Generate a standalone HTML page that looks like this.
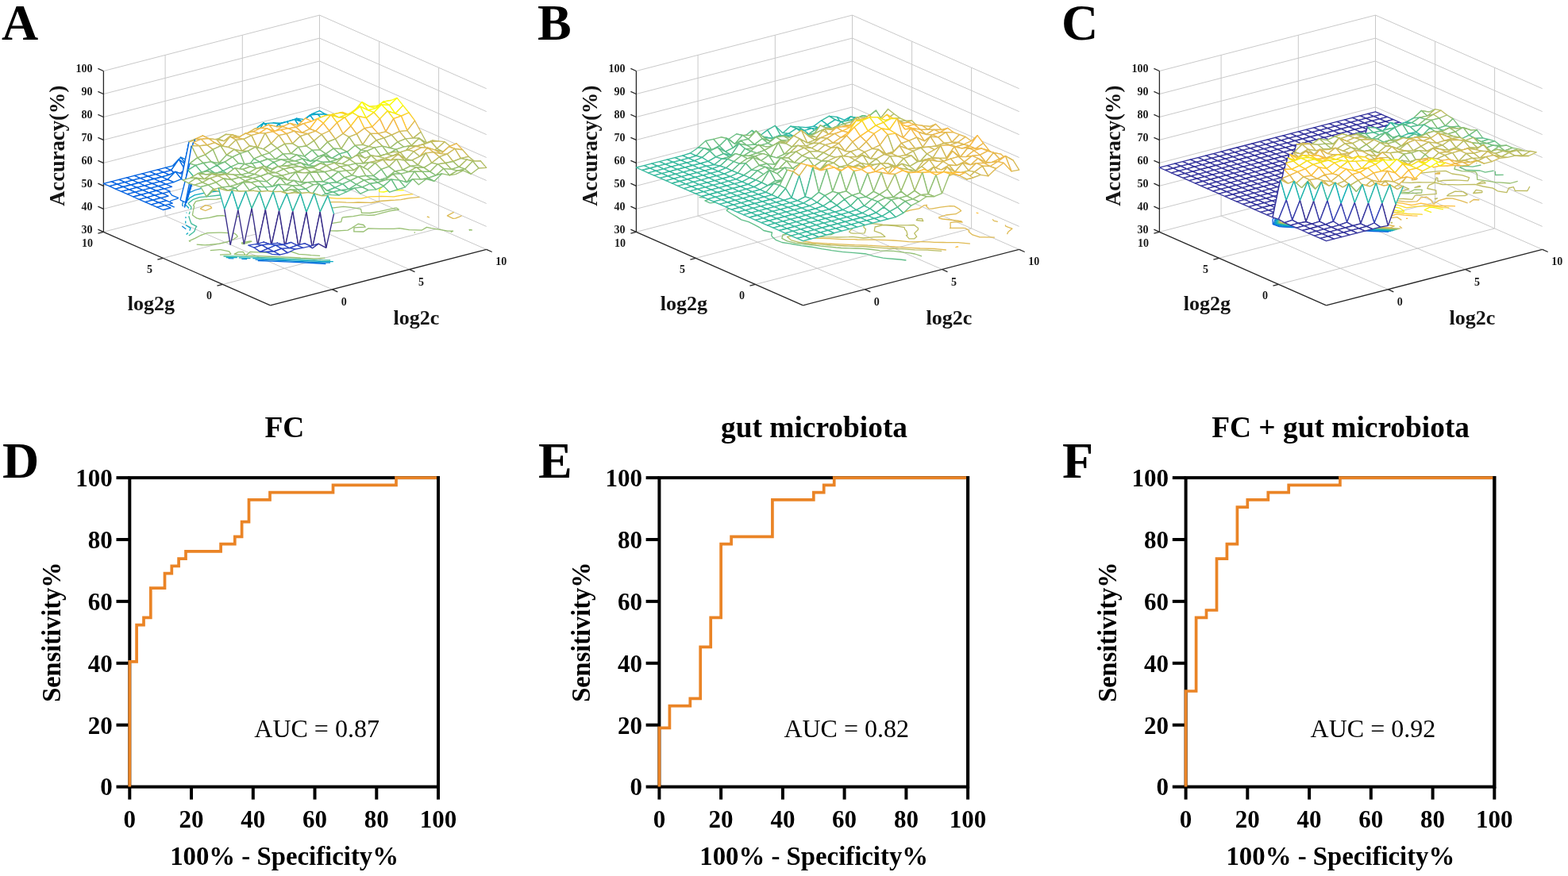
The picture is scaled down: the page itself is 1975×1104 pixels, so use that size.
<!DOCTYPE html>
<html><head><meta charset="utf-8"><title>Figure</title>
<style>
html,body{margin:0;padding:0;background:#fff;}
body{width:1975px;height:1104px;overflow:hidden;}
svg{display:block;}
text{font-family:'Liberation Serif','Times New Roman',serif;}
.rt{font-size:31px;font-weight:bold;}
.rl{font-size:31.5px;font-weight:bold;}
.xl{font-size:32.8px;}
.yl{font-size:32.4px;}
.ttl{font-size:37.4px;font-weight:bold;}
.auc{font-size:32px;}
.let{font-size:64px;font-weight:bold;}
.t3{font-size:14px;font-weight:bold;fill:#1a1a1a;}
.l3{font-size:26px;font-weight:bold;fill:#141414;}
.acc{font-size:26.6px;}
</style></head>
<body>
<svg width="1975" height="1104" viewBox="0 0 1975 1104">
<rect width="1975" height="1104" fill="#fff"/>
<line x1="130.4" y1="292.3" x2="402.5" y2="221.8" stroke="#c9c9c9" stroke-width="1"/>
<line x1="402.5" y1="221.8" x2="612.7" y2="314.4" stroke="#c9c9c9" stroke-width="1"/>
<line x1="130.4" y1="263.3" x2="402.5" y2="192.9" stroke="#c9c9c9" stroke-width="1"/>
<line x1="402.5" y1="192.9" x2="612.7" y2="285.4" stroke="#c9c9c9" stroke-width="1"/>
<line x1="130.4" y1="234.3" x2="402.5" y2="163.9" stroke="#c9c9c9" stroke-width="1"/>
<line x1="402.5" y1="163.9" x2="612.7" y2="256.5" stroke="#c9c9c9" stroke-width="1"/>
<line x1="130.4" y1="205.4" x2="402.5" y2="135.0" stroke="#c9c9c9" stroke-width="1"/>
<line x1="402.5" y1="135.0" x2="612.7" y2="227.5" stroke="#c9c9c9" stroke-width="1"/>
<line x1="130.4" y1="176.4" x2="402.5" y2="106.0" stroke="#c9c9c9" stroke-width="1"/>
<line x1="402.5" y1="106.0" x2="612.7" y2="198.5" stroke="#c9c9c9" stroke-width="1"/>
<line x1="130.4" y1="147.5" x2="402.5" y2="77.0" stroke="#c9c9c9" stroke-width="1"/>
<line x1="402.5" y1="77.0" x2="612.7" y2="169.6" stroke="#c9c9c9" stroke-width="1"/>
<line x1="130.4" y1="118.5" x2="402.5" y2="48.1" stroke="#c9c9c9" stroke-width="1"/>
<line x1="402.5" y1="48.1" x2="612.7" y2="140.6" stroke="#c9c9c9" stroke-width="1"/>
<line x1="130.4" y1="89.5" x2="402.5" y2="19.1" stroke="#c9c9c9" stroke-width="1"/>
<line x1="402.5" y1="19.1" x2="612.7" y2="111.7" stroke="#c9c9c9" stroke-width="1"/>
<line x1="208.1" y1="272.1" x2="208.1" y2="69.4" stroke="#c9c9c9" stroke-width="1"/>
<line x1="305.3" y1="247.0" x2="305.3" y2="44.3" stroke="#c9c9c9" stroke-width="1"/>
<line x1="402.5" y1="221.8" x2="402.5" y2="19.1" stroke="#c9c9c9" stroke-width="1"/>
<line x1="552.6" y1="287.9" x2="552.6" y2="85.2" stroke="#c9c9c9" stroke-width="1"/>
<line x1="477.6" y1="254.9" x2="477.6" y2="52.2" stroke="#c9c9c9" stroke-width="1"/>
<line x1="418.3" y1="364.7" x2="208.1" y2="272.1" stroke="#c9c9c9" stroke-width="1"/>
<line x1="515.5" y1="339.5" x2="305.3" y2="247.0" stroke="#c9c9c9" stroke-width="1"/>
<line x1="280.5" y1="358.4" x2="552.6" y2="287.9" stroke="#c9c9c9" stroke-width="1"/>
<line x1="205.4" y1="325.3" x2="477.6" y2="254.9" stroke="#c9c9c9" stroke-width="1"/>
<g fill="none" stroke-width="1.3" stroke-linejoin="round"><polyline points="324.7,328.5 341.7,329.2 342.1,329.2 358.7,329.9 359.5,329.9 376.0,330.7 376.7,330.7 393.3,331.5 393.9,331.5 410.4,332.5" stroke="#0268e1"/><polyline points="213.3,241.8 216.6,246.2 224.5,249.4 223.9,250.1 215.1,253.0 212.6,257.8 219.7,261.2" stroke="#0268e1"/><polyline points="321.5,327.1 328.9,327.4 338.4,327.8 346.4,328.1 355.5,328.5 363.7,328.8 372.7,329.3 380.9,329.6 390.0,330.1 398.0,330.5 407.5,331.0 416.0,331.0" stroke="#1389d3"/><polyline points="304.3,326.3 311.2,326.7" stroke="#1389d3"/><polyline points="287.5,325.7 294.4,325.8" stroke="#1389d3"/><polyline points="229.3,284.9 234.3,288.7" stroke="#1389d3"/><polyline points="306.3,217.8 313.8,221.1 321.1,224.4 323.2,225.9 312.8,228.1 305.5,228.5 299.9,229.2 298.3,230.3 292.2,232.6 282.1,235.0 276.8,235.9 269.9,236.4 255.4,236.8 246.0,239.5 238.3,242.9 236.2,246.4 234.2,247.9 230.9,253.0 230.8,253.2 229.6,258.6 230.9,260.0" stroke="#1389d3"/><polyline points="318.3,325.7 333.2,326.2 335.2,326.3 350.6,327.0 352.3,327.0 367.9,327.8 369.5,327.8 385.1,328.6 386.8,328.6 402.2,329.4 404.1,329.5 419.8,329.6" stroke="#07a9c3"/><polyline points="300.8,324.8 315.5,325.6" stroke="#07a9c3"/><polyline points="284.7,324.5 298.8,324.6" stroke="#07a9c3"/><polyline points="236.9,293.5 234.6,295.6" stroke="#07a9c3"/><polyline points="234.1,283.7 240.0,287.4 238.8,290.7" stroke="#07a9c3"/><polyline points="233.7,278.5 233.8,281.6" stroke="#07a9c3"/><polyline points="233.7,273.3 234.2,275.0" stroke="#07a9c3"/><polyline points="235.0,267.7 234.8,268.5" stroke="#07a9c3"/><polyline points="455.0,216.0 440.6,216.4 428.9,218.1 418.7,220.2 418.2,220.2 403.9,220.7 393.8,221.4 387.9,220.4 389.1,222.6 383.6,225.3 373.0,227.5 369.0,227.8 358.3,225.3 352.1,225.0 351.4,227.1 347.3,229.7 340.9,233.7 329.2,235.3 316.5,236.5 313.9,236.8 303.3,237.5 289.9,238.4 283.5,239.4 278.7,240.3 266.9,241.9 255.5,243.6 245.1,245.9 238.5,249.8 237.6,251.3 234.1,254.6 233.4,257.6 237.4,261.8 237.2,262.8" stroke="#07a9c3"/><polyline points="421.4,208.0 408.2,209.0 406.1,212.9 418.5,215.0 422.2,215.2 423.2,213.8 425.1,209.6 423.9,208.3 421.4,208.0" stroke="#07a9c3"/><polyline points="417.9,199.7 419.8,204.1 427.9,204.1" stroke="#07a9c3"/><polyline points="326.5,213.8 329.3,217.1 337.5,218.6 337.4,215.0 326.5,213.8" stroke="#07a9c3"/><polyline points="331.9,211.2 335.3,210.9 337.4,209.7" stroke="#07a9c3"/><polyline points="281.5,323.0 284.9,323.0 296.6,322.9 304.1,323.3 314.2,323.9 320.8,324.2 331.2,324.6 338.4,324.9 348.4,325.3 355.9,325.6 365.5,326.1 373.0,326.4 382.8,326.9 390.2,327.2 400.1,327.7 407.8,327.9 416.1,328.0" stroke="#3eba9a"/><polyline points="237.7,272.3 239.2,277.1 239.2,277.3 241.0,281.9 247.7,285.4 246.4,287.2 245.0,291.3 243.6,292.8 237.9,297.1" stroke="#3eba9a"/><polyline points="466.1,220.9 452.8,221.8 452.8,221.8 439.8,222.9 430.0,225.3 416.8,226.4 414.8,226.4 401.3,226.3 392.7,229.3 381.6,231.2 373.0,232.0 368.5,232.3 357.7,234.3 347.8,236.8 336.2,238.4 323.6,239.7 322.4,239.8 311.4,241.1 299.7,242.7 288.6,244.7 279.9,245.6 276.1,246.0 264.1,247.4 251.2,248.6 242.8,251.7 237.4,256.1 237.3,256.6 241.0,260.9 240.3,264.1" stroke="#3eba9a"/><polyline points="239.2,266.6 238.2,270.0" stroke="#3eba9a"/><polyline points="243.4,265.5 242.4,271.0 245.0,273.0 247.7,274.9 251.7,276.0 263.5,274.4 273.6,272.0 280.6,271.6 291.3,274.1 293.9,274.2 304.4,272.0 317.1,270.8 327.9,269.9 330.8,270.0 341.0,267.7 355.3,267.2 365.1,265.5 366.5,265.4 379.1,264.1 391.9,262.9 398.7,262.1 404.2,261.6 420.1,261.8 420.1,261.8 432.3,260.4 442.3,261.3 454.5,263.4 455.6,268.3 466.1,268.5 477.6,266.7 487.5,264.3 497.9,262.1 499.8,262.2 502.3,264.0 491.1,265.9 481.3,268.3 472.0,271.0 464.3,271.3 455.5,270.6 444.9,272.7 435.7,273.5 432.0,273.8 430.9,274.7 429.7,279.6 418.4,281.4 404.5,282.1 401.0,287.4 386.8,287.9 374.9,289.5 370.5,290.4 373.9,289.0 371.6,284.8 363.9,284.6 350.1,285.3 348.3,290.9 363.7,292.1 367.9,296.3 374.8,296.2 386.0,296.9 391.9,296.9 400.3,293.8 407.5,291.3 403.8,288.6 410.3,290.6 424.7,291.0 430.1,290.7 438.1,290.1 443.3,287.3 444.7,286.2 451.0,282.2 457.9,283.5 460.1,286.2 446.0,286.8 445.8,291.9 457.9,292.0 463.9,287.9 479.8,288.3 480.4,288.3 495.9,288.4 502.9,287.6 513.4,289.3 515.4,289.6 531.0,290.2 537.6,286.4 543.3,287.6 555.4,289.7 564.2,291.2 570.6,291.1 567.7,292.8" stroke="#97bf71"/><polyline points="591.8,290.8 591.1,289.5 594.8,290.0" stroke="#97bf71"/><polyline points="403.1,322.3 391.9,321.6 384.5,320.8 376.4,320.3 367.6,317.3 360.9,317.3 349.5,319.0 341.7,318.8 332.2,318.2 325.1,317.8 314.9,317.4 310.0,321.8 326.7,322.7 327.0,322.7 343.8,323.5 344.3,323.5 361.0,324.1 361.8,324.1 378.4,325.0 378.6,325.1 395.7,325.8 395.8,325.8 409.5,325.1" stroke="#97bf71"/><polyline points="521.7,292.9 522.1,293.1 522.1,293.1 522.5,293.0 521.7,292.9" stroke="#97bf71"/><polyline points="300.0,317.6 295.1,320.4 309.1,321.6 306.3,317.5 300.0,317.6" stroke="#97bf71"/><polyline points="277.0,321.1 290.9,320.4 288.6,316.8 277.9,314.7 276.8,314.6 264.8,315.7" stroke="#97bf71"/><polyline points="315.3,303.9 304.5,306.0 304.9,307.3 307.5,307.3 316.5,304.5 316.9,304.2 315.3,303.9" stroke="#97bf71"/><polyline points="321.3,286.2 320.7,287.5 321.6,292.5 329.3,295.8 345.4,296.9 345.5,296.9 345.5,296.8 347.1,291.2 339.0,288.0 325.3,286.3 321.3,286.2" stroke="#97bf71"/><polyline points="247.7,308.2 258.2,308.9 263.8,308.5 276.4,307.2 286.6,304.9 294.2,301.5 299.2,298.3 298.3,296.5 295.3,294.1 292.4,293.9 278.8,293.1 275.5,293.2 261.1,293.7 252.5,296.7 245.6,300.4 238.3,303.6 239.7,304.7" stroke="#97bf71"/><polyline points="472.7,223.8 460.4,225.1 460.3,225.1 447.7,226.4 436.9,228.4 424.3,229.6 421.2,230.0 411.0,230.6 400.4,232.7 388.4,234.2 382.0,234.9 376.0,235.6 365.6,237.8 354.1,239.5 342.4,241.2 335.2,241.8 329.6,242.3 317.8,243.9 307.6,246.2 297.2,248.4 288.6,248.6 283.0,249.0 272.7,251.2 257.6,251.4 257.6,251.4 247.2,253.6 246.2,254.3 243.5,258.8 244.6,260.0 243.4,265.5" stroke="#97bf71"/><polyline points="571.7,267.4 564.7,271.1 563.4,271.9 570.6,275.3 573.7,275.1 578.9,273.2 581.5,271.7" stroke="#dcba54"/><polyline points="538.1,273.0 538.2,273.2 540.5,274.0 538.8,273.1 538.1,273.0" stroke="#dcba54"/><polyline points="478.1,226.1 476.4,226.2 465.3,227.3 453.5,228.9 442.7,231.0 435.5,231.6 429.8,232.1 418.4,233.8 407.4,235.8 396.3,237.7 389.5,238.2 383.4,238.8 374.4,241.6 362.3,243.1 350.6,244.8 343.6,244.8 337.2,245.7 325.9,247.5 317.7,250.7 309.0,253.6 306.8,254.4 312.7,258.1 317.4,257.3 331.1,258.6 337.3,259.3 347.1,259.7 353.6,259.7 364.3,257.6 377.2,256.5 381.9,255.9 389.1,254.9 404.1,255.4 405.7,255.4 419.5,254.7 427.3,254.7 436.0,255.2 445.2,255.3 451.0,255.0 465.6,255.3 467.6,255.5 478.5,253.5 491.6,252.5 497.8,252.2 504.9,251.6 515.8,249.6 528.7,248.4" stroke="#dcba54"/><polyline points="258.6,258.6 252.5,262.7 252.6,263.2 258.8,265.5 266.6,262.1 265.2,259.9 258.6,258.6" stroke="#dcba54"/><polyline points="484.9,229.1 472.1,230.3 459.5,231.5 449.3,233.3 448.3,233.4 447.0,233.8 439.6,236.4 434.5,237.1 427.8,238.0 416.9,240.0 406.7,242.3 400.6,245.8 408.9,248.9 424.5,250.1 424.5,250.1 439.6,250.0 444.4,250.2 455.3,250.1 465.7,247.9 474.8,247.6 480.1,247.4 494.6,247.8 496.3,247.8 507.5,245.9 520.2,244.7" stroke="#fbcf2d"/><polyline points="492.1,232.3 482.5,234.9 481.2,235.5 477.5,239.5 477.9,241.6 483.1,242.0 493.2,239.6 505.2,239.8 508.8,239.7" stroke="#f9fb0e"/></g>
<line x1="130.4" y1="292.3" x2="130.4" y2="89.5" stroke="#262626" stroke-width="1.3"/>
<line x1="130.4" y1="292.3" x2="340.5" y2="384.8" stroke="#262626" stroke-width="1.3"/>
<line x1="340.5" y1="384.8" x2="612.7" y2="314.4" stroke="#262626" stroke-width="1.3"/>
<line x1="130.4" y1="292.3" x2="123.4" y2="289.2" stroke="#262626" stroke-width="1.3"/>
<text x="116.4" y="294.1" text-anchor="end" class="t3">30</text>
<line x1="130.4" y1="263.3" x2="123.4" y2="260.2" stroke="#262626" stroke-width="1.3"/>
<text x="116.4" y="265.1" text-anchor="end" class="t3">40</text>
<line x1="130.4" y1="234.3" x2="123.4" y2="231.2" stroke="#262626" stroke-width="1.3"/>
<text x="116.4" y="236.1" text-anchor="end" class="t3">50</text>
<line x1="130.4" y1="205.4" x2="123.4" y2="202.3" stroke="#262626" stroke-width="1.3"/>
<text x="116.4" y="207.2" text-anchor="end" class="t3">60</text>
<line x1="130.4" y1="176.4" x2="123.4" y2="173.3" stroke="#262626" stroke-width="1.3"/>
<text x="116.4" y="178.2" text-anchor="end" class="t3">70</text>
<line x1="130.4" y1="147.5" x2="123.4" y2="144.4" stroke="#262626" stroke-width="1.3"/>
<text x="116.4" y="149.3" text-anchor="end" class="t3">80</text>
<line x1="130.4" y1="118.5" x2="123.4" y2="115.4" stroke="#262626" stroke-width="1.3"/>
<text x="116.4" y="120.3" text-anchor="end" class="t3">90</text>
<line x1="130.4" y1="89.5" x2="123.4" y2="86.4" stroke="#262626" stroke-width="1.3"/>
<text x="116.4" y="91.3" text-anchor="end" class="t3">100</text>
<line x1="280.5" y1="358.4" x2="273.5" y2="360.2" stroke="#262626" stroke-width="1.3"/>
<text x="267.0" y="376.8" text-anchor="end" class="t3">0</text>
<line x1="205.4" y1="325.3" x2="198.4" y2="327.1" stroke="#262626" stroke-width="1.3"/>
<text x="191.9" y="343.7" text-anchor="end" class="t3">5</text>
<line x1="130.4" y1="292.3" x2="123.4" y2="294.1" stroke="#262626" stroke-width="1.3"/>
<text x="116.9" y="310.7" text-anchor="end" class="t3">10</text>
<line x1="418.3" y1="364.7" x2="425.3" y2="367.8" stroke="#262626" stroke-width="1.3"/>
<text x="429.8" y="384.7" class="t3">0</text>
<line x1="515.5" y1="339.5" x2="522.5" y2="342.6" stroke="#262626" stroke-width="1.3"/>
<text x="527.0" y="359.5" class="t3">5</text>
<line x1="612.7" y1="314.4" x2="619.7" y2="317.5" stroke="#262626" stroke-width="1.3"/>
<text x="624.2" y="334.4" class="t3">10</text>
<text x="190.3" y="390.8" text-anchor="middle" class="l3">log2g</text>
<text x="524.5" y="408.9" text-anchor="middle" class="l3">log2c</text>
<text transform="translate(80.5,183.8) rotate(-90)" text-anchor="middle" class="l3 acc">Accuracy(%)</text>
<text x="2.0" y="49.5" class="let">A</text>
<g fill="#fff" stroke-width="1.35" stroke-linejoin="round"><polygon points="400.3,144.2 410.0,144.0 402.5,139.6 392.8,143.6" stroke="#06a7c5"/><polygon points="390.6,145.1 400.3,144.2 392.8,143.6 383.1,150.7" stroke="#06a6c7"/><polygon points="407.8,152.3 417.5,145.8 410.0,144.0 400.3,144.2" stroke="#06a6c6"/><polygon points="380.9,153.7 390.6,145.1 383.1,150.7 373.4,149.1" stroke="#06a3ca"/><polygon points="398.1,155.8 407.8,152.3 400.3,144.2 390.6,145.1" stroke="#06a6c7"/><polygon points="415.3,154.4 425.0,145.1 417.5,145.8 407.8,152.3" stroke="#06a7c5"/><polygon points="371.1,150.5 380.9,153.7 373.4,149.1 363.6,156.4" stroke="#06a3cb"/><polygon points="388.4,156.4 398.1,155.8 390.6,145.1 380.9,153.7" stroke="#06a4ca"/><polygon points="405.6,153.9 415.3,154.4 407.8,152.3 398.1,155.8" stroke="#06a2cb"/><polygon points="361.4,153.4 371.1,150.5 363.6,156.4 353.9,155.2" stroke="#06a5c8"/><polygon points="422.8,154.0 432.5,156.9 425.0,145.1 415.3,154.4" stroke="#06a8c4"/><polygon points="378.6,161.7 388.4,156.4 380.9,153.7 371.1,150.5" stroke="#06a3ca"/><polygon points="395.9,160.9 405.6,153.9 398.1,155.8 388.4,156.4" stroke="#06a2cb"/><polygon points="413.1,153.7 422.8,154.0 415.3,154.4 405.6,153.9" stroke="#08aac1"/><polygon points="351.7,156.3 361.4,153.4 353.9,155.2 344.2,154.9" stroke="#06a8c3"/><polygon points="430.3,157.3 440.0,157.8 432.5,156.9 422.8,154.0" stroke="#06a6c6"/><polygon points="368.9,162.8 378.6,161.7 371.1,150.5 361.4,153.4" stroke="#06a5c8"/><polygon points="386.2,161.5 395.9,160.9 388.4,156.4 378.6,161.7" stroke="#06a0cd"/><polygon points="403.4,160.7 413.1,153.7 405.6,153.9 395.9,160.9" stroke="#06a8c4"/><polygon points="342.0,164.8 351.7,156.3 344.2,154.9 334.5,155.6" stroke="#06a7c5"/><polygon points="359.2,170.8 368.9,162.8 361.4,153.4 351.7,156.3" stroke="#06a2cb"/><polygon points="420.6,160.3 430.3,157.3 422.8,154.0 413.1,153.7" stroke="#0aacbe"/><polygon points="437.8,169.3 447.6,163.0 440.0,157.8 430.3,157.3" stroke="#06a1cc"/><polygon points="376.4,161.3 386.2,161.5 378.6,161.7 368.9,162.8" stroke="#06a2cc"/><polygon points="393.7,163.2 403.4,160.7 395.9,160.9 386.2,161.5" stroke="#06a4c9"/><polygon points="332.3,154.9 342.0,164.8 334.5,155.6 324.8,160.3" stroke="#08abc0"/><polygon points="349.5,168.5 359.2,170.8 351.7,156.3 342.0,164.8" stroke="#079dcf"/><polygon points="410.9,163.5 420.6,160.3 413.1,153.7 403.4,160.7" stroke="#08abc0"/><polygon points="366.7,169.0 376.4,161.3 368.9,162.8 359.2,170.8" stroke="#079dcf"/><polygon points="428.1,166.9 437.8,169.3 430.3,157.3 420.6,160.3" stroke="#06a4ca"/><polygon points="445.3,156.5 455.1,164.3 447.6,163.0 437.8,169.3" stroke="#06a6c7"/><polygon points="383.9,164.6 393.7,163.2 386.2,161.5 376.4,161.3" stroke="#06a8c4"/><polygon points="322.5,169.4 332.3,154.9 324.8,160.3 315.0,168.4" stroke="#06a7c6"/><polygon points="401.2,172.5 410.9,163.5 403.4,160.7 393.7,163.2" stroke="#06a4c9"/><polygon points="339.8,165.9 349.5,168.5 342.0,164.8 332.3,154.9" stroke="#06a8c4"/><polygon points="357.0,168.0 366.7,169.0 359.2,170.8 349.5,168.5" stroke="#079bd0"/><polygon points="418.4,168.5 428.1,166.9 420.6,160.3 410.9,163.5" stroke="#06a7c6"/><polygon points="312.8,180.4 322.5,169.4 315.0,168.4 305.3,175.5" stroke="#108ed2"/><polygon points="374.2,173.0 383.9,164.6 376.4,161.3 366.7,169.0" stroke="#06a4ca"/><polygon points="435.6,158.3 445.3,156.5 437.8,169.3 428.1,166.9" stroke="#0bacbd"/><polygon points="391.4,166.7 401.2,172.5 393.7,163.2 383.9,164.6" stroke="#06a6c7"/><polygon points="330.1,173.9 339.8,165.9 332.3,154.9 322.5,169.4" stroke="#06a8c4"/><polygon points="303.1,181.3 312.8,180.4 305.3,175.5 295.6,180.0" stroke="#1483d5"/><polygon points="452.8,158.9 462.6,161.7 455.1,164.3 445.3,156.5" stroke="#1ab2b1"/><polygon points="408.7,164.7 418.4,168.5 410.9,163.5 401.2,172.5" stroke="#06a7c6"/><polygon points="347.3,170.4 357.0,168.0 349.5,168.5 339.8,165.9" stroke="#06a5c8"/><polygon points="364.5,170.9 374.2,173.0 366.7,169.0 357.0,168.0" stroke="#06a2cc"/><polygon points="320.3,183.0 330.1,173.9 322.5,169.4 312.8,180.4" stroke="#108fd2"/><polygon points="425.9,167.2 435.6,158.3 428.1,166.9 418.4,168.5" stroke="#0bacbd"/><polygon points="381.7,176.5 391.4,166.7 383.9,164.6 374.2,173.0" stroke="#06a4ca"/><polygon points="293.4,184.5 303.1,181.3 295.6,180.0 285.9,185.1" stroke="#1480d6"/><polygon points="337.6,179.4 347.3,170.4 339.8,165.9 330.1,173.9" stroke="#06a1cd"/><polygon points="398.9,162.4 408.7,164.7 401.2,172.5 391.4,166.7" stroke="#0cadbb"/><polygon points="443.1,159.6 452.8,158.9 445.3,156.5 435.6,158.3" stroke="#39b99d"/><polygon points="310.6,184.1 320.3,183.0 312.8,180.4 303.1,181.3" stroke="#1484d4"/><polygon points="354.8,169.8 364.5,170.9 357.0,168.0 347.3,170.4" stroke="#07a9c3"/><polygon points="416.2,165.3 425.9,167.2 418.4,168.5 408.7,164.7" stroke="#10afb8"/><polygon points="372.0,176.7 381.7,176.5 374.2,173.0 364.5,170.9" stroke="#06a0cd"/><polygon points="460.3,153.0 470.1,156.2 462.6,161.7 452.8,158.9" stroke="#47bb95"/><polygon points="327.8,185.1 337.6,179.4 330.1,173.9 320.3,183.0" stroke="#118dd2"/><polygon points="283.7,191.3 293.4,184.5 285.9,185.1 276.2,182.1" stroke="#137ed7"/><polygon points="433.4,160.4 443.1,159.6 435.6,158.3 425.9,167.2" stroke="#35b89f"/><polygon points="389.2,167.4 398.9,162.4 391.4,166.7 381.7,176.5" stroke="#10afb8"/><polygon points="300.9,184.6 310.6,184.1 303.1,181.3 293.4,184.5" stroke="#1387d3"/><polygon points="345.1,175.5 354.8,169.8 347.3,170.4 337.6,179.4" stroke="#06a5c8"/><polygon points="318.1,186.7 327.8,185.1 320.3,183.0 310.6,184.1" stroke="#1486d3"/><polygon points="362.3,175.8 372.0,176.7 364.5,170.9 354.8,169.8" stroke="#06a8c4"/><polygon points="450.6,148.5 460.3,153.0 452.8,158.9 443.1,159.6" stroke="#74bf7f"/><polygon points="273.9,191.1 283.7,191.3 276.2,182.1 266.4,182.9" stroke="#1483d5"/><polygon points="406.5,156.6 416.2,165.3 408.7,164.7 398.9,162.4" stroke="#3cba9b"/><polygon points="335.3,185.6 345.1,175.5 337.6,179.4 327.8,185.1" stroke="#0a96d1"/><polygon points="379.5,172.2 389.2,167.4 381.7,176.5 372.0,176.7" stroke="#08aac1"/><polygon points="291.2,190.2 300.9,184.6 293.4,184.5 283.7,191.3" stroke="#1482d5"/><polygon points="423.7,157.8 433.4,160.4 425.9,167.2 416.2,165.3" stroke="#3fba9a"/><polygon points="467.9,135.9 477.6,143.0 470.1,156.2 460.3,153.0" stroke="none"/><path d="M467.9 135.9L477.6 143.0" stroke="#d5ba57"/><path d="M477.6 143.0L470.1 156.2" stroke="#55bd8d"/><path d="M470.1 156.2L460.3 153.0" stroke="#55bd8d"/><path d="M460.3 153.0L467.9 135.9" stroke="#89bf76"/><polygon points="308.4,189.3 318.1,186.7 310.6,184.1 300.9,184.6" stroke="#128ad3"/><polygon points="352.6,175.2 362.3,175.8 354.8,169.8 345.1,175.5" stroke="#0aacbe"/><polygon points="264.2,195.1 273.9,191.1 266.4,182.9 256.7,189.6" stroke="#1482d5"/><polygon points="396.7,166.8 406.5,156.6 398.9,162.4 389.2,167.4" stroke="#48bb94"/><polygon points="440.9,152.0 450.6,148.5 443.1,159.6 433.4,160.4" stroke="#89bf76"/><polygon points="325.6,186.4 335.3,185.6 327.8,185.1 318.1,186.7" stroke="#108ed2"/><polygon points="281.5,195.1 291.2,190.2 283.7,191.3 273.9,191.1" stroke="#137dd8"/><polygon points="369.8,165.7 379.5,172.2 372.0,176.7 362.3,175.8" stroke="#13b0b6"/><polygon points="414.0,156.3 423.7,157.8 416.2,165.3 406.5,156.6" stroke="#77bf7e"/><polygon points="298.7,187.9 308.4,189.3 300.9,184.6 291.2,190.2" stroke="#118dd2"/><polygon points="342.8,181.4 352.6,175.2 345.1,175.5 335.3,185.6" stroke="#06a6c7"/><polygon points="254.5,193.0 264.2,195.1 256.7,189.6 247.0,195.6" stroke="#137ed7"/><polygon points="458.1,136.1 467.9,135.9 460.3,153.0 450.6,148.5" stroke="none"/><path d="M458.1 136.1L467.9 135.9" stroke="#fec832"/><path d="M467.9 135.9L460.3 153.0" stroke="#89bf76"/><path d="M460.3 153.0L450.6 148.5" stroke="#89bf76"/><path d="M450.6 148.5L458.1 136.1" stroke="#bdbd61"/><polygon points="387.0,159.8 396.7,166.8 389.2,167.4 379.5,172.2" stroke="#42bb98"/><polygon points="315.9,183.9 325.6,186.4 318.1,186.7 308.4,189.3" stroke="#0b96d1"/><polygon points="271.7,195.6 281.5,195.1 273.9,191.1 264.2,195.1" stroke="#137ed7"/><polygon points="431.2,141.5 440.9,152.0 433.4,160.4 423.7,157.8" stroke="none"/><path d="M431.2 141.5L440.9 152.0" stroke="#b6bd64"/><path d="M440.9 152.0L433.4 160.4" stroke="#56bd8d"/><path d="M433.4 160.4L423.7 157.8" stroke="#56bd8d"/><path d="M423.7 157.8L431.2 141.5" stroke="#85bf78"/><polygon points="360.1,168.1 369.8,165.7 362.3,175.8 352.6,175.2" stroke="#2bb6a6"/><polygon points="475.4,133.5 485.1,136.1 477.6,143.0 467.9,135.9" stroke="#fec535"/><polygon points="333.1,178.8 342.8,181.4 335.3,185.6 325.6,186.4" stroke="#06a3ca"/><polygon points="404.2,153.5 414.0,156.3 406.5,156.6 396.7,166.8" stroke="#92bf73"/><polygon points="289.0,182.5 298.7,187.9 291.2,190.2 281.5,195.1" stroke="#0c93d2"/><polygon points="244.8,195.1 254.5,193.0 247.0,195.6 237.3,202.3" stroke="#127cd8"/><polygon points="448.4,137.5 458.1,136.1 450.6,148.5 440.9,152.0" stroke="none"/><path d="M448.4 137.5L458.1 136.1" stroke="#fad22a"/><path d="M458.1 136.1L450.6 148.5" stroke="#bdbd61"/><path d="M450.6 148.5L440.9 152.0" stroke="#b6bd64"/><path d="M440.9 152.0L448.4 137.5" stroke="#b6bd64"/><polygon points="377.3,160.8 387.0,159.8 379.5,172.2 369.8,165.7" stroke="#6abe83"/><polygon points="306.2,182.0 315.9,183.9 308.4,189.3 298.7,187.9" stroke="#06a1cd"/><polygon points="262.0,190.2 271.7,195.6 264.2,195.1 254.5,193.0" stroke="#1388d3"/><polygon points="350.4,170.8 360.1,168.1 352.6,175.2 342.8,181.4" stroke="#2ab6a6"/><polygon points="421.5,145.3 431.2,141.5 423.7,157.8 414.0,156.3" stroke="none"/><path d="M421.5 145.3L431.2 141.5" stroke="#fdbe3d"/><path d="M431.2 141.5L423.7 157.8" stroke="#85bf78"/><path d="M423.7 157.8L414.0 156.3" stroke="#85bf78"/><path d="M414.0 156.3L421.5 145.3" stroke="#a4be6b"/><polygon points="235.1,208.2 244.8,195.1 237.3,202.3 227.6,198.1" stroke="#0e76dc"/><polygon points="394.5,156.4 404.2,153.5 396.7,166.8 387.0,159.8" stroke="#9fbe6d"/><polygon points="465.6,134.4 475.4,133.5 467.9,135.9 458.1,136.1" stroke="#f7d826"/><polygon points="279.2,185.0 289.0,182.5 281.5,195.1 271.7,195.6" stroke="#089ad0"/><polygon points="323.4,176.3 333.1,178.8 325.6,186.4 315.9,183.9" stroke="#0aacbd"/><polygon points="438.7,144.5 448.4,137.5 440.9,152.0 431.2,141.5" stroke="none"/><path d="M438.7 144.5L448.4 137.5" stroke="#ffc436"/><path d="M448.4 137.5L440.9 152.0" stroke="#b6bd64"/><path d="M440.9 152.0L431.2 141.5" stroke="#b6bd64"/><path d="M431.2 141.5L438.7 144.5" stroke="#ffc337"/><polygon points="367.6,163.5 377.3,160.8 369.8,165.7 360.1,168.1" stroke="#81bf79"/><polygon points="482.9,128.2 492.6,126.5 485.1,136.1 475.4,133.5" stroke="#f6f015"/><polygon points="252.3,193.1 262.0,190.2 254.5,193.0 244.8,195.1" stroke="#0c94d2"/><polygon points="296.5,181.7 306.2,182.0 298.7,187.9 289.0,182.5" stroke="#09abbf"/><polygon points="340.6,169.6 350.4,170.8 342.8,181.4 333.1,178.8" stroke="none"/><path d="M340.6 169.6L350.4 170.8" stroke="#5bbd8a"/><path d="M350.4 170.8L342.8 181.4" stroke="#06a8c4"/><path d="M342.8 181.4L333.1 178.8" stroke="#06a8c4"/><path d="M333.1 178.8L340.6 169.6" stroke="#18b2b2"/><polygon points="411.7,146.6 421.5,145.3 414.0,156.3 404.2,153.5" stroke="#dfba53"/><polygon points="225.3,200.8 235.1,208.2 227.6,198.1 217.8,208.8" stroke="#0c75dc"/><polygon points="269.5,186.8 279.2,185.0 271.7,195.6 262.0,190.2" stroke="#06a2cb"/><polygon points="455.9,128.6 465.6,134.4 458.1,136.1 448.4,137.5" stroke="#f5e81a"/><polygon points="384.8,149.1 394.5,156.4 387.0,159.8 377.3,160.8" stroke="#c2bc5f"/><polygon points="313.7,176.5 323.4,176.3 315.9,183.9 306.2,182.0" stroke="#20b4ad"/><polygon points="429.0,142.0 438.7,144.5 431.2,141.5 421.5,145.3" stroke="#fec733"/><polygon points="242.6,191.4 252.3,193.1 244.8,195.1 235.1,208.2" stroke="none"/><path d="M242.6 191.4L252.3 193.1" stroke="#079ecf"/><path d="M252.3 193.1L244.8 195.1" stroke="#138ad3"/><path d="M244.8 195.1L235.1 208.2" stroke="#0268e1"/><path d="M235.1 208.2L242.6 191.4" stroke="#0268e1"/><polygon points="357.9,159.0 367.6,163.5 360.1,168.1 350.4,170.8" stroke="#8fbf74"/><polygon points="473.1,136.6 482.9,128.2 475.4,133.5 465.6,134.4" stroke="#f6f213"/><polygon points="215.6,214.6 225.3,200.8 217.8,208.8 208.1,211.3" stroke="#046de0"/><polygon points="286.7,184.2 296.5,181.7 289.0,182.5 279.2,185.0" stroke="#15b0b5"/><polygon points="402.0,149.6 411.7,146.6 404.2,153.5 394.5,156.4" stroke="#e7b94f"/><polygon points="330.9,166.8 340.6,169.6 333.1,178.8 323.4,176.3" stroke="none"/><path d="M330.9 166.8L340.6 169.6" stroke="#7dbf7b"/><path d="M340.6 169.6L333.1 178.8" stroke="#18b2b2"/><path d="M333.1 178.8L323.4 176.3" stroke="#18b2b2"/><path d="M323.4 176.3L330.9 166.8" stroke="#3bb99c"/><polygon points="446.2,141.4 455.9,128.6 448.4,137.5 438.7,144.5" stroke="#f5e11f"/><polygon points="490.4,132.7 500.1,123.4 492.6,126.5 482.9,128.2" stroke="#f9fb0e"/><polygon points="259.8,187.7 269.5,186.8 262.0,190.2 252.3,193.1" stroke="#06a8c4"/><polygon points="375.1,158.1 384.8,149.1 377.3,160.8 367.6,163.5" stroke="#cabb5c"/><polygon points="232.9,214.0 242.6,191.4 235.1,208.2 225.3,200.8" stroke="none"/><path d="M232.9 214.0L242.6 191.4" stroke="#0268e1"/><path d="M242.6 191.4L235.1 208.2" stroke="#0268e1"/><path d="M235.1 208.2L225.3 200.8" stroke="#0268e1"/><path d="M225.3 200.8L232.9 214.0" stroke="#0268e1"/><polygon points="304.0,175.9 313.7,176.5 306.2,182.0 296.5,181.7" stroke="#36b99f"/><polygon points="419.2,144.1 429.0,142.0 421.5,145.3 411.7,146.6" stroke="#fccd2e"/><polygon points="205.9,217.1 215.6,214.6 208.1,211.3 198.4,213.8" stroke="#0462e0"/><polygon points="463.4,138.9 473.1,136.6 465.6,134.4 455.9,128.6" stroke="#f8f90f"/><polygon points="348.1,159.7 357.9,159.0 350.4,170.8 340.6,169.6" stroke="#a7be6a"/><polygon points="277.0,182.6 286.7,184.2 279.2,185.0 269.5,186.8" stroke="#1bb2b0"/><polygon points="392.3,153.0 402.0,149.6 394.5,156.4 384.8,149.1" stroke="#f4ba48"/><polygon points="436.5,144.4 446.2,141.4 438.7,144.5 429.0,142.0" stroke="#f8d627"/><polygon points="223.1,221.4 232.9,214.0 225.3,200.8 215.6,214.6" stroke="#036be0"/><polygon points="480.6,131.9 490.4,132.7 482.9,128.2 473.1,136.6" stroke="#f9fb0e"/><polygon points="321.2,162.2 330.9,166.8 323.4,176.3 313.7,176.5" stroke="none"/><path d="M321.2 162.2L330.9 166.8" stroke="#a7be6a"/><path d="M330.9 166.8L323.4 176.3" stroke="#3bb99c"/><path d="M323.4 176.3L313.7 176.5" stroke="#3bb99c"/><path d="M313.7 176.5L321.2 162.2" stroke="#4ebc91"/><polygon points="365.4,155.5 375.1,158.1 367.6,163.5 357.9,159.0" stroke="#d3bb58"/><polygon points="250.1,185.8 259.8,187.7 252.3,193.1 242.6,191.4" stroke="#0cadbc"/><polygon points="497.9,143.2 507.6,132.9 500.1,123.4 490.4,132.7" stroke="#f9fb0e"/><polygon points="294.2,177.6 304.0,175.9 296.5,181.7 286.7,184.2" stroke="#44bb97"/><polygon points="196.2,219.7 205.9,217.1 198.4,213.8 188.7,216.4" stroke="#0462e0"/><polygon points="409.5,145.9 419.2,144.1 411.7,146.6 402.0,149.6" stroke="#fbcf2d"/><polygon points="453.7,134.2 463.4,138.9 455.9,128.6 446.2,141.4" stroke="#f9fb0e"/><polygon points="213.4,220.4 223.1,221.4 215.6,214.6 205.9,217.1" stroke="#0d5dde"/><polygon points="338.4,157.1 348.1,159.7 340.6,169.6 330.9,166.8" stroke="none"/><path d="M338.4 157.1L348.1 159.7" stroke="#dcba54"/><path d="M348.1 159.7L340.6 169.6" stroke="#7dbf7b"/><path d="M340.6 169.6L330.9 166.8" stroke="#7dbf7b"/><path d="M330.9 166.8L338.4 157.1" stroke="#a7be6a"/><polygon points="382.6,155.7 392.3,153.0 384.8,149.1 375.1,158.1" stroke="#f7ba45"/><polygon points="470.9,141.7 480.6,131.9 473.1,136.6 463.4,138.9" stroke="#f9fb0e"/><polygon points="267.3,182.8 277.0,182.6 269.5,186.8 259.8,187.7" stroke="#29b6a7"/><polygon points="426.8,148.1 436.5,144.4 429.0,142.0 419.2,144.1" stroke="#f7da24"/><polygon points="240.4,186.9 250.1,185.8 242.6,191.4 232.9,214.0" stroke="none"/><path d="M240.4 186.9L250.1 185.8" stroke="#32b8a1"/><path d="M250.1 185.8L242.6 191.4" stroke="#06a8c4"/><path d="M242.6 191.4L232.9 214.0" stroke="#0268e1"/><path d="M232.9 214.0L240.4 186.9" stroke="#0268e1"/><polygon points="311.5,167.9 321.2,162.2 313.7,176.5 304.0,175.9" stroke="none"/><path d="M311.5 167.9L321.2 162.2" stroke="#c2bc5f"/><path d="M321.2 162.2L313.7 176.5" stroke="#4ebc91"/><path d="M313.7 176.5L304.0 175.9" stroke="#4ebc91"/><path d="M304.0 175.9L311.5 167.9" stroke="#6bbf83"/><polygon points="488.2,139.8 497.9,143.2 490.4,132.7 480.6,131.9" stroke="#f9fb0e"/><polygon points="505.4,146.2 515.1,142.0 507.6,132.9 497.9,143.2" stroke="#f6f015"/><polygon points="355.6,159.7 365.4,155.5 357.9,159.0 348.1,159.7" stroke="#e6b950"/><polygon points="399.8,149.6 409.5,145.9 402.0,149.6 392.3,153.0" stroke="#fccd2e"/><polygon points="186.5,222.2 196.2,219.7 188.7,216.4 179.0,218.9" stroke="#0462e0"/><polygon points="230.6,219.8 240.4,186.9 232.9,214.0 223.1,221.4" stroke="none"/><path d="M230.6 219.8L240.4 186.9" stroke="#0268e1"/><path d="M240.4 186.9L232.9 214.0" stroke="#0268e1"/><path d="M232.9 214.0L223.1 221.4" stroke="#2a4cc9"/><path d="M223.1 221.4L230.6 219.8" stroke="#2a4cc9"/><polygon points="444.0,142.1 453.7,134.2 446.2,141.4 436.5,144.4" stroke="#f7f413"/><polygon points="284.5,169.3 294.2,177.6 286.7,184.2 277.0,182.6" stroke="none"/><path d="M284.5 169.3L294.2 177.6" stroke="#72bf80"/><path d="M294.2 177.6L286.7 184.2" stroke="#21b4ac"/><path d="M286.7 184.2L277.0 182.6" stroke="#21b4ac"/><path d="M277.0 182.6L284.5 169.3" stroke="#3eba9a"/><polygon points="203.7,223.0 213.4,220.4 205.9,217.1 196.2,219.7" stroke="#0462e0"/><polygon points="372.9,160.3 382.6,155.7 375.1,158.1 365.4,155.5" stroke="#f2b949"/><polygon points="461.2,148.6 470.9,141.7 463.4,138.9 453.7,134.2" stroke="#f8f611"/><polygon points="417.0,144.8 426.8,148.1 419.2,144.1 409.5,145.9" stroke="#f5e120"/><polygon points="328.7,161.5 338.4,157.1 330.9,166.8 321.2,162.2" stroke="#dcba54"/><polygon points="257.6,173.9 267.3,182.8 259.8,187.7 250.1,185.8" stroke="none"/><path d="M257.6 173.9L267.3 182.8" stroke="#52bd8f"/><path d="M267.3 182.8L259.8 187.7" stroke="#16b1b4"/><path d="M259.8 187.7L250.1 185.8" stroke="#16b1b4"/><path d="M250.1 185.8L257.6 173.9" stroke="#32b8a1"/><polygon points="220.9,216.4 230.6,219.8 223.1,221.4 213.4,220.4" stroke="#0268e1"/><polygon points="478.4,149.9 488.2,139.8 480.6,131.9 470.9,141.7" stroke="#f9fb0e"/><polygon points="301.8,172.6 311.5,167.9 304.0,175.9 294.2,177.6" stroke="#98bf70"/><polygon points="390.1,162.5 399.8,149.6 392.3,153.0 382.6,155.7" stroke="#fec03b"/><polygon points="495.7,149.6 505.4,146.2 497.9,143.2 488.2,139.8" stroke="#f5e919"/><polygon points="434.3,148.0 444.0,142.1 436.5,144.4 426.8,148.1" stroke="#f5e51c"/><polygon points="512.9,164.6 522.6,152.2 515.1,142.0 505.4,146.2" stroke="#fbcf2d"/><polygon points="345.9,165.7 355.6,159.7 348.1,159.7 338.4,157.1" stroke="#e9b94e"/><polygon points="176.7,224.7 186.5,222.2 179.0,218.9 169.2,221.4" stroke="#0462e0"/><polygon points="274.8,175.2 284.5,169.3 277.0,182.6 267.3,182.8" stroke="#86bf77"/><polygon points="194.0,225.5 203.7,223.0 196.2,219.7 186.5,222.2" stroke="#0462e0"/><polygon points="468.7,159.9 478.4,149.9 470.9,141.7 461.2,148.6" stroke="#f8d826"/><polygon points="363.1,161.8 372.9,160.3 365.4,155.5 355.6,159.7" stroke="#f5ba47"/><polygon points="451.5,146.5 461.2,148.6 453.7,134.2 444.0,142.1" stroke="#f9fa0e"/><polygon points="407.3,155.3 417.0,144.8 409.5,145.9 399.8,149.6" stroke="#f6dd22"/><polygon points="319.0,165.9 328.7,161.5 321.2,162.2 311.5,167.9" stroke="#dcba54"/><polygon points="380.4,167.3 390.1,162.5 382.6,155.7 372.9,160.3" stroke="#edb94c"/><polygon points="485.9,165.8 495.7,149.6 488.2,139.8 478.4,149.9" stroke="none"/><path d="M485.9 165.8L495.7 149.6" stroke="#ddba54"/><path d="M495.7 149.6L488.2 139.8" stroke="#f5df21"/><path d="M488.2 139.8L478.4 149.9" stroke="#f7da24"/><path d="M478.4 149.9L485.9 165.8" stroke="#ddba54"/><polygon points="211.2,226.3 220.9,216.4 213.4,220.4 203.7,223.0" stroke="#026ae1"/><polygon points="520.4,174.1 530.1,166.3 522.6,152.2 512.9,164.6" stroke="#dfba53"/><polygon points="503.2,165.6 512.9,164.6 505.4,146.2 495.7,149.6" stroke="#ffc436"/><polygon points="424.5,154.6 434.3,148.0 426.8,148.1 417.0,144.8" stroke="#f5e11f"/><polygon points="247.9,175.8 257.6,173.9 250.1,185.8 240.4,186.9" stroke="#7abf7c"/><polygon points="292.0,169.7 301.8,172.6 294.2,177.6 284.5,169.3" stroke="#b3bd65"/><polygon points="167.0,227.2 176.7,224.7 169.2,221.4 159.5,223.9" stroke="#0462e0"/><polygon points="336.2,161.8 345.9,165.7 338.4,157.1 328.7,161.5" stroke="#f2b948"/><polygon points="397.6,165.2 407.3,155.3 399.8,149.6 390.1,162.5" stroke="#fec239"/><polygon points="441.8,158.9 451.5,146.5 444.0,142.1 434.3,148.0" stroke="#f5e51c"/><polygon points="459.0,161.7 468.7,159.9 461.2,148.6 451.5,146.5" stroke="#fad12b"/><polygon points="476.2,168.4 485.9,165.8 478.4,149.9 468.7,159.9" stroke="#f8ba44"/><polygon points="184.2,228.0 194.0,225.5 186.5,222.2 176.7,224.7" stroke="#0462e0"/><polygon points="353.4,163.6 363.1,161.8 355.6,159.7 345.9,165.7" stroke="#f0b94a"/><polygon points="265.1,176.4 274.8,175.2 267.3,182.8 257.6,173.9" stroke="#9dbe6e"/><polygon points="309.3,168.2 319.0,165.9 311.5,167.9 301.8,172.6" stroke="#d1bb59"/><polygon points="238.1,178.9 247.9,175.8 240.4,186.9 230.6,219.8" stroke="none"/><path d="M238.1 178.9L247.9 175.8" stroke="#b1bd66"/><path d="M247.9 175.8L240.4 186.9" stroke="#3eba9a"/><path d="M240.4 186.9L230.6 219.8" stroke="#0268e1"/><path d="M230.6 219.8L238.1 178.9" stroke="#0268e1"/><polygon points="510.7,174.9 520.4,174.1 512.9,164.6 503.2,165.6" stroke="#cbbb5b"/><polygon points="493.4,170.2 503.2,165.6 495.7,149.6 485.9,165.8" stroke="#f2b949"/><polygon points="201.5,228.8 211.2,226.3 203.7,223.0 194.0,225.5" stroke="#0462e0"/><polygon points="228.4,225.6 238.1,178.9 230.6,219.8 220.9,216.4" stroke="none"/><path d="M228.4 225.6L238.1 178.9" stroke="#0268e1"/><path d="M238.1 178.9L230.6 219.8" stroke="#0268e1"/><path d="M230.6 219.8L220.9 216.4" stroke="#0268e1"/><path d="M220.9 216.4L228.4 225.6" stroke="#0268e1"/><polygon points="370.6,165.2 380.4,167.3 372.9,160.3 363.1,161.8" stroke="#efb94b"/><polygon points="414.8,165.0 424.5,154.6 417.0,144.8 407.3,155.3" stroke="#fad22b"/><polygon points="527.9,174.2 537.6,180.2 530.1,166.3 520.4,174.1" stroke="#b7bd64"/><polygon points="387.9,168.7 397.6,165.2 390.1,162.5 380.4,167.3" stroke="#e6b950"/><polygon points="432.0,168.5 441.8,158.9 434.3,148.0 424.5,154.6" stroke="#fdcb30"/><polygon points="157.3,229.7 167.0,227.2 159.5,223.9 149.8,226.4" stroke="#0462e0"/><polygon points="282.3,177.8 292.0,169.7 284.5,169.3 274.8,175.2" stroke="#bfbc60"/><polygon points="326.5,167.9 336.2,161.8 328.7,161.5 319.0,165.9" stroke="#f1b94a"/><polygon points="218.7,229.6 228.4,225.6 220.9,216.4 211.2,226.3" stroke="#036be0"/><polygon points="449.3,168.9 459.0,161.7 451.5,146.5 441.8,158.9" stroke="#fec833"/><polygon points="466.5,168.3 476.2,168.4 468.7,159.9 459.0,161.7" stroke="#f2b949"/><polygon points="174.5,230.5 184.2,228.0 176.7,224.7 167.0,227.2" stroke="#0462e0"/><polygon points="483.7,173.9 493.4,170.2 485.9,165.8 476.2,168.4" stroke="#d8ba56"/><polygon points="405.1,169.5 414.8,165.0 407.3,155.3 397.6,165.2" stroke="#f8ba45"/><polygon points="343.7,165.8 353.4,163.6 345.9,165.7 336.2,161.8" stroke="#f6ba46"/><polygon points="299.5,173.8 309.3,168.2 301.8,172.6 292.0,169.7" stroke="#d1bb59"/><polygon points="500.9,178.9 510.7,174.9 503.2,165.6 493.4,170.2" stroke="#cbbb5c"/><polygon points="422.3,175.2 432.0,168.5 424.5,154.6 414.8,165.0" stroke="#f0b94a"/><polygon points="191.8,231.3 201.5,228.8 194.0,225.5 184.2,228.0" stroke="#0462e0"/><polygon points="518.2,183.4 527.9,174.2 520.4,174.1 510.7,174.9" stroke="#b4bd65"/><polygon points="255.4,171.2 265.1,176.4 257.6,173.9 247.9,175.8" stroke="#c2bc5f"/><polygon points="360.9,168.6 370.6,165.2 363.1,161.8 353.4,163.6" stroke="#f7ba45"/><polygon points="439.6,172.6 449.3,168.9 441.8,158.9 432.0,168.5" stroke="#ecb94c"/><polygon points="378.2,171.7 387.9,168.7 380.4,167.3 370.6,165.2" stroke="#e7b94f"/><polygon points="209.0,232.1 218.7,229.6 211.2,226.3 201.5,228.8" stroke="#0462e0"/><polygon points="316.8,170.6 326.5,167.9 319.0,165.9 309.3,168.2" stroke="#e8b94e"/><polygon points="272.6,175.8 282.3,177.8 274.8,175.2 265.1,176.4" stroke="#babd62"/><polygon points="535.4,180.9 545.1,177.0 537.6,180.2 527.9,174.2" stroke="#afbe67"/><polygon points="147.6,232.2 157.3,229.7 149.8,226.4 140.1,228.9" stroke="#0462e0"/><polygon points="456.8,182.3 466.5,168.3 459.0,161.7 449.3,168.9" stroke="#deba53"/><polygon points="395.4,177.4 405.1,169.5 397.6,165.2 387.9,168.7" stroke="#e0ba53"/><polygon points="164.8,233.0 174.5,230.5 167.0,227.2 157.3,229.7" stroke="#0462e0"/><polygon points="474.0,176.8 483.7,173.9 476.2,168.4 466.5,168.3" stroke="#d9ba55"/><polygon points="412.6,179.0 422.3,175.2 414.8,165.0 405.1,169.5" stroke="#d8ba56"/><polygon points="491.2,186.5 500.9,178.9 493.4,170.2 483.7,173.9" stroke="#babd62"/><polygon points="334.0,167.8 343.7,165.8 336.2,161.8 326.5,167.9" stroke="#fabc42"/><polygon points="289.8,172.2 299.5,173.8 292.0,169.7 282.3,177.8" stroke="#d3bb58"/><polygon points="235.9,228.9 245.6,175.3 238.1,178.9 228.4,225.6" stroke="none"/><path d="M235.9 228.9L245.6 175.3" stroke="#0268e1"/><path d="M245.6 175.3L238.1 178.9" stroke="#b1bd66"/><path d="M238.1 178.9L228.4 225.6" stroke="#0268e1"/><path d="M228.4 225.6L235.9 228.9" stroke="#0268e1"/><polygon points="429.8,187.6 439.6,172.6 432.0,168.5 422.3,175.2" stroke="#c5bc5e"/><polygon points="182.0,233.8 191.8,231.3 184.2,228.0 174.5,230.5" stroke="#0462e0"/><polygon points="508.4,185.1 518.2,183.4 510.7,174.9 500.9,178.9" stroke="#aabe69"/><polygon points="351.2,170.6 360.9,168.6 353.4,163.6 343.7,165.8" stroke="#f8ba44"/><polygon points="245.6,175.3 255.4,171.2 247.9,175.8 238.1,178.9" stroke="#ccbb5b"/><polygon points="368.4,180.9 378.2,171.7 370.6,165.2 360.9,168.6" stroke="#e2b952"/><polygon points="447.1,183.4 456.8,182.3 449.3,168.9 439.6,172.6" stroke="#c5bc5e"/><polygon points="307.0,175.4 316.8,170.6 309.3,168.2 299.5,173.8" stroke="#e0ba52"/><polygon points="199.3,234.6 209.0,232.1 201.5,228.8 191.8,231.3" stroke="#0462e0"/><polygon points="525.7,183.9 535.4,180.9 527.9,174.2 518.2,183.4" stroke="#afbe67"/><polygon points="137.9,234.7 147.6,232.2 140.1,228.9 130.4,231.4" stroke="#0462e0"/><polygon points="385.7,184.0 395.4,177.4 387.9,168.7 378.2,171.7" stroke="#cebb5a"/><polygon points="464.3,184.7 474.0,176.8 466.5,168.3 456.8,182.3" stroke="#c2bc5f"/><polygon points="262.9,174.7 272.6,175.8 265.1,176.4 255.4,171.2" stroke="#d6ba57"/><polygon points="324.3,186.6 334.0,167.8 326.5,167.9 316.8,170.6" stroke="#ddba54"/><polygon points="402.9,188.8 412.6,179.0 405.1,169.5 395.4,177.4" stroke="#bebc61"/><polygon points="155.1,235.5 164.8,233.0 157.3,229.7 147.6,232.2" stroke="#0462e0"/><polygon points="420.1,187.2 429.8,187.6 422.3,175.2 412.6,179.0" stroke="#abbe68"/><polygon points="280.1,184.0 289.8,172.2 282.3,177.8 272.6,175.8" stroke="#c8bc5d"/><polygon points="481.5,184.1 491.2,186.5 483.7,173.9 474.0,176.8" stroke="#b7bd63"/><polygon points="542.9,178.5 552.6,177.9 545.1,177.0 535.4,180.9" stroke="#c2bc5f"/><polygon points="498.7,188.3 508.4,185.1 500.9,178.9 491.2,186.5" stroke="#9ebe6e"/><polygon points="172.3,236.3 182.0,233.8 174.5,230.5 164.8,233.0" stroke="#0462e0"/><polygon points="341.5,180.9 351.2,170.6 343.7,165.8 334.0,167.8" stroke="#eeb94b"/><polygon points="437.3,191.4 447.1,183.4 439.6,172.6 429.8,187.6" stroke="#a6be6a"/><polygon points="358.7,181.3 368.4,180.9 360.9,168.6 351.2,170.6" stroke="#daba55"/><polygon points="375.9,185.3 385.7,184.0 378.2,171.7 368.4,180.9" stroke="#bebc61"/><polygon points="297.3,176.3 307.0,175.4 299.5,173.8 289.8,172.2" stroke="#e1ba52"/><polygon points="516.0,184.2 525.7,183.9 518.2,183.4 508.4,185.1" stroke="#a8be6a"/><polygon points="189.5,237.1 199.3,234.6 191.8,231.3 182.0,233.8" stroke="#0462e0"/><polygon points="454.6,189.1 464.3,184.7 456.8,182.3 447.1,183.4" stroke="#a4be6b"/><polygon points="393.2,189.3 402.9,188.8 395.4,177.4 385.7,184.0" stroke="#a5be6b"/><polygon points="314.5,184.0 324.3,186.6 316.8,170.6 307.0,175.4" stroke="#c8bc5d"/><polygon points="206.8,237.9 216.5,235.4 209.0,232.1 199.3,234.6" stroke="#0462e0"/><polygon points="410.4,193.9 420.1,187.2 412.6,179.0 402.9,188.8" stroke="#99bf70"/><polygon points="331.8,187.9 341.5,180.9 334.0,167.8 324.3,186.6" stroke="#c2bc5f"/><polygon points="145.4,238.1 155.1,235.5 147.6,232.2 137.9,234.7" stroke="#0462e0"/><polygon points="253.2,175.3 262.9,174.7 255.4,171.2 245.6,175.3" stroke="#e9b94e"/><polygon points="471.8,186.2 481.5,184.1 474.0,176.8 464.3,184.7" stroke="#b7bd64"/><polygon points="533.2,182.1 542.9,178.5 535.4,180.9 525.7,183.9" stroke="#c1bc60"/><polygon points="270.4,179.9 280.1,184.0 272.6,175.8 262.9,174.7" stroke="#d1bb59"/><polygon points="427.6,193.8 437.3,191.4 429.8,187.6 420.1,187.2" stroke="#89bf76"/><polygon points="489.0,194.0 498.7,188.3 491.2,186.5 481.5,184.1" stroke="#96bf71"/><polygon points="162.6,238.8 172.3,236.3 164.8,233.0 155.1,235.5" stroke="#0462e0"/><polygon points="243.4,179.5 253.2,175.3 245.6,175.3 235.9,228.9" stroke="none"/><path d="M243.4 179.5L253.2 175.3" stroke="#e9b94e"/><path d="M253.2 175.3L245.6 175.3" stroke="#dfba53"/><path d="M245.6 175.3L235.9 228.9" stroke="#0268e1"/><path d="M235.9 228.9L243.4 179.5" stroke="#0268e1"/><polygon points="349.0,186.8 358.7,181.3 351.2,170.6 341.5,180.9" stroke="#cdbb5b"/><polygon points="444.8,202.3 454.6,189.1 447.1,183.4 437.3,191.4" stroke="#83bf79"/><polygon points="366.2,193.7 375.9,185.3 368.4,180.9 358.7,181.3" stroke="#aebe67"/><polygon points="287.6,185.6 297.3,176.3 289.8,172.2 280.1,184.0" stroke="#d0bb59"/><polygon points="550.4,187.3 560.1,178.7 552.6,177.9 542.9,178.5" stroke="#cbbb5c"/><polygon points="506.2,195.9 516.0,184.2 508.4,185.1 498.7,188.3" stroke="#9bbf6f"/><polygon points="179.8,239.6 189.5,237.1 182.0,233.8 172.3,236.3" stroke="#0462e0"/><polygon points="383.4,197.1 393.2,189.3 385.7,184.0 375.9,185.3" stroke="#99bf70"/><polygon points="304.8,190.4 314.5,184.0 307.0,175.4 297.3,176.3" stroke="#c9bc5d"/><polygon points="400.7,197.3 410.4,193.9 402.9,188.8 393.2,189.3" stroke="#84bf78"/><polygon points="322.0,185.1 331.8,187.9 324.3,186.6 314.5,184.0" stroke="#b0bd66"/><polygon points="197.0,240.4 206.8,237.9 199.3,234.6 189.5,237.1" stroke="#0462e0"/><polygon points="462.1,190.4 471.8,186.2 464.3,184.7 454.6,189.1" stroke="#a8be6a"/><polygon points="417.9,199.5 427.6,193.8 420.1,187.2 410.4,193.9" stroke="#81bf7a"/><polygon points="523.5,184.4 533.2,182.1 525.7,183.9 516.0,184.2" stroke="#c2bc5f"/><polygon points="339.3,192.8 349.0,186.8 341.5,180.9 331.8,187.9" stroke="#aebe67"/><polygon points="479.3,196.2 489.0,194.0 481.5,184.1 471.8,186.2" stroke="#9bbf6f"/><polygon points="435.1,205.2 444.8,202.3 437.3,191.4 427.6,193.8" stroke="#5ebe89"/><polygon points="260.7,182.8 270.4,179.9 262.9,174.7 253.2,175.3" stroke="#e4b951"/><polygon points="152.9,241.4 162.6,238.8 155.1,235.5 145.4,238.1" stroke="#0462e0"/><polygon points="277.9,183.8 287.6,185.6 280.1,184.0 270.4,179.9" stroke="#c8bc5d"/><polygon points="540.7,193.2 550.4,187.3 542.9,178.5 533.2,182.1" stroke="#bcbd61"/><polygon points="356.5,194.1 366.2,193.7 358.7,181.3 349.0,186.8" stroke="#a6be6a"/><polygon points="496.5,191.3 506.2,195.9 498.7,188.3 489.0,194.0" stroke="#90bf73"/><polygon points="373.7,195.2 383.4,197.1 375.9,185.3 366.2,193.7" stroke="#8ebf74"/><polygon points="170.1,242.1 179.8,239.6 172.3,236.3 162.6,238.8" stroke="#0462e0"/><polygon points="295.1,188.4 304.8,190.4 297.3,176.3 287.6,185.6" stroke="#c1bc60"/><polygon points="390.9,203.4 400.7,197.3 393.2,189.3 383.4,197.1" stroke="#73bf7f"/><polygon points="557.9,191.4 567.6,184.7 560.1,178.7 550.4,187.3" stroke="#c0bc60"/><polygon points="452.3,193.5 462.1,190.4 454.6,189.1 444.8,202.3" stroke="#8cbf75"/><polygon points="312.3,190.3 322.0,185.1 314.5,184.0 304.8,190.4" stroke="#b7bd64"/><polygon points="187.3,242.9 197.0,240.4 189.5,237.1 179.8,239.6" stroke="#0462e0"/><polygon points="513.7,189.0 523.5,184.4 516.0,184.2 506.2,195.9" stroke="#b3bd65"/><polygon points="408.2,195.7 417.9,199.5 410.4,193.9 400.7,197.3" stroke="#7cbf7b"/><polygon points="329.6,195.8 339.3,192.8 331.8,187.9 322.0,185.1" stroke="#a8be6a"/><polygon points="469.6,199.5 479.3,196.2 471.8,186.2 462.1,190.4" stroke="#98bf70"/><polygon points="204.6,243.7 214.3,241.2 206.8,237.9 197.0,240.4" stroke="#0462e0"/><polygon points="425.4,200.9 435.1,205.2 427.6,193.8 417.9,199.5" stroke="#66be85"/><polygon points="346.8,200.6 356.5,194.1 349.0,186.8 339.3,192.8" stroke="#96bf71"/><polygon points="250.9,183.8 260.7,182.8 253.2,175.3 243.4,179.5" stroke="#e6b950"/><polygon points="531.0,185.8 540.7,193.2 533.2,182.1 523.5,184.4" stroke="#c6bc5e"/><polygon points="268.2,188.4 277.9,183.8 270.4,179.9 260.7,182.8" stroke="#d6ba57"/><polygon points="486.8,194.2 496.5,191.3 489.0,194.0 479.3,196.2" stroke="#97bf70"/><polygon points="364.0,201.1 373.7,195.2 366.2,193.7 356.5,194.1" stroke="#89bf76"/><polygon points="442.6,200.0 452.3,193.5 444.8,202.3 435.1,205.2" stroke="#69be84"/><polygon points="285.4,195.4 295.1,188.4 287.6,185.6 277.9,183.8" stroke="#bdbd61"/><polygon points="160.4,244.7 170.1,242.1 162.6,238.8 152.9,241.4" stroke="#0462e0"/><polygon points="548.2,189.2 557.9,191.4 550.4,187.3 540.7,193.2" stroke="#b1bd66"/><polygon points="241.2,183.9 250.9,183.8 243.4,179.5 233.7,234.7" stroke="none"/><path d="M241.2 183.9L250.9 183.8" stroke="#e2b951"/><path d="M250.9 183.8L243.4 179.5" stroke="#e2b951"/><path d="M243.4 179.5L233.7 234.7" stroke="#0268e1"/><path d="M233.7 234.7L241.2 183.9" stroke="#0268e1"/><polygon points="381.2,200.2 390.9,203.4 383.4,197.1 373.7,195.2" stroke="#76bf7e"/><polygon points="302.6,193.4 312.3,190.3 304.8,190.4 295.1,188.4" stroke="#b2bd66"/><polygon points="177.6,245.5 187.3,242.9 179.8,239.6 170.1,242.1" stroke="#0462e0"/><polygon points="504.0,191.8 513.7,189.0 506.2,195.9 496.5,191.3" stroke="#abbe68"/><polygon points="398.5,202.1 408.2,195.7 400.7,197.3 390.9,203.4" stroke="#77bf7d"/><polygon points="319.8,200.1 329.6,195.8 322.0,185.1 312.3,190.3" stroke="#a9be69"/><polygon points="459.8,199.5 469.6,199.5 462.1,190.4 452.3,193.5" stroke="#97bf71"/><polygon points="337.1,200.5 346.8,200.6 339.3,192.8 329.6,195.8" stroke="#8cbf75"/><polygon points="565.4,184.9 575.1,180.9 567.6,184.7 557.9,191.4" stroke="#d6ba57"/><polygon points="194.8,246.2 204.6,243.7 197.0,240.4 187.3,242.9" stroke="#0462e0"/><polygon points="415.7,204.0 425.4,200.9 417.9,199.5 408.2,195.7" stroke="#7bbf7c"/><polygon points="258.4,195.1 268.2,188.4 260.7,182.8 250.9,183.8" stroke="#cdbb5b"/><polygon points="354.3,201.2 364.0,201.1 356.5,194.1 346.8,200.6" stroke="#83bf79"/><polygon points="477.1,197.3 486.8,194.2 479.3,196.2 469.6,199.5" stroke="#95bf71"/><polygon points="275.7,205.8 285.4,195.4 277.9,183.8 268.2,188.4" stroke="#abbe68"/><polygon points="521.2,190.9 531.0,185.8 523.5,184.4 513.7,189.0" stroke="#cfbb5a"/><polygon points="432.9,197.1 442.6,200.0 435.1,205.2 425.4,200.9" stroke="#7bbf7c"/><polygon points="371.5,202.9 381.2,200.2 373.7,195.2 364.0,201.1" stroke="#85bf78"/><polygon points="292.9,197.9 302.6,193.4 295.1,188.4 285.4,195.4" stroke="#aebe67"/><polygon points="538.5,186.1 548.2,189.2 540.7,193.2 531.0,185.8" stroke="#cdbb5b"/><polygon points="310.1,212.7 319.8,200.1 312.3,190.3 302.6,193.4" stroke="#8cbf75"/><polygon points="167.9,248.0 177.6,245.5 170.1,242.1 160.4,244.7" stroke="#0462e0"/><polygon points="388.7,208.7 398.5,202.1 390.9,203.4 381.2,200.2" stroke="#6abe83"/><polygon points="494.3,196.5 504.0,191.8 496.5,191.3 486.8,194.2" stroke="#b3bd65"/><polygon points="555.7,193.8 565.4,184.9 557.9,191.4 548.2,189.2" stroke="#cabb5c"/><polygon points="327.3,204.0 337.1,200.5 329.6,195.8 319.8,200.1" stroke="#8abf76"/><polygon points="450.1,195.1 459.8,199.5 452.3,193.5 442.6,200.0" stroke="#a0be6d"/><polygon points="185.1,248.8 194.8,246.2 187.3,242.9 177.6,245.5" stroke="#0462e0"/><polygon points="265.9,203.8 275.7,205.8 268.2,188.4 258.4,195.1" stroke="#9abf6f"/><polygon points="511.5,200.9 521.2,190.9 513.7,189.0 504.0,191.8" stroke="#babd62"/><polygon points="248.7,198.8 258.4,195.1 250.9,183.8 241.2,183.9" stroke="#cbbb5c"/><polygon points="406.0,204.3 415.7,204.0 408.2,195.7 398.5,202.1" stroke="#84bf78"/><polygon points="344.6,204.3 354.3,201.2 346.8,200.6 337.1,200.5" stroke="#84bf78"/><polygon points="467.4,196.0 477.1,197.3 469.6,199.5 459.8,199.5" stroke="#9ebe6e"/><polygon points="202.3,249.5 212.1,247.0 204.6,243.7 194.8,246.2" stroke="#0462e0"/><polygon points="283.2,204.1 292.9,197.9 285.4,195.4 275.7,205.8" stroke="#8cbf75"/><polygon points="239.0,206.1 248.7,198.8 241.2,183.9 231.5,240.6" stroke="none"/><path d="M239.0 206.1L248.7 198.8" stroke="#80bf7a"/><path d="M248.7 198.8L241.2 183.9" stroke="#a6be6b"/><path d="M241.2 183.9L231.5 240.6" stroke="#0268e1"/><path d="M231.5 240.6L239.0 206.1" stroke="#0268e1"/><polygon points="572.9,187.5 582.6,188.8 575.1,180.9 565.4,184.9" stroke="#eab94d"/><polygon points="423.2,205.5 432.9,197.1 425.4,200.9 415.7,204.0" stroke="#87bf77"/><polygon points="361.8,203.7 371.5,202.9 364.0,201.1 354.3,201.2" stroke="#86bf77"/><polygon points="300.4,206.0 310.1,212.7 302.6,193.4 292.9,197.9" stroke="#85bf78"/><polygon points="528.8,197.2 538.5,186.1 531.0,185.8 521.2,190.9" stroke="#d4bb58"/><polygon points="484.6,199.6 494.3,196.5 486.8,194.2 477.1,197.3" stroke="#acbe68"/><polygon points="317.6,205.9 327.3,204.0 319.8,200.1 310.1,212.7" stroke="#70bf81"/><polygon points="379.0,205.3 388.7,208.7 381.2,200.2 371.5,202.9" stroke="#7bbf7c"/><polygon points="546.0,191.8 555.7,193.8 548.2,189.2 538.5,186.1" stroke="#d8ba56"/><polygon points="175.4,251.3 185.1,248.8 177.6,245.5 167.9,248.0" stroke="#0462e0"/><polygon points="440.4,201.0 450.1,195.1 442.6,200.0 432.9,197.1" stroke="#a9be69"/><polygon points="396.2,209.4 406.0,204.3 398.5,202.1 388.7,208.7" stroke="#72bf80"/><polygon points="256.2,205.5 265.9,203.8 258.4,195.1 248.7,198.8" stroke="#9abf6f"/><polygon points="501.8,194.2 511.5,200.9 504.0,191.8 494.3,196.5" stroke="#b9bd63"/><polygon points="334.8,211.4 344.6,204.3 337.1,200.5 327.3,204.0" stroke="#7cbf7b"/><polygon points="273.5,208.2 283.2,204.1 275.7,205.8 265.9,203.8" stroke="#7abf7c"/><polygon points="192.6,252.1 202.3,249.5 194.8,246.2 185.1,248.8" stroke="#0462e0"/><polygon points="563.2,194.1 572.9,187.5 565.4,184.9 555.7,193.8" stroke="#deba54"/><polygon points="457.6,206.0 467.4,196.0 459.8,199.5 450.1,195.1" stroke="#a8be69"/><polygon points="519.0,201.9 528.8,197.2 521.2,190.9 511.5,200.9" stroke="#b2bd66"/><polygon points="413.5,210.9 423.2,205.5 415.7,204.0 406.0,204.3" stroke="#78bf7d"/><polygon points="580.4,199.7 590.1,197.3 582.6,188.8 572.9,187.5" stroke="#cebb5a"/><polygon points="352.1,211.3 361.8,203.7 354.3,201.2 344.6,204.3" stroke="#82bf79"/><polygon points="290.7,210.3 300.4,206.0 292.9,197.9 283.2,204.1" stroke="#88bf76"/><polygon points="474.9,202.7 484.6,199.6 477.1,197.3 467.4,196.0" stroke="#b0bd66"/><polygon points="307.9,206.6 317.6,205.9 310.1,212.7 300.4,206.0" stroke="#73bf7f"/><polygon points="369.3,207.5 379.0,205.3 371.5,202.9 361.8,203.7" stroke="#8bbf75"/><polygon points="430.7,206.6 440.4,201.0 432.9,197.1 423.2,205.5" stroke="#9cbf6e"/><polygon points="536.3,192.8 546.0,191.8 538.5,186.1 528.8,197.2" stroke="#ddba54"/><polygon points="246.5,208.4 256.2,205.5 248.7,198.8 239.0,206.1" stroke="#8fbf74"/><polygon points="386.5,211.3 396.2,209.4 388.7,208.7 379.0,205.3" stroke="#71bf80"/><polygon points="325.1,215.4 334.8,211.4 327.3,204.0 317.6,205.9" stroke="#6ebf82"/><polygon points="492.1,202.0 501.8,194.2 494.3,196.5 484.6,199.6" stroke="#bbbd62"/><polygon points="263.7,213.5 273.5,208.2 265.9,203.8 256.2,205.5" stroke="#7cbf7c"/><polygon points="553.5,197.7 563.2,194.1 555.7,193.8 546.0,191.8" stroke="#d3bb58"/><polygon points="182.9,254.6 192.6,252.1 185.1,248.8 175.4,251.3" stroke="#0462e0"/><polygon points="447.9,206.1 457.6,206.0 450.1,195.1 440.4,201.0" stroke="#a6be6b"/><polygon points="509.3,202.0 519.0,201.9 511.5,200.9 501.8,194.2" stroke="#b5bd64"/><polygon points="342.4,213.0 352.1,211.3 344.6,204.3 334.8,211.4" stroke="#6ebf82"/><polygon points="236.8,214.4 246.5,208.4 239.0,206.1 229.3,246.4" stroke="none"/><path d="M236.8 214.4L246.5 208.4" stroke="#6abe83"/><path d="M246.5 208.4L239.0 206.1" stroke="#80bf7a"/><path d="M239.0 206.1L229.3 246.4" stroke="#0268e1"/><path d="M229.3 246.4L236.8 214.4" stroke="#0268e1"/><polygon points="403.7,205.9 413.5,210.9 406.0,204.3 396.2,209.4" stroke="#81bf79"/><polygon points="281.0,215.5 290.7,210.3 283.2,204.1 273.5,208.2" stroke="#73bf7f"/><polygon points="570.7,203.5 580.4,199.7 572.9,187.5 563.2,194.1" stroke="#ccbb5b"/><polygon points="200.1,255.4 209.8,252.9 202.3,249.5 192.6,252.1" stroke="#0462e0"/><polygon points="587.9,201.2 597.7,203.4 590.1,197.3 580.4,199.7" stroke="#b5bd65"/><polygon points="465.1,204.6 474.9,202.7 467.4,196.0 457.6,206.0" stroke="#a9be69"/><polygon points="526.5,208.1 536.3,192.8 528.8,197.2 519.0,201.9" stroke="#b9bd63"/><polygon points="298.2,216.3 307.9,206.6 300.4,206.0 290.7,210.3" stroke="#78bf7d"/><polygon points="421.0,205.3 430.7,206.6 423.2,205.5 413.5,210.9" stroke="#8cbf75"/><polygon points="359.6,209.1 369.3,207.5 361.8,203.7 352.1,211.3" stroke="#87bf77"/><polygon points="482.4,201.3 492.1,202.0 484.6,199.6 474.9,202.7" stroke="#b5bd64"/><polygon points="254.0,217.4 263.7,213.5 256.2,205.5 246.5,208.4" stroke="#74bf7f"/><polygon points="376.8,209.8 386.5,211.3 379.0,205.3 369.3,207.5" stroke="#89bf76"/><polygon points="315.4,210.0 325.1,215.4 317.6,205.9 307.9,206.6" stroke="#81bf79"/><polygon points="543.8,205.3 553.5,197.7 546.0,191.8 536.3,192.8" stroke="#d2bb59"/><polygon points="438.2,208.4 447.9,206.1 440.4,201.0 430.7,206.6" stroke="#9fbe6d"/><polygon points="271.2,218.6 281.0,215.5 273.5,208.2 263.7,213.5" stroke="#62be87"/><polygon points="332.6,209.5 342.4,213.0 334.8,211.4 325.1,215.4" stroke="#6fbf81"/><polygon points="561.0,205.5 570.7,203.5 563.2,194.1 553.5,197.7" stroke="#c2bc5f"/><polygon points="394.0,211.3 403.7,205.9 396.2,209.4 386.5,211.3" stroke="#87bf77"/><polygon points="499.6,200.6 509.3,202.0 501.8,194.2 492.1,202.0" stroke="#c6bc5e"/><polygon points="455.4,213.3 465.1,204.6 457.6,206.0 447.9,206.1" stroke="#96bf71"/><polygon points="516.8,209.4 526.5,208.1 519.0,201.9 509.3,202.0" stroke="#a5be6b"/><polygon points="578.2,210.4 587.9,201.2 580.4,199.7 570.7,203.5" stroke="#afbe67"/><polygon points="190.4,257.9 200.1,255.4 192.6,252.1 182.9,254.6" stroke="#0462e0"/><polygon points="288.5,220.7 298.2,216.3 290.7,210.3 281.0,215.5" stroke="#59bd8c"/><polygon points="349.9,209.7 359.6,209.1 352.1,211.3 342.4,213.0" stroke="#84bf78"/><polygon points="207.6,258.7 217.3,256.2 209.8,252.9 200.1,255.4" stroke="#0462e0"/><polygon points="411.2,208.6 421.0,205.3 413.5,210.9 403.7,205.9" stroke="#9bbf6f"/><polygon points="534.0,211.4 543.8,205.3 536.3,192.8 526.5,208.1" stroke="#b1bd66"/><polygon points="595.4,203.1 605.2,202.8 597.7,203.4 587.9,201.2" stroke="#bcbd62"/><polygon points="244.3,223.0 254.0,217.4 246.5,208.4 236.8,214.4" stroke="#60be88"/><polygon points="472.6,205.5 482.4,201.3 474.9,202.7 465.1,204.6" stroke="#b8bd63"/><polygon points="234.6,255.5 244.3,223.0 236.8,214.4 227.1,252.2" stroke="none"/><path d="M234.6 255.5L244.3 223.0" stroke="#0268e1"/><path d="M244.3 223.0L236.8 214.4" stroke="#3ab99c"/><path d="M236.8 214.4L227.1 252.2" stroke="#0268e1"/><path d="M227.1 252.2L234.6 255.5" stroke="#0268e1"/><polygon points="305.7,213.5 315.4,210.0 307.9,206.6 298.2,216.3" stroke="#85bf78"/><polygon points="367.1,211.0 376.8,209.8 369.3,207.5 359.6,209.1" stroke="#96bf71"/><polygon points="428.5,210.2 438.2,208.4 430.7,206.6 421.0,205.3" stroke="#a1be6c"/><polygon points="551.3,206.8 561.0,205.5 553.5,197.7 543.8,205.3" stroke="#babd62"/><polygon points="261.5,215.8 271.2,218.6 263.7,213.5 254.0,217.4" stroke="#63be87"/><polygon points="489.9,209.9 499.6,200.6 492.1,202.0 482.4,201.3" stroke="#bebc61"/><polygon points="568.5,213.4 578.2,210.4 570.7,203.5 561.0,205.5" stroke="#a1be6c"/><polygon points="445.7,214.5 455.4,213.3 447.9,206.1 438.2,208.4" stroke="#91bf73"/><polygon points="384.3,212.3 394.0,211.3 386.5,211.3 376.8,209.8" stroke="#8ebf74"/><polygon points="322.9,212.3 332.6,209.5 325.1,215.4 315.4,210.0" stroke="#8abf76"/><polygon points="507.1,214.1 516.8,209.4 509.3,202.0 499.6,200.6" stroke="#aebe67"/><polygon points="278.7,217.4 288.5,220.7 281.0,215.5 271.2,218.6" stroke="#5abd8b"/><polygon points="524.3,210.8 534.0,211.4 526.5,208.1 516.8,209.4" stroke="#9bbf6f"/><polygon points="340.1,216.1 349.9,209.7 342.4,213.0 332.6,209.5" stroke="#8ebf74"/><polygon points="585.7,213.2 595.4,203.1 587.9,201.2 578.2,210.4" stroke="#afbe67"/><polygon points="462.9,213.9 472.6,205.5 465.1,204.6 455.4,213.3" stroke="#a1be6c"/><polygon points="197.9,261.2 207.6,258.7 200.1,255.4 190.4,257.9" stroke="#0462e0"/><polygon points="401.5,214.3 411.2,208.6 403.7,205.9 394.0,211.3" stroke="#9dbf6e"/><polygon points="296.0,211.8 305.7,213.5 298.2,216.3 288.5,220.7" stroke="#78bf7d"/><polygon points="541.5,216.4 551.3,206.8 543.8,205.3 534.0,211.4" stroke="#a1be6d"/><polygon points="602.9,212.0 612.7,211.4 605.2,202.8 595.4,203.1" stroke="#b3bd65"/><polygon points="418.8,214.4 428.5,210.2 421.0,205.3 411.2,208.6" stroke="#a5be6b"/><polygon points="357.4,213.2 367.1,211.0 359.6,209.1 349.9,209.7" stroke="#9ebe6d"/><polygon points="480.2,213.4 489.9,209.9 482.4,201.3 472.6,205.5" stroke="#b3bd65"/><polygon points="251.8,217.9 261.5,215.8 254.0,217.4 244.3,223.0" stroke="#66be85"/><polygon points="558.8,212.6 568.5,213.4 561.0,205.5 551.3,206.8" stroke="#a9be69"/><polygon points="436.0,214.8 445.7,214.5 438.2,208.4 428.5,210.2" stroke="#9abf6f"/><polygon points="497.4,215.8 507.1,214.1 499.6,200.6 489.9,209.9" stroke="#a7be6a"/><polygon points="374.6,216.4 384.3,212.3 376.8,209.8 367.1,211.0" stroke="#98bf70"/><polygon points="313.2,217.9 322.9,212.3 315.4,210.0 305.7,213.5" stroke="#91bf73"/><polygon points="576.0,215.1 585.7,213.2 578.2,210.4 568.5,213.4" stroke="#95bf71"/><polygon points="514.6,216.7 524.3,210.8 516.8,209.4 507.1,214.1" stroke="#99bf70"/><polygon points="269.0,218.6 278.7,217.4 271.2,218.6 261.5,215.8" stroke="#76bf7e"/><polygon points="453.2,208.7 462.9,213.9 455.4,213.3 445.7,214.5" stroke="#9bbf6f"/><polygon points="391.8,217.0 401.5,214.3 394.0,211.3 384.3,212.3" stroke="#94bf72"/><polygon points="242.1,225.0 251.8,217.9 244.3,223.0 234.6,255.5" stroke="none"/><path d="M242.1 225.0L251.8 217.9" stroke="#5cbe8a"/><path d="M251.8 217.9L244.3 223.0" stroke="#3ab99c"/><path d="M244.3 223.0L234.6 255.5" stroke="#0268e1"/><path d="M234.6 255.5L242.1 225.0" stroke="#0268e1"/><polygon points="330.4,211.6 340.1,216.1 332.6,209.5 322.9,212.3" stroke="#9fbe6d"/><polygon points="531.8,216.4 541.5,216.4 534.0,211.4 524.3,210.8" stroke="#97bf70"/><polygon points="593.2,219.3 602.9,212.0 595.4,203.1 585.7,213.2" stroke="#a4be6b"/><polygon points="470.4,221.6 480.2,213.4 472.6,205.5 462.9,213.9" stroke="#9abf6f"/><polygon points="286.2,219.0 296.0,211.8 288.5,220.7 278.7,217.4" stroke="#80bf7a"/><polygon points="205.4,264.5 215.1,262.0 207.6,258.7 197.9,261.2" stroke="#0462e0"/><polygon points="409.0,216.7 418.8,214.4 411.2,208.6 401.5,214.3" stroke="#9bbf6f"/><polygon points="347.6,217.6 357.4,213.2 349.9,209.7 340.1,216.1" stroke="#98bf70"/><polygon points="487.7,223.8 497.4,215.8 489.9,209.9 480.2,213.4" stroke="#8fbf74"/><polygon points="549.0,221.0 558.8,212.6 551.3,206.8 541.5,216.4" stroke="#9abf6f"/><polygon points="426.3,216.4 436.0,214.8 428.5,210.2 418.8,214.4" stroke="#9ebe6e"/><polygon points="364.9,218.7 374.6,216.4 367.1,211.0 357.4,213.2" stroke="#98bf70"/><polygon points="303.5,220.4 313.2,217.9 305.7,213.5 296.0,211.8" stroke="#91bf73"/><polygon points="566.3,220.9 576.0,215.1 568.5,213.4 558.8,212.6" stroke="#96bf71"/><polygon points="504.9,219.1 514.6,216.7 507.1,214.1 497.4,215.8" stroke="#90bf73"/><polygon points="443.5,220.9 453.2,208.7 445.7,214.5 436.0,214.8" stroke="#9ebe6e"/><polygon points="382.1,217.8 391.8,217.0 384.3,212.3 374.6,216.4" stroke="#97bf71"/><polygon points="259.3,220.0 269.0,218.6 261.5,215.8 251.8,217.9" stroke="#87bf77"/><polygon points="320.7,219.6 330.4,211.6 322.9,212.3 313.2,217.9" stroke="#9cbf6f"/><polygon points="583.5,215.0 593.2,219.3 585.7,213.2 576.0,215.1" stroke="#9bbf6f"/><polygon points="460.7,221.5 470.4,221.6 462.9,213.9 453.2,208.7" stroke="#97bf70"/><polygon points="522.1,216.1 531.8,216.4 524.3,210.8 514.6,216.7" stroke="#a1be6c"/><polygon points="399.3,217.2 409.0,216.7 401.5,214.3 391.8,217.0" stroke="#99bf6f"/><polygon points="276.5,219.8 286.2,219.0 278.7,217.4 269.0,218.6" stroke="#88bf76"/><polygon points="477.9,226.9 487.7,223.8 480.2,213.4 470.4,221.6" stroke="#74bf7f"/><polygon points="539.3,224.3 549.0,221.0 541.5,216.4 531.8,216.4" stroke="#83bf78"/><polygon points="337.9,218.5 347.6,217.6 340.1,216.1 330.4,211.6" stroke="#9dbe6e"/><polygon points="416.5,223.9 426.3,216.4 418.8,214.4 409.0,216.7" stroke="#93bf72"/><polygon points="355.1,221.4 364.9,218.7 357.4,213.2 347.6,217.6" stroke="#96bf71"/><polygon points="293.8,220.1 303.5,220.4 296.0,211.8 286.2,219.0" stroke="#96bf71"/><polygon points="556.6,218.9 566.3,220.9 558.8,212.6 549.0,221.0" stroke="#93bf72"/><polygon points="495.2,219.2 504.9,219.1 497.4,215.8 487.7,223.8" stroke="#8bbf75"/><polygon points="433.8,224.0 443.5,220.9 436.0,214.8 426.3,216.4" stroke="#90bf73"/><polygon points="311.0,223.0 320.7,219.6 313.2,217.9 303.5,220.4" stroke="#89bf76"/><polygon points="249.6,218.5 259.3,220.0 251.8,217.9 242.1,225.0" stroke="#89bf76"/><polygon points="372.4,217.0 382.1,217.8 374.6,216.4 364.9,218.7" stroke="#9dbe6e"/><polygon points="512.4,229.8 522.1,216.1 514.6,216.7 504.9,219.1" stroke="#8abf76"/><polygon points="573.8,219.7 583.5,215.0 576.0,215.1 566.3,220.9" stroke="#9fbe6d"/><polygon points="451.0,222.9 460.7,221.5 453.2,208.7 443.5,220.9" stroke="#9abf6f"/><polygon points="468.2,225.5 477.9,226.9 470.4,221.6 460.7,221.5" stroke="#75bf7f"/><polygon points="389.6,217.5 399.3,217.2 391.8,217.0 382.1,217.8" stroke="#a4be6b"/><polygon points="266.8,219.3 276.5,219.8 269.0,218.6 259.3,220.0" stroke="#97bf71"/><polygon points="328.2,222.0 337.9,218.5 330.4,211.6 320.7,219.6" stroke="#a1be6c"/><polygon points="529.6,226.1 539.3,224.3 531.8,216.4 522.1,216.1" stroke="#8ebf74"/><polygon points="406.8,229.0 416.5,223.9 409.0,216.7 399.3,217.2" stroke="#88bf76"/><polygon points="239.9,224.4 249.6,218.5 242.1,225.0 232.4,261.3" stroke="none"/><path d="M239.9 224.4L249.6 218.5" stroke="#94bf72"/><path d="M249.6 218.5L242.1 225.0" stroke="#5cbe8a"/><path d="M242.1 225.0L232.4 261.3" stroke="#0268e1"/><path d="M232.4 261.3L239.9 224.4" stroke="#0268e1"/><polygon points="345.4,222.2 355.1,221.4 347.6,217.6 337.9,218.5" stroke="#98bf70"/><polygon points="546.8,228.4 556.6,218.9 549.0,221.0 539.3,224.3" stroke="#81bf7a"/><polygon points="485.4,226.8 495.2,219.2 487.7,223.8 477.9,226.9" stroke="#79bf7d"/><polygon points="284.0,219.7 293.8,220.1 286.2,219.0 276.5,219.8" stroke="#9bbf6f"/><polygon points="424.0,229.9 433.8,224.0 426.3,216.4 416.5,223.9" stroke="#80bf7a"/><polygon points="362.6,227.1 372.4,217.0 364.9,218.7 355.1,221.4" stroke="#95bf71"/><polygon points="301.3,223.7 311.0,223.0 303.5,220.4 293.8,220.1" stroke="#90bf73"/><polygon points="502.7,227.1 512.4,229.8 504.9,219.1 495.2,219.2" stroke="#83bf79"/><polygon points="441.3,227.6 451.0,222.9 443.5,220.9 433.8,224.0" stroke="#84bf78"/><polygon points="318.5,224.6 328.2,222.0 320.7,219.6 311.0,223.0" stroke="#93bf72"/><polygon points="379.9,230.2 389.6,217.5 382.1,217.8 372.4,217.0" stroke="#9ebe6d"/><polygon points="519.9,225.6 529.6,226.1 522.1,216.1 512.4,229.8" stroke="#85bf78"/><polygon points="458.5,227.2 468.2,225.5 460.7,221.5 451.0,222.9" stroke="#87bf77"/><polygon points="257.1,225.8 266.8,219.3 259.3,220.0 249.6,218.5" stroke="#9ebe6d"/><polygon points="397.1,228.9 406.8,229.0 399.3,217.2 389.6,217.5" stroke="#91bf73"/><polygon points="335.7,228.8 345.4,222.2 337.9,218.5 328.2,222.0" stroke="#94bf71"/><polygon points="475.7,230.0 485.4,226.8 477.9,226.9 468.2,225.5" stroke="#74bf7f"/><polygon points="537.1,225.5 546.8,228.4 539.3,224.3 529.6,226.1" stroke="#7dbf7b"/><polygon points="414.3,230.7 424.0,229.9 416.5,223.9 406.8,229.0" stroke="#6bbf83"/><polygon points="274.3,221.7 284.0,219.7 276.5,219.8 266.8,219.3" stroke="#aabe69"/><polygon points="352.9,224.0 362.6,227.1 355.1,221.4 345.4,222.2" stroke="#94bf71"/><polygon points="431.6,231.8 441.3,227.6 433.8,224.0 424.0,229.9" stroke="#73bf7f"/><polygon points="291.5,226.5 301.3,223.7 293.8,220.1 284.0,219.7" stroke="#9ebe6d"/><polygon points="492.9,226.1 502.7,227.1 495.2,219.2 485.4,226.8" stroke="#90bf73"/><polygon points="370.2,227.4 379.9,230.2 372.4,217.0 362.6,227.1" stroke="#8dbf75"/><polygon points="510.2,235.9 519.9,225.6 512.4,229.8 502.7,227.1" stroke="#6dbf82"/><polygon points="308.8,228.0 318.5,224.6 311.0,223.0 301.3,223.7" stroke="#93bf72"/><polygon points="448.8,232.5 458.5,227.2 451.0,222.9 441.3,227.6" stroke="#81bf7a"/><polygon points="247.4,224.2 257.1,225.8 249.6,218.5 239.9,224.4" stroke="#a0be6d"/><polygon points="387.4,229.7 397.1,228.9 389.6,217.5 379.9,230.2" stroke="#8abf76"/><polygon points="326.0,228.1 335.7,228.8 328.2,222.0 318.5,224.6" stroke="#91bf73"/><polygon points="404.6,233.8 414.3,230.7 406.8,229.0 397.1,228.9" stroke="#6ebf82"/><polygon points="527.4,232.7 537.1,225.5 529.6,226.1 519.9,225.6" stroke="#87bf77"/><polygon points="466.0,231.5 475.7,230.0 468.2,225.5 458.5,227.2" stroke="#7fbf7a"/><polygon points="264.6,224.6 274.3,221.7 266.8,219.3 257.1,225.8" stroke="#a8be69"/><polygon points="343.2,235.2 352.9,224.0 345.4,222.2 335.7,228.8" stroke="#89bf76"/><polygon points="421.8,236.5 431.6,231.8 424.0,229.9 414.3,230.7" stroke="#66be85"/><polygon points="483.2,234.6 492.9,226.1 485.4,226.8 475.7,230.0" stroke="#7fbf7a"/><polygon points="281.8,225.0 291.5,226.5 284.0,219.7 274.3,221.7" stroke="#abbe68"/><polygon points="360.4,232.8 370.2,227.4 362.6,227.1 352.9,224.0" stroke="#8ebf74"/><polygon points="500.5,238.9 510.2,235.9 502.7,227.1 492.9,226.1" stroke="#6ebf82"/><polygon points="439.1,238.6 448.8,232.5 441.3,227.6 431.6,231.8" stroke="#6abe84"/><polygon points="299.0,232.3 308.8,228.0 301.3,223.7 291.5,226.5" stroke="#90bf73"/><polygon points="237.6,230.8 247.4,224.2 239.9,224.4 230.1,226.9" stroke="#9abf6f"/><polygon points="377.7,233.7 387.4,229.7 379.9,230.2 370.2,227.4" stroke="#80bf7a"/><polygon points="316.3,230.0 326.0,228.1 318.5,224.6 308.8,228.0" stroke="#96bf71"/><polygon points="456.3,235.9 466.0,231.5 458.5,227.2 448.8,232.5" stroke="#79bf7d"/><polygon points="394.9,232.8 404.6,233.8 397.1,228.9 387.4,229.7" stroke="#7ebf7b"/><polygon points="333.5,235.8 343.2,235.2 335.7,228.8 326.0,228.1" stroke="#79bf7d"/><polygon points="254.9,229.9 264.6,224.6 257.1,225.8 247.4,224.2" stroke="#a3be6c"/><polygon points="412.1,240.4 421.8,236.5 414.3,230.7 404.6,233.8" stroke="#60be88"/><polygon points="473.5,238.8 483.2,234.6 475.7,230.0 466.0,231.5" stroke="#6ebf82"/><polygon points="350.7,232.4 360.4,232.8 352.9,224.0 343.2,235.2" stroke="#88bf77"/><polygon points="272.1,229.9 281.8,225.0 274.3,221.7 264.6,224.6" stroke="#afbe67"/><polygon points="490.7,242.2 500.5,238.9 492.9,226.1 483.2,234.6" stroke="#65be85"/><polygon points="429.3,239.6 439.1,238.6 431.6,231.8 421.8,236.5" stroke="#5cbe8a"/><polygon points="289.3,234.8 299.0,232.3 291.5,226.5 281.8,225.0" stroke="#94bf72"/><polygon points="367.9,233.7 377.7,233.7 370.2,227.4 360.4,232.8" stroke="#88bf77"/><polygon points="446.6,237.1 456.3,235.9 448.8,232.5 439.1,238.6" stroke="#69be84"/><polygon points="306.5,229.7 316.3,230.0 308.8,228.0 299.0,232.3" stroke="#98bf70"/><polygon points="245.2,233.1 254.9,229.9 247.4,224.2 237.6,230.8" stroke="#9dbf6e"/><polygon points="385.2,238.0 394.9,232.8 387.4,229.7 377.7,233.7" stroke="#80bf7a"/><polygon points="323.8,235.0 333.5,235.8 326.0,228.1 316.3,230.0" stroke="#8dbf75"/><polygon points="463.8,239.6 473.5,238.8 466.0,231.5 456.3,235.9" stroke="#6cbf82"/><polygon points="341.0,244.5 350.7,232.4 343.2,235.2 333.5,235.8" stroke="#6abe83"/><polygon points="402.4,231.9 412.1,240.4 404.6,233.8 394.9,232.8" stroke="#7dbf7b"/><polygon points="262.4,233.2 272.1,229.9 264.6,224.6 254.9,229.9" stroke="#a3be6c"/><polygon points="419.6,241.8 429.3,239.6 421.8,236.5 412.1,240.4" stroke="#58bd8c"/><polygon points="279.6,236.2 289.3,234.8 281.8,225.0 272.1,229.9" stroke="#9abf6f"/><polygon points="358.2,240.7 367.9,233.7 360.4,232.8 350.7,232.4" stroke="#84bf78"/><polygon points="436.8,241.7 446.6,237.1 439.1,238.6 429.3,239.6" stroke="#62be87"/><polygon points="296.8,237.0 306.5,229.7 299.0,232.3 289.3,234.8" stroke="#90bf73"/><polygon points="375.4,239.1 385.2,238.0 377.7,233.7 367.9,233.7" stroke="#80bf7a"/><polygon points="454.1,244.2 463.8,239.6 456.3,235.9 446.6,237.1" stroke="#6abe83"/><polygon points="314.1,239.9 323.8,235.0 316.3,230.0 306.5,229.7" stroke="#95bf71"/><polygon points="331.3,244.5 341.0,244.5 333.5,235.8 323.8,235.0" stroke="#66be85"/><polygon points="252.7,235.6 262.4,233.2 254.9,229.9 245.2,233.1" stroke="#9bbf6f"/><polygon points="392.7,245.5 402.4,231.9 394.9,232.8 385.2,238.0" stroke="#7fbf7a"/><polygon points="409.9,244.3 419.6,241.8 412.1,240.4 402.4,231.9" stroke="#6fbf81"/><polygon points="348.5,245.3 358.2,240.7 350.7,232.4 341.0,244.5" stroke="#66be85"/><polygon points="269.9,238.8 279.6,236.2 272.1,229.9 262.4,233.2" stroke="#95bf71"/><polygon points="427.1,246.0 436.8,241.7 429.3,239.6 419.6,241.8" stroke="#5dbe89"/><polygon points="287.1,240.0 296.8,237.0 289.3,234.8 279.6,236.2" stroke="#88bf77"/><polygon points="365.7,239.1 375.4,239.1 367.9,233.7 358.2,240.7" stroke="#84bf78"/><polygon points="304.3,246.0 314.1,239.9 306.5,229.7 296.8,237.0" stroke="#85bf78"/><polygon points="383.0,246.8 392.7,245.5 385.2,238.0 375.4,239.1" stroke="#65be86"/><polygon points="321.6,241.3 331.3,244.5 323.8,235.0 314.1,239.9" stroke="#7bbf7c"/><polygon points="338.8,246.8 348.5,245.3 341.0,244.5 331.3,244.5" stroke="#53bd8f"/><polygon points="260.2,247.8 269.9,238.8 262.4,233.2 252.7,235.6" stroke="#87bf77"/><polygon points="400.2,248.5 409.9,244.3 402.4,231.9 392.7,245.5" stroke="#6bbe83"/><polygon points="417.4,245.6 427.1,246.0 419.6,241.8 409.9,244.3" stroke="#61be88"/><polygon points="277.4,241.6 287.1,240.0 279.6,236.2 269.9,238.8" stroke="#8bbf75"/><polygon points="294.6,249.1 304.3,246.0 296.8,237.0 287.1,240.0" stroke="#70bf81"/><polygon points="356.0,241.6 365.7,239.1 358.2,240.7 348.5,245.3" stroke="#7bbf7c"/><polygon points="311.8,245.9 321.6,241.3 314.1,239.9 304.3,246.0" stroke="#75bf7e"/><polygon points="373.2,241.2 383.0,246.8 375.4,239.1 365.7,239.1" stroke="#83bf79"/><polygon points="390.5,243.8 400.2,248.5 392.7,245.5 383.0,246.8" stroke="#61be88"/><polygon points="329.1,247.2 338.8,246.8 331.3,244.5 321.6,241.3" stroke="#6dbf82"/><polygon points="267.7,238.9 277.4,241.6 269.9,238.8 260.2,247.8" stroke="#8abf76"/><polygon points="346.3,250.1 356.0,241.6 348.5,245.3 338.8,246.8" stroke="#6bbf83"/><polygon points="284.9,240.2 294.6,249.1 287.1,240.0 277.4,241.6" stroke="#89bf76"/><polygon points="302.1,241.2 311.8,245.9 304.3,246.0 294.6,249.1" stroke="#77bf7d"/><polygon points="363.5,244.7 373.2,241.2 365.7,239.1 356.0,241.6" stroke="#97bf71"/><polygon points="380.7,252.7 390.5,243.8 383.0,246.8 373.2,241.2" stroke="#78bf7d"/><polygon points="319.3,240.3 329.1,247.2 321.6,241.3 311.8,245.9" stroke="#8ebf74"/><polygon points="336.6,240.7 346.3,250.1 338.8,246.8 329.1,247.2" stroke="#7fbf7a"/><polygon points="275.2,237.1 284.9,240.2 277.4,241.6 267.7,238.9" stroke="#b4bd65"/><polygon points="353.8,241.4 363.5,244.7 356.0,241.6 346.3,250.1" stroke="#95bf71"/><polygon points="292.4,240.2 302.1,241.2 294.6,249.1 284.9,240.2" stroke="#a3be6c"/><polygon points="371.0,242.8 380.7,252.7 373.2,241.2 363.5,244.7" stroke="#94bf72"/><polygon points="388.2,242.7 398.0,255.0 390.5,243.8 380.7,252.7" stroke="#80bf7a"/><polygon points="309.6,240.9 319.3,240.3 311.8,245.9 302.1,241.2" stroke="#adbe68"/><polygon points="326.8,241.7 336.6,240.7 329.1,247.2 319.3,240.3" stroke="#afbe67"/><polygon points="282.7,263.6 292.4,240.2 284.9,240.2 275.2,237.1" stroke="none"/><path d="M282.7 263.6L292.4 240.2" stroke="#23b4ab"/><path d="M292.4 240.2L284.9 240.2" stroke="#b2bd66"/><path d="M284.9 240.2L275.2 237.1" stroke="#b2bd66"/><path d="M275.2 237.1L282.7 263.6" stroke="#23b4ab"/><polygon points="344.1,241.7 353.8,241.4 346.3,250.1 336.6,240.7" stroke="#aebe67"/><polygon points="290.2,308.6 299.9,264.5 292.4,240.2 282.7,263.6" stroke="none"/><path d="M290.2 308.6L299.9 264.5" stroke="#352a87"/><path d="M299.9 264.5L292.4 240.2" stroke="#22b4ab"/><path d="M292.4 240.2L282.7 263.6" stroke="#23b4ab"/><path d="M282.7 263.6L290.2 308.6" stroke="#352a87"/><polygon points="299.9,264.5 309.6,240.9 302.1,241.2 292.4,240.2" stroke="none"/><path d="M299.9 264.5L309.6 240.9" stroke="#22b4ab"/><path d="M309.6 240.9L302.1 241.2" stroke="#b1bd66"/><path d="M302.1 241.2L292.4 240.2" stroke="#b1bd66"/><path d="M292.4 240.2L299.9 264.5" stroke="#22b4ab"/><polygon points="361.3,244.0 371.0,242.8 363.5,244.7 353.8,241.4" stroke="#b5bd64"/><polygon points="307.4,307.7 317.1,262.6 309.6,240.9 299.9,264.5" stroke="none"/><path d="M307.4 307.7L317.1 262.6" stroke="#352a87"/><path d="M317.1 262.6L309.6 240.9" stroke="#35b8a0"/><path d="M309.6 240.9L299.9 264.5" stroke="#22b4ab"/><path d="M299.9 264.5L307.4 307.7" stroke="#352a87"/><polygon points="378.5,243.6 388.2,242.7 380.7,252.7 371.0,242.8" stroke="#acbe68"/><polygon points="317.1,262.6 326.8,241.7 319.3,240.3 309.6,240.9" stroke="none"/><path d="M317.1 262.6L326.8 241.7" stroke="#35b8a0"/><path d="M326.8 241.7L319.3 240.3" stroke="#bcbd62"/><path d="M319.3 240.3L309.6 240.9" stroke="#bcbd62"/><path d="M309.6 240.9L317.1 262.6" stroke="#35b8a0"/><polygon points="395.7,244.0 405.5,246.9 398.0,255.0 388.2,242.7" stroke="#a5be6b"/><polygon points="324.6,309.1 334.4,264.3 326.8,241.7 317.1,262.6" stroke="none"/><path d="M324.6 309.1L334.4 264.3" stroke="#352a87"/><path d="M334.4 264.3L326.8 241.7" stroke="#2eb7a4"/><path d="M326.8 241.7L317.1 262.6" stroke="#35b8a0"/><path d="M317.1 262.6L324.6 309.1" stroke="#352a87"/><polygon points="334.4,264.3 344.1,241.7 336.6,240.7 326.8,241.7" stroke="none"/><path d="M334.4 264.3L344.1 241.7" stroke="#2eb7a4"/><path d="M344.1 241.7L336.6 240.7" stroke="#bebc61"/><path d="M336.6 240.7L326.8 241.7" stroke="#bebc61"/><path d="M326.8 241.7L334.4 264.3" stroke="#2eb7a4"/><polygon points="332.1,305.1 341.9,309.0 334.4,264.3 324.6,309.1" stroke="none"/><path d="M332.1 305.1L341.9 309.0" stroke="#352a87"/><path d="M341.9 309.0L334.4 264.3" stroke="#352a87"/><path d="M334.4 264.3L324.6 309.1" stroke="#352a87"/><path d="M324.6 309.1L332.1 305.1" stroke="#352a87"/><polygon points="351.6,265.7 361.3,244.0 353.8,241.4 344.1,241.7" stroke="none"/><path d="M351.6 265.7L361.3 244.0" stroke="#2ab6a7"/><path d="M361.3 244.0L353.8 241.4" stroke="#bfbc60"/><path d="M353.8 241.4L344.1 241.7" stroke="#bfbc60"/><path d="M344.1 241.7L351.6 265.7" stroke="#2ab6a7"/><polygon points="341.9,309.0 351.6,265.7 344.1,241.7 334.4,264.3" stroke="none"/><path d="M341.9 309.0L351.6 265.7" stroke="#352a87"/><path d="M351.6 265.7L344.1 241.7" stroke="#2ab6a7"/><path d="M344.1 241.7L334.4 264.3" stroke="#2eb7a4"/><path d="M334.4 264.3L341.9 309.0" stroke="#352a87"/><polygon points="349.4,306.3 359.1,311.1 351.6,265.7 341.9,309.0" stroke="none"/><path d="M349.4 306.3L359.1 311.1" stroke="#352a87"/><path d="M359.1 311.1L351.6 265.7" stroke="#352a87"/><path d="M351.6 265.7L341.9 309.0" stroke="#352a87"/><path d="M341.9 309.0L349.4 306.3" stroke="#352a87"/><polygon points="359.1,311.1 368.8,266.2 361.3,244.0 351.6,265.7" stroke="none"/><path d="M359.1 311.1L368.8 266.2" stroke="#352a87"/><path d="M368.8 266.2L361.3 244.0" stroke="#2cb7a5"/><path d="M361.3 244.0L351.6 265.7" stroke="#2ab6a7"/><path d="M351.6 265.7L359.1 311.1" stroke="#352a87"/><polygon points="368.8,266.2 378.5,243.6 371.0,242.8 361.3,244.0" stroke="none"/><path d="M368.8 266.2L378.5 243.6" stroke="#2cb7a5"/><path d="M378.5 243.6L371.0 242.8" stroke="#bbbd62"/><path d="M371.0 242.8L361.3 244.0" stroke="#bbbd62"/><path d="M361.3 244.0L368.8 266.2" stroke="#2cb7a5"/><polygon points="366.6,305.5 376.3,312.2 368.8,266.2 359.1,311.1" stroke="none"/><path d="M366.6 305.5L376.3 312.2" stroke="#352a87"/><path d="M376.3 312.2L368.8 266.2" stroke="#352a87"/><path d="M368.8 266.2L359.1 311.1" stroke="#352a87"/><path d="M359.1 311.1L366.6 305.5" stroke="#352a87"/><polygon points="376.3,312.2 386.0,267.2 378.5,243.6 368.8,266.2" stroke="none"/><path d="M376.3 312.2L386.0 267.2" stroke="#352a87"/><path d="M386.0 267.2L378.5 243.6" stroke="#2ab6a6"/><path d="M378.5 243.6L368.8 266.2" stroke="#2cb7a5"/><path d="M368.8 266.2L376.3 312.2" stroke="#352a87"/><polygon points="386.0,267.2 395.7,244.0 388.2,242.7 378.5,243.6" stroke="none"/><path d="M386.0 267.2L395.7 244.0" stroke="#2ab6a6"/><path d="M395.7 244.0L388.2 242.7" stroke="#c1bc60"/><path d="M388.2 242.7L378.5 243.6" stroke="#c1bc60"/><path d="M378.5 243.6L386.0 267.2" stroke="#2ab6a6"/><polygon points="383.8,306.8 393.5,312.7 386.0,267.2 376.3,312.2" stroke="none"/><path d="M383.8 306.8L393.5 312.7" stroke="#352a87"/><path d="M393.5 312.7L386.0 267.2" stroke="#352a87"/><path d="M386.0 267.2L376.3 312.2" stroke="#352a87"/><path d="M376.3 312.2L383.8 306.8" stroke="#352a87"/><polygon points="339.6,307.6 349.4,306.3 341.9,309.0 332.1,305.1" stroke="#353ba8"/><polygon points="403.2,267.1 413.0,246.4 405.5,246.9 395.7,244.0" stroke="none"/><path d="M403.2 267.1L413.0 246.4" stroke="#31b8a2"/><path d="M413.0 246.4L405.5 246.9" stroke="#a9be69"/><path d="M405.5 246.9L395.7 244.0" stroke="#a9be69"/><path d="M395.7 244.0L403.2 267.1" stroke="#31b8a2"/><polygon points="393.5,312.7 403.2,267.1 395.7,244.0 386.0,267.2" stroke="none"/><path d="M393.5 312.7L403.2 267.1" stroke="#352a87"/><path d="M403.2 267.1L395.7 244.0" stroke="#31b8a2"/><path d="M395.7 244.0L386.0 267.2" stroke="#2ab6a6"/><path d="M386.0 267.2L393.5 312.7" stroke="#352a87"/><polygon points="401.0,307.2 410.8,312.4 403.2,267.1 393.5,312.7" stroke="none"/><path d="M401.0 307.2L410.8 312.4" stroke="#352a87"/><path d="M410.8 312.4L403.2 267.1" stroke="#352a87"/><path d="M403.2 267.1L393.5 312.7" stroke="#352a87"/><path d="M393.5 312.7L401.0 307.2" stroke="#352a87"/><polygon points="356.9,308.5 366.6,305.5 359.1,311.1 349.4,306.3" stroke="#353aa8"/><polygon points="410.8,312.4 420.5,269.5 413.0,246.4 403.2,267.1" stroke="none"/><path d="M410.8 312.4L420.5 269.5" stroke="#352a87"/><path d="M420.5 269.5L413.0 246.4" stroke="#25b5a9"/><path d="M413.0 246.4L403.2 267.1" stroke="#31b8a2"/><path d="M403.2 267.1L410.8 312.4" stroke="#352a87"/><polygon points="374.1,309.1 383.8,306.8 376.3,312.2 366.6,305.5" stroke="#353caa"/><polygon points="391.3,310.1 401.0,307.2 393.5,312.7 383.8,306.8" stroke="#353caa"/><polygon points="329.9,308.9 339.6,307.6 332.1,305.1 322.4,307.7" stroke="#3046be"/><polygon points="347.1,309.2 356.9,308.5 349.4,306.3 339.6,307.6" stroke="#2e47c1"/><polygon points="364.4,312.6 374.1,309.1 366.6,305.5 356.9,308.5" stroke="#3046bf"/><polygon points="381.6,312.3 391.3,310.1 383.8,306.8 374.1,309.1" stroke="#2f47c0"/><polygon points="320.2,312.1 329.9,308.9 322.4,307.7 312.7,309.1" stroke="#2e48c2"/><polygon points="337.4,313.4 347.1,309.2 339.6,307.6 329.9,308.9" stroke="#2b4bc7"/><polygon points="354.7,313.4 364.4,312.6 356.9,308.5 347.1,309.2" stroke="#2d49c4"/><polygon points="371.9,314.0 381.6,312.3 374.1,309.1 364.4,312.6" stroke="#2e47c1"/><polygon points="327.7,317.4 337.4,313.4 329.9,308.9 320.2,312.1" stroke="#2f47c0"/><polygon points="344.9,317.0 354.7,313.4 347.1,309.2 337.4,313.4" stroke="#2c4ac6"/><polygon points="362.2,318.6 371.9,314.0 364.4,312.6 354.7,313.4" stroke="#2f47bf"/><polygon points="335.2,317.4 344.9,317.0 337.4,313.4 327.7,317.4" stroke="#2f47c0"/><polygon points="352.4,321.1 362.2,318.6 354.7,313.4 344.9,317.0" stroke="#3144bc"/><polygon points="342.7,320.4 352.4,321.1 344.9,317.0 335.2,317.4" stroke="#2c4ac6"/></g>
<line x1="801.4" y1="292.3" x2="1073.5" y2="221.8" stroke="#c9c9c9" stroke-width="1"/>
<line x1="1073.5" y1="221.8" x2="1283.7" y2="314.4" stroke="#c9c9c9" stroke-width="1"/>
<line x1="801.4" y1="263.3" x2="1073.5" y2="192.9" stroke="#c9c9c9" stroke-width="1"/>
<line x1="1073.5" y1="192.9" x2="1283.7" y2="285.4" stroke="#c9c9c9" stroke-width="1"/>
<line x1="801.4" y1="234.3" x2="1073.5" y2="163.9" stroke="#c9c9c9" stroke-width="1"/>
<line x1="1073.5" y1="163.9" x2="1283.7" y2="256.5" stroke="#c9c9c9" stroke-width="1"/>
<line x1="801.4" y1="205.4" x2="1073.5" y2="135.0" stroke="#c9c9c9" stroke-width="1"/>
<line x1="1073.5" y1="135.0" x2="1283.7" y2="227.5" stroke="#c9c9c9" stroke-width="1"/>
<line x1="801.4" y1="176.4" x2="1073.5" y2="106.0" stroke="#c9c9c9" stroke-width="1"/>
<line x1="1073.5" y1="106.0" x2="1283.7" y2="198.5" stroke="#c9c9c9" stroke-width="1"/>
<line x1="801.4" y1="147.5" x2="1073.5" y2="77.0" stroke="#c9c9c9" stroke-width="1"/>
<line x1="1073.5" y1="77.0" x2="1283.7" y2="169.6" stroke="#c9c9c9" stroke-width="1"/>
<line x1="801.4" y1="118.5" x2="1073.5" y2="48.1" stroke="#c9c9c9" stroke-width="1"/>
<line x1="1073.5" y1="48.1" x2="1283.7" y2="140.6" stroke="#c9c9c9" stroke-width="1"/>
<line x1="801.4" y1="89.5" x2="1073.5" y2="19.1" stroke="#c9c9c9" stroke-width="1"/>
<line x1="1073.5" y1="19.1" x2="1283.7" y2="111.7" stroke="#c9c9c9" stroke-width="1"/>
<line x1="879.1" y1="272.1" x2="879.1" y2="69.4" stroke="#c9c9c9" stroke-width="1"/>
<line x1="976.3" y1="247.0" x2="976.3" y2="44.3" stroke="#c9c9c9" stroke-width="1"/>
<line x1="1073.5" y1="221.8" x2="1073.5" y2="19.1" stroke="#c9c9c9" stroke-width="1"/>
<line x1="1223.6" y1="287.9" x2="1223.6" y2="85.2" stroke="#c9c9c9" stroke-width="1"/>
<line x1="1148.6" y1="254.9" x2="1148.6" y2="52.2" stroke="#c9c9c9" stroke-width="1"/>
<line x1="1089.3" y1="364.7" x2="879.1" y2="272.1" stroke="#c9c9c9" stroke-width="1"/>
<line x1="1186.5" y1="339.5" x2="976.3" y2="247.0" stroke="#c9c9c9" stroke-width="1"/>
<line x1="951.5" y1="358.4" x2="1223.6" y2="287.9" stroke="#c9c9c9" stroke-width="1"/>
<line x1="876.4" y1="325.3" x2="1148.6" y2="254.9" stroke="#c9c9c9" stroke-width="1"/>
<g fill="none" stroke-width="1.3" stroke-linejoin="round"><polyline points="880.6,248.6 896.2,249.7 897.4,249.5 907.8,248.0 921.7,248.4 926.3,252.5 934.3,255.7 934.2,259.6 921.2,260.7 915.3,264.9 915.7,265.7 921.5,269.5 927.8,273.1 933.6,276.9 943.0,279.7 950.0,283.1 956.6,286.6 961.8,290.5 972.5,293.0 971.7,296.5 972.5,298.3 977.1,302.3 985.0,305.5 995.7,307.1 997.5,307.5 1009.5,309.7 1019.9,311.0 1023.0,311.4 1034.9,313.6 1044.9,315.2 1047.4,315.6 1060.7,317.4 1066.4,317.9 1076.2,318.7 1085.6,319.5 1091.1,320.0 1100.6,322.8 1112.3,325.1 1114.1,325.3 1127.0,326.5 1133.4,327.0 1141.4,328.0" stroke="#5fbe89"/><polyline points="1097.1,209.0 1087.0,210.9 1086.2,211.1 1085.9,211.2 1080.0,215.1 1072.4,218.6 1064.0,221.7 1059.6,223.3 1055.5,224.7 1047.8,226.3 1044.7,226.7 1042.3,227.7 1036.1,229.8 1031.8,230.5 1024.6,231.5 1018.5,233.9 1016.4,234.7 1013.8,235.1 1005.4,236.6 991.9,237.5 982.3,240.1 972.4,240.6 964.1,237.5 959.9,237.0 950.8,235.7 947.5,231.5 947.3,231.3" stroke="#5fbe89"/><polyline points="897.1,250.1 887.9,252.8 893.7,255.7 894.7,255.8 906.2,254.1 906.2,252.5 897.1,250.1" stroke="#5fbe89"/><polyline points="1113.3,216.2 1105.3,219.5 1094.9,221.7 1082.4,223.0 1077.6,223.9 1071.7,225.0 1068.5,226.2 1063.7,228.3 1055.6,231.5 1045.6,233.9 1037.7,234.2 1031.9,234.7 1029.2,236.4 1026.2,239.0 1016.7,241.6 1008.0,241.8 1002.8,242.3 996.6,244.8 994.9,245.6 985.9,248.4 978.6,252.0 969.8,254.9 967.5,257.6 974.5,261.0 986.7,263.1 988.2,268.0 988.2,269.8 982.0,273.9 981.8,274.9 987.0,278.8 995.6,279.9 1002.9,279.9 1012.1,280.4 1022.0,280.2 1017.9,282.9 1017.5,286.6 1024.3,290.1 1036.1,290.9 1039.6,291.4 1050.7,293.8 1047.2,295.8 1042.4,295.9 1031.0,295.5 1025.8,295.0 1015.0,292.5 1010.3,293.2 996.0,293.7 986.0,296.0 984.8,300.3 991.7,303.8 1001.9,306.4 1012.1,307.5 1015.9,308.0 1029.9,309.7 1033.3,310.1 1044.7,311.1 1053.2,312.0 1059.5,312.5 1070.6,312.9 1077.6,313.0 1087.2,313.4 1094.2,314.0 1107.7,315.7 1108.0,315.8 1124.7,316.3 1125.6,316.4 1138.8,318.2 1146.0,318.9 1152.3,320.0 1161.0,322.9" stroke="#91bf73"/><polyline points="948.3,272.7 948.6,273.0 949.1,273.0 949.4,272.8 948.3,272.7" stroke="#91bf73"/><polyline points="1146.4,230.8 1132.8,231.6 1122.6,233.9 1120.7,233.7 1108.9,231.5 1102.9,232.0 1090.6,231.0 1082.4,229.8 1074.1,232.9 1069.1,236.5 1068.4,237.2 1058.3,239.4 1058.0,239.4 1046.0,240.9 1037.5,244.0 1036.0,245.1 1031.3,248.0 1023.1,251.2 1018.0,249.8 1005.6,250.3 996.9,253.3 993.4,256.1 1002.2,259.1 1004.7,263.5 1004.8,263.7 1008.1,268.1 1019.0,269.8 1023.7,269.3 1036.4,271.2 1043.5,274.6 1048.7,278.6 1050.9,283.2 1066.7,284.0 1068.4,283.9 1072.9,286.8 1073.9,287.8 1069.5,292.1 1071.5,293.6 1074.4,294.2 1089.0,293.8 1090.5,288.7 1088.0,286.6 1088.1,284.1 1092.9,282.0 1097.5,281.7 1110.7,283.0 1111.7,283.2 1128.0,283.8 1129.8,283.8 1143.3,283.8 1151.3,283.5 1156.5,287.4 1156.4,289.5 1151.8,293.9 1152.0,294.4 1154.7,298.3 1151.5,300.9 1145.1,300.8 1141.5,296.6 1143.0,296.1 1141.8,291.2 1139.6,288.9 1139.1,286.7 1131.5,285.4 1126.7,284.6 1112.1,283.6 1102.1,286.0 1101.3,291.2 1110.0,294.2 1114.8,298.2 1114.7,298.4 1114.1,298.3 1100.3,298.8 1087.6,300.0 1087.4,300.0 1073.7,298.3 1069.1,298.6 1054.4,299.0 1051.5,298.8 1038.3,298.7 1032.5,298.5 1020.5,297.6 1016.5,297.4 1002.4,296.5 993.0,298.2 991.5,298.5 991.5,298.6 996.4,302.6 1006.2,305.3 1007.2,305.4 1019.8,307.0 1028.2,307.8 1035.4,308.2 1046.3,309.0 1051.7,309.2 1063.9,310.0 1068.4,310.2 1080.7,310.6 1086.5,310.7 1098.4,311.5 1102.7,311.8 1116.9,312.9 1118.5,313.0 1133.8,313.6 1135.9,313.7 1151.8,314.8 1152.2,314.9 1168.5,315.2 1170.3,315.3 1186.2,316.4" stroke="#babd62"/><polyline points="1161.4,275.6 1162.8,278.7 1154.3,277.5 1155.8,275.7 1161.4,275.6" stroke="#babd62"/><polyline points="1160.1,236.8 1153.4,235.7 1151.1,232.9" stroke="#babd62"/><polyline points="1221.9,307.2 1208.8,305.8 1207.3,305.7 1192.9,305.6 1187.8,305.5 1176.8,305.3 1170.2,304.8 1159.9,304.7 1150.1,304.8 1144.5,304.7 1134.1,303.7 1125.2,303.0 1117.5,302.7 1108.3,302.3 1100.5,301.9 1092.5,302.2 1079.9,302.0 1076.0,301.7 1061.1,301.6 1060.3,301.6 1044.5,300.6 1042.6,300.6 1026.4,300.1 1025.9,300.0 1010.1,299.0 1007.9,298.9 1005.9,300.1 1012.1,303.8 1023.8,306.0 1024.1,306.0 1040.5,306.9 1041.7,307.0 1057.5,307.8 1059.1,307.8 1074.4,308.6 1076.4,308.7 1092.7,309.1 1093.0,309.2 1109.0,310.2 1111.0,310.3 1126.0,311.0 1128.2,311.1 1142.2,312.1 1146.5,312.4 1158.8,313.0 1163.7,313.1 1177.1,313.5 1180.6,313.8 1191.8,315.0" stroke="#dfba53"/><polyline points="1176.3,243.9 1165.3,245.9 1160.9,244.3 1148.9,242.1 1138.0,240.7 1135.7,240.3 1119.6,239.4 1118.5,239.5 1104.0,239.3 1101.2,238.7 1086.0,238.2 1077.4,241.2 1067.7,243.7 1058.9,246.6 1051.6,250.2 1045.5,253.1 1045.2,254.1 1045.6,258.4 1052.7,261.8 1057.6,265.8 1070.1,267.8 1077.8,268.5 1084.9,269.2 1096.7,270.0 1102.5,269.9 1110.4,269.3 1123.7,268.3 1133.1,267.2 1137.1,267.5 1146.8,264.9 1157.6,262.9 1162.9,259.5 1163.8,258.8 1167.5,258.3 1166.8,260.1 1170.0,262.9 1173.6,263.1 1184.5,261.1 1196.7,259.7 1202.0,259.9 1208.4,263.5 1210.6,265.8 1203.9,269.7 1191.5,271.0 1182.6,273.9 1183.2,275.2 1187.3,276.0 1196.8,277.0 1208.4,278.5 1210.6,278.6 1212.2,280.1 1206.9,279.6 1197.2,280.3 1197.0,282.1 1197.3,287.2 1196.5,287.5 1197.9,287.4 1213.0,287.3 1216.2,287.7 1220.9,290.7 1220.2,291.9 1224.9,295.9 1234.1,298.8 1239.1,298.8 1252.9,299.2" stroke="#dfba53"/><polyline points="1268.5,295.1 1270.1,292.0 1274.9,288.2 1266.8,285.1 1266.2,283.5" stroke="#dfba53"/><polyline points="1256.8,279.4 1252.0,278.4 1250.1,276.4" stroke="#dfba53"/><polyline points="1207.1,311.0 1204.9,310.9 1203.5,312.0" stroke="#febf3c"/><polyline points="1230.4,267.7 1230.3,268.3 1232.4,268.6" stroke="#febf3c"/><polyline points="1087.3,245.5 1077.7,248.1 1070.7,251.8 1070.5,251.9 1068.0,257.4 1068.1,257.8 1069.1,262.8 1082.7,264.5 1084.5,264.7 1097.7,265.9 1102.7,265.9 1117.9,265.8 1119.2,265.6 1128.5,263.6 1132.0,262.2 1136.8,260.5 1146.9,258.2 1144.1,253.9 1138.4,250.1 1130.7,246.8 1122.7,243.7 1114.7,244.0 1101.8,245.1 1095.3,245.5 1087.3,245.5" stroke="#febf3c"/><polyline points="1086.3,251.9 1078.3,255.1 1078.3,255.2 1080.2,259.9 1090.6,260.6 1098.7,260.4 1107.1,261.0 1118.0,259.0 1124.9,258.8 1131.0,257.9 1131.8,257.0 1126.3,253.2 1115.3,251.1 1114.7,251.0 1097.9,250.2 1097.4,250.2 1086.3,251.9" stroke="#f8d727"/></g>
<line x1="801.4" y1="292.3" x2="801.4" y2="89.5" stroke="#262626" stroke-width="1.3"/>
<line x1="801.4" y1="292.3" x2="1011.5" y2="384.8" stroke="#262626" stroke-width="1.3"/>
<line x1="1011.5" y1="384.8" x2="1283.7" y2="314.4" stroke="#262626" stroke-width="1.3"/>
<line x1="801.4" y1="292.3" x2="794.4" y2="289.2" stroke="#262626" stroke-width="1.3"/>
<text x="787.4" y="294.1" text-anchor="end" class="t3">30</text>
<line x1="801.4" y1="263.3" x2="794.4" y2="260.2" stroke="#262626" stroke-width="1.3"/>
<text x="787.4" y="265.1" text-anchor="end" class="t3">40</text>
<line x1="801.4" y1="234.3" x2="794.4" y2="231.2" stroke="#262626" stroke-width="1.3"/>
<text x="787.4" y="236.1" text-anchor="end" class="t3">50</text>
<line x1="801.4" y1="205.4" x2="794.4" y2="202.3" stroke="#262626" stroke-width="1.3"/>
<text x="787.4" y="207.2" text-anchor="end" class="t3">60</text>
<line x1="801.4" y1="176.4" x2="794.4" y2="173.3" stroke="#262626" stroke-width="1.3"/>
<text x="787.4" y="178.2" text-anchor="end" class="t3">70</text>
<line x1="801.4" y1="147.5" x2="794.4" y2="144.4" stroke="#262626" stroke-width="1.3"/>
<text x="787.4" y="149.3" text-anchor="end" class="t3">80</text>
<line x1="801.4" y1="118.5" x2="794.4" y2="115.4" stroke="#262626" stroke-width="1.3"/>
<text x="787.4" y="120.3" text-anchor="end" class="t3">90</text>
<line x1="801.4" y1="89.5" x2="794.4" y2="86.4" stroke="#262626" stroke-width="1.3"/>
<text x="787.4" y="91.3" text-anchor="end" class="t3">100</text>
<line x1="951.5" y1="358.4" x2="944.5" y2="360.2" stroke="#262626" stroke-width="1.3"/>
<text x="938.0" y="376.8" text-anchor="end" class="t3">0</text>
<line x1="876.4" y1="325.3" x2="869.4" y2="327.1" stroke="#262626" stroke-width="1.3"/>
<text x="862.9" y="343.7" text-anchor="end" class="t3">5</text>
<line x1="801.4" y1="292.3" x2="794.4" y2="294.1" stroke="#262626" stroke-width="1.3"/>
<text x="787.9" y="310.7" text-anchor="end" class="t3">10</text>
<line x1="1089.3" y1="364.7" x2="1096.3" y2="367.8" stroke="#262626" stroke-width="1.3"/>
<text x="1100.8" y="384.7" class="t3">0</text>
<line x1="1186.5" y1="339.5" x2="1193.5" y2="342.6" stroke="#262626" stroke-width="1.3"/>
<text x="1198.0" y="359.5" class="t3">5</text>
<line x1="1283.7" y1="314.4" x2="1290.7" y2="317.5" stroke="#262626" stroke-width="1.3"/>
<text x="1295.2" y="334.4" class="t3">10</text>
<text x="861.3" y="390.8" text-anchor="middle" class="l3">log2g</text>
<text x="1195.5" y="408.9" text-anchor="middle" class="l3">log2c</text>
<text transform="translate(751.5,183.8) rotate(-90)" text-anchor="middle" class="l3 acc">Accuracy(%)</text>
<text x="677.0" y="49.5" class="let">B</text>
<g fill="#fff" stroke-width="1.35" stroke-linejoin="round"><polygon points="1071.3,147.2 1081.0,148.8 1073.5,147.3 1063.8,151.4" stroke="#1cb3b0"/><polygon points="1061.6,158.7 1071.3,147.2 1063.8,151.4 1054.1,147.4" stroke="#1cb3b0"/><polygon points="1078.8,149.0 1088.5,146.0 1081.0,148.8 1071.3,147.2" stroke="#32b8a1"/><polygon points="1051.9,150.9 1061.6,158.7 1054.1,147.4 1044.4,146.3" stroke="#2bb6a6"/><polygon points="1069.1,151.9 1078.8,149.0 1071.3,147.2 1061.6,158.7" stroke="#2ab6a6"/><polygon points="1086.3,145.9 1096.0,147.8 1088.5,146.0 1078.8,149.0" stroke="#4bbc93"/><polygon points="1042.1,157.1 1051.9,150.9 1044.4,146.3 1034.6,151.8" stroke="#35b89f"/><polygon points="1059.4,153.5 1069.1,151.9 1061.6,158.7 1051.9,150.9" stroke="#2db7a4"/><polygon points="1076.6,150.9 1086.3,145.9 1078.8,149.0 1069.1,151.9" stroke="#4dbc92"/><polygon points="1032.4,161.5 1042.1,157.1 1034.6,151.8 1024.9,159.1" stroke="#23b4ab"/><polygon points="1049.7,164.1 1059.4,153.5 1051.9,150.9 1042.1,157.1" stroke="#2cb7a5"/><polygon points="1093.8,146.9 1103.5,139.1 1096.0,147.8 1086.3,145.9" stroke="#73bf7f"/><polygon points="1066.9,158.6 1076.6,150.9 1069.1,151.9 1059.4,153.5" stroke="#41ba98"/><polygon points="1022.7,161.7 1032.4,161.5 1024.9,159.1 1015.2,160.7" stroke="#1eb3ae"/><polygon points="1039.9,157.5 1049.7,164.1 1042.1,157.1 1032.4,161.5" stroke="#26b5a9"/><polygon points="1084.1,152.4 1093.8,146.9 1086.3,145.9 1076.6,150.9" stroke="#68be84"/><polygon points="1057.2,162.4 1066.9,158.6 1059.4,153.5 1049.7,164.1" stroke="#2cb7a5"/><polygon points="1101.3,148.9 1111.0,151.1 1103.5,139.1 1093.8,146.9" stroke="#7fbf7a"/><polygon points="1013.0,164.6 1022.7,161.7 1015.2,160.7 1005.5,159.9" stroke="#26b5a9"/><polygon points="1030.2,167.6 1039.9,157.5 1032.4,161.5 1022.7,161.7" stroke="#29b6a7"/><polygon points="1074.4,153.2 1084.1,152.4 1076.6,150.9 1066.9,158.6" stroke="#58bd8c"/><polygon points="1047.4,161.6 1057.2,162.4 1049.7,164.1 1039.9,157.5" stroke="#31b8a2"/><polygon points="1091.6,149.2 1101.3,148.9 1093.8,146.9 1084.1,152.4" stroke="#7dbf7b"/><polygon points="1003.3,161.9 1013.0,164.6 1005.5,159.9 995.8,159.1" stroke="#36b99f"/><polygon points="1020.5,170.7 1030.2,167.6 1022.7,161.7 1013.0,164.6" stroke="#20b4ad"/><polygon points="1064.7,157.3 1074.4,153.2 1066.9,158.6 1057.2,162.4" stroke="#4dbc92"/><polygon points="1108.8,149.4 1118.6,137.5 1111.0,151.1 1101.3,148.9" stroke="#93bf72"/><polygon points="1037.7,160.6 1047.4,161.6 1039.9,157.5 1030.2,167.6" stroke="#3eba9a"/><polygon points="1081.9,153.1 1091.6,149.2 1084.1,152.4 1074.4,153.2" stroke="#7dbf7b"/><polygon points="993.5,168.3 1003.3,161.9 995.8,159.1 986.0,167.7" stroke="#34b8a0"/><polygon points="1054.9,163.5 1064.7,157.3 1057.2,162.4 1047.4,161.6" stroke="#47bb95"/><polygon points="1099.1,152.8 1108.8,149.4 1101.3,148.9 1091.6,149.2" stroke="#8ebf74"/><polygon points="1010.8,167.7 1020.5,170.7 1013.0,164.6 1003.3,161.9" stroke="#2db7a4"/><polygon points="1028.0,162.6 1037.7,160.6 1030.2,167.6 1020.5,170.7" stroke="#37b99e"/><polygon points="1072.2,153.5 1081.9,153.1 1074.4,153.2 1064.7,157.3" stroke="#7ebf7b"/><polygon points="1116.3,150.4 1126.1,143.5 1118.6,137.5 1108.8,149.4" stroke="#b0bd67"/><polygon points="983.8,171.5 993.5,168.3 986.0,167.7 976.3,158.4" stroke="#36b99f"/><polygon points="1045.2,163.5 1054.9,163.5 1047.4,161.6 1037.7,160.6" stroke="#51bc90"/><polygon points="1001.1,172.6 1010.8,167.7 1003.3,161.9 993.5,168.3" stroke="#34b8a0"/><polygon points="1089.4,148.3 1099.1,152.8 1091.6,149.2 1081.9,153.1" stroke="#99bf70"/><polygon points="1018.3,169.3 1028.0,162.6 1020.5,170.7 1010.8,167.7" stroke="#39b99d"/><polygon points="1106.6,150.3 1116.3,150.4 1108.8,149.4 1099.1,152.8" stroke="#9ebe6d"/><polygon points="1062.4,156.4 1072.2,153.5 1064.7,157.3 1054.9,163.5" stroke="#78bf7d"/><polygon points="974.1,175.2 983.8,171.5 976.3,158.4 966.6,163.9" stroke="#41ba98"/><polygon points="1123.8,149.4 1133.6,148.8 1126.1,143.5 1116.3,150.4" stroke="#b2bd66"/><polygon points="1035.5,168.7 1045.2,163.5 1037.7,160.6 1028.0,162.6" stroke="#58bd8c"/><polygon points="991.3,170.6 1001.1,172.6 993.5,168.3 983.8,171.5" stroke="#30b7a3"/><polygon points="1079.7,147.7 1089.4,148.3 1081.9,153.1 1072.2,153.5" stroke="#a9be69"/><polygon points="1008.6,173.0 1018.3,169.3 1010.8,167.7 1001.1,172.6" stroke="#35b89f"/><polygon points="1052.7,159.6 1062.4,156.4 1054.9,163.5 1045.2,163.5" stroke="#74bf7f"/><polygon points="1096.9,155.8 1106.6,150.3 1099.1,152.8 1089.4,148.3" stroke="#a7be6a"/><polygon points="964.4,172.8 974.1,175.2 966.6,163.9 956.9,171.3" stroke="#3ab99c"/><polygon points="1025.8,168.1 1035.5,168.7 1028.0,162.6 1018.3,169.3" stroke="#52bd8f"/><polygon points="1114.1,151.7 1123.8,149.4 1116.3,150.4 1106.6,150.3" stroke="#b3bd65"/><polygon points="981.6,170.9 991.3,170.6 983.8,171.5 974.1,175.2" stroke="#37b99e"/><polygon points="1070.0,158.9 1079.7,147.7 1072.2,153.5 1062.4,156.4" stroke="#a3be6b"/><polygon points="1131.3,152.3 1141.1,152.2 1133.6,148.8 1123.8,149.4" stroke="#b6bd64"/><polygon points="998.8,180.6 1008.6,173.0 1001.1,172.6 991.3,170.6" stroke="#2fb7a3"/><polygon points="1043.0,165.5 1052.7,159.6 1045.2,163.5 1035.5,168.7" stroke="#6dbf82"/><polygon points="1087.2,154.7 1096.9,155.8 1089.4,148.3 1079.7,147.7" stroke="#b6bd64"/><polygon points="1016.1,171.5 1025.8,168.1 1018.3,169.3 1008.6,173.0" stroke="#4cbc92"/><polygon points="1104.4,156.3 1114.1,151.7 1106.6,150.3 1096.9,155.8" stroke="#b0bd67"/><polygon points="954.7,175.7 964.4,172.8 956.9,171.3 947.2,164.4" stroke="#49bc94"/><polygon points="1060.2,160.8 1070.0,158.9 1062.4,156.4 1052.7,159.6" stroke="#96bf71"/><polygon points="971.9,174.5 981.6,170.9 974.1,175.2 964.4,172.8" stroke="#3fba9a"/><polygon points="1121.6,158.3 1131.3,152.3 1123.8,149.4 1114.1,151.7" stroke="#b7bd64"/><polygon points="989.1,172.1 998.8,180.6 991.3,170.6 981.6,170.9" stroke="#43bb97"/><polygon points="1033.3,157.9 1043.0,165.5 1035.5,168.7 1025.8,168.1" stroke="#79bf7d"/><polygon points="1138.9,155.1 1148.6,151.9 1141.1,152.2 1131.3,152.3" stroke="#bcbd62"/><polygon points="1077.5,149.4 1087.2,154.7 1079.7,147.7 1070.0,158.9" stroke="#bebc61"/><polygon points="1006.3,171.2 1016.1,171.5 1008.6,173.0 998.8,180.6" stroke="#45bb96"/><polygon points="1050.5,161.3 1060.2,160.8 1052.7,159.6 1043.0,165.5" stroke="#94bf72"/><polygon points="944.9,170.7 954.7,175.7 947.2,164.4 937.4,172.3" stroke="#5dbe89"/><polygon points="1094.7,144.8 1104.4,156.3 1096.9,155.8 1087.2,154.7" stroke="#c1bc60"/><polygon points="962.2,173.3 971.9,174.5 964.4,172.8 954.7,175.7" stroke="#4bbc93"/><polygon points="1111.9,152.8 1121.6,158.3 1114.1,151.7 1104.4,156.3" stroke="#bbbd62"/><polygon points="1023.6,171.6 1033.3,157.9 1025.8,168.1 1016.1,171.5" stroke="#7bbf7c"/><polygon points="979.4,183.1 989.1,172.1 981.6,170.9 971.9,174.5" stroke="#49bc94"/><polygon points="1067.7,161.2 1077.5,149.4 1070.0,158.9 1060.2,160.8" stroke="#b1bd66"/><polygon points="1129.1,157.3 1138.9,155.1 1131.3,152.3 1121.6,158.3" stroke="#babd63"/><polygon points="996.6,173.8 1006.3,171.2 998.8,180.6 989.1,172.1" stroke="#54bd8e"/><polygon points="1146.4,157.4 1156.1,159.4 1148.6,151.9 1138.9,155.1" stroke="#bdbd61"/><polygon points="1040.8,161.9 1050.5,161.3 1043.0,165.5 1033.3,157.9" stroke="#a4be6b"/><polygon points="935.2,170.5 944.9,170.7 937.4,172.3 927.7,168.8" stroke="#71bf80"/><polygon points="1085.0,154.8 1094.7,144.8 1087.2,154.7 1077.5,149.4" stroke="#d8ba56"/><polygon points="1013.8,170.8 1023.6,171.6 1016.1,171.5 1006.3,171.2" stroke="#71bf80"/><polygon points="952.4,165.0 962.2,173.3 954.7,175.7 944.9,170.7" stroke="#72bf80"/><polygon points="1058.0,161.7 1067.7,161.2 1060.2,160.8 1050.5,161.3" stroke="#aabe69"/><polygon points="969.7,177.8 979.4,183.1 971.9,174.5 962.2,173.3" stroke="#4cbc92"/><polygon points="1102.2,155.4 1111.9,152.8 1104.4,156.3 1094.7,144.8" stroke="#d4bb58"/><polygon points="1119.4,153.1 1129.1,157.3 1121.6,158.3 1111.9,152.8" stroke="#c9bc5c"/><polygon points="986.9,171.5 996.6,173.8 989.1,172.1 979.4,183.1" stroke="#61be87"/><polygon points="1136.6,155.3 1146.4,157.4 1138.9,155.1 1129.1,157.3" stroke="#c8bc5d"/><polygon points="925.5,181.5 935.2,170.5 927.7,168.8 918.0,175.3" stroke="#6abe83"/><polygon points="1031.1,165.9 1040.8,161.9 1033.3,157.9 1023.6,171.6" stroke="#a2be6c"/><polygon points="1075.2,158.1 1085.0,154.8 1077.5,149.4 1067.7,161.2" stroke="#cbbb5b"/><polygon points="1153.9,158.3 1163.6,160.6 1156.1,159.4 1146.4,157.4" stroke="#bfbc61"/><polygon points="1004.1,168.6 1013.8,170.8 1006.3,171.2 996.6,173.8" stroke="#83bf78"/><polygon points="1048.3,163.5 1058.0,161.7 1050.5,161.3 1040.8,161.9" stroke="#b4bd65"/><polygon points="942.7,175.4 952.4,165.0 944.9,170.7 935.2,170.5" stroke="#89bf76"/><polygon points="1092.5,148.9 1102.2,155.4 1094.7,144.8 1085.0,154.8" stroke="#e8b94f"/><polygon points="960.0,174.7 969.7,177.8 962.2,173.3 952.4,165.0" stroke="#7fbf7a"/><polygon points="1109.7,159.3 1119.4,153.1 1111.9,152.8 1102.2,155.4" stroke="#d7ba57"/><polygon points="1021.4,171.4 1031.1,165.9 1023.6,171.6 1013.8,170.8" stroke="#90bf73"/><polygon points="977.2,173.0 986.9,171.5 979.4,183.1 969.7,177.8" stroke="#6abe83"/><polygon points="1065.5,158.2 1075.2,158.1 1067.7,161.2 1058.0,161.7" stroke="#c4bc5e"/><polygon points="915.8,174.5 925.5,181.5 918.0,175.3 908.3,172.8" stroke="#6ebf82"/><polygon points="1126.9,150.7 1136.6,155.3 1129.1,157.3 1119.4,153.1" stroke="#e0ba53"/><polygon points="933.0,177.3 942.7,175.4 935.2,170.5 925.5,181.5" stroke="#73bf80"/><polygon points="1144.1,154.1 1153.9,158.3 1146.4,157.4 1136.6,155.3" stroke="#d9ba56"/><polygon points="994.4,176.3 1004.1,168.6 996.6,173.8 986.9,171.5" stroke="#8abf76"/><polygon points="1038.6,162.7 1048.3,163.5 1040.8,161.9 1031.1,165.9" stroke="#b9bd63"/><polygon points="1161.4,158.3 1171.1,159.4 1163.6,160.6 1153.9,158.3" stroke="#cfbb5a"/><polygon points="1082.7,150.7 1092.5,148.9 1085.0,154.8 1075.2,158.1" stroke="#eab94e"/><polygon points="950.2,182.1 960.0,174.7 952.4,165.0 942.7,175.4" stroke="#85bf78"/><polygon points="1011.6,171.3 1021.4,171.4 1013.8,170.8 1004.1,168.6" stroke="#9cbf6e"/><polygon points="1100.0,153.0 1109.7,159.3 1102.2,155.4 1092.5,148.9" stroke="#e8b94e"/><polygon points="1055.8,160.7 1065.5,158.2 1058.0,161.7 1048.3,163.5" stroke="#cbbb5c"/><polygon points="967.5,180.6 977.2,173.0 969.7,177.8 960.0,174.7" stroke="#7bbf7c"/><polygon points="906.1,183.9 915.8,174.5 908.3,172.8 898.6,175.4" stroke="#7bbf7c"/><polygon points="923.3,186.4 933.0,177.3 925.5,181.5 915.8,174.5" stroke="#6abe84"/><polygon points="1028.9,172.9 1038.6,162.7 1031.1,165.9 1021.4,171.4" stroke="#adbe67"/><polygon points="1117.2,144.3 1126.9,150.7 1119.4,153.1 1109.7,159.3" stroke="none"/><path d="M1117.2 144.3L1126.9 150.7" stroke="#fcbd3f"/><path d="M1126.9 150.7L1119.4 153.1" stroke="#e3b951"/><path d="M1119.4 153.1L1109.7 159.3" stroke="#d1bb59"/><path d="M1109.7 159.3L1117.2 144.3" stroke="#d1bb59"/><polygon points="984.7,177.2 994.4,176.3 986.9,171.5 977.2,173.0" stroke="#8ebf74"/><polygon points="1073.0,157.9 1082.7,150.7 1075.2,158.1 1065.5,158.2" stroke="#e7b94f"/><polygon points="1134.4,156.2 1144.1,154.1 1136.6,155.3 1126.9,150.7" stroke="#f0b94a"/><polygon points="940.5,183.0 950.2,182.1 942.7,175.4 933.0,177.3" stroke="#73bf7f"/><polygon points="1151.6,156.9 1161.4,158.3 1153.9,158.3 1144.1,154.1" stroke="#e6b94f"/><polygon points="1046.1,173.1 1055.8,160.7 1048.3,163.5 1038.6,162.7" stroke="#c3bc5f"/><polygon points="1001.9,175.5 1011.6,171.3 1004.1,168.6 994.4,176.3" stroke="#9cbf6e"/><polygon points="896.3,188.9 906.1,183.9 898.6,175.4 888.8,177.5" stroke="#6bbf83"/><polygon points="957.7,183.2 967.5,180.6 960.0,174.7 950.2,182.1" stroke="#73bf7f"/><polygon points="1168.9,163.3 1178.6,156.4 1171.1,159.4 1161.4,158.3" stroke="#deba53"/><polygon points="1090.2,154.0 1100.0,153.0 1092.5,148.9 1082.7,150.7" stroke="#fdbe3d"/><polygon points="913.6,191.1 923.3,186.4 915.8,174.5 906.1,183.9" stroke="#5ebe89"/><polygon points="1019.1,172.1 1028.9,172.9 1021.4,171.4 1011.6,171.3" stroke="#a7be6a"/><polygon points="975.0,184.4 984.7,177.2 977.2,173.0 967.5,180.6" stroke="#82bf79"/><polygon points="1107.5,151.9 1117.2,144.3 1109.7,159.3 1100.0,153.0" stroke="none"/><path d="M1107.5 151.9L1117.2 144.3" stroke="#fec932"/><path d="M1117.2 144.3L1109.7 159.3" stroke="#d1bb59"/><path d="M1109.7 159.3L1100.0 153.0" stroke="#d1bb59"/><path d="M1100.0 153.0L1107.5 151.9" stroke="#fabc41"/><polygon points="1063.3,159.6 1073.0,157.9 1065.5,158.2 1055.8,160.7" stroke="#e5b950"/><polygon points="930.8,181.1 940.5,183.0 933.0,177.3 923.3,186.4" stroke="#73bf7f"/><polygon points="992.2,179.1 1001.9,175.5 994.4,176.3 984.7,177.2" stroke="#93bf72"/><polygon points="1036.4,164.5 1046.1,173.1 1038.6,162.7 1028.9,172.9" stroke="#bfbc60"/><polygon points="948.0,187.6 957.7,183.2 950.2,182.1 940.5,183.0" stroke="#6abe83"/><polygon points="1124.7,153.6 1134.4,156.2 1126.9,150.7 1117.2,144.3" stroke="#ffc436"/><polygon points="886.6,186.7 896.3,188.9 888.8,177.5 879.1,186.2" stroke="#65be86"/><polygon points="1141.9,159.3 1151.6,156.9 1144.1,154.1 1134.4,156.2" stroke="#f4ba47"/><polygon points="903.9,185.8 913.6,191.1 906.1,183.9 896.3,188.9" stroke="#58bd8c"/><polygon points="1159.2,163.3 1168.9,163.3 1161.4,158.3 1151.6,156.9" stroke="#e5b950"/><polygon points="1080.5,153.5 1090.2,154.0 1082.7,150.7 1073.0,157.9" stroke="#febe3d"/><polygon points="965.2,185.1 975.0,184.4 967.5,180.6 957.7,183.2" stroke="#74bf7f"/><polygon points="1176.4,163.4 1186.1,163.5 1178.6,156.4 1168.9,163.3" stroke="#e3b951"/><polygon points="921.1,195.7 930.8,181.1 923.3,186.4 913.6,191.1" stroke="#55bd8e"/><polygon points="1053.6,160.7 1063.3,159.6 1055.8,160.7 1046.1,173.1" stroke="#dbba55"/><polygon points="1009.4,164.3 1019.1,172.1 1011.6,171.3 1001.9,175.5" stroke="#bbbd62"/><polygon points="1097.8,149.1 1107.5,151.9 1100.0,153.0 1090.2,154.0" stroke="#fec733"/><polygon points="876.9,196.4 886.6,186.7 879.1,186.2 869.4,193.0" stroke="#4dbc92"/><polygon points="982.5,178.2 992.2,179.1 984.7,177.2 975.0,184.4" stroke="#92bf73"/><polygon points="1026.6,176.4 1036.4,164.5 1028.9,172.9 1019.1,172.1" stroke="#bcbd62"/><polygon points="938.3,187.3 948.0,187.6 940.5,183.0 930.8,181.1" stroke="#77bf7e"/><polygon points="1115.0,151.6 1124.7,153.6 1117.2,144.3 1107.5,151.9" stroke="#fbcf2d"/><polygon points="1070.8,160.5 1080.5,153.5 1073.0,157.9 1063.3,159.6" stroke="#fabb42"/><polygon points="1132.2,155.3 1141.9,159.3 1134.4,156.2 1124.7,153.6" stroke="#febf3c"/><polygon points="894.1,190.2 903.9,185.8 896.3,188.9 886.6,186.7" stroke="#67be85"/><polygon points="1149.4,161.7 1159.2,163.3 1151.6,156.9 1141.9,159.3" stroke="#f2b949"/><polygon points="955.5,182.3 965.2,185.1 957.7,183.2 948.0,187.6" stroke="#7dbf7b"/><polygon points="1166.7,169.5 1176.4,163.4 1168.9,163.3 1159.2,163.3" stroke="#e0ba53"/><polygon points="911.4,193.7 921.1,195.7 913.6,191.1 903.9,185.8" stroke="#52bd8f"/><polygon points="1043.9,169.2 1053.6,160.7 1046.1,173.1 1036.4,164.5" stroke="#d7ba56"/><polygon points="999.7,171.2 1009.4,164.3 1001.9,175.5 992.2,179.1" stroke="#bfbc60"/><polygon points="867.2,199.4 876.9,196.4 869.4,193.0 859.7,196.1" stroke="#39b99d"/><polygon points="1088.0,150.9 1097.8,149.1 1090.2,154.0 1080.5,153.5" stroke="#fbd02c"/><polygon points="928.6,200.7 938.3,187.3 930.8,181.1 921.1,195.7" stroke="#5abd8b"/><polygon points="972.8,183.8 982.5,178.2 975.0,184.4 965.2,185.1" stroke="#8ebf74"/><polygon points="1183.9,167.0 1193.6,161.4 1186.1,163.5 1176.4,163.4" stroke="#e9b94e"/><polygon points="1016.9,180.2 1026.6,176.4 1019.1,172.1 1009.4,164.3" stroke="#c0bc60"/><polygon points="1061.1,165.2 1070.8,160.5 1063.3,159.6 1053.6,160.7" stroke="#f5ba46"/><polygon points="884.4,198.5 894.1,190.2 886.6,186.7 876.9,196.4" stroke="#54bd8e"/><polygon points="1105.3,147.7 1115.0,151.6 1107.5,151.9 1097.8,149.1" stroke="#f7d826"/><polygon points="1034.1,173.5 1043.9,169.2 1036.4,164.5 1026.6,176.4" stroke="#d0bb5a"/><polygon points="945.8,190.6 955.5,182.3 948.0,187.6 938.3,187.3" stroke="#7ebf7b"/><polygon points="990.0,181.0 999.7,171.2 992.2,179.1 982.5,178.2" stroke="#b2bd65"/><polygon points="1139.7,163.0 1149.4,161.7 1141.9,159.3 1132.2,155.3" stroke="#fdbe3d"/><polygon points="1122.5,149.5 1132.2,155.3 1124.7,153.6 1115.0,151.6" stroke="#fad32a"/><polygon points="1156.9,166.5 1166.7,169.5 1159.2,163.3 1149.4,161.7" stroke="#eab94d"/><polygon points="901.6,197.8 911.4,193.7 903.9,185.8 894.1,190.2" stroke="#62be87"/><polygon points="857.5,201.9 867.2,199.4 859.7,196.1 850.0,198.6" stroke="#37b99e"/><polygon points="918.9,197.7 928.6,200.7 921.1,195.7 911.4,193.7" stroke="#43bb97"/><polygon points="1174.2,169.9 1183.9,167.0 1176.4,163.4 1166.7,169.5" stroke="#e3b951"/><polygon points="1078.3,152.2 1088.0,150.9 1080.5,153.5 1070.8,160.5" stroke="#fbd02c"/><polygon points="963.0,189.4 972.8,183.8 965.2,185.1 955.5,182.3" stroke="#8fbf74"/><polygon points="874.7,202.7 884.4,198.5 876.9,196.4 867.2,199.4" stroke="#3ab99c"/><polygon points="1051.4,168.5 1061.1,165.2 1053.6,160.7 1043.9,169.2" stroke="#ecb94c"/><polygon points="1007.2,174.9 1016.9,180.2 1009.4,164.3 999.7,171.2" stroke="#cfbb5a"/><polygon points="1024.4,180.5 1034.1,173.5 1026.6,176.4 1016.9,180.2" stroke="#babd63"/><polygon points="936.1,196.6 945.8,190.6 938.3,187.3 928.6,200.7" stroke="#5fbe88"/><polygon points="1191.4,166.7 1201.1,166.8 1193.6,161.4 1183.9,167.0" stroke="#f1b94a"/><polygon points="891.9,203.3 901.6,197.8 894.1,190.2 884.4,198.5" stroke="#4cbc92"/><polygon points="980.3,179.9 990.0,181.0 982.5,178.2 972.8,183.8" stroke="#aebe67"/><polygon points="1095.5,147.9 1105.3,147.7 1097.8,149.1 1088.0,150.9" stroke="#f5e61c"/><polygon points="1068.6,167.0 1078.3,152.2 1070.8,160.5 1061.1,165.2" stroke="#fec239"/><polygon points="847.7,204.4 857.5,201.9 850.0,198.6 840.2,201.1" stroke="#37b99e"/><polygon points="1112.8,154.3 1122.5,149.5 1115.0,151.6 1105.3,147.7" stroke="#f5e21f"/><polygon points="1164.4,177.9 1174.2,169.9 1166.7,169.5 1156.9,166.5" stroke="#deba53"/><polygon points="909.1,200.2 918.9,197.7 911.4,193.7 901.6,197.8" stroke="#52bd8f"/><polygon points="1147.2,162.1 1156.9,166.5 1149.4,161.7 1139.7,163.0" stroke="#fdbe3e"/><polygon points="953.3,192.9 963.0,189.4 955.5,182.3 945.8,190.6" stroke="#88bf77"/><polygon points="1041.7,174.4 1051.4,168.5 1043.9,169.2 1034.1,173.5" stroke="#deba54"/><polygon points="1130.0,149.4 1139.7,163.0 1132.2,155.3 1122.5,149.5" stroke="#f7d826"/><polygon points="997.5,185.2 1007.2,174.9 999.7,171.2 990.0,181.0" stroke="#c0bc60"/><polygon points="865.0,205.2 874.7,202.7 867.2,199.4 857.5,201.9" stroke="#37b99e"/><polygon points="926.4,193.7 936.1,196.6 928.6,200.7 918.9,197.7" stroke="#59bd8c"/><polygon points="1014.7,184.1 1024.4,180.5 1016.9,180.2 1007.2,174.9" stroke="#bbbd62"/><polygon points="1181.7,173.1 1191.4,166.7 1183.9,167.0 1174.2,169.9" stroke="#ebb94d"/><polygon points="970.5,197.3 980.3,179.9 972.8,183.8 963.0,189.4" stroke="#94bf71"/><polygon points="882.2,206.0 891.9,203.3 884.4,198.5 874.7,202.7" stroke="#3ab99d"/><polygon points="1058.9,173.5 1068.6,167.0 1061.1,165.2 1051.4,168.5" stroke="#efb94a"/><polygon points="1198.9,179.2 1208.6,169.6 1201.1,166.8 1191.4,166.7" stroke="#e8b94f"/><polygon points="1085.8,152.2 1095.5,147.9 1088.0,150.9 1078.3,152.2" stroke="#f5e81a"/><polygon points="838.0,206.9 847.7,204.4 840.2,201.1 830.5,203.6" stroke="#37b99e"/><polygon points="943.6,196.5 953.3,192.9 945.8,190.6 936.1,196.6" stroke="#75bf7f"/><polygon points="899.4,207.7 909.1,200.2 901.6,197.8 891.9,203.3" stroke="#41ba98"/><polygon points="1031.9,180.5 1041.7,174.4 1034.1,173.5 1024.4,180.5" stroke="#cdbb5b"/><polygon points="987.8,194.4 997.5,185.2 990.0,181.0 980.3,179.9" stroke="#a8be6a"/><polygon points="1103.0,158.1 1112.8,154.3 1105.3,147.7 1095.5,147.9" stroke="#f5e71b"/><polygon points="1154.7,173.2 1164.4,177.9 1156.9,166.5 1147.2,162.1" stroke="#f0b94a"/><polygon points="855.3,207.7 865.0,205.2 857.5,201.9 847.7,204.4" stroke="#37b99e"/><polygon points="1137.5,173.6 1147.2,162.1 1139.7,163.0 1130.0,149.4" stroke="none"/><path d="M1137.5 173.6L1147.2 162.1" stroke="#e8b94e"/><path d="M1147.2 162.1L1139.7 163.0" stroke="#fcbd3e"/><path d="M1139.7 163.0L1130.0 149.4" stroke="#fcbd3e"/><path d="M1130.0 149.4L1137.5 173.6" stroke="#e8b94e"/><polygon points="1120.3,163.5 1130.0,149.4 1122.5,149.5 1112.8,154.3" stroke="#f5e11f"/><polygon points="960.8,193.7 970.5,197.3 963.0,189.4 953.3,192.9" stroke="#80bf7a"/><polygon points="1171.9,172.2 1181.7,173.1 1174.2,169.9 1164.4,177.9" stroke="#e3b951"/><polygon points="1049.2,180.1 1058.9,173.5 1051.4,168.5 1041.7,174.4" stroke="#e1ba52"/><polygon points="1005.0,183.3 1014.7,184.1 1007.2,174.9 997.5,185.2" stroke="#bebc61"/><polygon points="916.6,200.5 926.4,193.7 918.9,197.7 909.1,200.2" stroke="#65be86"/><polygon points="1076.1,160.3 1085.8,152.2 1078.3,152.2 1068.6,167.0" stroke="#f8d726"/><polygon points="872.5,208.5 882.2,206.0 874.7,202.7 865.0,205.2" stroke="#37b99e"/><polygon points="1189.2,180.5 1198.9,179.2 1191.4,166.7 1181.7,173.1" stroke="#dfba53"/><polygon points="978.0,198.9 987.8,194.4 980.3,179.9 970.5,197.3" stroke="#8abf76"/><polygon points="1022.2,186.7 1031.9,180.5 1024.4,180.5 1014.7,184.1" stroke="#bcbd62"/><polygon points="889.7,209.3 899.4,207.7 891.9,203.3 882.2,206.0" stroke="#36b99f"/><polygon points="828.3,209.4 838.0,206.9 830.5,203.6 820.8,206.1" stroke="#37b99e"/><polygon points="933.9,196.0 943.6,196.5 936.1,196.6 926.4,193.7" stroke="#7bbf7c"/><polygon points="1093.3,165.1 1103.0,158.1 1095.5,147.9 1085.8,152.2" stroke="#f5e11f"/><polygon points="1206.4,179.5 1216.1,172.5 1208.6,169.6 1198.9,179.2" stroke="#e2b952"/><polygon points="1066.4,170.9 1076.1,160.3 1068.6,167.0 1058.9,173.5" stroke="#febf3c"/><polygon points="1110.5,162.0 1120.3,163.5 1112.8,154.3 1103.0,158.1" stroke="#f8d726"/><polygon points="845.5,210.2 855.3,207.7 847.7,204.4 838.0,206.9" stroke="#37b99e"/><polygon points="1145.0,177.3 1154.7,173.2 1147.2,162.1 1137.5,173.6" stroke="#f4ba47"/><polygon points="995.3,192.3 1005.0,183.3 997.5,185.2 987.8,194.4" stroke="#a6be6b"/><polygon points="1127.8,168.1 1137.5,173.6 1130.0,149.4 1120.3,163.5" stroke="none"/><path d="M1127.8 168.1L1137.5 173.6" stroke="#e8b94e"/><path d="M1137.5 173.6L1130.0 149.4" stroke="#e8b94e"/><path d="M1130.0 149.4L1120.3 163.5" stroke="#fdcc2f"/><path d="M1120.3 163.5L1127.8 168.1" stroke="#fec733"/><polygon points="906.9,209.2 916.6,200.5 909.1,200.2 899.4,207.7" stroke="#49bc94"/><polygon points="1162.2,185.4 1171.9,172.2 1164.4,177.9 1154.7,173.2" stroke="#dcba54"/><polygon points="1039.4,182.6 1049.2,180.1 1041.7,174.4 1031.9,180.5" stroke="#d3bb58"/><polygon points="951.1,196.9 960.8,193.7 953.3,192.9 943.6,196.5" stroke="#86bf78"/><polygon points="862.8,211.0 872.5,208.5 865.0,205.2 855.3,207.7" stroke="#37b99e"/><polygon points="968.3,195.8 978.0,198.9 970.5,197.3 960.8,193.7" stroke="#81bf79"/><polygon points="1179.5,184.0 1189.2,180.5 1181.7,173.1 1171.9,172.2" stroke="#dfba53"/><polygon points="1083.6,171.6 1093.3,165.1 1085.8,152.2 1076.1,160.3" stroke="#f9d429"/><polygon points="1012.5,186.3 1022.2,186.7 1014.7,184.1 1005.0,183.3" stroke="#bebc61"/><polygon points="1056.7,180.5 1066.4,170.9 1058.9,173.5 1049.2,180.1" stroke="#e6b94f"/><polygon points="880.0,211.8 889.7,209.3 882.2,206.0 872.5,208.5" stroke="#37b99e"/><polygon points="1196.7,182.8 1206.4,179.5 1198.9,179.2 1189.2,180.5" stroke="#d4bb58"/><polygon points="818.6,212.0 828.3,209.4 820.8,206.1 811.1,208.7" stroke="#37b99e"/><polygon points="924.1,203.7 933.9,196.0 926.4,193.7 916.6,200.5" stroke="#7abf7d"/><polygon points="985.5,199.2 995.3,192.3 987.8,194.4 978.0,198.9" stroke="#88bf77"/><polygon points="1100.8,168.5 1110.5,162.0 1103.0,158.1 1093.3,165.1" stroke="#fad32a"/><polygon points="897.2,212.6 906.9,209.2 899.4,207.7 889.7,209.3" stroke="#37b99e"/><polygon points="1029.7,190.5 1039.4,182.6 1031.9,180.5 1022.2,186.7" stroke="#c2bc5f"/><polygon points="1135.3,180.6 1145.0,177.3 1137.5,173.6 1127.8,168.1" stroke="#f0b94a"/><polygon points="835.8,212.8 845.5,210.2 838.0,206.9 828.3,209.4" stroke="#37b99e"/><polygon points="1152.5,187.0 1162.2,185.4 1154.7,173.2 1145.0,177.3" stroke="#d7ba56"/><polygon points="1118.1,169.6 1127.8,168.1 1120.3,163.5 1110.5,162.0" stroke="#fcce2e"/><polygon points="1213.9,182.0 1223.6,177.7 1216.1,172.5 1206.4,179.5" stroke="#e4b950"/><polygon points="941.4,199.8 951.1,196.9 943.6,196.5 933.9,196.0" stroke="#87bf77"/><polygon points="1073.9,178.9 1083.6,171.6 1076.1,160.3 1066.4,170.9" stroke="#fec239"/><polygon points="853.0,213.5 862.8,211.0 855.3,207.7 845.5,210.2" stroke="#37b99e"/><polygon points="1169.7,185.2 1179.5,184.0 1171.9,172.2 1162.2,185.4" stroke="#d6ba57"/><polygon points="1046.9,186.4 1056.7,180.5 1049.2,180.1 1039.4,182.6" stroke="#d4bb58"/><polygon points="914.4,211.7 924.1,203.7 916.6,200.5 906.9,209.2" stroke="#53bd8e"/><polygon points="958.6,202.5 968.3,195.8 960.8,193.7 951.1,196.9" stroke="#8dbf75"/><polygon points="1002.8,191.1 1012.5,186.3 1005.0,183.3 995.3,192.3" stroke="#bbbd62"/><polygon points="1187.0,189.6 1196.7,182.8 1189.2,180.5 1179.5,184.0" stroke="#cebb5a"/><polygon points="1091.1,178.7 1100.8,168.5 1093.3,165.1 1083.6,171.6" stroke="#ffc238"/><polygon points="870.3,214.3 880.0,211.8 872.5,208.5 862.8,211.0" stroke="#37b99e"/><polygon points="808.9,214.5 818.6,212.0 811.1,208.7 801.4,211.2" stroke="#37b99e"/><polygon points="975.8,207.4 985.5,199.2 978.0,198.9 968.3,195.8" stroke="#7dbf7b"/><polygon points="1020.0,191.1 1029.7,190.5 1022.2,186.7 1012.5,186.3" stroke="#bdbd61"/><polygon points="1064.2,190.5 1073.9,178.9 1066.4,170.9 1056.7,180.5" stroke="#e3b951"/><polygon points="887.5,215.1 897.2,212.6 889.7,209.3 880.0,211.8" stroke="#37b99e"/><polygon points="1108.3,182.9 1118.1,169.6 1110.5,162.0 1100.8,168.5" stroke="#fec635"/><polygon points="1125.6,191.0 1135.3,180.6 1127.8,168.1 1118.1,169.6" stroke="none"/><path d="M1125.6 191.0L1135.3 180.6" stroke="#babd62"/><path d="M1135.3 180.6L1127.8 168.1" stroke="#e3b951"/><path d="M1127.8 168.1L1118.1 169.6" stroke="#fec733"/><path d="M1118.1 169.6L1125.6 191.0" stroke="#babd62"/><polygon points="826.1,215.3 835.8,212.8 828.3,209.4 818.6,212.0" stroke="#37b99e"/><polygon points="1204.2,184.8 1213.9,182.0 1206.4,179.5 1196.7,182.8" stroke="#dbba55"/><polygon points="1142.8,187.6 1152.5,187.0 1145.0,177.3 1135.3,180.6" stroke="#d8ba56"/><polygon points="931.7,206.3 941.4,199.8 933.9,196.0 924.1,203.7" stroke="#7cbf7c"/><polygon points="1160.0,186.3 1169.7,185.2 1162.2,185.4 1152.5,187.0" stroke="#cebb5b"/><polygon points="1037.2,192.4 1046.9,186.4 1039.4,182.6 1029.7,190.5" stroke="#c5bc5e"/><polygon points="904.7,215.9 914.4,211.7 906.9,209.2 897.2,212.6" stroke="#3bb99c"/><polygon points="1081.4,187.9 1091.1,178.7 1083.6,171.6 1073.9,178.9" stroke="#ecb94d"/><polygon points="843.3,216.1 853.0,213.5 845.5,210.2 835.8,212.8" stroke="#37b99e"/><polygon points="993.1,199.1 1002.8,191.1 995.3,192.3 985.5,199.2" stroke="#a1be6c"/><polygon points="948.9,198.5 958.6,202.5 951.1,196.9 941.4,199.8" stroke="#8fbf74"/><polygon points="1177.2,188.7 1187.0,189.6 1179.5,184.0 1169.7,185.2" stroke="#cdbb5b"/><polygon points="1221.4,184.0 1231.1,170.7 1223.6,177.7 1213.9,182.0" stroke="#f1b949"/><polygon points="860.5,216.8 870.3,214.3 862.8,211.0 853.0,213.5" stroke="#37b99e"/><polygon points="1098.6,187.5 1108.3,182.9 1100.8,168.5 1091.1,178.7" stroke="#efb94b"/><polygon points="966.1,206.4 975.8,207.4 968.3,195.8 958.6,202.5" stroke="#7cbf7b"/><polygon points="1054.4,185.4 1064.2,190.5 1056.7,180.5 1046.9,186.4" stroke="#d4bb58"/><polygon points="1115.8,194.2 1125.6,191.0 1118.1,169.6 1108.3,182.9" stroke="none"/><path d="M1115.8 194.2L1125.6 191.0" stroke="#b6bd64"/><path d="M1125.6 191.0L1118.1 169.6" stroke="#babd62"/><path d="M1118.1 169.6L1108.3 182.9" stroke="#dfba53"/><path d="M1108.3 182.9L1115.8 194.2" stroke="#b6bd64"/><polygon points="921.9,215.2 931.7,206.3 924.1,203.7 914.4,211.7" stroke="#56bd8d"/><polygon points="1010.3,196.3 1020.0,191.1 1012.5,186.3 1002.8,191.1" stroke="#bdbd61"/><polygon points="877.8,217.6 887.5,215.1 880.0,211.8 870.3,214.3" stroke="#37b99e"/><polygon points="816.4,217.8 826.1,215.3 818.6,212.0 808.9,214.5" stroke="#37b99e"/><polygon points="1194.5,182.9 1204.2,184.8 1196.7,182.8 1187.0,189.6" stroke="#daba55"/><polygon points="1071.7,191.0 1081.4,187.9 1073.9,178.9 1064.2,190.5" stroke="#d1bb59"/><polygon points="1133.1,183.8 1142.8,187.6 1135.3,180.6 1125.6,191.0" stroke="#d7ba56"/><polygon points="1027.5,199.9 1037.2,192.4 1029.7,190.5 1020.0,191.1" stroke="#b5bd65"/><polygon points="983.3,199.2 993.1,199.1 985.5,199.2 975.8,207.4" stroke="#8dbf74"/><polygon points="895.0,218.4 904.7,215.9 897.2,212.6 887.5,215.1" stroke="#37b99e"/><polygon points="1150.3,190.3 1160.0,186.3 1152.5,187.0 1142.8,187.6" stroke="#d1bb59"/><polygon points="833.6,218.6 843.3,216.1 835.8,212.8 826.1,215.3" stroke="#37b99e"/><polygon points="1211.7,187.2 1221.4,184.0 1213.9,182.0 1204.2,184.8" stroke="#e1ba52"/><polygon points="1088.9,191.6 1098.6,187.5 1091.1,178.7 1081.4,187.9" stroke="#d9ba56"/><polygon points="939.2,205.7 948.9,198.5 941.4,199.8 931.7,206.3" stroke="#8abf76"/><polygon points="912.2,219.2 921.9,215.2 914.4,211.7 904.7,215.9" stroke="#3cba9b"/><polygon points="1167.5,194.0 1177.2,188.7 1169.7,185.2 1160.0,186.3" stroke="#d1bb59"/><polygon points="850.8,219.4 860.5,216.8 853.0,213.5 843.3,216.1" stroke="#37b99e"/><polygon points="1044.7,196.2 1054.4,185.4 1046.9,186.4 1037.2,192.4" stroke="#cbbb5c"/><polygon points="1000.6,205.1 1010.3,196.3 1002.8,191.1 993.1,199.1" stroke="#a6be6a"/><polygon points="1106.1,188.3 1115.8,194.2 1108.3,182.9 1098.6,187.5" stroke="#d3bb58"/><polygon points="956.4,208.5 966.1,206.4 958.6,202.5 948.9,198.5" stroke="#87bf77"/><polygon points="1123.3,193.7 1133.1,183.8 1125.6,191.0 1115.8,194.2" stroke="#cbbb5c"/><polygon points="868.0,220.2 877.8,217.6 870.3,214.3 860.5,216.8" stroke="#37b99e"/><polygon points="1228.9,187.4 1238.6,180.5 1231.1,170.7 1221.4,184.0" stroke="#f7ba45"/><polygon points="1062.0,197.0 1071.7,191.0 1064.2,190.5 1054.4,185.4" stroke="#cabb5c"/><polygon points="973.6,213.2 983.3,199.2 975.8,207.4 966.1,206.4" stroke="#7abf7c"/><polygon points="1184.7,183.6 1194.5,182.9 1187.0,189.6 1177.2,188.7" stroke="#e1ba52"/><polygon points="1017.8,199.2 1027.5,199.9 1020.0,191.1 1010.3,196.3" stroke="#b1bd66"/><polygon points="929.4,218.2 939.2,205.7 931.7,206.3 921.9,215.2" stroke="#5ebe89"/><polygon points="885.3,220.9 895.0,218.4 887.5,215.1 877.8,217.6" stroke="#37b99e"/><polygon points="1079.2,197.9 1088.9,191.6 1081.4,187.9 1071.7,191.0" stroke="#c9bc5d"/><polygon points="823.9,221.1 833.6,218.6 826.1,215.3 816.4,217.8" stroke="#37b99e"/><polygon points="1140.6,195.6 1150.3,190.3 1142.8,187.6 1133.1,183.8" stroke="#d6ba57"/><polygon points="1035.0,202.9 1044.7,196.2 1037.2,192.4 1027.5,199.9" stroke="#afbe67"/><polygon points="1157.8,204.7 1167.5,194.0 1160.0,186.3 1150.3,190.3" stroke="#c3bc5f"/><polygon points="1202.0,184.8 1211.7,187.2 1204.2,184.8 1194.5,182.9" stroke="#ebb94d"/><polygon points="902.5,221.7 912.2,219.2 904.7,215.9 895.0,218.4" stroke="#37b99e"/><polygon points="990.8,202.8 1000.6,205.1 993.1,199.1 983.3,199.2" stroke="#9fbe6d"/><polygon points="841.1,221.9 850.8,219.4 843.3,216.1 833.6,218.6" stroke="#37b99e"/><polygon points="1096.4,200.2 1106.1,188.3 1098.6,187.5 1088.9,191.6" stroke="#cebb5a"/><polygon points="946.7,214.0 956.4,208.5 948.9,198.5 939.2,205.7" stroke="#85bf78"/><polygon points="1219.2,186.2 1228.9,187.4 1221.4,184.0 1211.7,187.2" stroke="#e9b94e"/><polygon points="919.7,222.5 929.4,218.2 921.9,215.2 912.2,219.2" stroke="#3cba9b"/><polygon points="1052.2,198.4 1062.0,197.0 1054.4,185.4 1044.7,196.2" stroke="#c6bc5d"/><polygon points="858.3,222.7 868.0,220.2 860.5,216.8 850.8,219.4" stroke="#37b99e"/><polygon points="1113.6,194.7 1123.3,193.7 1115.8,194.2 1106.1,188.3" stroke="#cdbb5b"/><polygon points="1175.0,198.8 1184.7,183.6 1177.2,188.7 1167.5,194.0" stroke="#d4bb58"/><polygon points="1008.1,205.9 1017.8,199.2 1010.3,196.3 1000.6,205.1" stroke="#a3be6b"/><polygon points="963.9,210.5 973.6,213.2 966.1,206.4 956.4,208.5" stroke="#76bf7e"/><polygon points="1236.4,187.1 1246.1,189.8 1238.6,180.5 1228.9,187.4" stroke="#ecb94c"/><polygon points="1069.5,197.6 1079.2,197.9 1071.7,191.0 1062.0,197.0" stroke="#c2bc5f"/><polygon points="875.6,223.5 885.3,220.9 877.8,217.6 868.0,220.2" stroke="#37b99e"/><polygon points="1025.3,209.6 1035.0,202.9 1027.5,199.9 1017.8,199.2" stroke="#a1be6d"/><polygon points="1130.9,197.2 1140.6,195.6 1133.1,183.8 1123.3,193.7" stroke="#d2bb59"/><polygon points="1148.1,196.2 1157.8,204.7 1150.3,190.3 1140.6,195.6" stroke="#c1bc60"/><polygon points="981.1,212.7 990.8,202.8 983.3,199.2 973.6,213.2" stroke="#8dbf74"/><polygon points="936.9,220.9 946.7,214.0 939.2,205.7 929.4,218.2" stroke="#5ebe89"/><polygon points="1192.2,199.1 1202.0,184.8 1194.5,182.9 1184.7,183.6" stroke="#eab94e"/><polygon points="1086.7,195.3 1096.4,200.2 1088.9,191.6 1079.2,197.9" stroke="#c4bc5e"/><polygon points="892.8,224.2 902.5,221.7 895.0,218.4 885.3,220.9" stroke="#37b99e"/><polygon points="831.4,224.4 841.1,221.9 833.6,218.6 823.9,221.1" stroke="#37b99e"/><polygon points="1165.3,201.2 1175.0,198.8 1167.5,194.0 1157.8,204.7" stroke="#b6bd64"/><polygon points="1042.5,203.0 1052.2,198.4 1044.7,196.2 1035.0,202.9" stroke="#b5bd65"/><polygon points="1209.5,198.0 1219.2,186.2 1211.7,187.2 1202.0,184.8" stroke="#e7b94f"/><polygon points="998.3,212.4 1008.1,205.9 1000.6,205.1 990.8,202.8" stroke="#95bf71"/><polygon points="910.0,225.0 919.7,222.5 912.2,219.2 902.5,221.7" stroke="#37b99e"/><polygon points="1103.9,200.1 1113.6,194.7 1106.1,188.3 1096.4,200.2" stroke="#cbbb5c"/><polygon points="848.6,225.2 858.3,222.7 850.8,219.4 841.1,221.9" stroke="#37b99e"/><polygon points="954.2,215.1 963.9,210.5 956.4,208.5 946.7,214.0" stroke="#77bf7e"/><polygon points="1015.6,213.5 1025.3,209.6 1017.8,199.2 1008.1,205.9" stroke="#97bf71"/><polygon points="1226.7,189.7 1236.4,187.1 1228.9,187.4 1219.2,186.2" stroke="#f2b949"/><polygon points="1182.5,199.3 1192.2,199.1 1184.7,183.6 1175.0,198.8" stroke="#d1bb59"/><polygon points="1059.7,196.7 1069.5,197.6 1062.0,197.0 1052.2,198.4" stroke="#c7bc5d"/><polygon points="927.2,225.8 936.9,220.9 929.4,218.2 919.7,222.5" stroke="#3eba9a"/><polygon points="865.8,226.0 875.6,223.5 868.0,220.2 858.3,222.7" stroke="#37b99e"/><polygon points="971.4,216.3 981.1,212.7 973.6,213.2 963.9,210.5" stroke="#75bf7f"/><polygon points="1121.1,196.6 1130.9,197.2 1123.3,193.7 1113.6,194.7" stroke="#d0bb5a"/><polygon points="1243.9,190.4 1253.6,195.5 1246.1,189.8 1236.4,187.1" stroke="#e7b94f"/><polygon points="1032.8,213.7 1042.5,203.0 1035.0,202.9 1025.3,209.6" stroke="#9abf6f"/><polygon points="1138.4,199.7 1148.1,196.2 1140.6,195.6 1130.9,197.2" stroke="#ccbb5b"/><polygon points="1077.0,201.8 1086.7,195.3 1079.2,197.9 1069.5,197.6" stroke="#c7bc5d"/><polygon points="883.1,226.8 892.8,224.2 885.3,220.9 875.6,223.5" stroke="#37b99e"/><polygon points="1155.6,203.9 1165.3,201.2 1157.8,204.7 1148.1,196.2" stroke="#b9bd63"/><polygon points="1199.8,190.5 1209.5,198.0 1202.0,184.8 1192.2,199.1" stroke="#dfba53"/><polygon points="944.4,224.0 954.2,215.1 946.7,214.0 936.9,220.9" stroke="#5abd8b"/><polygon points="1094.2,207.4 1103.9,200.1 1096.4,200.2 1086.7,195.3" stroke="#bebc61"/><polygon points="988.6,211.1 998.3,212.4 990.8,202.8 981.1,212.7" stroke="#91bf73"/><polygon points="900.3,227.6 910.0,225.0 902.5,221.7 892.8,224.2" stroke="#37b99e"/><polygon points="838.9,227.7 848.6,225.2 841.1,221.9 831.4,224.4" stroke="#37b99e"/><polygon points="1005.8,216.3 1015.6,213.5 1008.1,205.9 998.3,212.4" stroke="#87bf77"/><polygon points="1217.0,197.6 1226.7,189.7 1219.2,186.2 1209.5,198.0" stroke="#e4b950"/><polygon points="1172.8,199.5 1182.5,199.3 1175.0,198.8 1165.3,201.2" stroke="#c7bc5d"/><polygon points="1111.4,208.1 1121.1,196.6 1113.6,194.7 1103.9,200.1" stroke="#c7bc5d"/><polygon points="917.5,228.3 927.2,225.8 919.7,222.5 910.0,225.0" stroke="#37b99e"/><polygon points="1050.0,205.4 1059.7,196.7 1052.2,198.4 1042.5,203.0" stroke="#c2bc5f"/><polygon points="856.1,228.5 865.8,226.0 858.3,222.7 848.6,225.2" stroke="#37b99e"/><polygon points="961.7,219.8 971.4,216.3 963.9,210.5 954.2,215.1" stroke="#77bf7e"/><polygon points="1023.1,208.7 1032.8,213.7 1025.3,209.6 1015.6,213.5" stroke="#90bf73"/><polygon points="1128.6,210.0 1138.4,199.7 1130.9,197.2 1121.1,196.6" stroke="#c6bc5e"/><polygon points="1234.2,195.3 1243.9,190.4 1236.4,187.1 1226.7,189.7" stroke="#f3ba48"/><polygon points="1067.2,208.1 1077.0,201.8 1069.5,197.6 1059.7,196.7" stroke="#c5bc5e"/><polygon points="873.3,229.3 883.1,226.8 875.6,223.5 865.8,226.0" stroke="#37b99e"/><polygon points="1190.0,203.8 1199.8,190.5 1192.2,199.1 1182.5,199.3" stroke="#d3bb58"/><polygon points="934.7,229.1 944.4,224.0 936.9,220.9 927.2,225.8" stroke="#3fba9a"/><polygon points="978.9,218.9 988.6,211.1 981.1,212.7 971.4,216.3" stroke="#81bf7a"/><polygon points="1251.4,192.3 1261.1,194.4 1253.6,195.5 1243.9,190.4" stroke="#ebb94d"/><polygon points="1145.9,209.7 1155.6,203.9 1148.1,196.2 1138.4,199.7" stroke="#c2bc5f"/><polygon points="1084.5,205.7 1094.2,207.4 1086.7,195.3 1077.0,201.8" stroke="#c2bc5f"/><polygon points="890.6,230.1 900.3,227.6 892.8,224.2 883.1,226.8" stroke="#37b99e"/><polygon points="1040.3,208.3 1050.0,205.4 1042.5,203.0 1032.8,213.7" stroke="#abbe68"/><polygon points="996.1,221.9 1005.8,216.3 998.3,212.4 988.6,211.1" stroke="#81bf79"/><polygon points="1101.7,207.5 1111.4,208.1 1103.9,200.1 1094.2,207.4" stroke="#b5bd65"/><polygon points="1207.3,197.4 1217.0,197.6 1209.5,198.0 1199.8,190.5" stroke="#e2b952"/><polygon points="952.0,226.8 961.7,219.8 954.2,215.1 944.4,224.0" stroke="#5dbe89"/><polygon points="1163.1,202.9 1172.8,199.5 1165.3,201.2 1155.6,203.9" stroke="#c9bc5d"/><polygon points="907.8,230.9 917.5,228.3 910.0,225.0 900.3,227.6" stroke="#37b99e"/><polygon points="846.4,231.0 856.1,228.5 848.6,225.2 838.9,227.7" stroke="#37b99e"/><polygon points="1118.9,206.2 1128.6,210.0 1121.1,196.6 1111.4,208.1" stroke="#bcbd62"/><polygon points="1013.4,218.8 1023.1,208.7 1015.6,213.5 1005.8,216.3" stroke="#8ebf74"/><polygon points="1224.5,196.5 1234.2,195.3 1226.7,189.7 1217.0,197.6" stroke="#ebb94d"/><polygon points="1057.5,210.4 1067.2,208.1 1059.7,196.7 1050.0,205.4" stroke="#bdbd61"/><polygon points="925.0,231.6 934.7,229.1 927.2,225.8 917.5,228.3" stroke="#37b99e"/><polygon points="1180.3,203.4 1190.0,203.8 1182.5,199.3 1172.8,199.5" stroke="#cfbb5a"/><polygon points="863.6,231.8 873.3,229.3 865.8,226.0 856.1,228.5" stroke="#37b99e"/><polygon points="969.2,214.3 978.9,218.9 971.4,216.3 961.7,219.8" stroke="#80bf7a"/><polygon points="1136.1,206.4 1145.9,209.7 1138.4,199.7 1128.6,210.0" stroke="#babd63"/><polygon points="1074.7,210.2 1084.5,205.7 1077.0,201.8 1067.2,208.1" stroke="#babd62"/><polygon points="1241.7,204.5 1251.4,192.3 1243.9,190.4 1234.2,195.3" stroke="#ebb94d"/><polygon points="1030.6,217.9 1040.3,208.3 1032.8,213.7 1023.1,208.7" stroke="#a0be6d"/><polygon points="880.8,232.6 890.6,230.1 883.1,226.8 873.3,229.3" stroke="#37b99e"/><polygon points="942.2,232.4 952.0,226.8 944.4,224.0 934.7,229.1" stroke="#40ba99"/><polygon points="986.4,226.6 996.1,221.9 988.6,211.1 978.9,218.9" stroke="#76bf7e"/><polygon points="1153.4,215.3 1163.1,202.9 1155.6,203.9 1145.9,209.7" stroke="#b6bd64"/><polygon points="1092.0,211.9 1101.7,207.5 1094.2,207.4 1084.5,205.7" stroke="#b6bd64"/><polygon points="1258.9,200.3 1268.7,201.4 1261.1,194.4 1251.4,192.3" stroke="#e8b94f"/><polygon points="1197.5,200.2 1207.3,197.4 1199.8,190.5 1190.0,203.8" stroke="#e4b951"/><polygon points="898.1,233.4 907.8,230.9 900.3,227.6 890.6,230.1" stroke="#37b99e"/><polygon points="1003.6,223.6 1013.4,218.8 1005.8,216.3 996.1,221.9" stroke="#78bf7d"/><polygon points="1047.8,217.4 1057.5,210.4 1050.0,205.4 1040.3,208.3" stroke="#aebe67"/><polygon points="1214.8,203.9 1224.5,196.5 1217.0,197.6 1207.3,197.4" stroke="#e4b951"/><polygon points="1109.2,205.8 1118.9,206.2 1111.4,208.1 1101.7,207.5" stroke="#c0bc60"/><polygon points="915.3,234.2 925.0,231.6 917.5,228.3 907.8,230.9" stroke="#37b99e"/><polygon points="959.5,230.1 969.2,214.3 961.7,219.8 952.0,226.8" stroke="#6cbf83"/><polygon points="853.9,234.3 863.6,231.8 856.1,228.5 846.4,231.0" stroke="#37b99e"/><polygon points="1170.6,201.3 1180.3,203.4 1172.8,199.5 1163.1,202.9" stroke="#daba55"/><polygon points="1065.0,211.4 1074.7,210.2 1067.2,208.1 1057.5,210.4" stroke="#b5bd65"/><polygon points="1126.4,212.0 1136.1,206.4 1128.6,210.0 1118.9,206.2" stroke="#bbbd62"/><polygon points="1232.0,199.6 1241.7,204.5 1234.2,195.3 1224.5,196.5" stroke="#e7b94f"/><polygon points="1020.9,219.8 1030.6,217.9 1023.1,208.7 1013.4,218.8" stroke="#96bf71"/><polygon points="932.5,235.0 942.2,232.4 934.7,229.1 925.0,231.6" stroke="#37b99e"/><polygon points="871.1,235.1 880.8,232.6 873.3,229.3 863.6,231.8" stroke="#37b99e"/><polygon points="976.7,227.9 986.4,226.6 978.9,218.9 969.2,214.3" stroke="#77bf7d"/><polygon points="1143.6,213.5 1153.4,215.3 1145.9,209.7 1136.1,206.4" stroke="#b2bd66"/><polygon points="1187.8,203.5 1197.5,200.2 1190.0,203.8 1180.3,203.4" stroke="#d9ba56"/><polygon points="1249.2,204.7 1258.9,200.3 1251.4,192.3 1241.7,204.5" stroke="#e4b951"/><polygon points="1082.2,208.6 1092.0,211.9 1084.5,205.7 1074.7,210.2" stroke="#bebc61"/><polygon points="993.9,224.2 1003.6,223.6 996.1,221.9 986.4,226.6" stroke="#6ebf82"/><polygon points="1038.1,219.8 1047.8,217.4 1040.3,208.3 1030.6,217.9" stroke="#9dbe6e"/><polygon points="888.3,235.9 898.1,233.4 890.6,230.1 880.8,232.6" stroke="#37b99e"/><polygon points="949.7,235.7 959.5,230.1 952.0,226.8 942.2,232.4" stroke="#41ba98"/><polygon points="1205.0,208.7 1214.8,203.9 1207.3,197.4 1197.5,200.2" stroke="#deba53"/><polygon points="1266.4,196.6 1276.2,202.1 1268.7,201.4 1258.9,200.3" stroke="#e9b94e"/><polygon points="1099.5,215.8 1109.2,205.8 1101.7,207.5 1092.0,211.9" stroke="#bcbd62"/><polygon points="1160.9,209.7 1170.6,201.3 1163.1,202.9 1153.4,215.3" stroke="#cbbb5c"/><polygon points="905.6,236.7 915.3,234.2 907.8,230.9 898.1,233.4" stroke="#37b99e"/><polygon points="1055.3,220.6 1065.0,211.4 1057.5,210.4 1047.8,217.4" stroke="#a7be6a"/><polygon points="1011.1,222.7 1020.9,219.8 1013.4,218.8 1003.6,223.6" stroke="#87bf77"/><polygon points="1222.3,207.9 1232.0,199.6 1224.5,196.5 1214.8,203.9" stroke="#e5b950"/><polygon points="967.0,233.9 976.7,227.9 969.2,214.3 959.5,230.1" stroke="#68be84"/><polygon points="1116.7,211.5 1126.4,212.0 1118.9,206.2 1109.2,205.8" stroke="#c7bc5d"/><polygon points="922.8,237.5 932.5,235.0 925.0,231.6 915.3,234.2" stroke="#37b99e"/><polygon points="861.4,237.6 871.1,235.1 863.6,231.8 853.9,234.3" stroke="#37b99e"/><polygon points="1178.1,211.8 1187.8,203.5 1180.3,203.4 1170.6,201.3" stroke="#daba55"/><polygon points="1239.5,205.5 1249.2,204.7 1241.7,204.5 1232.0,199.6" stroke="#e1ba52"/><polygon points="1028.4,228.0 1038.1,219.8 1030.6,217.9 1020.9,219.8" stroke="#8bbf75"/><polygon points="1133.9,212.1 1143.6,213.5 1136.1,206.4 1126.4,212.0" stroke="#c0bc60"/><polygon points="940.0,238.3 949.7,235.7 942.2,232.4 932.5,235.0" stroke="#37b99e"/><polygon points="1072.5,212.1 1082.2,208.6 1074.7,210.2 1065.0,211.4" stroke="#c3bc5f"/><polygon points="984.2,228.5 993.9,224.2 986.4,226.6 976.7,227.9" stroke="#6cbf82"/><polygon points="878.6,238.4 888.3,235.9 880.8,232.6 871.1,235.1" stroke="#37b99e"/><polygon points="1151.2,217.3 1160.9,209.7 1153.4,215.3 1143.6,213.5" stroke="#b5bd65"/><polygon points="1195.3,208.0 1205.0,208.7 1197.5,200.2 1187.8,203.5" stroke="#deba54"/><polygon points="1045.6,229.6 1055.3,220.6 1047.8,217.4 1038.1,219.8" stroke="#8dbf74"/><polygon points="1089.8,214.1 1099.5,215.8 1092.0,211.9 1082.2,208.6" stroke="#bdbd61"/><polygon points="1256.7,203.7 1266.4,196.6 1258.9,200.3 1249.2,204.7" stroke="#efb94a"/><polygon points="1273.9,215.8 1283.7,214.2 1276.2,202.1 1266.4,196.6" stroke="#d7ba57"/><polygon points="895.9,239.2 905.6,236.7 898.1,233.4 888.3,235.9" stroke="#37b99e"/><polygon points="957.2,239.0 967.0,233.9 959.5,230.1 949.7,235.7" stroke="#40ba99"/><polygon points="1212.5,205.4 1222.3,207.9 1214.8,203.9 1205.0,208.7" stroke="#dbba55"/><polygon points="1001.4,220.3 1011.1,222.7 1003.6,223.6 993.9,224.2" stroke="#8dbf74"/><polygon points="1107.0,217.9 1116.7,211.5 1109.2,205.8 1099.5,215.8" stroke="#c0bc60"/><polygon points="913.1,240.0 922.8,237.5 915.3,234.2 905.6,236.7" stroke="#37b99e"/><polygon points="1168.4,215.5 1178.1,211.8 1170.6,201.3 1160.9,209.7" stroke="#d0bb59"/><polygon points="1062.8,224.9 1072.5,212.1 1065.0,211.4 1055.3,220.6" stroke="#adbe68"/><polygon points="1018.6,226.3 1028.4,228.0 1020.9,219.8 1011.1,222.7" stroke="#89bf76"/><polygon points="1229.8,205.6 1239.5,205.5 1232.0,199.6 1222.3,207.9" stroke="#e8b94f"/><polygon points="974.5,231.5 984.2,228.5 976.7,227.9 967.0,233.9" stroke="#64be86"/><polygon points="930.3,240.8 940.0,238.3 932.5,235.0 922.8,237.5" stroke="#37b99e"/><polygon points="1124.2,209.4 1133.9,212.1 1126.4,212.0 1116.7,211.5" stroke="#ccbb5b"/><polygon points="868.9,240.9 878.6,238.4 871.1,235.1 861.4,237.6" stroke="#37b99e"/><polygon points="1185.6,214.1 1195.3,208.0 1187.8,203.5 1178.1,211.8" stroke="#d5ba57"/><polygon points="1035.9,229.0 1045.6,229.6 1038.1,219.8 1028.4,228.0" stroke="#7ebf7b"/><polygon points="1141.4,218.5 1151.2,217.3 1143.6,213.5 1133.9,212.1" stroke="#bbbd62"/><polygon points="1247.0,209.7 1256.7,203.7 1249.2,204.7 1239.5,205.5" stroke="#e5b950"/><polygon points="947.5,241.6 957.2,239.0 949.7,235.7 940.0,238.3" stroke="#37b99e"/><polygon points="1080.0,221.6 1089.8,214.1 1082.2,208.6 1072.5,212.1" stroke="#c2bc5f"/><polygon points="886.1,241.7 895.9,239.2 888.3,235.9 878.6,238.4" stroke="#37b99e"/><polygon points="1202.8,216.7 1212.5,205.4 1205.0,208.7 1195.3,208.0" stroke="#d7ba56"/><polygon points="1097.3,226.1 1107.0,217.9 1099.5,215.8 1089.8,214.1" stroke="#afbe67"/><polygon points="1053.1,224.9 1062.8,224.9 1055.3,220.6 1045.6,229.6" stroke="#8ebf74"/><polygon points="1264.2,205.3 1273.9,215.8 1266.4,196.6 1256.7,203.7" stroke="#ecb94c"/><polygon points="1158.7,215.4 1168.4,215.5 1160.9,209.7 1151.2,217.3" stroke="#c4bc5f"/><polygon points="903.4,242.5 913.1,240.0 905.6,236.7 895.9,239.2" stroke="#37b99e"/><polygon points="991.7,214.2 1001.4,220.3 993.9,224.2 984.2,228.5" stroke="none"/><path d="M991.7 214.2L1001.4 220.3" stroke="#adbe68"/><path d="M1001.4 220.3L993.9 224.2" stroke="#81bf79"/><path d="M993.9 224.2L984.2 228.5" stroke="#75bf7e"/><path d="M984.2 228.5L991.7 214.2" stroke="#75bf7e"/><polygon points="964.8,242.4 974.5,231.5 967.0,233.9 957.2,239.0" stroke="#49bc94"/><polygon points="1220.0,215.1 1229.8,205.6 1222.3,207.9 1212.5,205.4" stroke="#e1b952"/><polygon points="1114.5,224.5 1124.2,209.4 1116.7,211.5 1107.0,217.9" stroke="#c2bc5f"/><polygon points="920.6,243.3 930.3,240.8 922.8,237.5 913.1,240.0" stroke="#37b99e"/><polygon points="1175.9,210.5 1185.6,214.1 1178.1,211.8 1168.4,215.5" stroke="#d0bb5a"/><polygon points="1070.3,222.5 1080.0,221.6 1072.5,212.1 1062.8,224.9" stroke="#aebe67"/><polygon points="1237.3,209.2 1247.0,209.7 1239.5,205.5 1229.8,205.6" stroke="#eab94e"/><polygon points="1008.9,205.9 1018.6,226.3 1011.1,222.7 1001.4,220.3" stroke="none"/><path d="M1008.9 205.9L1018.6 226.3" stroke="#8ebf74"/><path d="M1018.6 226.3L1011.1 222.7" stroke="#8ebf74"/><path d="M1011.1 222.7L1001.4 220.3" stroke="#90bf73"/><path d="M1001.4 220.3L1008.9 205.9" stroke="#adbe68"/><polygon points="937.8,244.1 947.5,241.6 940.0,238.3 930.3,240.8" stroke="#37b99e"/><polygon points="1131.7,217.6 1141.4,218.5 1133.9,212.1 1124.2,209.4" stroke="#cdbb5b"/><polygon points="876.4,244.2 886.1,241.7 878.6,238.4 868.9,240.9" stroke="#37b99e"/><polygon points="1087.5,228.3 1097.3,226.1 1089.8,214.1 1080.0,221.6" stroke="#a6be6a"/><polygon points="1026.1,209.2 1035.9,229.0 1028.4,228.0 1018.6,226.3" stroke="none"/><path d="M1026.1 209.2L1035.9 229.0" stroke="#82bf79"/><path d="M1035.9 229.0L1028.4 228.0" stroke="#71bf80"/><path d="M1028.4 228.0L1018.6 226.3" stroke="#71bf80"/><path d="M1018.6 226.3L1026.1 209.2" stroke="#8ebf74"/><polygon points="1193.1,210.6 1202.8,216.7 1195.3,208.0 1185.6,214.1" stroke="#d7ba57"/><polygon points="1148.9,228.4 1158.7,215.4 1151.2,217.3 1141.4,218.5" stroke="#b4bd65"/><polygon points="1254.5,212.5 1264.2,205.3 1256.7,203.7 1247.0,209.7" stroke="#ecb94c"/><polygon points="982.0,233.7 991.7,214.2 984.2,228.5 974.5,231.5" stroke="none"/><path d="M982.0 233.7L991.7 214.2" stroke="#79bf7d"/><path d="M991.7 214.2L984.2 228.5" stroke="#75bf7e"/><path d="M984.2 228.5L974.5 231.5" stroke="#72bf80"/><path d="M974.5 231.5L982.0 233.7" stroke="#72bf80"/><polygon points="955.0,244.9 964.8,242.4 957.2,239.0 947.5,241.6" stroke="#37b99e"/><polygon points="893.6,245.0 903.4,242.5 895.9,239.2 886.1,241.7" stroke="#37b99e"/><polygon points="1210.3,217.7 1220.0,215.1 1212.5,205.4 1202.8,216.7" stroke="#d4bb58"/><polygon points="1104.8,218.5 1114.5,224.5 1107.0,217.9 1097.3,226.1" stroke="#afbe67"/><polygon points="1043.4,207.8 1053.1,224.9 1045.6,229.6 1035.9,229.0" stroke="none"/><path d="M1043.4 207.8L1053.1 224.9" stroke="#a0be6d"/><path d="M1053.1 224.9L1045.6 229.6" stroke="#6cbf82"/><path d="M1045.6 229.6L1035.9 229.0" stroke="#6cbf82"/><path d="M1035.9 229.0L1043.4 207.8" stroke="#82bf79"/><polygon points="1166.2,222.7 1175.9,210.5 1168.4,215.5 1158.7,215.4" stroke="#cdbb5b"/><polygon points="910.9,245.8 920.6,243.3 913.1,240.0 903.4,242.5" stroke="#37b99e"/><polygon points="1227.6,216.6 1237.3,209.2 1229.8,205.6 1220.0,215.1" stroke="#e2b952"/><polygon points="972.3,245.7 982.0,233.7 974.5,231.5 964.8,242.4" stroke="#55bd8e"/><polygon points="1060.6,214.8 1070.3,222.5 1062.8,224.9 1053.1,224.9" stroke="#b4bd65"/><polygon points="1122.0,222.2 1131.7,217.6 1124.2,209.4 1114.5,224.5" stroke="#c5bc5e"/><polygon points="928.1,246.6 937.8,244.1 930.3,240.8 920.6,243.3" stroke="#37b99e"/><polygon points="1244.8,221.8 1254.5,212.5 1247.0,209.7 1237.3,209.2" stroke="#deba54"/><polygon points="1183.4,222.5 1193.1,210.6 1185.6,214.1 1175.9,210.5" stroke="#d9ba56"/><polygon points="1139.2,224.5 1148.9,228.4 1141.4,218.5 1131.7,217.6" stroke="#b5bd64"/><polygon points="1077.8,211.5 1087.5,228.3 1080.0,221.6 1070.3,222.5" stroke="none"/><path d="M1077.8 211.5L1087.5 228.3" stroke="#95bf71"/><path d="M1087.5 228.3L1080.0 221.6" stroke="#95bf71"/><path d="M1080.0 221.6L1070.3 222.5" stroke="#a9be69"/><path d="M1070.3 222.5L1077.8 211.5" stroke="#b2bd66"/><polygon points="945.3,247.4 955.0,244.9 947.5,241.6 937.8,244.1" stroke="#37b99e"/><polygon points="999.2,216.4 1008.9,205.9 1001.4,220.3 991.7,214.2" stroke="none"/><path d="M999.2 216.4L1008.9 205.9" stroke="#dfba53"/><path d="M1008.9 205.9L1001.4 220.3" stroke="#adbe68"/><path d="M1001.4 220.3L991.7 214.2" stroke="#adbe68"/><path d="M991.7 214.2L999.2 216.4" stroke="#daba55"/><polygon points="883.9,247.5 893.6,245.0 886.1,241.7 876.4,244.2" stroke="#37b99e"/><polygon points="1200.6,219.3 1210.3,217.7 1202.8,216.7 1193.1,210.6" stroke="#d4bb58"/><polygon points="1156.4,222.3 1166.2,222.7 1158.7,215.4 1148.9,228.4" stroke="#babd63"/><polygon points="1217.8,225.8 1227.6,216.6 1220.0,215.1 1210.3,217.7" stroke="#cbbb5c"/><polygon points="962.5,248.2 972.3,245.7 964.8,242.4 955.0,244.9" stroke="#37b99e"/><polygon points="1095.0,208.2 1104.8,218.5 1097.3,226.1 1087.5,228.3" stroke="none"/><path d="M1095.0 208.2L1104.8 218.5" stroke="#d0bb5a"/><path d="M1104.8 218.5L1097.3 226.1" stroke="#94bf72"/><path d="M1097.3 226.1L1087.5 228.3" stroke="#94bf72"/><path d="M1087.5 228.3L1095.0 208.2" stroke="#95bf71"/><polygon points="901.1,248.3 910.9,245.8 903.4,242.5 893.6,245.0" stroke="#37b99e"/><polygon points="1016.4,208.2 1026.1,209.2 1018.6,226.3 1008.9,205.9" stroke="none"/><path d="M1016.4 208.2L1026.1 209.2" stroke="#f9bb43"/><path d="M1026.1 209.2L1018.6 226.3" stroke="#8ebf74"/><path d="M1018.6 226.3L1008.9 205.9" stroke="#8ebf74"/><path d="M1008.9 205.9L1016.4 208.2" stroke="#fec239"/><polygon points="989.5,237.5 999.2,216.4 991.7,214.2 982.0,233.7" stroke="none"/><path d="M989.5 237.5L999.2 216.4" stroke="#76bf7e"/><path d="M999.2 216.4L991.7 214.2" stroke="#daba55"/><path d="M991.7 214.2L982.0 233.7" stroke="#79bf7d"/><path d="M982.0 233.7L989.5 237.5" stroke="#76bf7e"/><polygon points="1173.7,223.3 1183.4,222.5 1175.9,210.5 1166.2,222.7" stroke="#cbbb5c"/><polygon points="1033.7,214.9 1043.4,207.8 1035.9,229.0 1026.1,209.2" stroke="none"/><path d="M1033.7 214.9L1043.4 207.8" stroke="#efb94b"/><path d="M1043.4 207.8L1035.9 229.0" stroke="#82bf79"/><path d="M1035.9 229.0L1026.1 209.2" stroke="#82bf79"/><path d="M1026.1 209.2L1033.7 214.9" stroke="#efb94b"/><polygon points="918.4,249.1 928.1,246.6 920.6,243.3 910.9,245.8" stroke="#37b99e"/><polygon points="1235.1,220.3 1244.8,221.8 1237.3,209.2 1227.6,216.6" stroke="#d8ba56"/><polygon points="1112.3,211.6 1122.0,222.2 1114.5,224.5 1104.8,218.5" stroke="none"/><path d="M1112.3 211.6L1122.0 222.2" stroke="#c1bc60"/><path d="M1122.0 222.2L1114.5 224.5" stroke="#a2be6c"/><path d="M1114.5 224.5L1104.8 218.5" stroke="#a2be6c"/><path d="M1104.8 218.5L1112.3 211.6" stroke="#d0bb5a"/><polygon points="979.8,249.0 989.5,237.5 982.0,233.7 972.3,245.7" stroke="#56bd8d"/><polygon points="935.6,249.9 945.3,247.4 937.8,244.1 928.1,246.6" stroke="#37b99e"/><polygon points="1050.9,211.2 1060.6,214.8 1053.1,224.9 1043.4,207.8" stroke="none"/><path d="M1050.9 211.2L1060.6 214.8" stroke="#e7b94f"/><path d="M1060.6 214.8L1053.1 224.9" stroke="#a0be6d"/><path d="M1053.1 224.9L1043.4 207.8" stroke="#a0be6d"/><path d="M1043.4 207.8L1050.9 211.2" stroke="#fec03b"/><polygon points="1190.9,223.2 1200.6,219.3 1193.1,210.6 1183.4,222.5" stroke="#d3bb58"/><polygon points="1129.5,210.6 1139.2,224.5 1131.7,217.6 1122.0,222.2" stroke="#d4bb58"/><polygon points="1146.7,217.3 1156.4,222.3 1148.9,228.4 1139.2,224.5" stroke="#c2bc5f"/><polygon points="1208.1,221.0 1217.8,225.8 1210.3,217.7 1200.6,219.3" stroke="#ccbb5b"/><polygon points="952.8,250.7 962.5,248.2 955.0,244.9 945.3,247.4" stroke="#37b99e"/><polygon points="891.4,250.8 901.1,248.3 893.6,245.0 883.9,247.5" stroke="#37b99e"/><polygon points="1068.1,209.9 1077.8,211.5 1070.3,222.5 1060.6,214.8" stroke="none"/><path d="M1068.1 209.9L1077.8 211.5" stroke="#fabb42"/><path d="M1077.8 211.5L1070.3 222.5" stroke="#b2bd66"/><path d="M1070.3 222.5L1060.6 214.8" stroke="#b2bd66"/><path d="M1060.6 214.8L1068.1 209.9" stroke="#e7b94f"/><polygon points="1006.7,221.6 1016.4,208.2 1008.9,205.9 999.2,216.4" stroke="#f2b949"/><polygon points="1225.3,224.0 1235.1,220.3 1227.6,216.6 1217.8,225.8" stroke="#cdbb5b"/><polygon points="970.0,251.5 979.8,249.0 972.3,245.7 962.5,248.2" stroke="#37b99e"/><polygon points="908.6,251.6 918.4,249.1 910.9,245.8 901.1,248.3" stroke="#37b99e"/><polygon points="1085.3,213.6 1095.0,208.2 1087.5,228.3 1077.8,211.5" stroke="none"/><path d="M1085.3 213.6L1095.0 208.2" stroke="#fdbe3e"/><path d="M1095.0 208.2L1087.5 228.3" stroke="#95bf71"/><path d="M1087.5 228.3L1077.8 211.5" stroke="#95bf71"/><path d="M1077.8 211.5L1085.3 213.6" stroke="#fabb42"/><polygon points="997.0,249.3 1006.7,221.6 999.2,216.4 989.5,237.5" stroke="none"/><path d="M997.0 249.3L1006.7 221.6" stroke="#3ab99c"/><path d="M1006.7 221.6L999.2 216.4" stroke="#d6ba57"/><path d="M999.2 216.4L989.5 237.5" stroke="#76bf7e"/><path d="M989.5 237.5L997.0 249.3" stroke="#3ab99c"/><polygon points="1163.9,213.4 1173.7,223.3 1166.2,222.7 1156.4,222.3" stroke="#d4bb58"/><polygon points="925.9,252.4 935.6,249.9 928.1,246.6 918.4,249.1" stroke="#37b99e"/><polygon points="1023.9,211.0 1033.7,214.9 1026.1,209.2 1016.4,208.2" stroke="#fdbe3e"/><polygon points="1181.2,217.3 1190.9,223.2 1183.4,222.5 1173.7,223.3" stroke="#d2bb59"/><polygon points="987.3,252.3 997.0,249.3 989.5,237.5 979.8,249.0" stroke="#46bb95"/><polygon points="1102.5,216.4 1112.3,211.6 1104.8,218.5 1095.0,208.2" stroke="#f6ba46"/><polygon points="943.1,253.2 952.8,250.7 945.3,247.4 935.6,249.9" stroke="#37b99e"/><polygon points="1041.2,213.1 1050.9,211.2 1043.4,207.8 1033.7,214.9" stroke="#fdbe3e"/><polygon points="1119.8,219.2 1129.5,210.6 1122.0,222.2 1112.3,211.6" stroke="#efb94b"/><polygon points="1198.4,217.6 1208.1,221.0 1200.6,219.3 1190.9,223.2" stroke="#ddba54"/><polygon points="1014.2,247.9 1023.9,211.0 1016.4,208.2 1006.7,221.6" stroke="none"/><path d="M1014.2 247.9L1023.9 211.0" stroke="#48bb94"/><path d="M1023.9 211.0L1016.4 208.2" stroke="#fec535"/><path d="M1016.4 208.2L1006.7 221.6" stroke="#d6ba57"/><path d="M1006.7 221.6L1014.2 247.9" stroke="#48bb94"/><polygon points="1058.4,215.8 1068.1,209.9 1060.6,214.8 1050.9,211.2" stroke="#fcbd40"/><polygon points="960.3,254.0 970.0,251.5 962.5,248.2 952.8,250.7" stroke="#37b99e"/><polygon points="1004.5,252.8 1014.2,247.9 1006.7,221.6 997.0,249.3" stroke="none"/><path d="M1004.5 252.8L1014.2 247.9" stroke="#39b99d"/><path d="M1014.2 247.9L1006.7 221.6" stroke="#48bb94"/><path d="M1006.7 221.6L997.0 249.3" stroke="#3ab99c"/><path d="M997.0 249.3L1004.5 252.8" stroke="#39b99d"/><polygon points="898.9,254.1 908.6,251.6 901.1,248.3 891.4,250.8" stroke="#37b99e"/><polygon points="1137.0,214.8 1146.7,217.3 1139.2,224.5 1129.5,210.6" stroke="#eeb94b"/><polygon points="1215.6,217.3 1225.3,224.0 1217.8,225.8 1208.1,221.0" stroke="#d8ba56"/><polygon points="977.5,254.8 987.3,252.3 979.8,249.0 970.0,251.5" stroke="#37b99e"/><polygon points="1075.6,215.6 1085.3,213.6 1077.8,211.5 1068.1,209.9" stroke="#fec03b"/><polygon points="916.2,254.9 925.9,252.4 918.4,249.1 908.6,251.6" stroke="#37b99e"/><polygon points="1031.4,242.3 1041.2,213.1 1033.7,214.9 1023.9,211.0" stroke="none"/><path d="M1031.4 242.3L1041.2 213.1" stroke="#76bf7e"/><path d="M1041.2 213.1L1033.7 214.9" stroke="#efb94b"/><path d="M1033.7 214.9L1023.9 211.0" stroke="#efb94b"/><path d="M1023.9 211.0L1031.4 242.3" stroke="#76bf7e"/><polygon points="1154.2,217.1 1163.9,213.4 1156.4,222.3 1146.7,217.3" stroke="#efb94b"/><polygon points="1021.7,250.3 1031.4,242.3 1023.9,211.0 1014.2,247.9" stroke="none"/><path d="M1021.7 250.3L1031.4 242.3" stroke="#4ebc91"/><path d="M1031.4 242.3L1023.9 211.0" stroke="#76bf7e"/><path d="M1023.9 211.0L1014.2 247.9" stroke="#48bb94"/><path d="M1014.2 247.9L1021.7 250.3" stroke="#48bb94"/><polygon points="1092.8,218.5 1102.5,216.4 1095.0,208.2 1085.3,213.6" stroke="#fdbe3e"/><polygon points="994.8,255.6 1004.5,252.8 997.0,249.3 987.3,252.3" stroke="#38b99e"/><polygon points="933.4,255.7 943.1,253.2 935.6,249.9 925.9,252.4" stroke="#37b99e"/><polygon points="1048.7,241.4 1058.4,215.8 1050.9,211.2 1041.2,213.1" stroke="none"/><path d="M1048.7 241.4L1058.4 215.8" stroke="#82bf79"/><path d="M1058.4 215.8L1050.9 211.2" stroke="#fcbd40"/><path d="M1050.9 211.2L1041.2 213.1" stroke="#fec03b"/><path d="M1041.2 213.1L1048.7 241.4" stroke="#82bf79"/><polygon points="1171.5,216.9 1181.2,217.3 1173.7,223.3 1163.9,213.4" stroke="#f1b949"/><polygon points="1110.1,217.5 1119.8,219.2 1112.3,211.6 1102.5,216.4" stroke="#f9bb43"/><polygon points="950.6,256.5 960.3,254.0 952.8,250.7 943.1,253.2" stroke="#37b99e"/><polygon points="1012.0,256.0 1021.7,250.3 1014.2,247.9 1004.5,252.8" stroke="#42bb98"/><polygon points="1188.7,216.7 1198.4,217.6 1190.9,223.2 1181.2,217.3" stroke="#f1b94a"/><polygon points="1038.9,246.6 1048.7,241.4 1041.2,213.1 1031.4,242.3" stroke="none"/><path d="M1038.9 246.6L1048.7 241.4" stroke="#6fbf81"/><path d="M1048.7 241.4L1041.2 213.1" stroke="#82bf79"/><path d="M1041.2 213.1L1031.4 242.3" stroke="#76bf7e"/><path d="M1031.4 242.3L1038.9 246.6" stroke="#6fbf81"/><polygon points="1065.9,240.9 1075.6,215.6 1068.1,209.9 1058.4,215.8" stroke="none"/><path d="M1065.9 240.9L1075.6 215.6" stroke="#8bbf75"/><path d="M1075.6 215.6L1068.1 209.9" stroke="#fec03c"/><path d="M1068.1 209.9L1058.4 215.8" stroke="#fcbd40"/><path d="M1058.4 215.8L1065.9 240.9" stroke="#8bbf75"/><polygon points="1127.3,219.5 1137.0,214.8 1129.5,210.6 1119.8,219.2" stroke="#fcbd3f"/><polygon points="967.8,257.3 977.5,254.8 970.0,251.5 960.3,254.0" stroke="#37b99e"/><polygon points="1083.1,243.1 1092.8,218.5 1085.3,213.6 1075.6,215.6" stroke="none"/><path d="M1083.1 243.1L1092.8 218.5" stroke="#81bf79"/><path d="M1092.8 218.5L1085.3 213.6" stroke="#f8ba44"/><path d="M1085.3 213.6L1075.6 215.6" stroke="#fdbe3e"/><path d="M1075.6 215.6L1083.1 243.1" stroke="#81bf79"/><polygon points="906.4,257.4 916.2,254.9 908.6,251.6 898.9,254.1" stroke="#37b99e"/><polygon points="1205.9,217.1 1215.6,217.3 1208.1,221.0 1198.4,217.6" stroke="#f6ba46"/><polygon points="1056.2,243.5 1065.9,240.9 1058.4,215.8 1048.7,241.4" stroke="none"/><path d="M1056.2 243.5L1065.9 240.9" stroke="#8abf76"/><path d="M1065.9 240.9L1058.4 215.8" stroke="#8bbf75"/><path d="M1058.4 215.8L1048.7 241.4" stroke="#82bf79"/><path d="M1048.7 241.4L1056.2 243.5" stroke="#82bf79"/><polygon points="1029.2,255.2 1038.9,246.6 1031.4,242.3 1021.7,250.3" stroke="#5ebe89"/><polygon points="1144.5,217.9 1154.2,217.1 1146.7,217.3 1137.0,214.8" stroke="#fcbd3f"/><polygon points="985.0,258.1 994.8,255.6 987.3,252.3 977.5,254.8" stroke="#37b99e"/><polygon points="1100.3,241.4 1110.1,217.5 1102.5,216.4 1092.8,218.5" stroke="none"/><path d="M1100.3 241.4L1110.1 217.5" stroke="#91bf73"/><path d="M1110.1 217.5L1102.5 216.4" stroke="#f6ba46"/><path d="M1102.5 216.4L1092.8 218.5" stroke="#f6ba46"/><path d="M1092.8 218.5L1100.3 241.4" stroke="#91bf73"/><polygon points="923.7,258.2 933.4,255.7 925.9,252.4 916.2,254.9" stroke="#37b99e"/><polygon points="1073.4,246.2 1083.1,243.1 1075.6,215.6 1065.9,240.9" stroke="none"/><path d="M1073.4 246.2L1083.1 243.1" stroke="#7dbf7b"/><path d="M1083.1 243.1L1075.6 215.6" stroke="#81bf79"/><path d="M1075.6 215.6L1065.9 240.9" stroke="#8bbf75"/><path d="M1065.9 240.9L1073.4 246.2" stroke="#7dbf7b"/><polygon points="1161.7,217.5 1171.5,216.9 1163.9,213.4 1154.2,217.1" stroke="#fec13a"/><polygon points="1002.3,258.9 1012.0,256.0 1004.5,252.8 994.8,255.6" stroke="#38b99e"/><polygon points="1117.6,238.7 1127.3,219.5 1119.8,219.2 1110.1,217.5" stroke="none"/><path d="M1117.6 238.7L1127.3 219.5" stroke="#a6be6a"/><path d="M1127.3 219.5L1119.8 219.2" stroke="#edb94c"/><path d="M1119.8 219.2L1110.1 217.5" stroke="#edb94c"/><path d="M1110.1 217.5L1117.6 238.7" stroke="#a6be6a"/><polygon points="940.9,259.0 950.6,256.5 943.1,253.2 933.4,255.7" stroke="#37b99e"/><polygon points="1046.4,253.2 1056.2,243.5 1048.7,241.4 1038.9,246.6" stroke="#75bf7f"/><polygon points="1090.6,248.1 1100.3,241.4 1092.8,218.5 1083.1,243.1" stroke="none"/><path d="M1090.6 248.1L1100.3 241.4" stroke="#76bf7e"/><path d="M1100.3 241.4L1092.8 218.5" stroke="#91bf73"/><path d="M1092.8 218.5L1083.1 243.1" stroke="#81bf79"/><path d="M1083.1 243.1L1090.6 248.1" stroke="#76bf7e"/><polygon points="1179.0,220.6 1188.7,216.7 1181.2,217.3 1171.5,216.9" stroke="#fdbe3d"/><polygon points="958.1,259.8 967.8,257.3 960.3,254.0 950.6,256.5" stroke="#37b99e"/><polygon points="1019.5,259.5 1029.2,255.2 1021.7,250.3 1012.0,256.0" stroke="#41ba99"/><polygon points="1134.8,241.1 1144.5,217.9 1137.0,214.8 1127.3,219.5" stroke="none"/><path d="M1134.8 241.1L1144.5 217.9" stroke="#9cbf6e"/><path d="M1144.5 217.9L1137.0 214.8" stroke="#fec139"/><path d="M1137.0 214.8L1127.3 219.5" stroke="#fabc42"/><path d="M1127.3 219.5L1134.8 241.1" stroke="#9cbf6e"/><polygon points="1063.7,251.2 1073.4,246.2 1065.9,240.9 1056.2,243.5" stroke="#80bf7a"/><polygon points="1107.8,245.1 1117.6,238.7 1110.1,217.5 1100.3,241.4" stroke="none"/><path d="M1107.8 245.1L1117.6 238.7" stroke="#8fbf74"/><path d="M1117.6 238.7L1110.1 217.5" stroke="#a6be6a"/><path d="M1110.1 217.5L1100.3 241.4" stroke="#91bf73"/><path d="M1100.3 241.4L1107.8 245.1" stroke="#8fbf74"/><polygon points="1196.2,219.1 1205.9,217.1 1198.4,217.6 1188.7,216.7" stroke="#fec139"/><polygon points="975.3,260.6 985.0,258.1 977.5,254.8 967.8,257.3" stroke="#37b99e"/><polygon points="913.9,260.7 923.7,258.2 916.2,254.9 906.4,257.4" stroke="#37b99e"/><polygon points="1080.9,249.8 1090.6,248.1 1083.1,243.1 1073.4,246.2" stroke="#7cbf7c"/><polygon points="1152.0,240.4 1161.7,217.5 1154.2,217.1 1144.5,217.9" stroke="none"/><path d="M1152.0 240.4L1161.7 217.5" stroke="#a5be6b"/><path d="M1161.7 217.5L1154.2 217.1" stroke="#fcbd3f"/><path d="M1154.2 217.1L1144.5 217.9" stroke="#fcbd3f"/><path d="M1144.5 217.9L1152.0 240.4" stroke="#a5be6b"/><polygon points="1036.7,259.7 1046.4,253.2 1038.9,246.6 1029.2,255.2" stroke="#51bc90"/><polygon points="1125.1,248.5 1134.8,241.1 1127.3,219.5 1117.6,238.7" stroke="none"/><path d="M1125.1 248.5L1134.8 241.1" stroke="#7dbf7b"/><path d="M1134.8 241.1L1127.3 219.5" stroke="#9cbf6e"/><path d="M1127.3 219.5L1117.6 238.7" stroke="#a6be6a"/><path d="M1117.6 238.7L1125.1 248.5" stroke="#7dbf7b"/><polygon points="992.6,261.4 1002.3,258.9 994.8,255.6 985.0,258.1" stroke="#37b99e"/><polygon points="1169.2,244.6 1179.0,220.6 1171.5,216.9 1161.7,217.5" stroke="none"/><path d="M1169.2 244.6L1179.0 220.6" stroke="#91bf73"/><path d="M1179.0 220.6L1171.5 216.9" stroke="#febf3d"/><path d="M1171.5 216.9L1161.7 217.5" stroke="#fec03b"/><path d="M1161.7 217.5L1169.2 244.6" stroke="#91bf73"/><polygon points="931.2,261.5 940.9,259.0 933.4,255.7 923.7,258.2" stroke="#37b99e"/><polygon points="1098.1,251.3 1107.8,245.1 1100.3,241.4 1090.6,248.1" stroke="#83bf78"/><polygon points="1142.3,247.1 1152.0,240.4 1144.5,217.9 1134.8,241.1" stroke="none"/><path d="M1142.3 247.1L1152.0 240.4" stroke="#8cbf75"/><path d="M1152.0 240.4L1144.5 217.9" stroke="#a5be6b"/><path d="M1144.5 217.9L1134.8 241.1" stroke="#9cbf6e"/><path d="M1134.8 241.1L1142.3 247.1" stroke="#8cbf75"/><polygon points="1054.0,258.9 1063.7,251.2 1056.2,243.5 1046.4,253.2" stroke="#65be86"/><polygon points="1009.8,262.2 1019.5,259.5 1012.0,256.0 1002.3,258.9" stroke="#38b99e"/><polygon points="948.4,262.3 958.1,259.8 950.6,256.5 940.9,259.0" stroke="#37b99e"/><polygon points="1186.5,243.7 1196.2,219.1 1188.7,216.7 1179.0,220.6" stroke="none"/><path d="M1186.5 243.7L1196.2 219.1" stroke="#9bbf6f"/><path d="M1196.2 219.1L1188.7 216.7" stroke="#ffc338"/><path d="M1188.7 216.7L1179.0 220.6" stroke="#febf3d"/><path d="M1179.0 220.6L1186.5 243.7" stroke="#9bbf6f"/><polygon points="1115.3,249.3 1125.1,248.5 1117.6,238.7 1107.8,245.1" stroke="#8fbf74"/><polygon points="1159.5,245.6 1169.2,244.6 1161.7,217.5 1152.0,240.4" stroke="none"/><path d="M1159.5 245.6L1169.2 244.6" stroke="#91bf73"/><path d="M1169.2 244.6L1161.7 217.5" stroke="#91bf73"/><path d="M1161.7 217.5L1152.0 240.4" stroke="#a5be6b"/><path d="M1152.0 240.4L1159.5 245.6" stroke="#9abf6f"/><polygon points="1071.2,259.5 1080.9,249.8 1073.4,246.2 1063.7,251.2" stroke="#6bbe83"/><polygon points="1027.0,263.0 1036.7,259.7 1029.2,255.2 1019.5,259.5" stroke="#3cba9c"/><polygon points="965.6,263.1 975.3,260.6 967.8,257.3 958.1,259.8" stroke="#37b99e"/><polygon points="1176.7,247.7 1186.5,243.7 1179.0,220.6 1169.2,244.6" stroke="none"/><path d="M1176.7 247.7L1186.5 243.7" stroke="#92bf72"/><path d="M1186.5 243.7L1179.0 220.6" stroke="#9bbf6f"/><path d="M1179.0 220.6L1169.2 244.6" stroke="#91bf73"/><path d="M1169.2 244.6L1176.7 247.7" stroke="#91bf73"/><polygon points="1132.6,249.6 1142.3,247.1 1134.8,241.1 1125.1,248.5" stroke="#8dbf75"/><polygon points="1088.4,259.4 1098.1,251.3 1090.6,248.1 1080.9,249.8" stroke="#6dbf82"/><polygon points="982.8,263.9 992.6,261.4 985.0,258.1 975.3,260.6" stroke="#37b99e"/><polygon points="1044.2,263.9 1054.0,258.9 1046.4,253.2 1036.7,259.7" stroke="#43bb97"/><polygon points="921.4,264.1 931.2,261.5 923.7,258.2 913.9,260.7" stroke="#37b99e"/><polygon points="1149.8,250.8 1159.5,245.6 1152.0,240.4 1142.3,247.1" stroke="#96bf71"/><polygon points="1000.1,264.7 1009.8,262.2 1002.3,258.9 992.6,261.4" stroke="#37b99e"/><polygon points="938.7,264.8 948.4,262.3 940.9,259.0 931.2,261.5" stroke="#37b99e"/><polygon points="1061.5,264.5 1071.2,259.5 1063.7,251.2 1054.0,258.9" stroke="#4bbc93"/><polygon points="1105.6,254.1 1115.3,249.3 1107.8,245.1 1098.1,251.3" stroke="#82bf79"/><polygon points="1167.0,247.7 1176.7,247.7 1169.2,244.6 1159.5,245.6" stroke="#98bf70"/><polygon points="1017.3,265.5 1027.0,263.0 1019.5,259.5 1009.8,262.2" stroke="#37b99e"/><polygon points="955.9,265.6 965.6,263.1 958.1,259.8 948.4,262.3" stroke="#37b99e"/><polygon points="1078.7,264.7 1088.4,259.4 1080.9,249.8 1071.2,259.5" stroke="#52bd8f"/><polygon points="1122.9,251.8 1132.6,249.6 1125.1,248.5 1115.3,249.3" stroke="#88bf76"/><polygon points="1034.5,266.3 1044.2,263.9 1036.7,259.7 1027.0,263.0" stroke="#38b99e"/><polygon points="973.1,266.4 982.8,263.9 975.3,260.6 965.6,263.1" stroke="#37b99e"/><polygon points="1140.1,253.7 1149.8,250.8 1142.3,247.1 1132.6,249.6" stroke="#8abf76"/><polygon points="1095.9,263.0 1105.6,254.1 1098.1,251.3 1088.4,259.4" stroke="#62be87"/><polygon points="1051.7,267.1 1061.5,264.5 1054.0,258.9 1044.2,263.9" stroke="#3bb99c"/><polygon points="990.3,267.2 1000.1,264.7 992.6,261.4 982.8,263.9" stroke="#37b99e"/><polygon points="928.9,267.4 938.7,264.8 931.2,261.5 921.4,264.1" stroke="#37b99e"/><polygon points="1157.3,254.2 1167.0,247.7 1159.5,245.6 1149.8,250.8" stroke="#94bf72"/><polygon points="1069.0,267.7 1078.7,264.7 1071.2,259.5 1061.5,264.5" stroke="#3cba9b"/><polygon points="1007.6,268.0 1017.3,265.5 1009.8,262.2 1000.1,264.7" stroke="#37b99e"/><polygon points="946.2,268.1 955.9,265.6 948.4,262.3 938.7,264.8" stroke="#37b99e"/><polygon points="1113.1,261.1 1122.9,251.8 1115.3,249.3 1105.6,254.1" stroke="#7cbf7b"/><polygon points="1024.8,268.8 1034.5,266.3 1027.0,263.0 1017.3,265.5" stroke="#37b99e"/><polygon points="1086.2,268.5 1095.9,263.0 1088.4,259.4 1078.7,264.7" stroke="#43bb98"/><polygon points="963.4,268.9 973.1,266.4 965.6,263.1 955.9,265.6" stroke="#37b99e"/><polygon points="1130.4,261.1 1140.1,253.7 1132.6,249.6 1122.9,251.8" stroke="#82bf79"/><polygon points="1042.0,269.6 1051.7,267.1 1044.2,263.9 1034.5,266.3" stroke="#37b99e"/><polygon points="980.6,269.7 990.3,267.2 982.8,263.9 973.1,266.4" stroke="#37b99e"/><polygon points="1147.6,259.2 1157.3,254.2 1149.8,250.8 1140.1,253.7" stroke="#85bf78"/><polygon points="1103.4,268.1 1113.1,261.1 1105.6,254.1 1095.9,263.0" stroke="#58bd8c"/><polygon points="1059.2,270.4 1069.0,267.7 1061.5,264.5 1051.7,267.1" stroke="#37b99e"/><polygon points="997.8,270.5 1007.6,268.0 1000.1,264.7 990.3,267.2" stroke="#37b99e"/><polygon points="936.5,270.7 946.2,268.1 938.7,264.8 928.9,267.4" stroke="#37b99e"/><polygon points="1120.6,266.6 1130.4,261.1 1122.9,251.8 1113.1,261.1" stroke="#68be84"/><polygon points="1076.5,271.2 1086.2,268.5 1078.7,264.7 1069.0,267.7" stroke="#38b99d"/><polygon points="1015.1,271.3 1024.8,268.8 1017.3,265.5 1007.6,268.0" stroke="#37b99e"/><polygon points="953.7,271.5 963.4,268.9 955.9,265.6 946.2,268.1" stroke="#37b99e"/><polygon points="1137.9,268.4 1147.6,259.2 1140.1,253.7 1130.4,261.1" stroke="#6bbf83"/><polygon points="1032.3,272.1 1042.0,269.6 1034.5,266.3 1024.8,268.8" stroke="#37b99e"/><polygon points="1093.7,272.0 1103.4,268.1 1095.9,263.0 1086.2,268.5" stroke="#3eba9a"/><polygon points="970.9,272.2 980.6,269.7 973.1,266.4 963.4,268.9" stroke="#37b99e"/><polygon points="1049.5,272.9 1059.2,270.4 1051.7,267.1 1042.0,269.6" stroke="#37b99e"/><polygon points="988.1,273.0 997.8,270.5 990.3,267.2 980.6,269.7" stroke="#37b99e"/><polygon points="1110.9,272.5 1120.6,266.6 1113.1,261.1 1103.4,268.1" stroke="#49bb94"/><polygon points="1066.7,273.7 1076.5,271.2 1069.0,267.7 1059.2,270.4" stroke="#37b99e"/><polygon points="1005.4,273.8 1015.1,271.3 1007.6,268.0 997.8,270.5" stroke="#37b99e"/><polygon points="1128.1,273.6 1137.9,268.4 1130.4,261.1 1120.6,266.6" stroke="#4cbc92"/><polygon points="944.0,274.0 953.7,271.5 946.2,268.1 936.5,270.7" stroke="#37b99e"/><polygon points="1084.0,274.5 1093.7,272.0 1086.2,268.5 1076.5,271.2" stroke="#37b99e"/><polygon points="1022.6,274.6 1032.3,272.1 1024.8,268.8 1015.1,271.3" stroke="#37b99e"/><polygon points="961.2,274.8 970.9,272.2 963.4,268.9 953.7,271.5" stroke="#37b99e"/><polygon points="1101.2,275.3 1110.9,272.5 1103.4,268.1 1093.7,272.0" stroke="#39b99d"/><polygon points="1039.8,275.4 1049.5,272.9 1042.0,269.6 1032.3,272.1" stroke="#37b99e"/><polygon points="978.4,275.5 988.1,273.0 980.6,269.7 970.9,272.2" stroke="#37b99e"/><polygon points="1118.4,276.0 1128.1,273.6 1120.6,266.6 1110.9,272.5" stroke="#3dba9b"/><polygon points="1057.0,276.2 1066.7,273.7 1059.2,270.4 1049.5,272.9" stroke="#37b99e"/><polygon points="995.6,276.3 1005.4,273.8 997.8,270.5 988.1,273.0" stroke="#37b99e"/><polygon points="1074.2,277.0 1084.0,274.5 1076.5,271.2 1066.7,273.7" stroke="#37b99e"/><polygon points="1012.9,277.1 1022.6,274.6 1015.1,271.3 1005.4,273.8" stroke="#37b99e"/><polygon points="951.5,277.3 961.2,274.8 953.7,271.5 944.0,274.0" stroke="#37b99e"/><polygon points="1091.5,277.8 1101.2,275.3 1093.7,272.0 1084.0,274.5" stroke="#37b99e"/><polygon points="1030.1,277.9 1039.8,275.4 1032.3,272.1 1022.6,274.6" stroke="#37b99e"/><polygon points="968.7,278.1 978.4,275.5 970.9,272.2 961.2,274.8" stroke="#37b99e"/><polygon points="1108.7,278.6 1118.4,276.0 1110.9,272.5 1101.2,275.3" stroke="#37b99e"/><polygon points="1047.3,278.7 1057.0,276.2 1049.5,272.9 1039.8,275.4" stroke="#37b99e"/><polygon points="985.9,278.9 995.6,276.3 988.1,273.0 978.4,275.5" stroke="#37b99e"/><polygon points="1064.5,279.5 1074.2,277.0 1066.7,273.7 1057.0,276.2" stroke="#37b99e"/><polygon points="1003.1,279.6 1012.9,277.1 1005.4,273.8 995.6,276.3" stroke="#37b99e"/><polygon points="1081.8,280.3 1091.5,277.8 1084.0,274.5 1074.2,277.0" stroke="#37b99e"/><polygon points="1020.4,280.4 1030.1,277.9 1022.6,274.6 1012.9,277.1" stroke="#37b99e"/><polygon points="959.0,280.6 968.7,278.1 961.2,274.8 951.5,277.3" stroke="#37b99e"/><polygon points="1099.0,281.1 1108.7,278.6 1101.2,275.3 1091.5,277.8" stroke="#37b99e"/><polygon points="1037.6,281.2 1047.3,278.7 1039.8,275.4 1030.1,277.9" stroke="#37b99e"/><polygon points="976.2,281.4 985.9,278.9 978.4,275.5 968.7,278.1" stroke="#37b99e"/><polygon points="1054.8,282.0 1064.5,279.5 1057.0,276.2 1047.3,278.7" stroke="#37b99e"/><polygon points="993.4,282.2 1003.1,279.6 995.6,276.3 985.9,278.9" stroke="#37b99e"/><polygon points="1072.0,282.8 1081.8,280.3 1074.2,277.0 1064.5,279.5" stroke="#37b99e"/><polygon points="1010.6,282.9 1020.4,280.4 1012.9,277.1 1003.1,279.6" stroke="#37b99e"/><polygon points="1089.3,283.6 1099.0,281.1 1091.5,277.8 1081.8,280.3" stroke="#37b99e"/><polygon points="1027.9,283.7 1037.6,281.2 1030.1,277.9 1020.4,280.4" stroke="#37b99e"/><polygon points="966.5,283.9 976.2,281.4 968.7,278.1 959.0,280.6" stroke="#37b99e"/><polygon points="1045.1,284.5 1054.8,282.0 1047.3,278.7 1037.6,281.2" stroke="#37b99e"/><polygon points="983.7,284.7 993.4,282.2 985.9,278.9 976.2,281.4" stroke="#37b99e"/><polygon points="1062.3,285.3 1072.0,282.8 1064.5,279.5 1054.8,282.0" stroke="#37b99e"/><polygon points="1000.9,285.5 1010.6,282.9 1003.1,279.6 993.4,282.2" stroke="#37b99e"/><polygon points="1079.5,286.1 1089.3,283.6 1081.8,280.3 1072.0,282.8" stroke="#37b99e"/><polygon points="1018.1,286.3 1027.9,283.7 1020.4,280.4 1010.6,282.9" stroke="#37b99e"/><polygon points="1035.4,287.0 1045.1,284.5 1037.6,281.2 1027.9,283.7" stroke="#37b99e"/><polygon points="974.0,287.2 983.7,284.7 976.2,281.4 966.5,283.9" stroke="#37b99e"/><polygon points="1052.6,287.8 1062.3,285.3 1054.8,282.0 1045.1,284.5" stroke="#37b99e"/><polygon points="991.2,288.0 1000.9,285.5 993.4,282.2 983.7,284.7" stroke="#37b99e"/><polygon points="1069.8,288.6 1079.5,286.1 1072.0,282.8 1062.3,285.3" stroke="#37b99e"/><polygon points="1008.4,288.8 1018.1,286.3 1010.6,282.9 1000.9,285.5" stroke="#37b99e"/><polygon points="1025.7,289.6 1035.4,287.0 1027.9,283.7 1018.1,286.3" stroke="#37b99e"/><polygon points="1042.9,290.3 1052.6,287.8 1045.1,284.5 1035.4,287.0" stroke="#37b99e"/><polygon points="981.5,290.5 991.2,288.0 983.7,284.7 974.0,287.2" stroke="#37b99e"/><polygon points="1060.1,291.1 1069.8,288.6 1062.3,285.3 1052.6,287.8" stroke="#37b99e"/><polygon points="998.7,291.3 1008.4,288.8 1000.9,285.5 991.2,288.0" stroke="#37b99e"/><polygon points="1015.9,292.1 1025.7,289.6 1018.1,286.3 1008.4,288.8" stroke="#37b99e"/><polygon points="1033.2,292.9 1042.9,290.3 1035.4,287.0 1025.7,289.6" stroke="#37b99e"/><polygon points="1050.4,293.7 1060.1,291.1 1052.6,287.8 1042.9,290.3" stroke="#37b99e"/><polygon points="989.0,293.8 998.7,291.3 991.2,288.0 981.5,290.5" stroke="#37b99e"/><polygon points="1006.2,294.6 1015.9,292.1 1008.4,288.8 998.7,291.3" stroke="#37b99e"/><polygon points="1023.4,295.4 1033.2,292.9 1025.7,289.6 1015.9,292.1" stroke="#37b99e"/><polygon points="1040.7,296.2 1050.4,293.7 1042.9,290.3 1033.2,292.9" stroke="#37b99e"/><polygon points="996.5,297.1 1006.2,294.6 998.7,291.3 989.0,293.8" stroke="#37b99e"/><polygon points="1013.7,297.9 1023.4,295.4 1015.9,292.1 1006.2,294.6" stroke="#37b99e"/><polygon points="1030.9,298.7 1040.7,296.2 1033.2,292.9 1023.4,295.4" stroke="#37b99e"/><polygon points="1004.0,300.4 1013.7,297.9 1006.2,294.6 996.5,297.1" stroke="#37b99e"/><polygon points="1021.2,301.2 1030.9,298.7 1023.4,295.4 1013.7,297.9" stroke="#37b99e"/><polygon points="1011.5,303.7 1021.2,301.2 1013.7,297.9 1004.0,300.4" stroke="#37b99e"/></g>
<line x1="1460.4" y1="292.3" x2="1732.5" y2="221.8" stroke="#c9c9c9" stroke-width="1"/>
<line x1="1732.5" y1="221.8" x2="1942.7" y2="314.4" stroke="#c9c9c9" stroke-width="1"/>
<line x1="1460.4" y1="263.3" x2="1732.5" y2="192.9" stroke="#c9c9c9" stroke-width="1"/>
<line x1="1732.5" y1="192.9" x2="1942.7" y2="285.4" stroke="#c9c9c9" stroke-width="1"/>
<line x1="1460.4" y1="234.3" x2="1732.5" y2="163.9" stroke="#c9c9c9" stroke-width="1"/>
<line x1="1732.5" y1="163.9" x2="1942.7" y2="256.5" stroke="#c9c9c9" stroke-width="1"/>
<line x1="1460.4" y1="205.4" x2="1732.5" y2="135.0" stroke="#c9c9c9" stroke-width="1"/>
<line x1="1732.5" y1="135.0" x2="1942.7" y2="227.5" stroke="#c9c9c9" stroke-width="1"/>
<line x1="1460.4" y1="176.4" x2="1732.5" y2="106.0" stroke="#c9c9c9" stroke-width="1"/>
<line x1="1732.5" y1="106.0" x2="1942.7" y2="198.5" stroke="#c9c9c9" stroke-width="1"/>
<line x1="1460.4" y1="147.5" x2="1732.5" y2="77.0" stroke="#c9c9c9" stroke-width="1"/>
<line x1="1732.5" y1="77.0" x2="1942.7" y2="169.6" stroke="#c9c9c9" stroke-width="1"/>
<line x1="1460.4" y1="118.5" x2="1732.5" y2="48.1" stroke="#c9c9c9" stroke-width="1"/>
<line x1="1732.5" y1="48.1" x2="1942.7" y2="140.6" stroke="#c9c9c9" stroke-width="1"/>
<line x1="1460.4" y1="89.5" x2="1732.5" y2="19.1" stroke="#c9c9c9" stroke-width="1"/>
<line x1="1732.5" y1="19.1" x2="1942.7" y2="111.7" stroke="#c9c9c9" stroke-width="1"/>
<line x1="1538.1" y1="272.1" x2="1538.1" y2="69.4" stroke="#c9c9c9" stroke-width="1"/>
<line x1="1635.3" y1="247.0" x2="1635.3" y2="44.3" stroke="#c9c9c9" stroke-width="1"/>
<line x1="1732.5" y1="221.8" x2="1732.5" y2="19.1" stroke="#c9c9c9" stroke-width="1"/>
<line x1="1882.6" y1="287.9" x2="1882.6" y2="85.2" stroke="#c9c9c9" stroke-width="1"/>
<line x1="1807.6" y1="254.9" x2="1807.6" y2="52.2" stroke="#c9c9c9" stroke-width="1"/>
<line x1="1748.3" y1="364.7" x2="1538.1" y2="272.1" stroke="#c9c9c9" stroke-width="1"/>
<line x1="1845.5" y1="339.5" x2="1635.3" y2="247.0" stroke="#c9c9c9" stroke-width="1"/>
<line x1="1610.5" y1="358.4" x2="1882.6" y2="287.9" stroke="#c9c9c9" stroke-width="1"/>
<line x1="1535.4" y1="325.3" x2="1807.6" y2="254.9" stroke="#c9c9c9" stroke-width="1"/>
<g fill="none" stroke-width="1.3" stroke-linejoin="round"><polyline points="1793.2,176.2 1783.4,178.6 1773.9,181.2 1764.3,183.8 1754.6,186.4 1744.7,188.8 1735.4,191.5 1725.3,193.8 1715.5,196.3 1712.8,201.8 1712.7,201.9 1703.5,204.6 1693.8,207.1 1683.9,209.6 1674.2,212.1 1664.5,214.6 1654.7,217.1 1645.1,219.7 1635.2,222.1 1625.6,224.7 1622.5,230.1 1622.4,230.4 1620.2,235.9 1620.0,236.3 1617.2,241.4 1616.9,242.3 1614.3,246.9 1613.7,248.4 1611.6,252.5 1610.9,254.4 1609.4,258.3 1608.7,260.2 1607.3,264.2 1606.7,266.0 1605.6,270.2 1605.1,271.6 1603.5,276.1 1603.0,277.4 1603.3,282.6 1611.4,285.7 1627.4,286.6 1628.1,286.7 1644.3,287.3 1645.8,287.3 1661.8,288.2 1662.5,288.2 1679.3,289.1 1679.5,289.1 1696.4,289.8 1696.9,289.8 1713.4,290.5 1714.4,290.6 1730.7,291.6 1731.3,291.6 1747.7,292.0 1749.0,292.1" stroke="#0f5cdd"/><polyline points="1794.2,176.6 1784.3,179.0 1775.0,181.7 1765.6,184.4 1755.9,186.9 1745.8,189.3 1736.8,192.1 1726.4,194.3 1716.6,196.8 1714.3,201.4 1713.9,202.4 1704.5,205.0 1694.8,207.6 1684.8,210.0 1675.1,212.5 1665.4,215.0 1655.6,217.5 1646.0,220.1 1636.1,222.5 1626.5,225.1 1624.0,230.0 1623.9,230.7 1621.9,235.8 1621.5,236.5 1619.4,241.7 1619.1,242.2 1616.9,247.6 1616.7,247.9 1614.5,253.4 1614.4,253.7 1612.2,259.3 1612.1,259.5 1610.1,265.1 1610.0,265.4 1608.0,270.9 1607.9,271.3 1605.9,276.6 1605.7,277.1 1604.3,282.3 1613.1,285.3 1626.0,286.0 1629.8,286.2 1642.9,286.7 1647.5,286.9 1660.4,287.6 1664.2,287.8 1677.9,288.5 1681.4,288.6 1694.9,289.2 1698.6,289.4 1712.0,289.9 1716.1,290.1 1729.7,290.9 1732.7,291.1 1746.4,291.5 1750.5,291.7" stroke="#0972de"/><polyline points="1795.2,177.0 1785.2,179.5 1776.1,182.2 1766.8,184.9 1757.2,187.5 1746.9,189.8 1738.2,192.7 1727.6,194.8 1717.7,197.3 1715.9,201.0 1715.1,202.9 1705.5,205.5 1695.8,208.0 1685.6,210.3 1676.0,212.9 1666.4,215.5 1656.4,217.9 1646.9,220.5 1636.9,222.9 1627.3,225.4 1625.3,229.7 1624.9,231.2 1623.3,235.4 1622.4,236.9 1620.6,241.4 1620.0,242.6 1618.0,247.3 1617.4,248.2 1615.4,253.2 1615.1,254.0 1613.2,259.0 1612.9,259.8 1611.0,264.8 1610.7,265.7 1609.0,270.6 1608.8,271.6 1607.1,276.3 1606.5,277.4 1605.3,282.0 1614.8,284.8 1624.6,285.4 1631.6,285.7 1641.6,286.1 1649.2,286.4 1659.0,287.0 1665.9,287.4 1676.6,287.9 1683.3,288.1 1693.5,288.5 1700.4,288.9 1710.7,289.3 1717.8,289.7 1728.3,290.3 1734.5,290.6 1745.2,290.9 1752.0,291.3" stroke="#1482d5"/><polyline points="1796.2,177.5 1786.2,179.9 1777.2,182.7 1768.1,185.5 1758.5,188.0 1748.1,190.3 1739.6,193.3 1728.7,195.3 1718.8,197.8 1717.4,200.6 1716.3,203.4 1706.5,205.9 1696.8,208.4 1686.5,210.7 1676.8,213.3 1667.3,215.9 1657.3,218.2 1647.8,220.9 1637.8,223.2 1628.2,225.8 1626.5,229.3 1625.9,231.6 1624.6,235.1 1623.3,237.3 1621.8,241.1 1620.8,242.9 1619.1,247.0 1618.1,248.6 1616.4,252.9 1615.8,254.3 1614.1,258.8 1613.6,260.2 1612.0,264.6 1611.5,266.0 1610.0,270.3 1609.7,272.0 1608.2,276.1 1607.4,277.8 1606.3,281.8 1616.5,284.4 1623.2,284.8 1633.4,285.3 1640.3,285.5 1650.9,286.0 1657.7,286.4 1667.6,286.9 1675.3,287.3 1685.2,287.6 1692.0,287.9 1702.2,288.5 1709.4,288.7 1719.4,289.2 1726.9,289.7 1736.3,290.1 1743.9,290.4 1753.6,290.9" stroke="#0a96d1"/><polyline points="1797.2,177.9 1787.1,180.3 1778.4,183.2 1769.3,186.0 1759.7,188.6 1749.2,190.7 1741.0,193.9 1729.9,195.8 1719.9,198.3 1719.0,200.2 1717.5,204.0 1707.4,206.4 1697.8,208.9 1687.4,211.1 1677.7,213.7 1668.3,216.3 1658.1,218.6 1648.8,221.3 1638.6,223.6 1629.1,226.2 1627.7,229.0 1627.0,232.1 1626.0,234.7 1624.3,237.7 1623.0,240.7 1621.7,243.3 1620.3,246.7 1618.9,248.9 1617.4,252.7 1616.5,254.6 1615.0,258.5 1614.3,260.5 1612.9,264.3 1612.3,266.4 1611.0,270.1 1610.6,272.4 1609.3,275.8 1608.2,278.2 1607.3,281.5 1618.2,284.0 1621.8,284.2 1635.2,284.8 1639.0,285.0 1652.6,285.6 1656.3,285.8 1669.2,286.5 1673.9,286.7 1687.1,287.1 1690.6,287.3 1704.0,288.0 1708.0,288.2 1721.1,288.8 1725.5,289.1 1738.0,289.7 1742.7,289.8 1755.1,290.5" stroke="#06a6c7"/><polyline points="1798.2,178.4 1788.1,180.7 1779.5,183.7 1770.6,186.6 1761.0,189.2 1750.3,191.2 1744.7,193.5 1743.7,195.1 1738.4,195.1 1731.0,196.3 1721.0,198.7 1720.5,199.8 1718.6,204.5 1708.4,206.8 1698.8,209.3 1688.2,211.5 1678.6,214.0 1669.2,216.7 1659.0,219.0 1649.7,221.7 1639.5,224.0 1630.0,226.6 1628.9,228.7 1628.0,232.5 1627.3,234.4 1625.2,238.1 1624.2,240.4 1622.5,243.7 1621.4,246.4 1619.6,249.2 1618.3,252.4 1617.2,255.0 1616.0,258.3 1615.1,260.8 1613.8,264.1 1613.1,266.7 1611.9,269.8 1611.4,272.8 1610.4,275.5 1609.0,278.5 1608.3,281.3 1619.8,283.5 1620.5,283.6 1637.0,284.4 1637.7,284.4 1654.3,285.1 1654.9,285.1 1670.9,286.1 1672.6,286.1 1689.0,286.6 1689.1,286.6 1705.8,287.5 1706.7,287.6 1722.8,288.4 1724.1,288.4 1739.8,289.2 1741.4,289.3 1756.6,290.1" stroke="#15b1b4"/><polyline points="1799.2,178.8 1789.0,181.1 1780.6,184.2 1780.2,184.3 1775.5,188.8 1766.4,191.5 1752.1,191.6 1751.4,191.7 1751.1,191.9 1747.9,197.0 1733.7,197.5 1728.2,197.8 1722.1,199.2 1722.1,199.4 1719.8,205.0 1709.4,207.2 1699.8,209.8 1689.1,211.9 1679.5,214.4 1670.1,217.1 1659.8,219.4 1650.6,222.1 1640.3,224.4 1630.9,227.0 1630.2,228.4 1629.1,233.0 1628.7,234.0 1626.1,238.5 1625.4,240.1 1623.4,244.1 1622.5,246.1 1620.4,249.5 1619.3,252.2 1618.0,255.3 1616.9,258.1 1615.8,261.1 1614.8,263.9 1613.8,267.1 1612.9,269.6 1612.3,273.2 1611.6,275.2 1609.8,278.9 1609.3,281.0 1618.8,282.8 1621.7,283.0 1636.3,283.7 1638.9,283.9 1653.4,284.5 1656.1,284.6 1671.2,285.5 1672.7,285.6 1687.7,286.0 1690.9,286.1 1705.2,286.9 1707.7,287.0 1722.6,287.8 1724.6,287.9 1740.1,288.7 1741.6,288.8 1757.8,289.7 1758.2,289.7" stroke="#3ab99d"/><polyline points="1784.7,198.9 1793.4,201.9 1792.8,203.2 1787.1,203.5 1774.0,201.7 1770.3,206.8 1756.7,206.1 1762.8,203.5 1774.0,201.7 1782.1,198.4 1784.7,198.9" stroke="#3ab99d"/><polyline points="1800.7,179.5 1797.1,179.9 1789.9,181.5 1787.3,182.5 1785.8,186.5 1783.8,188.6 1789.0,192.6 1789.5,194.9 1790.7,197.3 1799.7,200.3 1797.7,205.3 1788.4,208.0 1786.4,208.9 1780.2,211.2 1772.9,214.8 1766.1,214.2 1753.4,213.0 1744.2,215.7 1733.8,218.0 1732.6,217.6 1732.4,217.3 1732.9,212.3 1721.4,210.0 1711.1,208.0 1701.1,210.4 1699.7,210.4 1690.0,212.3 1680.4,214.8 1671.1,217.5 1660.7,219.7 1651.5,222.5 1641.2,224.7 1631.7,227.4 1631.4,228.1 1630.1,233.4 1630.0,233.7 1627.0,238.9 1626.6,239.8 1624.2,244.4 1623.6,245.8 1621.1,249.9 1620.3,251.9 1618.7,255.6 1617.8,257.8 1616.5,261.5 1615.7,263.6 1614.6,267.4 1613.9,269.3 1613.2,273.6 1612.7,274.9 1610.7,279.3 1610.3,280.8 1617.0,282.0 1623.6,282.6 1634.8,283.1 1640.8,283.3 1651.9,283.8 1658.0,284.2 1669.6,284.8 1674.7,285.1 1686.3,285.4 1692.8,285.6 1703.7,286.3 1709.7,286.5 1721.0,287.1 1726.3,287.5 1738.7,288.1 1743.5,288.3 1756.2,289.0 1760.1,289.2" stroke="#6abe84"/><polyline points="1893.7,220.4 1883.6,220.5 1883.3,215.8" stroke="#6abe84"/><polyline points="1881.6,215.1 1870.7,217.1 1864.3,215.0 1849.5,214.5 1846.5,214.4 1839.0,211.1 1839.3,210.1 1845.4,209.4 1854.9,210.1 1865.4,208.0" stroke="#6abe84"/><polyline points="1848.8,200.7 1841.6,199.9 1834.5,196.5 1821.8,195.5 1821.6,199.8 1818.7,201.0 1809.6,203.0 1804.8,199.0 1809.3,196.8 1820.1,194.8 1820.7,194.8 1837.1,195.5" stroke="#6abe84"/><polyline points="1761.0,209.5 1756.2,211.5 1764.3,211.0 1763.4,209.7 1761.0,209.5" stroke="#6abe84"/><polyline points="1739.6,206.9 1737.1,211.2 1751.5,212.2 1749.3,208.1 1739.6,206.9" stroke="#6abe84"/><polyline points="1763.0,196.8 1753.9,199.6 1751.5,202.2 1758.6,201.7 1769.7,199.8 1773.0,196.7 1763.0,196.8" stroke="#6abe84"/><polyline points="1911.7,228.3 1902.3,231.0 1888.2,229.8 1884.3,229.9 1874.1,228.2 1861.0,226.4 1860.8,226.4 1860.8,226.3 1860.4,221.3 1860.4,219.3 1858.5,216.5 1853.7,216.4 1841.3,215.7 1831.8,213.0 1833.8,207.6 1846.2,206.3 1847.6,203.6 1838.1,202.7 1830.6,202.8 1823.9,203.3 1816.7,206.4 1817.5,207.2 1815.5,206.7 1802.8,207.6 1794.1,210.5 1788.9,213.6 1787.6,214.5 1779.1,217.5 1773.6,217.5 1761.8,216.7 1750.5,218.2 1750.0,218.3 1749.9,218.4 1744.6,222.7 1737.4,221.6 1727.6,218.9 1722.7,214.9 1714.0,211.9 1705.2,212.2 1691.6,212.5 1690.9,212.6 1686.0,213.9 1681.9,215.5 1679.4,220.9 1679.1,221.1 1676.8,226.8 1676.9,226.9 1676.4,226.9 1676.6,226.7 1678.2,221.2 1664.9,219.4 1661.5,220.1 1658.2,221.2 1654.8,223.9 1647.0,224.0 1642.0,225.1 1633.0,227.6 1632.7,227.8 1633.0,232.9 1633.9,235.1 1627.9,239.3 1627.8,239.5 1625.1,244.8 1624.8,245.5 1621.8,250.2 1621.2,251.7 1619.4,255.9 1618.8,257.6 1617.3,261.8 1616.7,263.4 1615.4,267.7 1614.9,269.1 1614.1,274.0 1613.8,274.6 1611.5,279.6 1611.3,280.5 1615.2,281.3 1625.5,282.1 1633.3,282.4 1642.8,282.8 1650.4,283.2 1659.9,283.7 1668.1,284.2 1676.7,284.6 1684.9,284.8 1694.7,285.2 1702.2,285.6 1711.6,286.0 1719.5,286.4 1728.1,287.0 1737.3,287.5 1745.4,287.8 1754.7,288.3 1762.0,288.7" stroke="#98bf70"/><polyline points="1760.8,241.8 1774.7,242.7 1781.6,239.0 1791.2,239.2 1790.6,243.0 1776.8,243.7 1773.2,243.8 1761.4,243.7 1756.7,242.9 1757.0,241.8 1760.8,241.8" stroke="#98bf70"/><polyline points="1859.7,205.4 1859.7,205.7 1860.3,205.7" stroke="#98bf70"/><polyline points="1758.7,226.6 1756.8,228.1 1754.4,227.7 1753.8,226.8 1758.7,226.6" stroke="#98bf70"/><polyline points="1804.3,181.0 1800.2,184.4 1799.9,185.9 1796.8,190.5 1797.5,191.7 1799.5,195.1 1804.6,194.8 1815.1,192.6 1827.7,193.0 1831.9,193.2" stroke="#98bf70"/><polyline points="1926.8,235.0 1926.4,235.7 1923.9,240.5 1908.4,240.4 1906.3,235.6 1900.4,237.0 1900.4,237.2 1897.8,242.6 1886.4,240.8 1880.4,237.1 1868.4,235.0 1860.8,233.1 1857.9,232.4 1844.5,232.7 1836.0,232.8 1829.0,232.7 1816.9,232.5 1807.7,230.1 1799.8,233.4 1797.7,237.5 1808.8,239.9 1809.2,244.4 1795.9,245.3 1784.2,246.2 1782.8,246.3 1782.0,246.8 1778.9,251.4 1767.6,250.5 1761.6,250.6 1752.0,249.3 1751.5,246.2 1751.3,244.3 1752.7,239.9 1767.6,240.1 1768.7,240.1 1774.7,238.2 1767.3,234.9 1759.9,231.6 1747.7,229.5 1743.3,225.3 1733.0,222.8 1724.5,220.7 1723.2,225.3 1734.4,227.7 1743.4,230.6 1747.3,234.8 1747.8,237.7 1736.1,239.4 1727.8,239.9 1726.4,235.1 1726.3,235.0 1726.2,235.0 1709.9,234.6 1700.1,236.5 1699.0,236.6 1690.4,233.8 1675.1,232.5 1674.4,232.6 1661.4,233.6 1652.6,233.1 1654.5,230.6 1657.1,226.7 1645.9,226.8 1636.4,229.4 1636.6,232.0 1641.0,236.1 1639.0,237.4 1633.1,241.6 1625.9,245.2 1625.9,245.2 1622.6,250.5 1622.2,251.4 1620.1,256.2 1619.7,257.3 1618.0,262.1 1617.6,263.1 1616.1,268.1 1615.9,268.8 1615.2,274.2 1615.5,274.6 1612.3,280.0 1612.2,280.3 1613.4,280.5 1627.5,281.6 1631.8,281.8 1638.3,278.8 1634.5,276.2 1641.1,278.0 1655.3,278.5 1658.9,278.7 1658.1,279.7 1661.7,283.2 1666.5,283.5 1678.7,284.0 1683.6,284.2 1696.5,284.7 1700.6,284.9 1705.1,282.5 1702.9,279.1 1717.9,278.9 1718.6,279.0 1718.6,279.2 1711.1,282.7 1713.6,285.5 1717.9,285.7 1729.9,286.5 1735.9,286.8 1747.3,287.3 1753.1,287.6 1764.0,288.2" stroke="#bebc61"/><polyline points="1753.7,281.1 1752.1,280.8 1752.1,280.4 1754.0,280.3" stroke="#bebc61"/><polyline points="1842.9,241.6 1848.2,245.4 1845.2,246.6 1843.8,246.6 1830.1,246.8 1822.6,246.8 1825.3,244.6 1832.8,241.2 1842.9,241.6" stroke="#bebc61"/><polyline points="1867.0,240.6 1866.8,242.5 1855.7,243.5 1859.4,239.3 1867.0,240.6" stroke="#bebc61"/><polyline points="1810.7,249.9 1808.3,250.8 1807.5,250.7 1807.3,250.3 1810.7,249.9" stroke="#bebc61"/><polyline points="1866.6,228.9 1860.3,231.8 1871.1,230.9 1869.9,229.3 1866.6,228.9" stroke="#bebc61"/><polyline points="1640.7,278.9 1644.7,282.3 1648.9,282.5 1655.0,279.7 1640.7,278.9" stroke="#bebc61"/><polyline points="1767.0,219.0 1765.8,219.5 1769.9,223.7 1768.9,226.6 1766.3,229.9 1777.2,230.3 1787.6,229.6 1791.7,229.9 1806.9,229.8 1809.2,224.0 1809.2,224.0 1809.7,223.9 1810.9,224.7 1811.0,228.8 1817.1,227.5 1831.6,227.0 1837.4,227.2 1848.9,227.9 1850.7,223.8 1842.0,220.8 1828.8,219.0 1821.6,215.6 1820.3,215.3 1807.0,216.2 1794.7,217.6 1793.7,217.6 1782.7,219.1 1767.7,219.0 1767.0,219.0" stroke="#bebc61"/><polyline points="1786.7,234.5 1781.9,236.3 1788.9,235.4 1788.9,234.5 1786.7,234.5" stroke="#bebc61"/><polyline points="1717.9,242.4 1718.3,245.1 1711.4,244.1 1713.4,242.9 1717.9,242.4" stroke="#bebc61"/><polyline points="1697.7,215.7 1695.5,216.7 1694.9,221.2 1682.6,222.6 1681.4,225.6 1688.3,229.1 1697.2,232.0 1706.4,233.1 1702.9,230.6 1704.0,225.2 1719.1,225.1 1721.4,220.5 1713.1,217.4 1700.9,215.3 1697.7,215.7" stroke="#bebc61"/><polyline points="1808.5,182.9 1808.1,187.6 1821.5,188.6" stroke="#bebc61"/><polyline points="1741.3,282.4 1726.4,282.6 1731.6,286.1 1734.5,286.2 1749.2,286.8 1751.5,286.9 1756.2,285.0 1745.0,282.6 1741.3,282.4" stroke="#e1b952"/><polyline points="1762.7,285.0 1765.9,287.7" stroke="#e1b952"/><polyline points="1715.2,284.5 1715.6,285.0 1716.4,285.0 1723.1,283.1 1715.2,284.5" stroke="#e1b952"/><polyline points="1744.1,276.9 1744.6,277.5 1745.6,277.5 1747.1,276.8 1744.1,276.9" stroke="#e1b952"/><polyline points="1848.6,255.8 1839.9,252.8 1829.7,250.2 1822.1,250.0 1812.5,252.6 1807.1,256.1 1806.5,256.8 1805.1,256.6 1804.8,256.0 1802.5,252.0 1796.9,248.2 1789.2,249.2 1788.6,250.4 1784.6,253.9 1773.3,254.3 1769.5,254.1 1758.9,252.8 1746.7,250.7 1739.9,247.2 1738.6,247.3 1735.0,248.5 1729.7,250.1 1728.9,250.1 1713.1,248.9 1711.0,248.7 1695.5,248.2 1694.2,248.1 1681.7,246.5 1674.8,246.3 1666.4,245.3 1656.9,245.3 1643.9,246.3 1641.2,246.5 1630.6,247.3 1623.3,250.8 1623.2,251.2 1620.8,256.5 1620.6,257.1 1618.7,262.4 1618.6,262.9 1616.9,268.4 1616.8,268.6 1620.5,272.9 1628.1,273.3 1638.5,273.5 1648.6,276.1 1649.9,276.2 1666.1,276.8 1667.7,277.2 1667.8,276.4 1673.6,273.0 1679.8,273.3 1692.2,274.4 1694.6,274.7 1709.6,276.0 1711.4,276.0 1726.8,276.9 1729.0,277.0 1730.7,275.8 1736.0,273.3 1739.4,273.6 1754.0,274.4 1759.7,273.6 1765.3,277.4" stroke="#e1b952"/><polyline points="1863.3,252.0 1856.2,251.5 1850.8,255.2" stroke="#e1b952"/><polyline points="1696.9,283.3 1698.4,284.2 1699.1,284.2 1699.8,283.8 1696.9,283.3" stroke="#e1b952"/><polyline points="1677.3,281.4 1680.7,283.5 1682.2,283.6 1685.7,282.2 1677.3,281.4" stroke="#e1b952"/><polyline points="1662.5,281.7 1663.6,282.7 1665.0,282.8 1669.7,281.1 1662.5,281.7" stroke="#e1b952"/><polyline points="1646.0,281.2 1646.7,281.8 1647.4,281.9 1648.5,281.4 1646.0,281.2" stroke="#e1b952"/><polyline points="1626.0,279.2 1629.4,281.1 1630.3,281.1 1631.7,280.5 1626.0,279.2" stroke="#e1b952"/><polyline points="1740.5,241.3 1739.8,242.0 1743.0,242.4 1743.3,241.1 1740.5,241.3" stroke="#e1b952"/><polyline points="1779.1,224.3 1778.3,226.8 1783.8,226.4 1785.2,225.0 1779.1,224.3" stroke="#e1b952"/><polyline points="1810.5,217.8 1807.7,219.2 1813.3,219.0 1813.6,217.6 1810.5,217.8" stroke="#e1b952"/><polyline points="1704.8,239.2 1701.1,241.5 1708.6,240.8 1711.7,238.8 1704.8,239.2" stroke="#e1b952"/><polyline points="1659.3,239.5 1657.8,242.2 1667.4,243.1 1668.1,239.6 1659.3,239.5" stroke="#e1b952"/><polyline points="1681.4,235.6 1680.7,236.3 1683.0,236.4 1682.8,235.8 1681.4,235.6" stroke="#e1b952"/><polyline points="1644.7,239.9 1643.7,240.6 1646.4,240.6 1646.5,239.9 1644.7,239.9" stroke="#e1b952"/><polyline points="1686.1,224.1 1686.0,224.4 1688.0,225.0 1687.5,224.0 1686.1,224.1" stroke="#e1b952"/><polyline points="1773.2,275.3 1771.5,275.3 1771.7,275.7" stroke="#febf3c"/><polyline points="1833.0,259.9 1828.6,259.7 1814.0,259.5 1812.9,259.6 1799.7,258.0 1789.7,256.1 1779.4,258.4 1777.4,258.5 1766.2,256.2 1756.3,255.0 1750.2,255.0 1739.6,252.6 1734.9,252.4 1723.3,251.5 1716.4,251.1 1704.2,251.2 1701.0,251.1 1690.2,249.6 1680.7,248.9 1669.5,250.8 1664.2,251.1 1656.5,247.8 1648.6,248.4 1635.5,249.4 1626.6,252.3 1621.9,256.8 1621.6,256.9 1620.4,262.4 1621.4,263.6 1622.8,267.0 1628.4,270.8 1637.3,270.6 1648.7,268.8 1654.2,269.4 1667.6,270.4 1675.9,267.2 1680.6,267.8 1687.8,271.2 1701.5,272.9 1704.8,273.2 1716.8,271.6 1726.0,271.8 1731.5,271.3 1743.8,272.4 1750.3,272.8 1759.1,269.9 1768.8,271.2 1779.0,271.9 1785.5,272.1" stroke="#febf3c"/><polyline points="1825.3,261.9 1817.6,261.6 1809.7,260.6 1797.2,259.5 1792.9,259.8 1783.5,260.2 1771.6,261.8 1768.4,260.8 1759.1,258.0 1747.3,257.9 1738.4,258.1 1731.6,257.8 1721.6,257.2 1716.1,253.4 1706.6,253.6 1703.9,256.5 1703.1,258.8 1696.9,258.4 1697.0,256.1 1696.5,253.2 1685.4,250.8 1684.9,250.8 1682.8,251.5 1677.5,254.3 1668.5,257.2 1662.6,256.7 1652.7,254.0 1643.4,251.2 1640.1,251.5 1637.7,252.7 1633.5,255.3 1626.3,258.9 1625.8,261.0 1636.1,263.6 1637.1,263.7 1647.2,266.0 1659.9,267.9 1662.5,268.1 1664.8,266.6 1667.9,263.7 1674.9,264.0 1687.5,266.0 1695.0,269.3 1696.6,269.5 1697.0,268.8 1702.7,265.4 1711.5,262.5 1719.1,263.1 1721.1,266.7 1720.7,267.9 1724.0,268.0 1737.1,267.0 1745.8,266.7 1751.8,266.7 1760.9,268.0 1774.2,269.7 1775.2,269.6 1790.8,270.2 1791.8,270.5" stroke="#f9d528"/><polyline points="1817.9,263.8 1806.0,261.6 1801.0,261.1 1794.3,264.6 1803.1,267.6" stroke="#f6f015"/><polyline points="1753.2,260.5 1754.2,264.5 1765.9,266.7 1768.0,267.0 1768.7,266.0 1763.2,262.2 1753.2,260.5" stroke="#f6f015"/><polyline points="1739.0,261.0 1735.3,264.2 1745.2,263.7 1749.3,260.5 1739.0,261.0" stroke="#f6f015"/><polyline points="1695.5,262.3 1696.7,263.7 1698.5,263.6 1700.3,262.7 1695.5,262.3" stroke="#f6f015"/></g>
<line x1="1460.4" y1="292.3" x2="1460.4" y2="89.5" stroke="#262626" stroke-width="1.3"/>
<line x1="1460.4" y1="292.3" x2="1670.5" y2="384.8" stroke="#262626" stroke-width="1.3"/>
<line x1="1670.5" y1="384.8" x2="1942.7" y2="314.4" stroke="#262626" stroke-width="1.3"/>
<line x1="1460.4" y1="292.3" x2="1453.4" y2="289.2" stroke="#262626" stroke-width="1.3"/>
<text x="1446.4" y="294.1" text-anchor="end" class="t3">30</text>
<line x1="1460.4" y1="263.3" x2="1453.4" y2="260.2" stroke="#262626" stroke-width="1.3"/>
<text x="1446.4" y="265.1" text-anchor="end" class="t3">40</text>
<line x1="1460.4" y1="234.3" x2="1453.4" y2="231.2" stroke="#262626" stroke-width="1.3"/>
<text x="1446.4" y="236.1" text-anchor="end" class="t3">50</text>
<line x1="1460.4" y1="205.4" x2="1453.4" y2="202.3" stroke="#262626" stroke-width="1.3"/>
<text x="1446.4" y="207.2" text-anchor="end" class="t3">60</text>
<line x1="1460.4" y1="176.4" x2="1453.4" y2="173.3" stroke="#262626" stroke-width="1.3"/>
<text x="1446.4" y="178.2" text-anchor="end" class="t3">70</text>
<line x1="1460.4" y1="147.5" x2="1453.4" y2="144.4" stroke="#262626" stroke-width="1.3"/>
<text x="1446.4" y="149.3" text-anchor="end" class="t3">80</text>
<line x1="1460.4" y1="118.5" x2="1453.4" y2="115.4" stroke="#262626" stroke-width="1.3"/>
<text x="1446.4" y="120.3" text-anchor="end" class="t3">90</text>
<line x1="1460.4" y1="89.5" x2="1453.4" y2="86.4" stroke="#262626" stroke-width="1.3"/>
<text x="1446.4" y="91.3" text-anchor="end" class="t3">100</text>
<line x1="1610.5" y1="358.4" x2="1603.5" y2="360.2" stroke="#262626" stroke-width="1.3"/>
<text x="1597.0" y="376.8" text-anchor="end" class="t3">0</text>
<line x1="1535.4" y1="325.3" x2="1528.4" y2="327.1" stroke="#262626" stroke-width="1.3"/>
<text x="1521.9" y="343.7" text-anchor="end" class="t3">5</text>
<line x1="1460.4" y1="292.3" x2="1453.4" y2="294.1" stroke="#262626" stroke-width="1.3"/>
<text x="1446.9" y="310.7" text-anchor="end" class="t3">10</text>
<line x1="1748.3" y1="364.7" x2="1755.3" y2="367.8" stroke="#262626" stroke-width="1.3"/>
<text x="1759.8" y="384.7" class="t3">0</text>
<line x1="1845.5" y1="339.5" x2="1852.5" y2="342.6" stroke="#262626" stroke-width="1.3"/>
<text x="1857.0" y="359.5" class="t3">5</text>
<line x1="1942.7" y1="314.4" x2="1949.7" y2="317.5" stroke="#262626" stroke-width="1.3"/>
<text x="1954.2" y="334.4" class="t3">10</text>
<text x="1520.3" y="390.8" text-anchor="middle" class="l3">log2g</text>
<text x="1854.5" y="408.9" text-anchor="middle" class="l3">log2c</text>
<text transform="translate(1410.5,183.8) rotate(-90)" text-anchor="middle" class="l3 acc">Accuracy(%)</text>
<text x="1337.0" y="49.5" class="let">C</text>
<g fill="#fff" stroke-width="1.35" stroke-linejoin="round"><polygon points="1730.3,146.6 1740.0,144.1 1732.5,140.8 1722.8,143.3" stroke="#36359d"/><polygon points="1720.6,149.1 1730.3,146.6 1722.8,143.3 1713.1,145.8" stroke="#36359d"/><polygon points="1737.8,149.9 1747.5,147.4 1740.0,144.1 1730.3,146.6" stroke="#36359d"/><polygon points="1710.9,151.6 1720.6,149.1 1713.1,145.8 1703.4,148.3" stroke="#36359d"/><polygon points="1728.1,152.4 1737.8,149.9 1730.3,146.6 1720.6,149.1" stroke="#36359d"/><polygon points="1745.3,153.2 1755.0,150.7 1747.5,147.4 1737.8,149.9" stroke="#36359d"/><polygon points="1701.1,154.1 1710.9,151.6 1703.4,148.3 1693.6,150.8" stroke="#36359d"/><polygon points="1718.4,154.9 1728.1,152.4 1720.6,149.1 1710.9,151.6" stroke="#36359d"/><polygon points="1735.6,155.7 1745.3,153.2 1737.8,149.9 1728.1,152.4" stroke="#36359d"/><polygon points="1752.8,156.5 1762.5,154.0 1755.0,150.7 1745.3,153.2" stroke="#36359d"/><polygon points="1691.4,156.6 1701.1,154.1 1693.6,150.8 1683.9,153.3" stroke="#36359d"/><polygon points="1708.7,157.4 1718.4,154.9 1710.9,151.6 1701.1,154.1" stroke="#36359d"/><polygon points="1725.9,158.2 1735.6,155.7 1728.1,152.4 1718.4,154.9" stroke="#36359d"/><polygon points="1743.1,159.0 1752.8,156.5 1745.3,153.2 1735.6,155.7" stroke="#36359d"/><polygon points="1681.7,159.1 1691.4,156.6 1683.9,153.3 1674.2,155.8" stroke="#36359d"/><polygon points="1760.3,159.8 1770.0,157.3 1762.5,154.0 1752.8,156.5" stroke="#36359d"/><polygon points="1698.9,159.9 1708.7,157.4 1701.1,154.1 1691.4,156.6" stroke="#36359d"/><polygon points="1716.2,160.7 1725.9,158.2 1718.4,154.9 1708.7,157.4" stroke="#36359d"/><polygon points="1733.4,161.5 1743.1,159.0 1735.6,155.7 1725.9,158.2" stroke="#36359d"/><polygon points="1672.0,161.7 1681.7,159.1 1674.2,155.8 1664.5,158.4" stroke="#36359d"/><polygon points="1750.6,162.3 1760.3,159.8 1752.8,156.5 1743.1,159.0" stroke="#36359d"/><polygon points="1689.2,162.5 1698.9,159.9 1691.4,156.6 1681.7,159.1" stroke="#36359d"/><polygon points="1767.8,163.1 1777.6,160.6 1770.0,157.3 1760.3,159.8" stroke="#36359d"/><polygon points="1706.4,163.2 1716.2,160.7 1708.7,157.4 1698.9,159.9" stroke="#36359d"/><polygon points="1723.7,164.0 1733.4,161.5 1725.9,158.2 1716.2,160.7" stroke="#36359d"/><polygon points="1662.3,164.2 1672.0,161.7 1664.5,158.4 1654.8,160.9" stroke="#36359d"/><polygon points="1740.9,164.8 1750.6,162.3 1743.1,159.0 1733.4,161.5" stroke="#36359d"/><polygon points="1679.5,165.0 1689.2,162.5 1681.7,159.1 1672.0,161.7" stroke="#36359d"/><polygon points="1758.1,165.6 1767.8,163.1 1760.3,159.8 1750.6,162.3" stroke="#36359d"/><polygon points="1696.7,165.8 1706.4,163.2 1698.9,159.9 1689.2,162.5" stroke="#36359d"/><polygon points="1775.3,166.4 1785.1,163.9 1777.6,160.6 1767.8,163.1" stroke="#36359d"/><polygon points="1713.9,166.5 1723.7,164.0 1716.2,160.7 1706.4,163.2" stroke="#36359d"/><polygon points="1652.5,166.7 1662.3,164.2 1654.8,160.9 1645.0,163.4" stroke="#36359d"/><polygon points="1731.2,167.3 1740.9,164.8 1733.4,161.5 1723.7,164.0" stroke="#36359d"/><polygon points="1669.8,167.5 1679.5,165.0 1672.0,161.7 1662.3,164.2" stroke="#36359d"/><polygon points="1748.4,168.1 1758.1,165.6 1750.6,162.3 1740.9,164.8" stroke="#36359d"/><polygon points="1687.0,168.3 1696.7,165.8 1689.2,162.5 1679.5,165.0" stroke="#36359d"/><polygon points="1765.6,168.9 1775.3,166.4 1767.8,163.1 1758.1,165.6" stroke="#36359d"/><polygon points="1704.2,169.1 1713.9,166.5 1706.4,163.2 1696.7,165.8" stroke="#36359d"/><polygon points="1642.8,169.2 1652.5,166.7 1645.0,163.4 1635.3,165.9" stroke="#36359d"/><polygon points="1782.8,169.7 1792.6,167.2 1785.1,163.9 1775.3,166.4" stroke="#36359d"/><polygon points="1721.4,169.9 1731.2,167.3 1723.7,164.0 1713.9,166.5" stroke="#36359d"/><polygon points="1660.1,170.0 1669.8,167.5 1662.3,164.2 1652.5,166.7" stroke="#36359d"/><polygon points="1738.7,170.6 1748.4,168.1 1740.9,164.8 1731.2,167.3" stroke="#36359d"/><polygon points="1677.3,170.8 1687.0,168.3 1679.5,165.0 1669.8,167.5" stroke="#36359d"/><polygon points="1755.9,171.4 1765.6,168.9 1758.1,165.6 1748.4,168.1" stroke="#36359d"/><polygon points="1694.5,171.6 1704.2,169.1 1696.7,165.8 1687.0,168.3" stroke="#36359d"/><polygon points="1633.1,171.7 1642.8,169.2 1635.3,165.9 1625.6,168.4" stroke="#36359d"/><polygon points="1773.1,172.2 1782.8,169.7 1775.3,166.4 1765.6,168.9" stroke="#36359d"/><polygon points="1711.7,172.4 1721.4,169.9 1713.9,166.5 1704.2,169.1" stroke="#36359d"/><polygon points="1650.3,172.5 1660.1,170.0 1652.5,166.7 1642.8,169.2" stroke="#36359d"/><polygon points="1729.0,173.2 1738.7,170.6 1731.2,167.3 1721.4,169.9" stroke="#36359d"/><polygon points="1667.6,173.3 1677.3,170.8 1669.8,167.5 1660.1,170.0" stroke="#36359d"/><polygon points="1746.2,173.9 1755.9,171.4 1748.4,168.1 1738.7,170.6" stroke="#36359d"/><polygon points="1684.8,174.1 1694.5,171.6 1687.0,168.3 1677.3,170.8" stroke="#36359d"/><polygon points="1623.4,174.2 1633.1,171.7 1625.6,168.4 1615.9,170.9" stroke="#36359d"/><polygon points="1763.4,174.7 1773.1,172.2 1765.6,168.9 1755.9,171.4" stroke="#36359d"/><polygon points="1702.0,174.9 1711.7,172.4 1704.2,169.1 1694.5,171.6" stroke="#36359d"/><polygon points="1640.6,175.0 1650.3,172.5 1642.8,169.2 1633.1,171.7" stroke="#36359d"/><polygon points="1790.3,139.5 1800.1,141.1 1792.6,167.2 1782.8,169.7" stroke="none"/><path d="M1790.3 139.5L1800.1 141.1" stroke="#74bf7f"/><path d="M1800.1 141.1L1792.6 167.2" stroke="#36359d"/><path d="M1792.6 167.2L1782.8 169.7" stroke="#36359d"/><path d="M1782.8 169.7L1790.3 139.5" stroke="#36359d"/><polygon points="1719.2,175.7 1729.0,173.2 1721.4,169.9 1711.7,172.4" stroke="#36359d"/><polygon points="1657.8,175.8 1667.6,173.3 1660.1,170.0 1650.3,172.5" stroke="#36359d"/><polygon points="1736.5,176.5 1746.2,173.9 1738.7,170.6 1729.0,173.2" stroke="#36359d"/><polygon points="1675.1,176.6 1684.8,174.1 1677.3,170.8 1667.6,173.3" stroke="#36359d"/><polygon points="1613.7,176.8 1623.4,174.2 1615.9,170.9 1606.2,173.4" stroke="#36359d"/><polygon points="1753.7,177.3 1763.4,174.7 1755.9,171.4 1746.2,173.9" stroke="#36359d"/><polygon points="1692.3,177.4 1702.0,174.9 1694.5,171.6 1684.8,174.1" stroke="#36359d"/><polygon points="1780.6,148.8 1790.3,139.5 1782.8,169.7 1773.1,172.2" stroke="none"/><path d="M1780.6 148.8L1790.3 139.5" stroke="#4ebc91"/><path d="M1790.3 139.5L1782.8 169.7" stroke="#36359d"/><path d="M1782.8 169.7L1773.1 172.2" stroke="#36359d"/><path d="M1773.1 172.2L1780.6 148.8" stroke="#36359d"/><polygon points="1630.9,177.5 1640.6,175.0 1633.1,171.7 1623.4,174.2" stroke="#36359d"/><polygon points="1709.5,178.2 1719.2,175.7 1711.7,172.4 1702.0,174.9" stroke="#36359d"/><polygon points="1648.1,178.3 1657.8,175.8 1650.3,172.5 1640.6,175.0" stroke="#36359d"/><polygon points="1726.7,179.0 1736.5,176.5 1729.0,173.2 1719.2,175.7" stroke="#36359d"/><polygon points="1665.3,179.1 1675.1,176.6 1667.6,173.3 1657.8,175.8" stroke="#36359d"/><polygon points="1603.9,179.3 1613.7,176.8 1606.2,173.4 1596.4,176.0" stroke="#36359d"/><polygon points="1770.9,154.0 1780.6,148.8 1773.1,172.2 1763.4,174.7" stroke="none"/><path d="M1770.9 154.0L1780.6 148.8" stroke="#2cb7a5"/><path d="M1780.6 148.8L1773.1 172.2" stroke="#36359d"/><path d="M1773.1 172.2L1763.4 174.7" stroke="#36359d"/><path d="M1763.4 174.7L1770.9 154.0" stroke="#36359d"/><polygon points="1744.0,179.8 1753.7,177.3 1746.2,173.9 1736.5,176.5" stroke="#36359d"/><polygon points="1682.6,179.9 1692.3,177.4 1684.8,174.1 1675.1,176.6" stroke="#36359d"/><polygon points="1621.2,180.1 1630.9,177.5 1623.4,174.2 1613.7,176.8" stroke="#36359d"/><polygon points="1797.9,146.2 1807.6,137.7 1800.1,141.1 1790.3,139.5" stroke="#99bf6f"/><polygon points="1699.8,180.7 1709.5,178.2 1702.0,174.9 1692.3,177.4" stroke="#36359d"/><polygon points="1638.4,180.8 1648.1,178.3 1640.6,175.0 1630.9,177.5" stroke="#36359d"/><polygon points="1717.0,181.5 1726.7,179.0 1719.2,175.7 1709.5,178.2" stroke="#36359d"/><polygon points="1655.6,181.6 1665.3,179.1 1657.8,175.8 1648.1,178.3" stroke="#36359d"/><polygon points="1594.2,181.8 1603.9,179.3 1596.4,176.0 1586.7,178.5" stroke="#36359d"/><polygon points="1761.2,157.3 1770.9,154.0 1763.4,174.7 1753.7,177.3" stroke="none"/><path d="M1761.2 157.3L1770.9 154.0" stroke="#24b5aa"/><path d="M1770.9 154.0L1763.4 174.7" stroke="#36359d"/><path d="M1763.4 174.7L1753.7 177.3" stroke="#36359d"/><path d="M1753.7 177.3L1761.2 157.3" stroke="#36359d"/><polygon points="1734.2,182.3 1744.0,179.8 1736.5,176.5 1726.7,179.0" stroke="#36359d"/><polygon points="1672.8,182.4 1682.6,179.9 1675.1,176.6 1665.3,179.1" stroke="#36359d"/><polygon points="1611.4,182.6 1621.2,180.1 1613.7,176.8 1603.9,179.3" stroke="#36359d"/><polygon points="1788.1,148.2 1797.9,146.2 1790.3,139.5 1780.6,148.8" stroke="#80bf7a"/><polygon points="1690.1,183.2 1699.8,180.7 1692.3,177.4 1682.6,179.9" stroke="#36359d"/><polygon points="1628.7,183.4 1638.4,180.8 1630.9,177.5 1621.2,180.1" stroke="#36359d"/><polygon points="1707.3,184.0 1717.0,181.5 1709.5,178.2 1699.8,180.7" stroke="#36359d"/><polygon points="1805.4,144.2 1815.1,139.2 1807.6,137.7 1797.9,146.2" stroke="#b6bd64"/><polygon points="1645.9,184.2 1655.6,181.6 1648.1,178.3 1638.4,180.8" stroke="#36359d"/><polygon points="1584.5,184.3 1594.2,181.8 1586.7,178.5 1577.0,181.0" stroke="#36359d"/><polygon points="1751.5,154.5 1761.2,157.3 1753.7,177.3 1744.0,179.8" stroke="none"/><path d="M1751.5 154.5L1761.2 157.3" stroke="#24b5aa"/><path d="M1761.2 157.3L1753.7 177.3" stroke="#36359d"/><path d="M1753.7 177.3L1744.0 179.8" stroke="#36359d"/><path d="M1744.0 179.8L1751.5 154.5" stroke="#36359d"/><polygon points="1724.5,184.8 1734.2,182.3 1726.7,179.0 1717.0,181.5" stroke="#36359d"/><polygon points="1778.4,154.6 1788.1,148.2 1780.6,148.8 1770.9,154.0" stroke="#52bd8f"/><polygon points="1663.1,184.9 1672.8,182.4 1665.3,179.1 1655.6,181.6" stroke="#36359d"/><polygon points="1601.7,185.1 1611.4,182.6 1603.9,179.3 1594.2,181.8" stroke="#36359d"/><polygon points="1680.4,185.7 1690.1,183.2 1682.6,179.9 1672.8,182.4" stroke="#36359d"/><polygon points="1619.0,185.9 1628.7,183.4 1621.2,180.1 1611.4,182.6" stroke="#36359d"/><polygon points="1795.6,150.3 1805.4,144.2 1797.9,146.2 1788.1,148.2" stroke="#96bf71"/><polygon points="1697.6,186.5 1707.3,184.0 1699.8,180.7 1690.1,183.2" stroke="#36359d"/><polygon points="1636.2,186.7 1645.9,184.2 1638.4,180.8 1628.7,183.4" stroke="#36359d"/><polygon points="1574.8,186.8 1584.5,184.3 1577.0,181.0 1567.3,183.5" stroke="#36359d"/><polygon points="1768.7,157.0 1778.4,154.6 1770.9,154.0 1761.2,157.3" stroke="#3ab99d"/><polygon points="1741.7,165.4 1751.5,154.5 1744.0,179.8 1734.2,182.3" stroke="none"/><path d="M1741.7 165.4L1751.5 154.5" stroke="#0bacbd"/><path d="M1751.5 154.5L1744.0 179.8" stroke="#36359d"/><path d="M1744.0 179.8L1734.2 182.3" stroke="#36359d"/><path d="M1734.2 182.3L1741.7 165.4" stroke="#36359d"/><polygon points="1714.8,187.3 1724.5,184.8 1717.0,181.5 1707.3,184.0" stroke="#36359d"/><polygon points="1653.4,187.5 1663.1,184.9 1655.6,181.6 1645.9,184.2" stroke="#36359d"/><polygon points="1812.9,149.0 1822.6,145.0 1815.1,139.2 1805.4,144.2" stroke="#bfbc61"/><polygon points="1592.0,187.6 1601.7,185.1 1594.2,181.8 1584.5,184.3" stroke="#36359d"/><polygon points="1670.6,188.2 1680.4,185.7 1672.8,182.4 1663.1,184.9" stroke="#36359d"/><polygon points="1609.2,188.4 1619.0,185.9 1611.4,182.6 1601.7,185.1" stroke="#36359d"/><polygon points="1785.9,158.1 1795.6,150.3 1788.1,148.2 1778.4,154.6" stroke="#6dbf82"/><polygon points="1687.9,189.0 1697.6,186.5 1690.1,183.2 1680.4,185.7" stroke="#36359d"/><polygon points="1626.5,189.2 1636.2,186.7 1628.7,183.4 1619.0,185.9" stroke="#36359d"/><polygon points="1565.1,189.3 1574.8,186.8 1567.3,183.5 1557.6,186.0" stroke="#36359d"/><polygon points="1732.0,161.0 1741.7,165.4 1734.2,182.3 1724.5,184.8" stroke="none"/><path d="M1732.0 161.0L1741.7 165.4" stroke="#0bacbd"/><path d="M1741.7 165.4L1734.2 182.3" stroke="#36359d"/><path d="M1734.2 182.3L1724.5 184.8" stroke="#36359d"/><path d="M1724.5 184.8L1732.0 161.0" stroke="#36359d"/><polygon points="1759.0,161.7 1768.7,157.0 1761.2,157.3 1751.5,154.5" stroke="#42bb98"/><polygon points="1803.1,151.3 1812.9,149.0 1805.4,144.2 1795.6,150.3" stroke="#abbe68"/><polygon points="1705.1,189.8 1714.8,187.3 1707.3,184.0 1697.6,186.5" stroke="#36359d"/><polygon points="1643.7,190.0 1653.4,187.5 1645.9,184.2 1636.2,186.7" stroke="#36359d"/><polygon points="1582.3,190.1 1592.0,187.6 1584.5,184.3 1574.8,186.8" stroke="#36359d"/><polygon points="1820.4,158.7 1830.1,149.6 1822.6,145.0 1812.9,149.0" stroke="#9fbe6d"/><polygon points="1776.2,159.8 1785.9,158.1 1778.4,154.6 1768.7,157.0" stroke="#50bc90"/><polygon points="1660.9,190.8 1670.6,188.2 1663.1,184.9 1653.4,187.5" stroke="#36359d"/><polygon points="1599.5,190.9 1609.2,188.4 1601.7,185.1 1592.0,187.6" stroke="#36359d"/><polygon points="1678.1,191.6 1687.9,189.0 1680.4,185.7 1670.6,188.2" stroke="#36359d"/><polygon points="1616.7,191.7 1626.5,189.2 1619.0,185.9 1609.2,188.4" stroke="#36359d"/><polygon points="1555.3,191.8 1565.1,189.3 1557.6,186.0 1547.8,188.5" stroke="#36359d"/><polygon points="1793.4,157.1 1803.1,151.3 1795.6,150.3 1785.9,158.1" stroke="#88bf77"/><polygon points="1749.2,162.5 1759.0,161.7 1751.5,154.5 1741.7,165.4" stroke="#37b99e"/><polygon points="1695.4,192.3 1705.1,189.8 1697.6,186.5 1687.9,189.0" stroke="#36359d"/><polygon points="1722.3,160.4 1732.0,161.0 1724.5,184.8 1714.8,187.3" stroke="none"/><path d="M1722.3 160.4L1732.0 161.0" stroke="#53bd8f"/><path d="M1732.0 161.0L1724.5 184.8" stroke="#36359d"/><path d="M1724.5 184.8L1714.8 187.3" stroke="#36359d"/><path d="M1714.8 187.3L1722.3 160.4" stroke="#36359d"/><polygon points="1634.0,192.5 1643.7,190.0 1636.2,186.7 1626.5,189.2" stroke="#36359d"/><polygon points="1572.6,192.6 1582.3,190.1 1574.8,186.8 1565.1,189.3" stroke="#36359d"/><polygon points="1810.6,161.9 1820.4,158.7 1812.9,149.0 1803.1,151.3" stroke="#84bf78"/><polygon points="1651.2,193.3 1660.9,190.8 1653.4,187.5 1643.7,190.0" stroke="#36359d"/><polygon points="1766.5,156.7 1776.2,159.8 1768.7,157.0 1759.0,161.7" stroke="#5fbe88"/><polygon points="1827.9,159.9 1837.6,159.2 1830.1,149.6 1820.4,158.7" stroke="#79bf7d"/><polygon points="1589.8,193.4 1599.5,190.9 1592.0,187.6 1582.3,190.1" stroke="#36359d"/><polygon points="1783.7,166.6 1793.4,157.1 1785.9,158.1 1776.2,159.8" stroke="#54bd8e"/><polygon points="1668.4,194.1 1678.1,191.6 1670.6,188.2 1660.9,190.8" stroke="#36359d"/><polygon points="1712.6,193.1 1722.3,160.4 1714.8,187.3 1705.1,189.8" stroke="none"/><path d="M1712.6 193.1L1722.3 160.4" stroke="#36359d"/><path d="M1722.3 160.4L1714.8 187.3" stroke="#36359d"/><path d="M1714.8 187.3L1705.1 189.8" stroke="#36359d"/><path d="M1705.1 189.8L1712.6 193.1" stroke="#36359d"/><polygon points="1607.0,194.2 1616.7,191.7 1609.2,188.4 1599.5,190.9" stroke="#36359d"/><polygon points="1545.6,194.4 1555.3,191.8 1547.8,188.5 1538.1,191.1" stroke="#36359d"/><polygon points="1739.5,165.1 1749.2,162.5 1741.7,165.4 1732.0,161.0" stroke="#37b99e"/><polygon points="1685.6,194.9 1695.4,192.3 1687.9,189.0 1678.1,191.6" stroke="#36359d"/><polygon points="1624.2,195.0 1634.0,192.5 1626.5,189.2 1616.7,191.7" stroke="#36359d"/><polygon points="1562.8,195.1 1572.6,192.6 1565.1,189.3 1555.3,191.8" stroke="#36359d"/><polygon points="1800.9,161.2 1810.6,161.9 1803.1,151.3 1793.4,157.1" stroke="#83bf79"/><polygon points="1702.9,195.6 1712.6,193.1 1705.1,189.8 1695.4,192.3" stroke="#36359d"/><polygon points="1818.2,164.3 1827.9,159.9 1820.4,158.7 1810.6,161.9" stroke="#5fbe89"/><polygon points="1641.5,195.8 1651.2,193.3 1643.7,190.0 1634.0,192.5" stroke="#36359d"/><polygon points="1756.8,160.9 1766.5,156.7 1759.0,161.7 1749.2,162.5" stroke="#6cbf83"/><polygon points="1580.1,195.9 1589.8,193.4 1582.3,190.1 1572.6,192.6" stroke="#36359d"/><polygon points="1774.0,168.4 1783.7,166.6 1776.2,159.8 1766.5,156.7" stroke="#54bd8e"/><polygon points="1835.4,162.0 1845.1,163.6 1837.6,159.2 1827.9,159.9" stroke="#6bbf83"/><polygon points="1658.7,196.6 1668.4,194.1 1660.9,190.8 1651.2,193.3" stroke="#36359d"/><polygon points="1597.3,196.7 1607.0,194.2 1599.5,190.9 1589.8,193.4" stroke="#36359d"/><polygon points="1535.9,196.9 1545.6,194.4 1538.1,191.1 1528.4,193.6" stroke="#36359d"/><polygon points="1791.2,171.1 1800.9,161.2 1793.4,157.1 1783.7,166.6" stroke="#50bc90"/><polygon points="1675.9,197.4 1685.6,194.9 1678.1,191.6 1668.4,194.1" stroke="#36359d"/><polygon points="1729.8,166.9 1739.5,165.1 1732.0,161.0 1722.3,160.4" stroke="#5bbd8a"/><polygon points="1614.5,197.5 1624.2,195.0 1616.7,191.7 1607.0,194.2" stroke="#36359d"/><polygon points="1553.1,197.7 1562.8,195.1 1555.3,191.8 1545.6,194.4" stroke="#36359d"/><polygon points="1693.1,198.2 1702.9,195.6 1695.4,192.3 1685.6,194.9" stroke="#36359d"/><polygon points="1808.4,166.2 1818.2,164.3 1810.6,161.9 1800.9,161.2" stroke="#63be86"/><polygon points="1747.0,167.3 1756.8,160.9 1749.2,162.5 1739.5,165.1" stroke="#5ebe89"/><polygon points="1631.8,198.3 1641.5,195.8 1634.0,192.5 1624.2,195.0" stroke="#36359d"/><polygon points="1570.4,198.5 1580.1,195.9 1572.6,192.6 1562.8,195.1" stroke="#36359d"/><polygon points="1649.0,199.1 1658.7,196.6 1651.2,193.3 1641.5,195.8" stroke="#36359d"/><polygon points="1764.3,172.5 1774.0,168.4 1766.5,156.7 1756.8,160.9" stroke="#5fbe88"/><polygon points="1720.1,168.5 1729.8,166.9 1722.3,160.4 1712.6,193.1" stroke="none"/><path d="M1720.1 168.5L1729.8 166.9" stroke="#52bd8f"/><path d="M1729.8 166.9L1722.3 160.4" stroke="#52bd8f"/><path d="M1722.3 160.4L1712.6 193.1" stroke="#36359d"/><path d="M1712.6 193.1L1720.1 168.5" stroke="#36359d"/><polygon points="1587.6,199.2 1597.3,196.7 1589.8,193.4 1580.1,195.9" stroke="#36359d"/><polygon points="1825.7,161.1 1835.4,162.0 1827.9,159.9 1818.2,164.3" stroke="#84bf78"/><polygon points="1526.2,199.4 1535.9,196.9 1528.4,193.6 1518.7,196.1" stroke="#36359d"/><polygon points="1781.5,168.9 1791.2,171.1 1783.7,166.6 1774.0,168.4" stroke="#33b8a1"/><polygon points="1666.2,199.9 1675.9,197.4 1668.4,194.1 1658.7,196.6" stroke="#36359d"/><polygon points="1604.8,200.0 1614.5,197.5 1607.0,194.2 1597.3,196.7" stroke="#36359d"/><polygon points="1842.9,160.6 1852.6,164.0 1845.1,163.6 1835.4,162.0" stroke="#85bf78"/><polygon points="1543.4,200.2 1553.1,197.7 1545.6,194.4 1535.9,196.9" stroke="#36359d"/><polygon points="1798.7,167.4 1808.4,166.2 1800.9,161.2 1791.2,171.1" stroke="#5bbd8a"/><polygon points="1683.4,200.7 1693.1,198.2 1685.6,194.9 1675.9,197.4" stroke="#36359d"/><polygon points="1737.3,169.9 1747.0,167.3 1739.5,165.1 1729.8,166.9" stroke="#52bd8f"/><polygon points="1622.0,200.8 1631.8,198.3 1624.2,195.0 1614.5,197.5" stroke="#36359d"/><polygon points="1710.4,167.9 1720.1,168.5 1712.6,193.1 1702.9,195.6" stroke="none"/><path d="M1710.4 167.9L1720.1 168.5" stroke="#5fbe88"/><path d="M1720.1 168.5L1712.6 193.1" stroke="#36359d"/><path d="M1712.6 193.1L1702.9 195.6" stroke="#36359d"/><path d="M1702.9 195.6L1710.4 167.9" stroke="#36359d"/><polygon points="1560.6,201.0 1570.4,198.5 1562.8,195.1 1553.1,197.7" stroke="#36359d"/><polygon points="1754.5,173.5 1764.3,172.5 1756.8,160.9 1747.0,167.3" stroke="#4bbc93"/><polygon points="1639.3,201.6 1649.0,199.1 1641.5,195.8 1631.8,198.3" stroke="#36359d"/><polygon points="1577.9,201.8 1587.6,199.2 1580.1,195.9 1570.4,198.5" stroke="#36359d"/><polygon points="1815.9,166.0 1825.7,161.1 1818.2,164.3 1808.4,166.2" stroke="#83bf78"/><polygon points="1516.5,201.9 1526.2,199.4 1518.7,196.1 1509.0,198.6" stroke="#36359d"/><polygon points="1771.8,173.9 1781.5,168.9 1774.0,168.4 1764.3,172.5" stroke="#37b99e"/><polygon points="1656.5,202.4 1666.2,199.9 1658.7,196.6 1649.0,199.1" stroke="#36359d"/><polygon points="1595.1,202.5 1604.8,200.0 1597.3,196.7 1587.6,199.2" stroke="#36359d"/><polygon points="1533.7,202.7 1543.4,200.2 1535.9,196.9 1526.2,199.4" stroke="#36359d"/><polygon points="1833.2,166.0 1842.9,160.6 1835.4,162.0 1825.7,161.1" stroke="#a5be6b"/><polygon points="1789.0,171.2 1798.7,167.4 1791.2,171.1 1781.5,168.9" stroke="#52bd8f"/><polygon points="1727.6,175.5 1737.3,169.9 1729.8,166.9 1720.1,168.5" stroke="#4dbc92"/><polygon points="1673.7,203.2 1683.4,200.7 1675.9,197.4 1666.2,199.9" stroke="#36359d"/><polygon points="1612.3,203.3 1622.0,200.8 1614.5,197.5 1604.8,200.0" stroke="#36359d"/><polygon points="1700.7,171.9 1710.4,167.9 1702.9,195.6 1693.1,198.2" stroke="none"/><path d="M1700.7 171.9L1710.4 167.9" stroke="#76bf7e"/><path d="M1710.4 167.9L1702.9 195.6" stroke="#36359d"/><path d="M1702.9 195.6L1693.1 198.2" stroke="#36359d"/><path d="M1693.1 198.2L1700.7 171.9" stroke="#36359d"/><polygon points="1550.9,203.5 1560.6,201.0 1553.1,197.7 1543.4,200.2" stroke="#36359d"/><polygon points="1850.4,170.4 1860.1,163.7 1852.6,164.0 1842.9,160.6" stroke="#94bf72"/><polygon points="1629.5,204.1 1639.3,201.6 1631.8,198.3 1622.0,200.8" stroke="#36359d"/><polygon points="1744.8,167.5 1754.5,173.5 1747.0,167.3 1737.3,169.9" stroke="#61be88"/><polygon points="1568.1,204.3 1577.9,201.8 1570.4,198.5 1560.6,201.0" stroke="#36359d"/><polygon points="1506.7,204.4 1516.5,201.9 1509.0,198.6 1499.2,201.1" stroke="#36359d"/><polygon points="1806.2,165.3 1815.9,166.0 1808.4,166.2 1798.7,167.4" stroke="#8cbf75"/><polygon points="1762.0,171.0 1771.8,173.9 1764.3,172.5 1754.5,173.5" stroke="#40ba99"/><polygon points="1646.8,204.9 1656.5,202.4 1649.0,199.1 1639.3,201.6" stroke="#36359d"/><polygon points="1585.4,205.1 1595.1,202.5 1587.6,199.2 1577.9,201.8" stroke="#36359d"/><polygon points="1524.0,205.2 1533.7,202.7 1526.2,199.4 1516.5,201.9" stroke="#36359d"/><polygon points="1823.4,168.8 1833.2,166.0 1825.7,161.1 1815.9,166.0" stroke="#9fbe6d"/><polygon points="1779.3,173.8 1789.0,171.2 1781.5,168.9 1771.8,173.9" stroke="#55bd8d"/><polygon points="1664.0,205.7 1673.7,203.2 1666.2,199.9 1656.5,202.4" stroke="#36359d"/><polygon points="1602.6,205.9 1612.3,203.3 1604.8,200.0 1595.1,202.5" stroke="#36359d"/><polygon points="1717.9,171.7 1727.6,175.5 1720.1,168.5 1710.4,167.9" stroke="#66be85"/><polygon points="1840.7,175.0 1850.4,170.4 1842.9,160.6 1833.2,166.0" stroke="#8abf76"/><polygon points="1541.2,206.0 1550.9,203.5 1543.4,200.2 1533.7,202.7" stroke="#36359d"/><polygon points="1690.9,168.6 1700.7,171.9 1693.1,198.2 1683.4,200.7" stroke="none"/><path d="M1690.9 168.6L1700.7 171.9" stroke="#76bf7e"/><path d="M1700.7 171.9L1693.1 198.2" stroke="#36359d"/><path d="M1693.1 198.2L1683.4 200.7" stroke="#36359d"/><path d="M1683.4 200.7L1690.9 168.6" stroke="#36359d"/><polygon points="1857.9,174.5 1867.6,173.8 1860.1,163.7 1850.4,170.4" stroke="#72bf80"/><polygon points="1619.8,206.6 1629.5,204.1 1622.0,200.8 1612.3,203.3" stroke="#36359d"/><polygon points="1735.1,175.4 1744.8,167.5 1737.3,169.9 1727.6,175.5" stroke="#61be88"/><polygon points="1558.4,206.8 1568.1,204.3 1560.6,201.0 1550.9,203.5" stroke="#36359d"/><polygon points="1497.0,206.9 1506.7,204.4 1499.2,201.1 1489.5,203.6" stroke="#36359d"/><polygon points="1796.5,168.4 1806.2,165.3 1798.7,167.4 1789.0,171.2" stroke="#95bf71"/><polygon points="1637.0,207.4 1646.8,204.9 1639.3,201.6 1629.5,204.1" stroke="#36359d"/><polygon points="1752.3,176.2 1762.0,171.0 1754.5,173.5 1744.8,167.5" stroke="#6cbf82"/><polygon points="1575.6,207.6 1585.4,205.1 1577.9,201.8 1568.1,204.3" stroke="#36359d"/><polygon points="1514.2,207.7 1524.0,205.2 1516.5,201.9 1506.7,204.4" stroke="#36359d"/><polygon points="1813.7,168.6 1823.4,168.8 1815.9,166.0 1806.2,165.3" stroke="#a9be69"/><polygon points="1769.5,177.9 1779.3,173.8 1771.8,173.9 1762.0,171.0" stroke="#59bd8b"/><polygon points="1654.3,208.2 1664.0,205.7 1656.5,202.4 1646.8,204.9" stroke="#36359d"/><polygon points="1592.9,208.4 1602.6,205.9 1595.1,202.5 1585.4,205.1" stroke="#36359d"/><polygon points="1531.5,208.5 1541.2,206.0 1533.7,202.7 1524.0,205.2" stroke="#36359d"/><polygon points="1830.9,171.9 1840.7,175.0 1833.2,166.0 1823.4,168.8" stroke="#8bbf75"/><polygon points="1681.2,172.1 1690.9,168.6 1683.4,200.7 1673.7,203.2" stroke="none"/><path d="M1681.2 172.1L1690.9 168.6" stroke="#b1bd66"/><path d="M1690.9 168.6L1683.4 200.7" stroke="#36359d"/><path d="M1683.4 200.7L1673.7 203.2" stroke="#36359d"/><path d="M1673.7 203.2L1681.2 172.1" stroke="#36359d"/><polygon points="1708.2,169.5 1717.9,171.7 1710.4,167.9 1700.7,171.9" stroke="#91bf73"/><polygon points="1848.2,179.0 1857.9,174.5 1850.4,170.4 1840.7,175.0" stroke="#5abd8b"/><polygon points="1610.1,209.2 1619.8,206.6 1612.3,203.3 1602.6,205.9" stroke="#36359d"/><polygon points="1725.4,174.3 1735.1,175.4 1727.6,175.5 1717.9,171.7" stroke="#66be85"/><polygon points="1548.7,209.3 1558.4,206.8 1550.9,203.5 1541.2,206.0" stroke="#36359d"/><polygon points="1786.8,173.7 1796.5,168.4 1789.0,171.2 1779.3,173.8" stroke="#86bf77"/><polygon points="1487.3,209.4 1497.0,206.9 1489.5,203.6 1479.8,206.1" stroke="#36359d"/><polygon points="1865.4,178.7 1875.1,175.7 1867.6,173.8 1857.9,174.5" stroke="#58bd8c"/><polygon points="1627.3,209.9 1637.0,207.4 1629.5,204.1 1619.8,206.6" stroke="#36359d"/><polygon points="1742.6,179.1 1752.3,176.2 1744.8,167.5 1735.1,175.4" stroke="#6dbf82"/><polygon points="1565.9,210.1 1575.6,207.6 1568.1,204.3 1558.4,206.8" stroke="#36359d"/><polygon points="1504.5,210.2 1514.2,207.7 1506.7,204.4 1497.0,206.9" stroke="#36359d"/><polygon points="1804.0,175.0 1813.7,168.6 1806.2,165.3 1796.5,168.4" stroke="#adbe68"/><polygon points="1644.5,210.7 1654.3,208.2 1646.8,204.9 1637.0,207.4" stroke="#36359d"/><polygon points="1759.8,176.4 1769.5,177.9 1762.0,171.0 1752.3,176.2" stroke="#6cbf82"/><polygon points="1583.2,210.9 1592.9,208.4 1585.4,205.1 1575.6,207.6" stroke="#36359d"/><polygon points="1521.8,211.0 1531.5,208.5 1524.0,205.2 1514.2,207.7" stroke="#36359d"/><polygon points="1671.5,176.7 1681.2,172.1 1673.7,203.2 1664.0,205.7" stroke="none"/><path d="M1671.5 176.7L1681.2 172.1" stroke="#9abf6f"/><path d="M1681.2 172.1L1673.7 203.2" stroke="#36359d"/><path d="M1673.7 203.2L1664.0 205.7" stroke="#36359d"/><path d="M1664.0 205.7L1671.5 176.7" stroke="#36359d"/><polygon points="1821.2,171.4 1830.9,171.9 1823.4,168.8 1813.7,168.6" stroke="#acbe68"/><polygon points="1777.1,179.0 1786.8,173.7 1779.3,173.8 1769.5,177.9" stroke="#6dbf82"/><polygon points="1600.4,211.7 1610.1,209.2 1602.6,205.9 1592.9,208.4" stroke="#36359d"/><polygon points="1698.4,171.2 1708.2,169.5 1700.7,171.9 1690.9,168.6" stroke="#aebe67"/><polygon points="1838.5,173.1 1848.2,179.0 1840.7,175.0 1830.9,171.9" stroke="#7ebf7b"/><polygon points="1539.0,211.8 1548.7,209.3 1541.2,206.0 1531.5,208.5" stroke="#36359d"/><polygon points="1477.6,212.0 1487.3,209.4 1479.8,206.1 1470.1,208.7" stroke="#36359d"/><polygon points="1715.7,172.6 1725.4,174.3 1717.9,171.7 1708.2,169.5" stroke="#a3be6c"/><polygon points="1855.7,173.3 1865.4,178.7 1857.9,174.5 1848.2,179.0" stroke="#72bf80"/><polygon points="1617.6,212.5 1627.3,209.9 1619.8,206.6 1610.1,209.2" stroke="#36359d"/><polygon points="1732.9,181.2 1742.6,179.1 1735.1,175.4 1725.4,174.3" stroke="#66be85"/><polygon points="1556.2,212.6 1565.9,210.1 1558.4,206.8 1548.7,209.3" stroke="#36359d"/><polygon points="1494.8,212.8 1504.5,210.2 1497.0,206.9 1487.3,209.4" stroke="#36359d"/><polygon points="1794.3,173.0 1804.0,175.0 1796.5,168.4 1786.8,173.7" stroke="#a5be6b"/><polygon points="1872.9,180.6 1882.6,177.8 1875.1,175.7 1865.4,178.7" stroke="#64be86"/><polygon points="1634.8,213.3 1644.5,210.7 1637.0,207.4 1627.3,209.9" stroke="#36359d"/><polygon points="1573.4,213.4 1583.2,210.9 1575.6,207.6 1565.9,210.1" stroke="#36359d"/><polygon points="1750.1,176.8 1759.8,176.4 1752.3,176.2 1742.6,179.1" stroke="#77bf7e"/><polygon points="1512.0,213.5 1521.8,211.0 1514.2,207.7 1504.5,210.2" stroke="#36359d"/><polygon points="1661.8,175.1 1671.5,176.7 1664.0,205.7 1654.3,208.2" stroke="none"/><path d="M1661.8 175.1L1671.5 176.7" stroke="#9abf6f"/><path d="M1671.5 176.7L1664.0 205.7" stroke="#36359d"/><path d="M1664.0 205.7L1654.3 208.2" stroke="#36359d"/><path d="M1654.3 208.2L1661.8 175.1" stroke="#36359d"/><polygon points="1811.5,167.7 1821.2,171.4 1813.7,168.6 1804.0,175.0" stroke="#c2bc5f"/><polygon points="1590.7,214.2 1600.4,211.7 1592.9,208.4 1583.2,210.9" stroke="#36359d"/><polygon points="1529.3,214.3 1539.0,211.8 1531.5,208.5 1521.8,211.0" stroke="#36359d"/><polygon points="1688.7,174.7 1698.4,171.2 1690.9,168.6 1681.2,172.1" stroke="#babd62"/><polygon points="1767.3,173.6 1777.1,179.0 1769.5,177.9 1759.8,176.4" stroke="#87bf77"/><polygon points="1467.9,214.5 1477.6,212.0 1470.1,208.7 1460.4,211.2" stroke="#36359d"/><polygon points="1828.7,174.7 1838.5,173.1 1830.9,171.9 1821.2,171.4" stroke="#b3bd65"/><polygon points="1607.9,215.0 1617.6,212.5 1610.1,209.2 1600.4,211.7" stroke="#36359d"/><polygon points="1546.5,215.1 1556.2,212.6 1548.7,209.3 1539.0,211.8" stroke="#36359d"/><polygon points="1705.9,173.7 1715.7,172.6 1708.2,169.5 1698.4,171.2" stroke="#c2bc5f"/><polygon points="1485.1,215.3 1494.8,212.8 1487.3,209.4 1477.6,212.0" stroke="#36359d"/><polygon points="1846.0,176.8 1855.7,173.3 1848.2,179.0 1838.5,173.1" stroke="#9dbe6e"/><polygon points="1723.2,176.0 1732.9,181.2 1725.4,174.3 1715.7,172.6" stroke="#9bbf6f"/><polygon points="1784.6,173.0 1794.3,173.0 1786.8,173.7 1777.1,179.0" stroke="#a9be69"/><polygon points="1625.1,215.8 1634.8,213.3 1627.3,209.9 1617.6,212.5" stroke="#36359d"/><polygon points="1863.2,180.9 1872.9,180.6 1865.4,178.7 1855.7,173.3" stroke="#84bf78"/><polygon points="1563.7,215.9 1573.4,213.4 1565.9,210.1 1556.2,212.6" stroke="#36359d"/><polygon points="1740.4,183.6 1750.1,176.8 1742.6,179.1 1732.9,181.2" stroke="#6fbf81"/><polygon points="1502.3,216.1 1512.0,213.5 1504.5,210.2 1494.8,212.8" stroke="#36359d"/><polygon points="1652.1,181.8 1661.8,175.1 1654.3,208.2 1644.5,210.7" stroke="none"/><path d="M1652.1 181.8L1661.8 175.1" stroke="#99bf70"/><path d="M1661.8 175.1L1654.3 208.2" stroke="#36359d"/><path d="M1654.3 208.2L1644.5 210.7" stroke="#36359d"/><path d="M1644.5 210.7L1652.1 181.8" stroke="#36359d"/><polygon points="1880.4,183.1 1890.1,183.5 1882.6,177.8 1872.9,180.6" stroke="#67be85"/><polygon points="1679.0,181.6 1688.7,174.7 1681.2,172.1 1671.5,176.7" stroke="#a3be6c"/><polygon points="1580.9,216.7 1590.7,214.2 1583.2,210.9 1573.4,213.4" stroke="#36359d"/><polygon points="1801.8,174.2 1811.5,167.7 1804.0,175.0 1794.3,173.0" stroke="#c9bc5c"/><polygon points="1519.5,216.8 1529.3,214.3 1521.8,211.0 1512.0,213.5" stroke="#36359d"/><polygon points="1757.6,178.4 1767.3,173.6 1759.8,176.4 1750.1,176.8" stroke="#aabe69"/><polygon points="1598.2,217.5 1607.9,215.0 1600.4,211.7 1590.7,214.2" stroke="#36359d"/><polygon points="1819.0,177.3 1828.7,174.7 1821.2,171.4 1811.5,167.7" stroke="#cebb5a"/><polygon points="1536.8,217.6 1546.5,215.1 1539.0,211.8 1529.3,214.3" stroke="#36359d"/><polygon points="1696.2,177.8 1705.9,173.7 1698.4,171.2 1688.7,174.7" stroke="#c0bc60"/><polygon points="1475.4,217.8 1485.1,215.3 1477.6,212.0 1467.9,214.5" stroke="#36359d"/><polygon points="1836.2,176.4 1846.0,176.8 1838.5,173.1 1828.7,174.7" stroke="#bcbd62"/><polygon points="1615.4,218.3 1625.1,215.8 1617.6,212.5 1607.9,215.0" stroke="#36359d"/><polygon points="1774.8,175.1 1784.6,173.0 1777.1,179.0 1767.3,173.6" stroke="#bfbc61"/><polygon points="1554.0,218.4 1563.7,215.9 1556.2,212.6 1546.5,215.1" stroke="#36359d"/><polygon points="1492.6,218.6 1502.3,216.1 1494.8,212.8 1485.1,215.3" stroke="#36359d"/><polygon points="1713.4,176.0 1723.2,176.0 1715.7,172.6 1705.9,173.7" stroke="#c7bc5d"/><polygon points="1642.3,180.4 1652.1,181.8 1644.5,210.7 1634.8,213.3" stroke="none"/><path d="M1642.3 180.4L1652.1 181.8" stroke="#99bf70"/><path d="M1652.1 181.8L1644.5 210.7" stroke="#36359d"/><path d="M1644.5 210.7L1634.8 213.3" stroke="#36359d"/><path d="M1634.8 213.3L1642.3 180.4" stroke="#36359d"/><polygon points="1853.5,179.6 1863.2,180.9 1855.7,173.3 1846.0,176.8" stroke="#abbe68"/><polygon points="1730.7,176.1 1740.4,183.6 1732.9,181.2 1723.2,176.0" stroke="#9cbf6e"/><polygon points="1870.7,186.9 1880.4,183.1 1872.9,180.6 1863.2,180.9" stroke="#74bf7f"/><polygon points="1669.3,181.2 1679.0,181.6 1671.5,176.7 1661.8,175.1" stroke="#a5be6b"/><polygon points="1571.2,219.2 1580.9,216.7 1573.4,213.4 1563.7,215.9" stroke="#36359d"/><polygon points="1792.1,177.6 1801.8,174.2 1794.3,173.0 1784.6,173.0" stroke="#cebb5a"/><polygon points="1509.8,219.4 1519.5,216.8 1512.0,213.5 1502.3,216.1" stroke="#36359d"/><polygon points="1747.9,181.2 1757.6,178.4 1750.1,176.8 1740.4,183.6" stroke="#9dbf6e"/><polygon points="1887.9,184.5 1897.6,183.1 1890.1,183.5 1880.4,183.1" stroke="#76bf7e"/><polygon points="1588.4,220.0 1598.2,217.5 1590.7,214.2 1580.9,216.7" stroke="#36359d"/><polygon points="1527.0,220.2 1536.8,217.6 1529.3,214.3 1519.5,216.8" stroke="#36359d"/><polygon points="1809.3,180.3 1819.0,177.3 1811.5,167.7 1801.8,174.2" stroke="#d2bb59"/><polygon points="1686.5,174.0 1696.2,177.8 1688.7,174.7 1679.0,181.6" stroke="#bfbc61"/><polygon points="1605.7,220.8 1615.4,218.3 1607.9,215.0 1598.2,217.5" stroke="#36359d"/><polygon points="1765.1,184.1 1774.8,175.1 1767.3,173.6 1757.6,178.4" stroke="#bdbc61"/><polygon points="1826.5,176.5 1836.2,176.4 1828.7,174.7 1819.0,177.3" stroke="#ccbb5b"/><polygon points="1544.3,220.9 1554.0,218.4 1546.5,215.1 1536.8,217.6" stroke="#36359d"/><polygon points="1482.9,221.1 1492.6,218.6 1485.1,215.3 1475.4,217.8" stroke="#36359d"/><polygon points="1703.7,180.7 1713.4,176.0 1705.9,173.7 1696.2,177.8" stroke="#c7bc5d"/><polygon points="1632.6,182.2 1642.3,180.4 1634.8,213.3 1625.1,215.8" stroke="none"/><path d="M1632.6 182.2L1642.3 180.4" stroke="#c4bc5e"/><path d="M1642.3 180.4L1634.8 213.3" stroke="#36359d"/><path d="M1634.8 213.3L1625.1 215.8" stroke="#36359d"/><path d="M1625.1 215.8L1632.6 182.2" stroke="#36359d"/><polygon points="1843.7,177.4 1853.5,179.6 1846.0,176.8 1836.2,176.4" stroke="#c7bc5d"/><polygon points="1561.5,221.7 1571.2,219.2 1563.7,215.9 1554.0,218.4" stroke="#36359d"/><polygon points="1861.0,186.3 1870.7,186.9 1863.2,180.9 1853.5,179.6" stroke="#8ebf74"/><polygon points="1659.6,182.3 1669.3,181.2 1661.8,175.1 1652.1,181.8" stroke="#b1bd66"/><polygon points="1500.1,221.9 1509.8,219.4 1502.3,216.1 1492.6,218.6" stroke="#36359d"/><polygon points="1721.0,182.1 1730.7,176.1 1723.2,176.0 1713.4,176.0" stroke="#cabb5c"/><polygon points="1782.3,176.4 1792.1,177.6 1784.6,173.0 1774.8,175.1" stroke="#dcba54"/><polygon points="1878.2,191.3 1887.9,184.5 1880.4,183.1 1870.7,186.9" stroke="#70bf81"/><polygon points="1738.2,179.7 1747.9,181.2 1740.4,183.6 1730.7,176.1" stroke="#b7bd64"/><polygon points="1578.7,222.5 1588.4,220.0 1580.9,216.7 1571.2,219.2" stroke="#36359d"/><polygon points="1676.8,187.3 1686.5,174.0 1679.0,181.6 1669.3,181.2" stroke="#afbe67"/><polygon points="1799.6,179.1 1809.3,180.3 1801.8,174.2 1792.1,177.6" stroke="#cebb5a"/><polygon points="1517.3,222.7 1527.0,220.2 1519.5,216.8 1509.8,219.4" stroke="#36359d"/><polygon points="1622.9,221.6 1632.6,182.2 1625.1,215.8 1615.4,218.3" stroke="none"/><path d="M1622.9 221.6L1632.6 182.2" stroke="#36359d"/><path d="M1632.6 182.2L1625.1 215.8" stroke="#36359d"/><path d="M1625.1 215.8L1615.4 218.3" stroke="#36359d"/><path d="M1615.4 218.3L1622.9 221.6" stroke="#36359d"/><polygon points="1755.4,188.2 1765.1,184.1 1757.6,178.4 1747.9,181.2" stroke="#a0be6d"/><polygon points="1895.4,190.0 1905.1,186.3 1897.6,183.1 1887.9,184.5" stroke="#81bf79"/><polygon points="1595.9,223.3 1605.7,220.8 1598.2,217.5 1588.4,220.0" stroke="#36359d"/><polygon points="1816.8,183.0 1826.5,176.5 1819.0,177.3 1809.3,180.3" stroke="#c7bc5d"/><polygon points="1534.6,223.5 1544.3,220.9 1536.8,217.6 1527.0,220.2" stroke="#36359d"/><polygon points="1694.0,181.0 1703.7,180.7 1696.2,177.8 1686.5,174.0" stroke="#d3bb58"/><polygon points="1613.2,224.1 1622.9,221.6 1615.4,218.3 1605.7,220.8" stroke="#36359d"/><polygon points="1711.2,188.4 1721.0,182.1 1713.4,176.0 1703.7,180.7" stroke="#b8bd63"/><polygon points="1551.8,224.2 1561.5,221.7 1554.0,218.4 1544.3,220.9" stroke="#36359d"/><polygon points="1834.0,186.0 1843.7,177.4 1836.2,176.4 1826.5,176.5" stroke="#d1bb59"/><polygon points="1490.4,224.4 1500.1,221.9 1492.6,218.6 1482.9,221.1" stroke="#36359d"/><polygon points="1649.8,181.3 1659.6,182.3 1652.1,181.8 1642.3,180.4" stroke="#bdbd61"/><polygon points="1772.6,180.2 1782.3,176.4 1774.8,175.1 1765.1,184.1" stroke="#d3bb58"/><polygon points="1851.2,185.9 1861.0,186.3 1853.5,179.6 1843.7,177.4" stroke="#b8bd63"/><polygon points="1667.1,188.0 1676.8,187.3 1669.3,181.2 1659.6,182.3" stroke="#a2be6c"/><polygon points="1569.0,225.0 1578.7,222.5 1571.2,219.2 1561.5,221.7" stroke="#36359d"/><polygon points="1868.5,182.3 1878.2,191.3 1870.7,186.9 1861.0,186.3" stroke="#8fbf74"/><polygon points="1728.5,188.5 1738.2,179.7 1730.7,176.1 1721.0,182.1" stroke="#c2bc5f"/><polygon points="1507.6,225.2 1517.3,222.7 1509.8,219.4 1500.1,221.9" stroke="#36359d"/><polygon points="1789.9,184.4 1799.6,179.1 1792.1,177.6 1782.3,176.4" stroke="#d7ba57"/><polygon points="1885.7,188.3 1895.4,190.0 1887.9,184.5 1878.2,191.3" stroke="#81bf79"/><polygon points="1586.2,225.8 1595.9,223.3 1588.4,220.0 1578.7,222.5" stroke="#36359d"/><polygon points="1745.7,184.0 1755.4,188.2 1747.9,181.2 1738.2,179.7" stroke="#b9bd63"/><polygon points="1807.1,185.7 1816.8,183.0 1809.3,180.3 1799.6,179.1" stroke="#c4bc5e"/><polygon points="1524.8,226.0 1534.6,223.5 1527.0,220.2 1517.3,222.7" stroke="#36359d"/><polygon points="1684.3,187.4 1694.0,181.0 1686.5,174.0 1676.8,187.3" stroke="#c3bc5f"/><polygon points="1762.9,188.5 1772.6,180.2 1765.1,184.1 1755.4,188.2" stroke="#acbe68"/><polygon points="1824.3,189.1 1834.0,186.0 1826.5,176.5 1816.8,183.0" stroke="#bcbd62"/><polygon points="1902.9,190.6 1912.6,187.6 1905.1,186.3 1895.4,190.0" stroke="#8abf76"/><polygon points="1603.5,226.6 1613.2,224.1 1605.7,220.8 1595.9,223.3" stroke="#36359d"/><polygon points="1542.1,226.8 1551.8,224.2 1544.3,220.9 1534.6,223.5" stroke="#36359d"/><polygon points="1701.5,185.6 1711.2,188.4 1703.7,180.7 1694.0,181.0" stroke="#bcbd62"/><polygon points="1718.7,190.6 1728.5,188.5 1721.0,182.1 1711.2,188.4" stroke="#9ebe6d"/><polygon points="1640.1,182.1 1649.8,181.3 1642.3,180.4 1632.6,182.2" stroke="#d6ba57"/><polygon points="1841.5,189.4 1851.2,185.9 1843.7,177.4 1834.0,186.0" stroke="#b9bd63"/><polygon points="1559.3,227.6 1569.0,225.0 1561.5,221.7 1551.8,224.2" stroke="#36359d"/><polygon points="1657.3,189.8 1667.1,188.0 1659.6,182.3 1649.8,181.3" stroke="#b7bd64"/><polygon points="1780.1,189.9 1789.9,184.4 1782.3,176.4 1772.6,180.2" stroke="#cfbb5a"/><polygon points="1497.9,227.7 1507.6,225.2 1500.1,221.9 1490.4,224.4" stroke="#36359d"/><polygon points="1858.8,188.6 1868.5,182.3 1861.0,186.3 1851.2,185.9" stroke="#b6bd64"/><polygon points="1674.6,188.4 1684.3,187.4 1676.8,187.3 1667.1,188.0" stroke="#a5be6b"/><polygon points="1797.4,190.6 1807.1,185.7 1799.6,179.1 1789.9,184.4" stroke="#c0bc60"/><polygon points="1736.0,192.5 1745.7,184.0 1738.2,179.7 1728.5,188.5" stroke="#b5bd64"/><polygon points="1576.5,228.3 1586.2,225.8 1578.7,222.5 1569.0,225.0" stroke="#36359d"/><polygon points="1630.4,191.4 1640.1,182.1 1632.6,182.2 1622.9,221.6" stroke="none"/><path d="M1630.4 191.4L1640.1 182.1" stroke="#a7be6a"/><path d="M1640.1 182.1L1632.6 182.2" stroke="#cbbb5c"/><path d="M1632.6 182.2L1622.9 221.6" stroke="#36359d"/><path d="M1622.9 221.6L1630.4 191.4" stroke="#36359d"/><polygon points="1515.1,228.5 1524.8,226.0 1517.3,222.7 1507.6,225.2" stroke="#36359d"/><polygon points="1620.7,227.4 1630.4,191.4 1622.9,221.6 1613.2,224.1" stroke="none"/><path d="M1620.7 227.4L1630.4 191.4" stroke="#36359d"/><path d="M1630.4 191.4L1622.9 221.6" stroke="#36359d"/><path d="M1622.9 221.6L1613.2 224.1" stroke="#36359d"/><path d="M1613.2 224.1L1620.7 227.4" stroke="#36359d"/><polygon points="1876.0,191.7 1885.7,188.3 1878.2,191.3 1868.5,182.3" stroke="#a2be6c"/><polygon points="1814.6,188.1 1824.3,189.1 1816.8,183.0 1807.1,185.7" stroke="#b8bd63"/><polygon points="1593.7,229.1 1603.5,226.6 1595.9,223.3 1586.2,225.8" stroke="#36359d"/><polygon points="1753.2,184.7 1762.9,188.5 1755.4,188.2 1745.7,184.0" stroke="#bbbd62"/><polygon points="1532.3,229.3 1542.1,226.8 1534.6,223.5 1524.8,226.0" stroke="#36359d"/><polygon points="1893.2,190.4 1902.9,190.6 1895.4,190.0 1885.7,188.3" stroke="#9abf6f"/><polygon points="1691.8,190.4 1701.5,185.6 1694.0,181.0 1684.3,187.4" stroke="#bfbc60"/><polygon points="1831.8,187.9 1841.5,189.4 1834.0,186.0 1824.3,189.1" stroke="#b0be67"/><polygon points="1709.0,190.3 1718.7,190.6 1711.2,188.4 1701.5,185.6" stroke="#acbe68"/><polygon points="1611.0,229.9 1620.7,227.4 1613.2,224.1 1603.5,226.6" stroke="#36359d"/><polygon points="1770.4,190.2 1780.1,189.9 1772.6,180.2 1762.9,188.5" stroke="#bbbd62"/><polygon points="1549.6,230.1 1559.3,227.6 1551.8,224.2 1542.1,226.8" stroke="#36359d"/><polygon points="1910.4,189.6 1920.1,190.2 1912.6,187.6 1902.9,190.6" stroke="#a7be6a"/><polygon points="1647.6,188.2 1657.3,189.8 1649.8,181.3 1640.1,182.1" stroke="#d1bb59"/><polygon points="1726.2,189.9 1736.0,192.5 1728.5,188.5 1718.7,190.6" stroke="#a2be6c"/><polygon points="1849.0,187.2 1858.8,188.6 1851.2,185.9 1841.5,189.4" stroke="#bbbd62"/><polygon points="1787.6,189.7 1797.4,190.6 1789.9,184.4 1780.1,189.9" stroke="#b4bd65"/><polygon points="1566.8,230.9 1576.5,228.3 1569.0,225.0 1559.3,227.6" stroke="#36359d"/><polygon points="1664.8,189.1 1674.6,188.4 1667.1,188.0 1657.3,189.8" stroke="#b5bd64"/><polygon points="1505.4,231.0 1515.1,228.5 1507.6,225.2 1497.9,227.7" stroke="#36359d"/><polygon points="1866.3,190.4 1876.0,191.7 1868.5,182.3 1858.8,188.6" stroke="#bfbc61"/><polygon points="1584.0,231.6 1593.7,229.1 1586.2,225.8 1576.5,228.3" stroke="#36359d"/><polygon points="1804.9,186.9 1814.6,188.1 1807.1,185.7 1797.4,190.6" stroke="#c4bc5e"/><polygon points="1743.5,194.1 1753.2,184.7 1745.7,184.0 1736.0,192.5" stroke="#bcbd62"/><polygon points="1522.6,231.8 1532.3,229.3 1524.8,226.0 1515.1,228.5" stroke="#36359d"/><polygon points="1682.1,186.4 1691.8,190.4 1684.3,187.4 1674.6,188.4" stroke="#c4bc5e"/><polygon points="1883.5,193.5 1893.2,190.4 1885.7,188.3 1876.0,191.7" stroke="#aabe69"/><polygon points="1822.1,191.7 1831.8,187.9 1824.3,189.1 1814.6,188.1" stroke="#bebc61"/><polygon points="1601.2,232.4 1611.0,229.9 1603.5,226.6 1593.7,229.1" stroke="#36359d"/><polygon points="1539.8,232.6 1549.6,230.1 1542.1,226.8 1532.3,229.3" stroke="#36359d"/><polygon points="1760.7,191.5 1770.4,190.2 1762.9,188.5 1753.2,184.7" stroke="#c5bc5e"/><polygon points="1699.3,192.9 1709.0,190.3 1701.5,185.6 1691.8,190.4" stroke="#bbbd62"/><polygon points="1637.9,193.9 1647.6,188.2 1640.1,182.1 1630.4,191.4" stroke="#c6bc5e"/><polygon points="1900.7,192.4 1910.4,189.6 1902.9,190.6 1893.2,190.4" stroke="#b5bd65"/><polygon points="1777.9,192.7 1787.6,189.7 1780.1,189.9 1770.4,190.2" stroke="#b9bd63"/><polygon points="1839.3,189.9 1849.0,187.2 1841.5,189.4 1831.8,187.9" stroke="#cdbb5b"/><polygon points="1557.1,233.4 1566.8,230.9 1559.3,227.6 1549.6,230.1" stroke="#36359d"/><polygon points="1716.5,190.8 1726.2,189.9 1718.7,190.6 1709.0,190.3" stroke="#bdbd61"/><polygon points="1655.1,194.8 1664.8,189.1 1657.3,189.8 1647.6,188.2" stroke="#bebc61"/><polygon points="1917.9,196.2 1927.7,190.5 1920.1,190.2 1910.4,189.6" stroke="#b4bd65"/><polygon points="1733.7,197.0 1743.5,194.1 1736.0,192.5 1726.2,189.9" stroke="#a6be6b"/><polygon points="1856.5,193.2 1866.3,190.4 1858.8,188.6 1849.0,187.2" stroke="#c8bc5d"/><polygon points="1628.2,192.2 1637.9,193.9 1630.4,191.4 1620.7,227.4" stroke="none"/><path d="M1628.2 192.2L1637.9 193.9" stroke="#b0be67"/><path d="M1637.9 193.9L1630.4 191.4" stroke="#a7be6a"/><path d="M1630.4 191.4L1620.7 227.4" stroke="#36359d"/><path d="M1620.7 227.4L1628.2 192.2" stroke="#36359d"/><polygon points="1795.1,194.8 1804.9,186.9 1797.4,190.6 1787.6,189.7" stroke="#c3bc5f"/><polygon points="1574.3,234.2 1584.0,231.6 1576.5,228.3 1566.8,230.9" stroke="#36359d"/><polygon points="1512.9,234.3 1522.6,231.8 1515.1,228.5 1505.4,231.0" stroke="#36359d"/><polygon points="1618.5,233.2 1628.2,192.2 1620.7,227.4 1611.0,229.9" stroke="none"/><path d="M1618.5 233.2L1628.2 192.2" stroke="#36359d"/><path d="M1628.2 192.2L1620.7 227.4" stroke="#36359d"/><path d="M1620.7 227.4L1611.0 229.9" stroke="#36359d"/><path d="M1611.0 229.9L1618.5 233.2" stroke="#36359d"/><polygon points="1672.4,193.8 1682.1,186.4 1674.6,188.4 1664.8,189.1" stroke="#d1bb59"/><polygon points="1873.8,190.7 1883.5,193.5 1876.0,191.7 1866.3,190.4" stroke="#bebc61"/><polygon points="1591.5,235.0 1601.2,232.4 1593.7,229.1 1584.0,231.6" stroke="#36359d"/><polygon points="1530.1,235.1 1539.8,232.6 1532.3,229.3 1522.6,231.8" stroke="#36359d"/><polygon points="1812.4,192.6 1822.1,191.7 1814.6,188.1 1804.9,186.9" stroke="#d2bb59"/><polygon points="1751.0,192.7 1760.7,191.5 1753.2,184.7 1743.5,194.1" stroke="#cabb5c"/><polygon points="1689.6,194.5 1699.3,192.9 1691.8,190.4 1682.1,186.4" stroke="#c8bc5d"/><polygon points="1891.0,197.7 1900.7,192.4 1893.2,190.4 1883.5,193.5" stroke="#b2bd66"/><polygon points="1608.7,235.7 1618.5,233.2 1611.0,229.9 1601.2,232.4" stroke="#36359d"/><polygon points="1547.3,235.9 1557.1,233.4 1549.6,230.1 1539.8,232.6" stroke="#36359d"/><polygon points="1768.2,194.2 1777.9,192.7 1770.4,190.2 1760.7,191.5" stroke="#c4bc5f"/><polygon points="1829.6,192.6 1839.3,189.9 1831.8,187.9 1822.1,191.7" stroke="#d3bb58"/><polygon points="1706.8,189.5 1716.5,190.8 1709.0,190.3 1699.3,192.9" stroke="#d2bb59"/><polygon points="1645.4,190.3 1655.1,194.8 1647.6,188.2 1637.9,193.9" stroke="#cabb5c"/><polygon points="1908.2,196.1 1917.9,196.2 1910.4,189.6 1900.7,192.4" stroke="#babd62"/><polygon points="1785.4,205.1 1795.1,194.8 1787.6,189.7 1777.9,192.7" stroke="#a7be6a"/><polygon points="1564.6,236.7 1574.3,234.2 1566.8,230.9 1557.1,233.4" stroke="#36359d"/><polygon points="1846.8,193.5 1856.5,193.2 1849.0,187.2 1839.3,189.9" stroke="#d6ba57"/><polygon points="1724.0,194.8 1733.7,197.0 1726.2,189.9 1716.5,190.8" stroke="#c3bc5f"/><polygon points="1925.4,196.5 1935.2,191.9 1927.7,190.5 1917.9,196.2" stroke="#c0bc60"/><polygon points="1662.6,188.1 1672.4,193.8 1664.8,189.1 1655.1,194.8" stroke="#d6ba57"/><polygon points="1864.0,199.2 1873.8,190.7 1866.3,190.4 1856.5,193.2" stroke="#c5bc5e"/><polygon points="1802.6,201.3 1812.4,192.6 1804.9,186.9 1795.1,194.8" stroke="#c2bc5f"/><polygon points="1581.8,237.5 1591.5,235.0 1584.0,231.6 1574.3,234.2" stroke="#36359d"/><polygon points="1741.2,191.9 1751.0,192.7 1743.5,194.1 1733.7,197.0" stroke="#c3bc5f"/><polygon points="1520.4,237.6 1530.1,235.1 1522.6,231.8 1512.9,234.3" stroke="#36359d"/><polygon points="1679.9,194.8 1689.6,194.5 1682.1,186.4 1672.4,193.8" stroke="#d4bb58"/><polygon points="1881.3,195.7 1891.0,197.7 1883.5,193.5 1873.8,190.7" stroke="#c3bc5f"/><polygon points="1758.5,204.9 1768.2,194.2 1760.7,191.5 1751.0,192.7" stroke="#b8bd63"/><polygon points="1599.0,238.3 1608.7,235.7 1601.2,232.4 1591.5,235.0" stroke="#36359d"/><polygon points="1537.6,238.4 1547.3,235.9 1539.8,232.6 1530.1,235.1" stroke="#36359d"/><polygon points="1819.9,195.7 1829.6,192.6 1822.1,191.7 1812.4,192.6" stroke="#d1bb59"/><polygon points="1775.7,203.8 1785.4,205.1 1777.9,192.7 1768.2,194.2" stroke="#9ebe6e"/><polygon points="1697.1,195.6 1706.8,189.5 1699.3,192.9 1689.6,194.5" stroke="#d5ba58"/><polygon points="1898.5,198.4 1908.2,196.1 1900.7,192.4 1891.0,197.7" stroke="#b9bd63"/><polygon points="1635.7,197.8 1645.4,190.3 1637.9,193.9 1628.2,192.2" stroke="#d2bb59"/><polygon points="1837.1,203.2 1846.8,193.5 1839.3,189.9 1829.6,192.6" stroke="#c9bc5c"/><polygon points="1554.9,239.2 1564.6,236.7 1557.1,233.4 1547.3,235.9" stroke="#36359d"/><polygon points="1792.9,201.7 1802.6,201.3 1795.1,194.8 1785.4,205.1" stroke="#92bf72"/><polygon points="1714.3,200.8 1724.0,194.8 1716.5,190.8 1706.8,189.5" stroke="#d4bb58"/><polygon points="1915.7,196.8 1925.4,196.5 1917.9,196.2 1908.2,196.1" stroke="#bfbc60"/><polygon points="1652.9,200.4 1662.6,188.1 1655.1,194.8 1645.4,190.3" stroke="#dbba55"/><polygon points="1854.3,199.3 1864.0,199.2 1856.5,193.2 1846.8,193.5" stroke="#c1bc60"/><polygon points="1572.1,240.0 1581.8,237.5 1574.3,234.2 1564.6,236.7" stroke="#36359d"/><polygon points="1731.5,200.5 1741.2,191.9 1733.7,197.0 1724.0,194.8" stroke="#c7bc5d"/><polygon points="1626.0,194.9 1635.7,197.8 1628.2,192.2 1618.5,233.2" stroke="none"/><path d="M1626.0 194.9L1635.7 197.8" stroke="#c4bc5e"/><path d="M1635.7 197.8L1628.2 192.2" stroke="#c4bc5e"/><path d="M1628.2 192.2L1618.5 233.2" stroke="#36359d"/><path d="M1618.5 233.2L1626.0 194.9" stroke="#36359d"/><polygon points="1616.2,239.0 1626.0,194.9 1618.5,233.2 1608.7,235.7" stroke="none"/><path d="M1616.2 239.0L1626.0 194.9" stroke="#36359d"/><path d="M1626.0 194.9L1618.5 233.2" stroke="#36359d"/><path d="M1618.5 233.2L1608.7 235.7" stroke="#36359d"/><path d="M1608.7 235.7L1616.2 239.0" stroke="#36359d"/><polygon points="1670.1,199.3 1679.9,194.8 1672.4,193.8 1662.6,188.1" stroke="#ddba54"/><polygon points="1810.2,200.1 1819.9,195.7 1812.4,192.6 1802.6,201.3" stroke="#c0bc60"/><polygon points="1871.5,197.6 1881.3,195.7 1873.8,190.7 1864.0,199.2" stroke="#cebb5a"/><polygon points="1589.3,240.8 1599.0,238.3 1591.5,235.0 1581.8,237.5" stroke="#36359d"/><polygon points="1527.9,240.9 1537.6,238.4 1530.1,235.1 1520.4,237.6" stroke="#36359d"/><polygon points="1748.8,198.3 1758.5,204.9 1751.0,192.7 1741.2,191.9" stroke="#c6bc5d"/><polygon points="1687.4,198.9 1697.1,195.6 1689.6,194.5 1679.9,194.8" stroke="#d2bb59"/><polygon points="1766.0,202.2 1775.7,203.8 1768.2,194.2 1758.5,204.9" stroke="#a0be6d"/><polygon points="1888.8,199.4 1898.5,198.4 1891.0,197.7 1881.3,195.7" stroke="#c2bc5f"/><polygon points="1827.4,202.3 1837.1,203.2 1829.6,192.6 1819.9,195.7" stroke="#bdbd61"/><polygon points="1606.5,241.6 1616.2,239.0 1608.7,235.7 1599.0,238.3" stroke="#36359d"/><polygon points="1545.1,241.7 1554.9,239.2 1547.3,235.9 1537.6,238.4" stroke="#36359d"/><polygon points="1783.2,201.5 1792.9,201.7 1785.4,205.1 1775.7,203.8" stroke="#95bf71"/><polygon points="1704.6,200.1 1714.3,200.8 1706.8,189.5 1697.1,195.6" stroke="#d4bb58"/><polygon points="1643.2,199.0 1652.9,200.4 1645.4,190.3 1635.7,197.8" stroke="#d2bb59"/><polygon points="1844.6,202.0 1854.3,199.3 1846.8,193.5 1837.1,203.2" stroke="#babd62"/><polygon points="1562.4,242.5 1572.1,240.0 1564.6,236.7 1554.9,239.2" stroke="#36359d"/><polygon points="1721.8,202.0 1731.5,200.5 1724.0,194.8 1714.3,200.8" stroke="#bdbc61"/><polygon points="1861.8,202.6 1871.5,197.6 1864.0,199.2 1854.3,199.3" stroke="#c0bc60"/><polygon points="1800.4,199.0 1810.2,200.1 1802.6,201.3 1792.9,201.7" stroke="#babd63"/><polygon points="1660.4,195.8 1670.1,199.3 1662.6,188.1 1652.9,200.4" stroke="#e3b951"/><polygon points="1579.6,243.3 1589.3,240.8 1581.8,237.5 1572.1,240.0" stroke="#36359d"/><polygon points="1739.0,198.8 1748.8,198.3 1741.2,191.9 1731.5,200.5" stroke="#dbba55"/><polygon points="1677.6,199.1 1687.4,198.9 1679.9,194.8 1670.1,199.3" stroke="#d6ba57"/><polygon points="1756.3,208.2 1766.0,202.2 1758.5,204.9 1748.8,198.3" stroke="#a4be6b"/><polygon points="1879.0,203.7 1888.8,199.4 1881.3,195.7 1871.5,197.6" stroke="#cfbb5a"/><polygon points="1596.8,244.1 1606.5,241.6 1599.0,238.3 1589.3,240.8" stroke="#36359d"/><polygon points="1817.7,203.2 1827.4,202.3 1819.9,195.7 1810.2,200.1" stroke="#c4bc5e"/><polygon points="1535.4,244.2 1545.1,241.7 1537.6,238.4 1527.9,240.9" stroke="#36359d"/><polygon points="1694.9,201.2 1704.6,200.1 1697.1,195.6 1687.4,198.9" stroke="#d5bb58"/><polygon points="1834.9,203.5 1844.6,202.0 1837.1,203.2 1827.4,202.3" stroke="#b2bd65"/><polygon points="1773.5,207.0 1783.2,201.5 1775.7,203.8 1766.0,202.2" stroke="#abbe69"/><polygon points="1633.5,199.4 1643.2,199.0 1635.7,197.8 1626.0,194.9" stroke="#e2b952"/><polygon points="1552.6,245.0 1562.4,242.5 1554.9,239.2 1545.1,241.7" stroke="#36359d"/><polygon points="1712.1,201.4 1721.8,202.0 1714.3,200.8 1704.6,200.1" stroke="#c7bc5d"/><polygon points="1852.1,204.7 1861.8,202.6 1854.3,199.3 1844.6,202.0" stroke="#c1bc60"/><polygon points="1650.7,196.0 1660.4,195.8 1652.9,200.4 1643.2,199.0" stroke="#e9b94e"/><polygon points="1569.9,245.8 1579.6,243.3 1572.1,240.0 1562.4,242.5" stroke="#36359d"/><polygon points="1790.7,200.7 1800.4,199.0 1792.9,201.7 1783.2,201.5" stroke="#d1bb59"/><polygon points="1729.3,203.4 1739.0,198.8 1731.5,200.5 1721.8,202.0" stroke="#cebb5a"/><polygon points="1614.0,244.9 1623.8,194.1 1616.2,239.0 1606.5,241.6" stroke="none"/><path d="M1614.0 244.9L1623.8 194.1" stroke="#36359d"/><path d="M1623.8 194.1L1616.2 239.0" stroke="#36359d"/><path d="M1616.2 239.0L1606.5 241.6" stroke="#36359d"/><path d="M1606.5 241.6L1614.0 244.9" stroke="#36359d"/><polygon points="1869.3,206.2 1879.0,203.7 1871.5,197.6 1861.8,202.6" stroke="#c5bc5e"/><polygon points="1623.8,194.1 1633.5,199.4 1626.0,194.9 1616.2,239.0" stroke="none"/><path d="M1623.8 194.1L1633.5 199.4" stroke="#eeb94c"/><path d="M1633.5 199.4L1626.0 194.9" stroke="#eeb94c"/><path d="M1626.0 194.9L1616.2 239.0" stroke="#36359d"/><path d="M1616.2 239.0L1623.8 194.1" stroke="#36359d"/><polygon points="1667.9,200.0 1677.6,199.1 1670.1,199.3 1660.4,195.8" stroke="#e9b94e"/><polygon points="1587.1,246.6 1596.8,244.1 1589.3,240.8 1579.6,243.3" stroke="#36359d"/><polygon points="1807.9,208.4 1817.7,203.2 1810.2,200.1 1800.4,199.0" stroke="#c6bc5e"/><polygon points="1746.5,202.9 1756.3,208.2 1748.8,198.3 1739.0,198.8" stroke="#cdbb5b"/><polygon points="1763.8,206.1 1773.5,207.0 1766.0,202.2 1756.3,208.2" stroke="#adbe68"/><polygon points="1604.3,247.4 1614.0,244.9 1606.5,241.6 1596.8,244.1" stroke="#36359d"/><polygon points="1685.1,194.9 1694.9,201.2 1687.4,198.9 1677.6,199.1" stroke="#f1b949"/><polygon points="1542.9,247.5 1552.6,245.0 1545.1,241.7 1535.4,244.2" stroke="#36359d"/><polygon points="1825.2,200.8 1834.9,203.5 1827.4,202.3 1817.7,203.2" stroke="#d0bb5a"/><polygon points="1702.4,199.9 1712.1,201.4 1704.6,200.1 1694.9,201.2" stroke="#e4b950"/><polygon points="1842.4,204.4 1852.1,204.7 1844.6,202.0 1834.9,203.5" stroke="#ccbb5b"/><polygon points="1560.1,248.3 1569.9,245.8 1562.4,242.5 1552.6,245.0" stroke="#36359d"/><polygon points="1781.0,208.4 1790.7,200.7 1783.2,201.5 1773.5,207.0" stroke="#c5bc5e"/><polygon points="1641.0,195.6 1650.7,196.0 1643.2,199.0 1633.5,199.4" stroke="#fec03b"/><polygon points="1719.6,198.0 1729.3,203.4 1721.8,202.0 1712.1,201.4" stroke="#e7b94f"/><polygon points="1577.4,249.1 1587.1,246.6 1579.6,243.3 1569.9,245.8" stroke="#36359d"/><polygon points="1859.6,202.2 1869.3,206.2 1861.8,202.6 1852.1,204.7" stroke="#d1bb59"/><polygon points="1658.2,200.4 1667.9,200.0 1660.4,195.8 1650.7,196.0" stroke="#fec139"/><polygon points="1798.2,201.1 1807.9,208.4 1800.4,199.0 1790.7,200.7" stroke="#e2b952"/><polygon points="1736.8,199.7 1746.5,202.9 1739.0,198.8 1729.3,203.4" stroke="#eeb94b"/><polygon points="1594.6,249.9 1604.3,247.4 1596.8,244.1 1587.1,246.6" stroke="#36359d"/><polygon points="1754.0,203.7 1763.8,206.1 1756.3,208.2 1746.5,202.9" stroke="#cebb5a"/><polygon points="1815.4,202.4 1825.2,200.8 1817.7,203.2 1807.9,208.4" stroke="#dcba54"/><polygon points="1675.4,199.0 1685.1,194.9 1677.6,199.1 1667.9,200.0" stroke="#fec535"/><polygon points="1550.4,250.8 1560.1,248.3 1552.6,245.0 1542.9,247.5" stroke="#36359d"/><polygon points="1771.3,206.3 1781.0,208.4 1773.5,207.0 1763.8,206.1" stroke="#c5bc5e"/><polygon points="1832.7,206.2 1842.4,204.4 1834.9,203.5 1825.2,200.8" stroke="#e4b951"/><polygon points="1692.7,196.8 1702.4,199.9 1694.9,201.2 1685.1,194.9" stroke="#fdcb30"/><polygon points="1631.3,201.9 1641.0,195.6 1633.5,199.4 1623.8,194.1" stroke="#fcce2d"/><polygon points="1567.6,251.6 1577.4,249.1 1569.9,245.8 1560.1,248.3" stroke="#36359d"/><polygon points="1849.9,208.3 1859.6,202.2 1852.1,204.7 1842.4,204.4" stroke="#e0ba52"/><polygon points="1709.9,197.0 1719.6,198.0 1712.1,201.4 1702.4,199.9" stroke="#fdca31"/><polygon points="1788.5,204.5 1798.2,201.1 1790.7,200.7 1781.0,208.4" stroke="#edb94c"/><polygon points="1611.8,250.7 1621.5,198.9 1614.0,244.9 1604.3,247.4" stroke="none"/><path d="M1611.8 250.7L1621.5 198.9" stroke="#36359d"/><path d="M1621.5 198.9L1614.0 244.9" stroke="#36359d"/><path d="M1614.0 244.9L1604.3 247.4" stroke="#36359d"/><path d="M1604.3 247.4L1611.8 250.7" stroke="#36359d"/><polygon points="1648.5,198.5 1658.2,200.4 1650.7,196.0 1641.0,195.6" stroke="#f9d429"/><polygon points="1584.9,252.4 1594.6,249.9 1587.1,246.6 1577.4,249.1" stroke="#36359d"/><polygon points="1727.1,203.6 1736.8,199.7 1729.3,203.4 1719.6,198.0" stroke="#fec239"/><polygon points="1621.5,198.9 1631.3,201.9 1623.8,194.1 1614.0,244.9" stroke="none"/><path d="M1621.5 198.9L1631.3 201.9" stroke="#fec734"/><path d="M1631.3 201.9L1623.8 194.1" stroke="#fec734"/><path d="M1623.8 194.1L1614.0 244.9" stroke="#36359d"/><path d="M1614.0 244.9L1621.5 198.9" stroke="#36359d"/><polygon points="1805.7,210.7 1815.4,202.4 1807.9,208.4 1798.2,201.1" stroke="#e2b952"/><polygon points="1665.7,203.0 1675.4,199.0 1667.9,200.0 1658.2,200.4" stroke="#fec634"/><polygon points="1602.1,253.2 1611.8,250.7 1604.3,247.4 1594.6,249.9" stroke="#36359d"/><polygon points="1744.3,204.2 1754.0,203.7 1746.5,202.9 1736.8,199.7" stroke="#fdbe3e"/><polygon points="1822.9,208.8 1832.7,206.2 1825.2,200.8 1815.4,202.4" stroke="#f4ba48"/><polygon points="1761.5,203.2 1771.3,206.3 1763.8,206.1 1754.0,203.7" stroke="#f3b948"/><polygon points="1682.9,200.8 1692.7,196.8 1685.1,194.9 1675.4,199.0" stroke="#f6dd22"/><polygon points="1557.9,254.1 1567.6,251.6 1560.1,248.3 1550.4,250.8" stroke="#36359d"/><polygon points="1840.2,208.9 1849.9,208.3 1842.4,204.4 1832.7,206.2" stroke="#e5b950"/><polygon points="1778.8,208.2 1788.5,204.5 1781.0,208.4 1771.3,206.3" stroke="#e7b94f"/><polygon points="1700.2,205.5 1709.9,197.0 1702.4,199.9 1692.7,196.8" stroke="#f8d628"/><polygon points="1575.2,254.9 1584.9,252.4 1577.4,249.1 1567.6,251.6" stroke="#36359d"/><polygon points="1638.8,199.4 1648.5,198.5 1641.0,195.6 1631.3,201.9" stroke="#f6dd22"/><polygon points="1717.4,202.3 1727.1,203.6 1719.6,198.0 1709.9,197.0" stroke="#f7d826"/><polygon points="1796.0,205.5 1805.7,210.7 1798.2,201.1 1788.5,204.5" stroke="#fabc41"/><polygon points="1656.0,200.8 1665.7,203.0 1658.2,200.4 1648.5,198.5" stroke="#f8d628"/><polygon points="1592.4,255.7 1602.1,253.2 1594.6,249.9 1584.9,252.4" stroke="#36359d"/><polygon points="1734.6,203.2 1744.3,204.2 1736.8,199.7 1727.1,203.6" stroke="#fccd2e"/><polygon points="1813.2,209.1 1822.9,208.8 1815.4,202.4 1805.7,210.7" stroke="#edb94c"/><polygon points="1673.2,202.2 1682.9,200.8 1675.4,199.0 1665.7,203.0" stroke="#f8d726"/><polygon points="1751.8,202.1 1761.5,203.2 1754.0,203.7 1744.3,204.2" stroke="#fcce2d"/><polygon points="1830.5,208.4 1840.2,208.9 1832.7,206.2 1822.9,208.8" stroke="#f2b949"/><polygon points="1690.4,202.4 1700.2,205.5 1692.7,196.8 1682.9,200.8" stroke="#f6dc23"/><polygon points="1565.4,257.4 1575.2,254.9 1567.6,251.6 1557.9,254.1" stroke="#36359d"/><polygon points="1769.1,206.8 1778.8,208.2 1771.3,206.3 1761.5,203.2" stroke="#fec139"/><polygon points="1629.0,203.0 1638.8,199.4 1631.3,201.9 1621.5,198.9" stroke="#f5e11f"/><polygon points="1609.6,256.5 1619.3,205.6 1611.8,250.7 1602.1,253.2" stroke="none"/><path d="M1609.6 256.5L1619.3 205.6" stroke="#36359d"/><path d="M1619.3 205.6L1611.8 250.7" stroke="#36359d"/><path d="M1611.8 250.7L1602.1 253.2" stroke="#36359d"/><path d="M1602.1 253.2L1609.6 256.5" stroke="#36359d"/><polygon points="1707.7,203.4 1717.4,202.3 1709.9,197.0 1700.2,205.5" stroke="#f6dd22"/><polygon points="1582.7,258.2 1592.4,255.7 1584.9,252.4 1575.2,254.9" stroke="#36359d"/><polygon points="1786.3,203.4 1796.0,205.5 1788.5,204.5 1778.8,208.2" stroke="#fdcb30"/><polygon points="1646.3,202.6 1656.0,200.8 1648.5,198.5 1638.8,199.4" stroke="#f5eb18"/><polygon points="1619.3,205.6 1629.0,203.0 1621.5,198.9 1611.8,250.7" stroke="none"/><path d="M1619.3 205.6L1629.0 203.0" stroke="#f5e61c"/><path d="M1629.0 203.0L1621.5 198.9" stroke="#f5e71b"/><path d="M1621.5 198.9L1611.8 250.7" stroke="#36359d"/><path d="M1611.8 250.7L1619.3 205.6" stroke="#36359d"/><polygon points="1724.9,203.2 1734.6,203.2 1727.1,203.6 1717.4,202.3" stroke="#f6db24"/><polygon points="1599.9,259.0 1609.6,256.5 1602.1,253.2 1592.4,255.7" stroke="#36359d"/><polygon points="1663.5,204.7 1673.2,202.2 1665.7,203.0 1656.0,200.8" stroke="#f5df21"/><polygon points="1803.5,199.9 1813.2,209.1 1805.7,210.7 1796.0,205.5" stroke="#fdca31"/><polygon points="1742.1,201.4 1751.8,202.1 1744.3,204.2 1734.6,203.2" stroke="#f5e31e"/><polygon points="1820.7,205.2 1830.5,208.4 1822.9,208.8 1813.2,209.1" stroke="#fec535"/><polygon points="1680.7,205.2 1690.4,202.4 1682.9,200.8 1673.2,202.2" stroke="#f5e51c"/><polygon points="1759.3,200.8 1769.1,206.8 1761.5,203.2 1751.8,202.1" stroke="#f5e61c"/><polygon points="1572.9,260.7 1582.7,258.2 1575.2,254.9 1565.4,257.4" stroke="#36359d"/><polygon points="1697.9,203.4 1707.7,203.4 1700.2,205.5 1690.4,202.4" stroke="#f5e31e"/><polygon points="1636.5,208.9 1646.3,202.6 1638.8,199.4 1629.0,203.0" stroke="#f5e61c"/><polygon points="1776.6,208.8 1786.3,203.4 1778.8,208.2 1769.1,206.8" stroke="#fad22a"/><polygon points="1715.2,212.4 1724.9,203.2 1717.4,202.3 1707.7,203.4" stroke="#f6dd22"/><polygon points="1590.2,261.5 1599.9,259.0 1592.4,255.7 1582.7,258.2" stroke="#36359d"/><polygon points="1653.8,207.4 1663.5,204.7 1656.0,200.8 1646.3,202.6" stroke="#f5e91a"/><polygon points="1793.8,206.7 1803.5,199.9 1796.0,205.5 1786.3,203.4" stroke="#f5ed17"/><polygon points="1671.0,212.5 1680.7,205.2 1673.2,202.2 1663.5,204.7" stroke="#f6de22"/><polygon points="1732.4,207.1 1742.1,201.4 1734.6,203.2 1724.9,203.2" stroke="#f6f015"/><polygon points="1811.0,204.3 1820.7,205.2 1813.2,209.1 1803.5,199.9" stroke="#f5ee16"/><polygon points="1626.8,213.3 1636.5,208.9 1629.0,203.0 1619.3,205.6" stroke="#f7d925"/><polygon points="1688.2,210.9 1697.9,203.4 1690.4,202.4 1680.7,205.2" stroke="#f5e91a"/><polygon points="1749.6,210.3 1759.3,200.8 1751.8,202.1 1742.1,201.4" stroke="#f8f90f"/><polygon points="1607.4,262.3 1617.1,213.3 1609.6,256.5 1599.9,259.0" stroke="none"/><path d="M1607.4 262.3L1617.1 213.3" stroke="#36359d"/><path d="M1617.1 213.3L1609.6 256.5" stroke="#36359d"/><path d="M1609.6 256.5L1599.9 259.0" stroke="#36359d"/><path d="M1599.9 259.0L1607.4 262.3" stroke="#36359d"/><polygon points="1705.4,215.1 1715.2,212.4 1707.7,203.4 1697.9,203.4" stroke="#f8d826"/><polygon points="1580.4,264.1 1590.2,261.5 1582.7,258.2 1572.9,260.7" stroke="#36359d"/><polygon points="1766.8,206.5 1776.6,208.8 1769.1,206.8 1759.3,200.8" stroke="#f5ec17"/><polygon points="1644.0,212.8 1653.8,207.4 1646.3,202.6 1636.5,208.9" stroke="#f6dd22"/><polygon points="1617.1,213.3 1626.8,213.3 1619.3,205.6 1609.6,256.5" stroke="none"/><path d="M1617.1 213.3L1626.8 213.3" stroke="#fec832"/><path d="M1626.8 213.3L1619.3 205.6" stroke="#fec832"/><path d="M1619.3 205.6L1609.6 256.5" stroke="#36359d"/><path d="M1609.6 256.5L1617.1 213.3" stroke="#36359d"/><polygon points="1784.1,212.1 1793.8,206.7 1786.3,203.4 1776.6,208.8" stroke="#f5e21e"/><polygon points="1722.7,211.6 1732.4,207.1 1724.9,203.2 1715.2,212.4" stroke="#f6dd22"/><polygon points="1597.7,264.8 1607.4,262.3 1599.9,259.0 1590.2,261.5" stroke="#36359d"/><polygon points="1661.3,210.8 1671.0,212.5 1663.5,204.7 1653.8,207.4" stroke="#f6dc23"/><polygon points="1678.5,218.9 1688.2,210.9 1680.7,205.2 1671.0,212.5" stroke="#fcce2e"/><polygon points="1739.9,215.9 1749.6,210.3 1742.1,201.4 1732.4,207.1" stroke="#f5e21e"/><polygon points="1801.3,210.6 1811.0,204.3 1803.5,199.9 1793.8,206.7" stroke="#f9fb0e"/><polygon points="1634.3,216.6 1644.0,212.8 1636.5,208.9 1626.8,213.3" stroke="#fccd2e"/><polygon points="1695.7,213.1 1705.4,215.1 1697.9,203.4 1688.2,210.9" stroke="#f6db24"/><polygon points="1757.1,217.8 1766.8,206.5 1759.3,200.8 1749.6,210.3" stroke="#f5e71b"/><polygon points="1713.0,217.2 1722.7,211.6 1715.2,212.4 1705.4,215.1" stroke="#fdca31"/><polygon points="1651.6,221.3 1661.3,210.8 1653.8,207.4 1644.0,212.8" stroke="#fad12b"/><polygon points="1774.3,214.4 1784.1,212.1 1776.6,208.8 1766.8,206.5" stroke="#f5e11f"/><polygon points="1587.9,267.4 1597.7,264.8 1590.2,261.5 1580.4,264.1" stroke="#36359d"/><polygon points="1668.8,220.2 1678.5,218.9 1671.0,212.5 1661.3,210.8" stroke="#fec634"/><polygon points="1730.2,218.0 1739.9,215.9 1732.4,207.1 1722.7,211.6" stroke="#f9d528"/><polygon points="1791.6,215.7 1801.3,210.6 1793.8,206.7 1784.1,212.1" stroke="#f5e11f"/><polygon points="1747.4,215.4 1757.1,217.8 1749.6,210.3 1739.9,215.9" stroke="#fbcf2d"/><polygon points="1686.0,221.0 1695.7,213.1 1688.2,210.9 1678.5,218.9" stroke="#fec932"/><polygon points="1624.6,220.9 1634.3,216.6 1626.8,213.3 1617.1,213.3" stroke="#fec931"/><polygon points="1641.8,222.8 1651.6,221.3 1644.0,212.8 1634.3,216.6" stroke="#febf3c"/><polygon points="1764.6,224.6 1774.3,214.4 1766.8,206.5 1757.1,217.8" stroke="#fcce2e"/><polygon points="1605.2,268.1 1614.9,224.9 1607.4,262.3 1597.7,264.8" stroke="none"/><path d="M1605.2 268.1L1614.9 224.9" stroke="#36359d"/><path d="M1614.9 224.9L1607.4 262.3" stroke="#36359d"/><path d="M1607.4 262.3L1597.7 264.8" stroke="#36359d"/><path d="M1597.7 264.8L1605.2 268.1" stroke="#36359d"/><polygon points="1703.2,219.9 1713.0,217.2 1705.4,215.1 1695.7,213.1" stroke="#fdcb30"/><polygon points="1614.9,224.9 1624.6,220.9 1617.1,213.3 1607.4,262.3" stroke="none"/><path d="M1614.9 224.9L1624.6 220.9" stroke="#f1b94a"/><path d="M1624.6 220.9L1617.1 213.3" stroke="#fdbd3e"/><path d="M1617.1 213.3L1607.4 262.3" stroke="#36359d"/><path d="M1607.4 262.3L1614.9 224.9" stroke="#36359d"/><polygon points="1659.1,225.3 1668.8,220.2 1661.3,210.8 1651.6,221.3" stroke="#fdbe3d"/><polygon points="1781.9,225.2 1791.6,215.7 1784.1,212.1 1774.3,214.4" stroke="#fccc2f"/><polygon points="1720.5,223.6 1730.2,218.0 1722.7,211.6 1713.0,217.2" stroke="#fec832"/><polygon points="1595.5,270.7 1605.2,268.1 1597.7,264.8 1587.9,267.4" stroke="#36359d"/><polygon points="1676.3,228.8 1686.0,221.0 1678.5,218.9 1668.8,220.2" stroke="#edb94c"/><polygon points="1737.7,229.5 1747.4,215.4 1739.9,215.9 1730.2,218.0" stroke="#fec03b"/><polygon points="1754.9,229.0 1764.6,224.6 1757.1,217.8 1747.4,215.4" stroke="#f8ba44"/><polygon points="1632.1,231.5 1641.8,222.8 1634.3,216.6 1624.6,220.9" stroke="#efb94b"/><polygon points="1693.5,228.1 1703.2,219.9 1695.7,213.1 1686.0,221.0" stroke="#fec13a"/><polygon points="1772.1,223.0 1781.9,225.2 1774.3,214.4 1764.6,224.6" stroke="#fcbd3f"/><polygon points="1649.3,226.7 1659.1,225.3 1651.6,221.3 1641.8,222.8" stroke="#ecb94c"/><polygon points="1710.7,227.4 1720.5,223.6 1713.0,217.2 1703.2,219.9" stroke="#fcbd3f"/><polygon points="1728.0,227.2 1737.7,229.5 1730.2,218.0 1720.5,223.6" stroke="#eeb94c"/><polygon points="1666.6,227.7 1676.3,228.8 1668.8,220.2 1659.1,225.3" stroke="#e6b950"/><polygon points="1683.8,232.1 1693.5,228.1 1686.0,221.0 1676.3,228.8" stroke="#daba55"/><polygon points="1745.2,228.0 1754.9,229.0 1747.4,215.4 1737.7,229.5" stroke="#ecb94c"/><polygon points="1622.4,231.3 1632.1,231.5 1624.6,220.9 1614.9,224.9" stroke="#dfba53"/><polygon points="1762.4,232.1 1772.1,223.0 1764.6,224.6 1754.9,229.0" stroke="#e4b951"/><polygon points="1639.6,236.8 1649.3,226.7 1641.8,222.8 1632.1,231.5" stroke="#d0bb5a"/><polygon points="1701.0,233.3 1710.7,227.4 1703.2,219.9 1693.5,228.1" stroke="#e5b950"/><polygon points="1718.2,235.7 1728.0,227.2 1720.5,223.6 1710.7,227.4" stroke="#e0ba53"/><polygon points="1603.0,274.0 1612.7,226.4 1605.2,268.1 1595.5,270.7" stroke="none"/><path d="M1603.0 274.0L1612.7 226.4" stroke="#36359d"/><path d="M1612.7 226.4L1605.2 268.1" stroke="#36359d"/><path d="M1605.2 268.1L1595.5 270.7" stroke="#36359d"/><path d="M1595.5 270.7L1603.0 274.0" stroke="#36359d"/><polygon points="1656.8,238.4 1666.6,227.7 1659.1,225.3 1649.3,226.7" stroke="#d7ba57"/><polygon points="1612.7,226.4 1622.4,231.3 1614.9,224.9 1605.2,268.1" stroke="none"/><path d="M1612.7 226.4L1622.4 231.3" stroke="#d2bb59"/><path d="M1622.4 231.3L1614.9 224.9" stroke="#d2bb59"/><path d="M1614.9 224.9L1605.2 268.1" stroke="#36359d"/><path d="M1605.2 268.1L1612.7 226.4" stroke="#36359d"/><polygon points="1735.5,237.0 1745.2,228.0 1737.7,229.5 1728.0,227.2" stroke="#d5ba58"/><polygon points="1674.1,234.4 1683.8,232.1 1676.3,228.8 1666.6,227.7" stroke="#d3bb58"/><polygon points="1752.7,237.9 1762.4,232.1 1754.9,229.0 1745.2,228.0" stroke="#cfbb5a"/><polygon points="1691.3,236.1 1701.0,233.3 1693.5,228.1 1683.8,232.1" stroke="#cabb5c"/><polygon points="1629.9,228.2 1639.6,236.8 1632.1,231.5 1622.4,231.3" stroke="#d0bb59"/><polygon points="1708.5,241.7 1718.2,235.7 1710.7,227.4 1701.0,233.3" stroke="#bcbd62"/><polygon points="1647.1,228.8 1656.8,238.4 1649.3,226.7 1639.6,236.8" stroke="#d1bb59"/><polygon points="1725.7,235.0 1735.5,237.0 1728.0,227.2 1718.2,235.7" stroke="#cdbb5b"/><polygon points="1664.4,229.1 1674.1,234.4 1666.6,227.7 1656.8,238.4" stroke="#dbba55"/><polygon points="1743.0,234.2 1752.7,237.9 1745.2,228.0 1735.5,237.0" stroke="#cfbb5a"/><polygon points="1610.5,276.3 1620.2,252.2 1612.7,226.4 1603.0,274.0" stroke="none"/><path d="M1610.5 276.3L1620.2 252.2" stroke="#353dac"/><path d="M1620.2 252.2L1612.7 226.4" stroke="#1db3af"/><path d="M1612.7 226.4L1603.0 274.0" stroke="#36359d"/><path d="M1603.0 274.0L1610.5 276.3" stroke="#36359d"/><polygon points="1620.2,252.2 1629.9,228.2 1622.4,231.3 1612.7,226.4" stroke="none"/><path d="M1620.2 252.2L1629.9 228.2" stroke="#1db3af"/><path d="M1629.9 228.2L1622.4 231.3" stroke="#d2bb59"/><path d="M1622.4 231.3L1612.7 226.4" stroke="#d2bb59"/><path d="M1612.7 226.4L1620.2 252.2" stroke="#1db3af"/><polygon points="1681.6,230.0 1691.3,236.1 1683.8,232.1 1674.1,234.4" stroke="#dcba55"/><polygon points="1698.8,231.4 1708.5,241.7 1701.0,233.3 1691.3,236.1" stroke="#cbbb5c"/><polygon points="1637.4,252.7 1647.1,228.8 1639.6,236.8 1629.9,228.2" stroke="none"/><path d="M1637.4 252.7L1647.1 228.8" stroke="#20b4ad"/><path d="M1647.1 228.8L1639.6 236.8" stroke="#a1be6d"/><path d="M1639.6 236.8L1629.9 228.2" stroke="#a1be6d"/><path d="M1629.9 228.2L1637.4 252.7" stroke="#20b4ad"/><polygon points="1654.6,253.8 1664.4,229.1 1656.8,238.4 1647.1,228.8" stroke="none"/><path d="M1654.6 253.8L1664.4 229.1" stroke="#1db3af"/><path d="M1664.4 229.1L1656.8 238.4" stroke="#97bf71"/><path d="M1656.8 238.4L1647.1 228.8" stroke="#97bf71"/><path d="M1647.1 228.8L1654.6 253.8" stroke="#1db3af"/><polygon points="1627.7,277.3 1637.4,252.7 1629.9,228.2 1620.2,252.2" stroke="none"/><path d="M1627.7 277.3L1637.4 252.7" stroke="#353ba9"/><path d="M1637.4 252.7L1629.9 228.2" stroke="#20b4ad"/><path d="M1629.9 228.2L1620.2 252.2" stroke="#1db3af"/><path d="M1620.2 252.2L1627.7 277.3" stroke="#353ba9"/><polygon points="1716.0,232.4 1725.7,235.0 1718.2,235.7 1708.5,241.7" stroke="#cdbb5b"/><polygon points="1618.0,280.6 1627.7,277.3 1620.2,252.2 1610.5,276.3" stroke="none"/><path d="M1618.0 280.6L1627.7 277.3" stroke="#36359d"/><path d="M1627.7 277.3L1620.2 252.2" stroke="#353ba9"/><path d="M1620.2 252.2L1610.5 276.3" stroke="#353dac"/><path d="M1610.5 276.3L1618.0 280.6" stroke="#36359d"/><polygon points="1644.9,279.5 1654.6,253.8 1647.1,228.8 1637.4,252.7" stroke="none"/><path d="M1644.9 279.5L1654.6 253.8" stroke="#363093"/><path d="M1654.6 253.8L1647.1 228.8" stroke="#1db3af"/><path d="M1647.1 228.8L1637.4 252.7" stroke="#20b4ad"/><path d="M1637.4 252.7L1644.9 279.5" stroke="#363093"/><polygon points="1671.9,253.0 1681.6,230.0 1674.1,234.4 1664.4,229.1" stroke="none"/><path d="M1671.9 253.0L1681.6 230.0" stroke="#2db7a5"/><path d="M1681.6 230.0L1674.1 234.4" stroke="#cbbb5c"/><path d="M1674.1 234.4L1664.4 229.1" stroke="#cbbb5c"/><path d="M1664.4 229.1L1671.9 253.0" stroke="#2db7a5"/><polygon points="1635.2,281.4 1644.9,279.5 1637.4,252.7 1627.7,277.3" stroke="none"/><path d="M1635.2 281.4L1644.9 279.5" stroke="#363093"/><path d="M1644.9 279.5L1637.4 252.7" stroke="#363093"/><path d="M1637.4 252.7L1627.7 277.3" stroke="#353ba9"/><path d="M1627.7 277.3L1635.2 281.4" stroke="#36359d"/><polygon points="1733.2,230.7 1743.0,234.2 1735.5,237.0 1725.7,235.0" stroke="#e8b94f"/><polygon points="1662.1,279.1 1671.9,253.0 1664.4,229.1 1654.6,253.8" stroke="none"/><path d="M1662.1 279.1L1671.9 253.0" stroke="#3639a4"/><path d="M1671.9 253.0L1664.4 229.1" stroke="#2db7a5"/><path d="M1664.4 229.1L1654.6 253.8" stroke="#1db3af"/><path d="M1654.6 253.8L1662.1 279.1" stroke="#3639a4"/><polygon points="1689.1,256.4 1698.8,231.4 1691.3,236.1 1681.6,230.0" stroke="none"/><path d="M1689.1 256.4L1698.8 231.4" stroke="#14b0b6"/><path d="M1698.8 231.4L1691.3 236.1" stroke="#c2bc5f"/><path d="M1691.3 236.1L1681.6 230.0" stroke="#c2bc5f"/><path d="M1681.6 230.0L1689.1 256.4" stroke="#14b0b6"/><polygon points="1750.5,232.7 1760.2,238.6 1752.7,237.9 1743.0,234.2" stroke="#e0ba52"/><polygon points="1652.4,282.2 1662.1,279.1 1654.6,253.8 1644.9,279.5" stroke="none"/><path d="M1652.4 282.2L1662.1 279.1" stroke="#36359d"/><path d="M1662.1 279.1L1654.6 253.8" stroke="#3639a4"/><path d="M1654.6 253.8L1644.9 279.5" stroke="#363093"/><path d="M1644.9 279.5L1652.4 282.2" stroke="#363093"/><polygon points="1706.3,255.6 1716.0,232.4 1708.5,241.7 1698.8,231.4" stroke="none"/><path d="M1706.3 255.6L1716.0 232.4" stroke="#22b4ab"/><path d="M1716.0 232.4L1708.5 241.7" stroke="#8cbf75"/><path d="M1708.5 241.7L1698.8 231.4" stroke="#8cbf75"/><path d="M1698.8 231.4L1706.3 255.6" stroke="#22b4ab"/><polygon points="1679.4,279.0 1689.1,256.4 1681.6,230.0 1671.9,253.0" stroke="none"/><path d="M1679.4 279.0L1689.1 256.4" stroke="#3340b4"/><path d="M1689.1 256.4L1681.6 230.0" stroke="#14b0b6"/><path d="M1681.6 230.0L1671.9 253.0" stroke="#2db7a5"/><path d="M1671.9 253.0L1679.4 279.0" stroke="#3340b4"/><polygon points="1669.6,282.9 1679.4,279.0 1671.9,253.0 1662.1,279.1" stroke="none"/><path d="M1669.6 282.9L1679.4 279.0" stroke="#36359d"/><path d="M1679.4 279.0L1671.9 253.0" stroke="#3340b4"/><path d="M1671.9 253.0L1662.1 279.1" stroke="#3639a4"/><path d="M1662.1 279.1L1669.6 282.9" stroke="#36359d"/><polygon points="1625.5,283.9 1635.2,281.4 1627.7,277.3 1618.0,280.6" stroke="#3636a0"/><polygon points="1696.6,280.1 1706.3,255.6 1698.8,231.4 1689.1,256.4" stroke="none"/><path d="M1696.6 280.1L1706.3 255.6" stroke="#353dae"/><path d="M1706.3 255.6L1698.8 231.4" stroke="#22b4ab"/><path d="M1698.8 231.4L1689.1 256.4" stroke="#14b0b6"/><path d="M1689.1 256.4L1696.6 280.1" stroke="#353dae"/><polygon points="1723.5,256.2 1733.2,230.7 1725.7,235.0 1716.0,232.4" stroke="none"/><path d="M1723.5 256.2L1733.2 230.7" stroke="#24b5aa"/><path d="M1733.2 230.7L1725.7 235.0" stroke="#ddba54"/><path d="M1725.7 235.0L1716.0 232.4" stroke="#ddba54"/><path d="M1716.0 232.4L1723.5 256.2" stroke="#24b5aa"/><polygon points="1686.9,283.7 1696.6,280.1 1689.1,256.4 1679.4,279.0" stroke="none"/><path d="M1686.9 283.7L1696.6 280.1" stroke="#36359d"/><path d="M1696.6 280.1L1689.1 256.4" stroke="#353dae"/><path d="M1689.1 256.4L1679.4 279.0" stroke="#3340b4"/><path d="M1679.4 279.0L1686.9 283.7" stroke="#36359d"/><polygon points="1642.7,284.7 1652.4,282.2 1644.9,279.5 1635.2,281.4" stroke="#36349a"/><polygon points="1713.8,281.9 1723.5,256.2 1716.0,232.4 1706.3,255.6" stroke="none"/><path d="M1713.8 281.9L1723.5 256.2" stroke="#36369e"/><path d="M1723.5 256.2L1716.0 232.4" stroke="#24b5aa"/><path d="M1716.0 232.4L1706.3 255.6" stroke="#22b4ab"/><path d="M1706.3 255.6L1713.8 281.9" stroke="#36369e"/><polygon points="1740.8,256.4 1750.5,232.7 1743.0,234.2 1733.2,230.7" stroke="none"/><path d="M1740.8 256.4L1750.5 232.7" stroke="#2ab6a6"/><path d="M1750.5 232.7L1743.0 234.2" stroke="#ecb94c"/><path d="M1743.0 234.2L1733.2 230.7" stroke="#ecb94c"/><path d="M1733.2 230.7L1740.8 256.4" stroke="#2ab6a6"/><polygon points="1704.1,284.5 1713.8,281.9 1706.3,255.6 1696.6,280.1" stroke="none"/><path d="M1704.1 284.5L1713.8 281.9" stroke="#36359d"/><path d="M1713.8 281.9L1706.3 255.6" stroke="#36369e"/><path d="M1706.3 255.6L1696.6 280.1" stroke="#353dae"/><path d="M1696.6 280.1L1704.1 284.5" stroke="#36359d"/><polygon points="1659.9,285.5 1669.6,282.9 1662.1,279.1 1652.4,282.2" stroke="#36369f"/><polygon points="1731.0,281.0 1740.8,256.4 1733.2,230.7 1723.5,256.2" stroke="none"/><path d="M1731.0 281.0L1740.8 256.4" stroke="#3243b9"/><path d="M1740.8 256.4L1733.2 230.7" stroke="#2ab6a6"/><path d="M1733.2 230.7L1723.5 256.2" stroke="#24b5aa"/><path d="M1723.5 256.2L1731.0 281.0" stroke="#3243b9"/><polygon points="1758.0,257.4 1767.7,234.2 1760.2,238.6 1750.5,232.7" stroke="none"/><path d="M1758.0 257.4L1767.7 234.2" stroke="#29b6a7"/><path d="M1767.7 234.2L1760.2 238.6" stroke="#c9bc5d"/><path d="M1760.2 238.6L1750.5 232.7" stroke="#c9bc5d"/><path d="M1750.5 232.7L1758.0 257.4" stroke="#29b6a7"/><polygon points="1721.3,285.3 1731.0,281.0 1723.5,256.2 1713.8,281.9" stroke="none"/><path d="M1721.3 285.3L1731.0 281.0" stroke="#36359d"/><path d="M1731.0 281.0L1723.5 256.2" stroke="#3243b9"/><path d="M1723.5 256.2L1713.8 281.9" stroke="#36369e"/><path d="M1713.8 281.9L1721.3 285.3" stroke="#36359d"/><polygon points="1677.1,286.3 1686.9,283.7 1679.4,279.0 1669.6,282.9" stroke="#3638a2"/><polygon points="1748.3,284.4 1758.0,257.4 1750.5,232.7 1740.8,256.4" stroke="none"/><path d="M1748.3 284.4L1758.0 257.4" stroke="#362f91"/><path d="M1758.0 257.4L1750.5 232.7" stroke="#29b6a7"/><path d="M1750.5 232.7L1740.8 256.4" stroke="#2ab6a6"/><path d="M1740.8 256.4L1748.3 284.4" stroke="#362f91"/><polygon points="1738.5,286.1 1748.3,284.4 1740.8,256.4 1731.0,281.0" stroke="none"/><path d="M1738.5 286.1L1748.3 284.4" stroke="#362f91"/><path d="M1748.3 284.4L1740.8 256.4" stroke="#362f91"/><path d="M1740.8 256.4L1731.0 281.0" stroke="#3243b9"/><path d="M1731.0 281.0L1738.5 286.1" stroke="#36359d"/><polygon points="1694.4,287.0 1704.1,284.5 1696.6,280.1 1686.9,283.7" stroke="#3637a1"/><polygon points="1633.0,287.2 1642.7,284.7 1635.2,281.4 1625.5,283.9" stroke="#36359d"/><polygon points="1711.6,287.8 1721.3,285.3 1713.8,281.9 1704.1,284.5" stroke="#36359d"/><polygon points="1650.2,288.0 1659.9,285.5 1652.4,282.2 1642.7,284.7" stroke="#36359d"/><polygon points="1728.8,288.6 1738.5,286.1 1731.0,281.0 1721.3,285.3" stroke="#3638a4"/><polygon points="1667.4,288.8 1677.1,286.3 1669.6,282.9 1659.9,285.5" stroke="#36359d"/><polygon points="1684.7,289.6 1694.4,287.0 1686.9,283.7 1677.1,286.3" stroke="#36359d"/><polygon points="1701.9,290.3 1711.6,287.8 1704.1,284.5 1694.4,287.0" stroke="#36359d"/><polygon points="1640.5,290.5 1650.2,288.0 1642.7,284.7 1633.0,287.2" stroke="#36359d"/><polygon points="1719.1,291.1 1728.8,288.6 1721.3,285.3 1711.6,287.8" stroke="#36359d"/><polygon points="1657.7,291.3 1667.4,288.8 1659.9,285.5 1650.2,288.0" stroke="#36359d"/><polygon points="1674.9,292.1 1684.7,289.6 1677.1,286.3 1667.4,288.8" stroke="#36359d"/><polygon points="1692.2,292.9 1701.9,290.3 1694.4,287.0 1684.7,289.6" stroke="#36359d"/><polygon points="1709.4,293.7 1719.1,291.1 1711.6,287.8 1701.9,290.3" stroke="#36359d"/><polygon points="1648.0,293.8 1657.7,291.3 1650.2,288.0 1640.5,290.5" stroke="#36359d"/><polygon points="1665.2,294.6 1674.9,292.1 1667.4,288.8 1657.7,291.3" stroke="#36359d"/><polygon points="1682.4,295.4 1692.2,292.9 1684.7,289.6 1674.9,292.1" stroke="#36359d"/><polygon points="1699.7,296.2 1709.4,293.7 1701.9,290.3 1692.2,292.9" stroke="#36359d"/><polygon points="1655.5,297.1 1665.2,294.6 1657.7,291.3 1648.0,293.8" stroke="#36359d"/><polygon points="1672.7,297.9 1682.4,295.4 1674.9,292.1 1665.2,294.6" stroke="#36359d"/><polygon points="1689.9,298.7 1699.7,296.2 1692.2,292.9 1682.4,295.4" stroke="#36359d"/><polygon points="1663.0,300.4 1672.7,297.9 1665.2,294.6 1655.5,297.1" stroke="#36359d"/><polygon points="1680.2,301.2 1689.9,298.7 1682.4,295.4 1672.7,297.9" stroke="#36359d"/><polygon points="1670.5,303.7 1680.2,301.2 1672.7,297.9 1663.0,300.4" stroke="#36359d"/></g>
<line x1="146.5" y1="991.6" x2="163.3" y2="991.6" stroke="#000" stroke-width="4"/>
<text x="141.8" y="1002.4" text-anchor="end" class="rt">0</text>
<line x1="146.5" y1="913.7" x2="163.3" y2="913.7" stroke="#000" stroke-width="4"/>
<text x="141.8" y="924.5" text-anchor="end" class="rt">20</text>
<line x1="146.5" y1="835.8" x2="163.3" y2="835.8" stroke="#000" stroke-width="4"/>
<text x="141.8" y="846.6" text-anchor="end" class="rt">40</text>
<line x1="146.5" y1="757.9" x2="163.3" y2="757.9" stroke="#000" stroke-width="4"/>
<text x="141.8" y="768.7" text-anchor="end" class="rt">60</text>
<line x1="146.5" y1="680.0" x2="163.3" y2="680.0" stroke="#000" stroke-width="4"/>
<text x="141.8" y="690.8" text-anchor="end" class="rt">80</text>
<line x1="146.5" y1="602.1" x2="163.3" y2="602.1" stroke="#000" stroke-width="4"/>
<text x="141.8" y="612.9" text-anchor="end" class="rt">100</text>
<line x1="163.3" y1="991.6" x2="163.3" y2="1007.6" stroke="#000" stroke-width="4"/>
<text x="163.3" y="1042.6" text-anchor="middle" class="rt">0</text>
<line x1="241.0" y1="991.6" x2="241.0" y2="1007.6" stroke="#000" stroke-width="4"/>
<text x="241.0" y="1042.6" text-anchor="middle" class="rt">20</text>
<line x1="318.8" y1="991.6" x2="318.8" y2="1007.6" stroke="#000" stroke-width="4"/>
<text x="318.8" y="1042.6" text-anchor="middle" class="rt">40</text>
<line x1="396.5" y1="991.6" x2="396.5" y2="1007.6" stroke="#000" stroke-width="4"/>
<text x="396.5" y="1042.6" text-anchor="middle" class="rt">60</text>
<line x1="474.3" y1="991.6" x2="474.3" y2="1007.6" stroke="#000" stroke-width="4"/>
<text x="474.3" y="1042.6" text-anchor="middle" class="rt">80</text>
<line x1="552.0" y1="991.6" x2="552.0" y2="1007.6" stroke="#000" stroke-width="4"/>
<text x="552.0" y="1042.6" text-anchor="middle" class="rt">100</text>
<rect x="163.3" y="602.1" width="388.7" height="389.5" fill="none" stroke="#000" stroke-width="4"/>
<polyline points="163.3,991.6 163.3,833.9 172.1,833.9 172.1,787.6 181.0,787.6 181.0,778.3 189.8,778.3 189.8,741.2 207.5,741.2 207.5,722.7 216.3,722.7 216.3,713.4 225.1,713.4 225.1,704.1 234.0,704.1 234.0,694.8 278.1,694.8 278.1,685.6 295.8,685.6 295.8,676.3 304.6,676.3 304.6,657.7 313.5,657.7 313.5,629.9 340.0,629.9 340.0,620.6 419.5,620.6 419.5,611.4 499.0,611.4 499.0,602.1 552.0,602.1" fill="none" stroke="#EA8426" stroke-width="3.7" stroke-linejoin="miter" stroke-linecap="butt"/>
<line x1="552.0" y1="600.1" x2="552.0" y2="993.6" stroke="#000" stroke-width="4"/>
<text x="358.3" y="551.2" text-anchor="middle" class="ttl">FC</text>
<text x="358.1" y="1089.8" text-anchor="middle" class="rl xl">100% - Specificity%</text>
<text transform="translate(75.9,796.6) rotate(-90) scale(1,1.06)" text-anchor="middle" class="rl yl">Sensitivity%</text>
<text x="320.3" y="929.0" class="auc">AUC = 0.87</text>
<text x="3.0" y="602.0" class="let">D</text>
<line x1="813.6" y1="991.6" x2="830.4" y2="991.6" stroke="#000" stroke-width="4"/>
<text x="808.9" y="1002.4" text-anchor="end" class="rt">0</text>
<line x1="813.6" y1="913.7" x2="830.4" y2="913.7" stroke="#000" stroke-width="4"/>
<text x="808.9" y="924.5" text-anchor="end" class="rt">20</text>
<line x1="813.6" y1="835.8" x2="830.4" y2="835.8" stroke="#000" stroke-width="4"/>
<text x="808.9" y="846.6" text-anchor="end" class="rt">40</text>
<line x1="813.6" y1="757.9" x2="830.4" y2="757.9" stroke="#000" stroke-width="4"/>
<text x="808.9" y="768.7" text-anchor="end" class="rt">60</text>
<line x1="813.6" y1="680.0" x2="830.4" y2="680.0" stroke="#000" stroke-width="4"/>
<text x="808.9" y="690.8" text-anchor="end" class="rt">80</text>
<line x1="813.6" y1="602.1" x2="830.4" y2="602.1" stroke="#000" stroke-width="4"/>
<text x="808.9" y="612.9" text-anchor="end" class="rt">100</text>
<line x1="830.4" y1="991.6" x2="830.4" y2="1007.6" stroke="#000" stroke-width="4"/>
<text x="830.4" y="1042.6" text-anchor="middle" class="rt">0</text>
<line x1="908.1" y1="991.6" x2="908.1" y2="1007.6" stroke="#000" stroke-width="4"/>
<text x="908.1" y="1042.6" text-anchor="middle" class="rt">20</text>
<line x1="985.9" y1="991.6" x2="985.9" y2="1007.6" stroke="#000" stroke-width="4"/>
<text x="985.9" y="1042.6" text-anchor="middle" class="rt">40</text>
<line x1="1063.6" y1="991.6" x2="1063.6" y2="1007.6" stroke="#000" stroke-width="4"/>
<text x="1063.6" y="1042.6" text-anchor="middle" class="rt">60</text>
<line x1="1141.4" y1="991.6" x2="1141.4" y2="1007.6" stroke="#000" stroke-width="4"/>
<text x="1141.4" y="1042.6" text-anchor="middle" class="rt">80</text>
<line x1="1219.1" y1="991.6" x2="1219.1" y2="1007.6" stroke="#000" stroke-width="4"/>
<text x="1219.1" y="1042.6" text-anchor="middle" class="rt">100</text>
<rect x="830.4" y="602.1" width="388.7" height="389.5" fill="none" stroke="#000" stroke-width="4"/>
<polyline points="830.4,991.6 830.4,917.4 843.4,917.4 843.4,889.6 869.3,889.6 869.3,880.3 882.2,880.3 882.2,815.4 895.2,815.4 895.2,778.3 908.1,778.3 908.1,685.6 921.1,685.6 921.1,676.3 972.9,676.3 972.9,629.9 1024.8,629.9 1024.8,620.6 1037.7,620.6 1037.7,611.4 1050.7,611.4 1050.7,602.1 1219.1,602.1" fill="none" stroke="#EA8426" stroke-width="3.7" stroke-linejoin="miter" stroke-linecap="butt"/>
<line x1="1219.1" y1="600.1" x2="1219.1" y2="993.6" stroke="#000" stroke-width="4"/>
<text x="1025.5" y="551.2" text-anchor="middle" class="ttl">gut microbiota</text>
<text x="1025.2" y="1089.8" text-anchor="middle" class="rl xl">100% - Specificity%</text>
<text transform="translate(743.0,796.6) rotate(-90) scale(1,1.06)" text-anchor="middle" class="rl yl">Sensitivity%</text>
<text x="987.4" y="929.0" class="auc">AUC = 0.82</text>
<text x="678.0" y="602.0" class="let">E</text>
<line x1="1476.8" y1="991.6" x2="1493.6" y2="991.6" stroke="#000" stroke-width="4"/>
<text x="1472.1" y="1002.4" text-anchor="end" class="rt">0</text>
<line x1="1476.8" y1="913.7" x2="1493.6" y2="913.7" stroke="#000" stroke-width="4"/>
<text x="1472.1" y="924.5" text-anchor="end" class="rt">20</text>
<line x1="1476.8" y1="835.8" x2="1493.6" y2="835.8" stroke="#000" stroke-width="4"/>
<text x="1472.1" y="846.6" text-anchor="end" class="rt">40</text>
<line x1="1476.8" y1="757.9" x2="1493.6" y2="757.9" stroke="#000" stroke-width="4"/>
<text x="1472.1" y="768.7" text-anchor="end" class="rt">60</text>
<line x1="1476.8" y1="680.0" x2="1493.6" y2="680.0" stroke="#000" stroke-width="4"/>
<text x="1472.1" y="690.8" text-anchor="end" class="rt">80</text>
<line x1="1476.8" y1="602.1" x2="1493.6" y2="602.1" stroke="#000" stroke-width="4"/>
<text x="1472.1" y="612.9" text-anchor="end" class="rt">100</text>
<line x1="1493.6" y1="991.6" x2="1493.6" y2="1007.6" stroke="#000" stroke-width="4"/>
<text x="1493.6" y="1042.6" text-anchor="middle" class="rt">0</text>
<line x1="1571.3" y1="991.6" x2="1571.3" y2="1007.6" stroke="#000" stroke-width="4"/>
<text x="1571.3" y="1042.6" text-anchor="middle" class="rt">20</text>
<line x1="1649.1" y1="991.6" x2="1649.1" y2="1007.6" stroke="#000" stroke-width="4"/>
<text x="1649.1" y="1042.6" text-anchor="middle" class="rt">40</text>
<line x1="1726.8" y1="991.6" x2="1726.8" y2="1007.6" stroke="#000" stroke-width="4"/>
<text x="1726.8" y="1042.6" text-anchor="middle" class="rt">60</text>
<line x1="1804.6" y1="991.6" x2="1804.6" y2="1007.6" stroke="#000" stroke-width="4"/>
<text x="1804.6" y="1042.6" text-anchor="middle" class="rt">80</text>
<line x1="1882.3" y1="991.6" x2="1882.3" y2="1007.6" stroke="#000" stroke-width="4"/>
<text x="1882.3" y="1042.6" text-anchor="middle" class="rt">100</text>
<rect x="1493.6" y="602.1" width="388.7" height="389.5" fill="none" stroke="#000" stroke-width="4"/>
<polyline points="1493.6,991.6 1493.6,871.0 1506.6,871.0 1506.6,778.3 1519.5,778.3 1519.5,769.0 1532.5,769.0 1532.5,704.1 1545.4,704.1 1545.4,685.6 1558.4,685.6 1558.4,639.2 1571.3,639.2 1571.3,629.9 1597.3,629.9 1597.3,620.6 1623.2,620.6 1623.2,611.4 1687.9,611.4 1687.9,602.1 1882.3,602.1" fill="none" stroke="#EA8426" stroke-width="3.7" stroke-linejoin="miter" stroke-linecap="butt"/>
<line x1="1882.3" y1="600.1" x2="1882.3" y2="993.6" stroke="#000" stroke-width="4"/>
<text x="1688.6" y="551.2" text-anchor="middle" class="ttl">FC + gut microbiota</text>
<text x="1688.4" y="1089.8" text-anchor="middle" class="rl xl">100% - Specificity%</text>
<text transform="translate(1406.2,796.6) rotate(-90) scale(1,1.06)" text-anchor="middle" class="rl yl">Sensitivity%</text>
<text x="1650.6" y="929.0" class="auc">AUC = 0.92</text>
<text x="1338.0" y="602.0" class="let">F</text>
</svg>
</body></html>
